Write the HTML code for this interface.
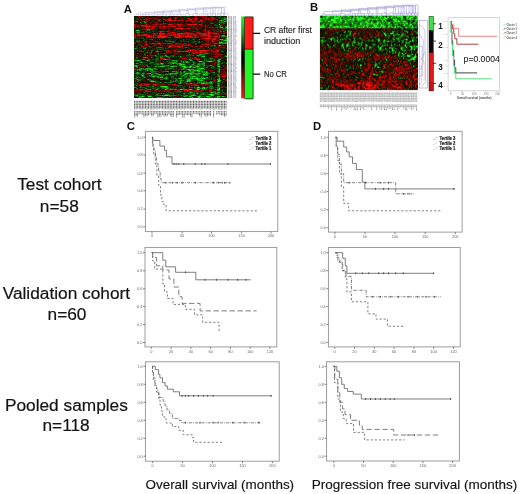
<!DOCTYPE html><html><head><meta charset="utf-8"><style>html,body{margin:0;padding:0;background:#fff}svg{display:block}text{font-family:"Liberation Sans",sans-serif}</style></head><body>
<svg width="520" height="494" viewBox="0 0 520 494" style="opacity:0.999">
<rect width="520" height="494" fill="#fff"/>
<text x="59.4" y="190.1" font-size="17.3" text-anchor="middle" fill="#141414" stroke="#141414" stroke-width="0.2">Test cohort</text>
<text x="59.3" y="211.6" font-size="17.3" text-anchor="middle" fill="#141414" stroke="#141414" stroke-width="0.2">n=58</text>
<text x="66.4" y="298.8" font-size="17.3" text-anchor="middle" fill="#141414" stroke="#141414" stroke-width="0.2">Validation cohort</text>
<text x="67.0" y="319.9" font-size="17.3" text-anchor="middle" fill="#141414" stroke="#141414" stroke-width="0.2">n=60</text>
<text x="66.4" y="410.9" font-size="17.3" text-anchor="middle" fill="#141414" stroke="#141414" stroke-width="0.2">Pooled samples</text>
<text x="66.1" y="431.2" font-size="17.3" text-anchor="middle" fill="#141414" stroke="#141414" stroke-width="0.2">n=118</text>
<text x="123.7" y="13.3" font-size="11.3" font-weight="bold" fill="#111">A</text>
<text x="310.0" y="11.2" font-size="11.3" font-weight="bold" fill="#111">B</text>
<text x="126.8" y="129.5" font-size="11.3" font-weight="bold" fill="#111">C</text>
<text x="313.1" y="129.7" font-size="11.3" font-weight="bold" fill="#111">D</text>
<text x="145.5" y="488.9" font-size="13.45" fill="#141414" stroke="#141414" stroke-width="0.15">Overall survival (months)</text>
<text x="311.8" y="489.0" font-size="13.5" fill="#141414" stroke="#141414" stroke-width="0.15">Progression free survival (months)</text>
<rect x="145.4" y="131.3" width="132.4" height="100.3" fill="#fff" stroke="#929292" stroke-width="0.9"/>
<path d="M145.4 137.2h-2" stroke="#555" stroke-width="0.7"/>
<text x="142.8" y="138.5" font-size="3.9" text-anchor="end" fill="#686868">1.0</text>
<path d="M145.4 154.9h-2" stroke="#555" stroke-width="0.7"/>
<text x="142.8" y="156.2" font-size="3.9" text-anchor="end" fill="#686868">0.8</text>
<path d="M145.4 173.2h-2" stroke="#555" stroke-width="0.7"/>
<text x="142.8" y="174.5" font-size="3.9" text-anchor="end" fill="#686868">0.6</text>
<path d="M145.4 190.8h-2" stroke="#555" stroke-width="0.7"/>
<text x="142.8" y="192.1" font-size="3.9" text-anchor="end" fill="#686868">0.4</text>
<path d="M145.4 209.1h-2" stroke="#555" stroke-width="0.7"/>
<text x="142.8" y="210.4" font-size="3.9" text-anchor="end" fill="#686868">0.2</text>
<path d="M145.4 226.8h-2" stroke="#555" stroke-width="0.7"/>
<text x="142.8" y="228.1" font-size="3.9" text-anchor="end" fill="#686868">0.0</text>
<path d="M152.0 231.6v2" stroke="#555" stroke-width="0.7"/>
<text x="152.0" y="237.4" font-size="3.9" text-anchor="middle" fill="#686868">0</text>
<path d="M182.1 231.6v2" stroke="#555" stroke-width="0.7"/>
<text x="182.1" y="237.4" font-size="3.9" text-anchor="middle" fill="#686868">50</text>
<path d="M211.5 231.6v2" stroke="#555" stroke-width="0.7"/>
<text x="211.5" y="237.4" font-size="3.9" text-anchor="middle" fill="#686868">100</text>
<path d="M241.6 231.6v2" stroke="#555" stroke-width="0.7"/>
<text x="241.6" y="237.4" font-size="3.9" text-anchor="middle" fill="#686868">150</text>
<path d="M271.0 231.6v2" stroke="#555" stroke-width="0.7"/>
<text x="271.0" y="237.4" font-size="3.9" text-anchor="middle" fill="#686868">200</text>
<path d="M249.0 139.6h2l1.2 -2.2h1.6" fill="none" stroke="#999" stroke-width="0.45"/>
<text x="255.6" y="140.0" font-size="4.5" font-weight="bold" textLength="15.8" lengthAdjust="spacingAndGlyphs" fill="#1c1c1c" stroke="#1c1c1c" stroke-width="0.2">Tertile 3</text>
<path d="M249.0 144.7h2l1.2 -2.2h1.6" fill="none" stroke="#999" stroke-width="0.45" stroke-dasharray="1.2 0.6 0.5 0.6"/>
<text x="255.6" y="145.1" font-size="4.5" font-weight="bold" textLength="15.8" lengthAdjust="spacingAndGlyphs" fill="#1c1c1c" stroke="#1c1c1c" stroke-width="0.2">Tertile 2</text>
<path d="M249.0 149.8h2l1.2 -2.2h1.6" fill="none" stroke="#999" stroke-width="0.45" stroke-dasharray="0.9 0.7"/>
<text x="255.6" y="150.2" font-size="4.5" font-weight="bold" textLength="15.8" lengthAdjust="spacingAndGlyphs" fill="#1c1c1c" stroke="#1c1c1c" stroke-width="0.2">Tertile 1</text>
<path d="M152.0 137.2H152.7V140.5H159.9V146.1H164.5V150.3H166.4V156.8H172.0V164.0H271.0" fill="none" stroke="#5e5e5e" stroke-width="0.8"/>
<path d="M173.9 163.1v1.8" stroke="#3a3a3a" stroke-width="0.9"/>
<path d="M176.2 163.1v1.8" stroke="#3a3a3a" stroke-width="0.9"/>
<path d="M178.8 163.1v1.8" stroke="#3a3a3a" stroke-width="0.9"/>
<path d="M183.8 163.1v1.8" stroke="#3a3a3a" stroke-width="0.9"/>
<path d="M195.2 163.1v1.8" stroke="#3a3a3a" stroke-width="0.9"/>
<path d="M201.7 163.1v1.8" stroke="#3a3a3a" stroke-width="0.9"/>
<path d="M205.0 163.1v1.8" stroke="#3a3a3a" stroke-width="0.9"/>
<path d="M227.9 163.1v1.8" stroke="#3a3a3a" stroke-width="0.9"/>
<path d="M270.4 163.1v1.8" stroke="#3a3a3a" stroke-width="0.9"/>
<path d="M152.0 137.2H152.7V144.4H154.0V151.0H155.3V157.5H156.6V164.0H158.6V171.2H160.2V178.8H161.2V182.7H230.5" fill="none" stroke="#5e5e5e" stroke-width="0.8" stroke-dasharray="3 1.2 0.8 1.2"/>
<path d="M165.8 181.8v1.8" stroke="#3a3a3a" stroke-width="0.9"/>
<path d="M172.3 181.8v1.8" stroke="#3a3a3a" stroke-width="0.9"/>
<path d="M177.2 181.8v1.8" stroke="#3a3a3a" stroke-width="0.9"/>
<path d="M182.1 181.8v1.8" stroke="#3a3a3a" stroke-width="0.9"/>
<path d="M195.2 181.8v1.8" stroke="#3a3a3a" stroke-width="0.9"/>
<path d="M213.2 181.8v1.8" stroke="#3a3a3a" stroke-width="0.9"/>
<path d="M218.1 181.8v1.8" stroke="#3a3a3a" stroke-width="0.9"/>
<path d="M222.0 181.8v1.8" stroke="#3a3a3a" stroke-width="0.9"/>
<path d="M224.6 181.8v1.8" stroke="#3a3a3a" stroke-width="0.9"/>
<path d="M229.8 181.8v1.8" stroke="#3a3a3a" stroke-width="0.9"/>
<path d="M152.0 137.2H152.4V146.1H153.7V154.2H155.3V164.0H156.9V175.5H158.6V185.3H160.5V195.1H161.8V201.6H163.8V204.9H166.1V210.8H258.9" fill="none" stroke="#5e5e5e" stroke-width="0.8" stroke-dasharray="2.2 1.9"/>
<rect x="328.5" y="131.3" width="133.6" height="100.8" fill="#fff" stroke="#929292" stroke-width="0.9"/>
<path d="M328.5 137.2h-2" stroke="#555" stroke-width="0.7"/>
<text x="325.9" y="138.5" font-size="3.9" text-anchor="end" fill="#686868">1.0</text>
<path d="M328.5 155.3h-2" stroke="#555" stroke-width="0.7"/>
<text x="325.9" y="156.6" font-size="3.9" text-anchor="end" fill="#686868">0.8</text>
<path d="M328.5 173.4h-2" stroke="#555" stroke-width="0.7"/>
<text x="325.9" y="174.7" font-size="3.9" text-anchor="end" fill="#686868">0.6</text>
<path d="M328.5 191.6h-2" stroke="#555" stroke-width="0.7"/>
<text x="325.9" y="192.9" font-size="3.9" text-anchor="end" fill="#686868">0.4</text>
<path d="M328.5 209.7h-2" stroke="#555" stroke-width="0.7"/>
<text x="325.9" y="211.0" font-size="3.9" text-anchor="end" fill="#686868">0.2</text>
<path d="M328.5 227.8h-2" stroke="#555" stroke-width="0.7"/>
<text x="325.9" y="229.1" font-size="3.9" text-anchor="end" fill="#686868">0.0</text>
<path d="M334.9 232.1v2" stroke="#555" stroke-width="0.7"/>
<text x="334.9" y="237.9" font-size="3.9" text-anchor="middle" fill="#686868">0</text>
<path d="M365.0 232.1v2" stroke="#555" stroke-width="0.7"/>
<text x="365.0" y="237.9" font-size="3.9" text-anchor="middle" fill="#686868">50</text>
<path d="M395.1 232.1v2" stroke="#555" stroke-width="0.7"/>
<text x="395.1" y="237.9" font-size="3.9" text-anchor="middle" fill="#686868">100</text>
<path d="M425.2 232.1v2" stroke="#555" stroke-width="0.7"/>
<text x="425.2" y="237.9" font-size="3.9" text-anchor="middle" fill="#686868">150</text>
<path d="M455.3 232.1v2" stroke="#555" stroke-width="0.7"/>
<text x="455.3" y="237.9" font-size="3.9" text-anchor="middle" fill="#686868">200</text>
<path d="M433.0 139.6h2l1.2 -2.2h1.6" fill="none" stroke="#999" stroke-width="0.45"/>
<text x="439.6" y="140.0" font-size="4.5" font-weight="bold" textLength="15.8" lengthAdjust="spacingAndGlyphs" fill="#1c1c1c" stroke="#1c1c1c" stroke-width="0.2">Tertile 3</text>
<path d="M433.0 144.7h2l1.2 -2.2h1.6" fill="none" stroke="#999" stroke-width="0.45" stroke-dasharray="1.2 0.6 0.5 0.6"/>
<text x="439.6" y="145.1" font-size="4.5" font-weight="bold" textLength="15.8" lengthAdjust="spacingAndGlyphs" fill="#1c1c1c" stroke="#1c1c1c" stroke-width="0.2">Tertile 2</text>
<path d="M433.0 149.8h2l1.2 -2.2h1.6" fill="none" stroke="#999" stroke-width="0.45" stroke-dasharray="0.9 0.7"/>
<text x="439.6" y="150.2" font-size="4.5" font-weight="bold" textLength="15.8" lengthAdjust="spacingAndGlyphs" fill="#1c1c1c" stroke="#1c1c1c" stroke-width="0.2">Tertile 1</text>
<path d="M335.5 137.2H337.1V141.2H343.7V147.0H346.6V151.9H349.2V156.8H352.5V163.4H356.4V169.6H362.3V182.0H364.9V188.9H455.2" fill="none" stroke="#5e5e5e" stroke-width="0.8"/>
<path d="M375.4 188.0v1.8" stroke="#3a3a3a" stroke-width="0.9"/>
<path d="M383.6 188.0v1.8" stroke="#3a3a3a" stroke-width="0.9"/>
<path d="M388.5 188.0v1.8" stroke="#3a3a3a" stroke-width="0.9"/>
<path d="M453.8 188.0v1.8" stroke="#3a3a3a" stroke-width="0.9"/>
<path d="M335.5 137.2H336.2V146.1H337.5V154.2H339.4V164.0H341.4V173.8H343.7V182.7H395.7H395.7V193.8H414.6" fill="none" stroke="#5e5e5e" stroke-width="0.8" stroke-dasharray="3 1.2 0.8 1.2"/>
<path d="M349.2 181.8v1.8" stroke="#3a3a3a" stroke-width="0.9"/>
<path d="M365.6 181.8v1.8" stroke="#3a3a3a" stroke-width="0.9"/>
<path d="M380.3 181.8v1.8" stroke="#3a3a3a" stroke-width="0.9"/>
<path d="M388.5 181.8v1.8" stroke="#3a3a3a" stroke-width="0.9"/>
<path d="M403.2 192.9v1.8" stroke="#3a3a3a" stroke-width="0.9"/>
<path d="M408.1 192.9v1.8" stroke="#3a3a3a" stroke-width="0.9"/>
<path d="M335.5 137.2H336.2V147.7H337.8V160.8H339.4V173.8H341.4V186.9H343.7V196.7H343.7V203.3H348.6V210.8H442.4" fill="none" stroke="#5e5e5e" stroke-width="0.8" stroke-dasharray="2.2 1.9"/>
<rect x="145.0" y="247.4" width="131.8" height="99.5" fill="#fff" stroke="#929292" stroke-width="0.9"/>
<path d="M145.0 252.7h-2" stroke="#555" stroke-width="0.7"/>
<text x="142.4" y="254.0" font-size="3.9" text-anchor="end" fill="#686868">1.0</text>
<path d="M145.0 270.7h-2" stroke="#555" stroke-width="0.7"/>
<text x="142.4" y="272.0" font-size="3.9" text-anchor="end" fill="#686868">0.8</text>
<path d="M145.0 288.7h-2" stroke="#555" stroke-width="0.7"/>
<text x="142.4" y="290.0" font-size="3.9" text-anchor="end" fill="#686868">0.6</text>
<path d="M145.0 306.6h-2" stroke="#555" stroke-width="0.7"/>
<text x="142.4" y="307.9" font-size="3.9" text-anchor="end" fill="#686868">0.4</text>
<path d="M145.0 324.6h-2" stroke="#555" stroke-width="0.7"/>
<text x="142.4" y="325.9" font-size="3.9" text-anchor="end" fill="#686868">0.2</text>
<path d="M145.0 342.6h-2" stroke="#555" stroke-width="0.7"/>
<text x="142.4" y="343.9" font-size="3.9" text-anchor="end" fill="#686868">0.0</text>
<path d="M151.3 346.9v2" stroke="#555" stroke-width="0.7"/>
<text x="151.3" y="352.7" font-size="3.9" text-anchor="middle" fill="#686868">0</text>
<path d="M171.1 346.9v2" stroke="#555" stroke-width="0.7"/>
<text x="171.1" y="352.7" font-size="3.9" text-anchor="middle" fill="#686868">20</text>
<path d="M190.9 346.9v2" stroke="#555" stroke-width="0.7"/>
<text x="190.9" y="352.7" font-size="3.9" text-anchor="middle" fill="#686868">40</text>
<path d="M210.7 346.9v2" stroke="#555" stroke-width="0.7"/>
<text x="210.7" y="352.7" font-size="3.9" text-anchor="middle" fill="#686868">60</text>
<path d="M230.4 346.9v2" stroke="#555" stroke-width="0.7"/>
<text x="230.4" y="352.7" font-size="3.9" text-anchor="middle" fill="#686868">80</text>
<path d="M250.2 346.9v2" stroke="#555" stroke-width="0.7"/>
<text x="250.2" y="352.7" font-size="3.9" text-anchor="middle" fill="#686868">100</text>
<path d="M270.0 346.9v2" stroke="#555" stroke-width="0.7"/>
<text x="270.0" y="352.7" font-size="3.9" text-anchor="middle" fill="#686868">120</text>
<path d="M151.7 252.7H162.8V260.2H165.8V266.8H175.6V272.3H195.8V279.8H250.8" fill="none" stroke="#5e5e5e" stroke-width="0.8"/>
<path d="M185.4 271.4v1.8" stroke="#3a3a3a" stroke-width="0.9"/>
<path d="M205.0 278.9v1.8" stroke="#3a3a3a" stroke-width="0.9"/>
<path d="M216.4 278.9v1.8" stroke="#3a3a3a" stroke-width="0.9"/>
<path d="M227.9 278.9v1.8" stroke="#3a3a3a" stroke-width="0.9"/>
<path d="M237.7 278.9v1.8" stroke="#3a3a3a" stroke-width="0.9"/>
<path d="M245.9 278.9v1.8" stroke="#3a3a3a" stroke-width="0.9"/>
<path d="M151.7 252.7H152.7V257.6H156.6V265.8H162.8V270.0H169.0V278.9H173.9V287.0H178.8V296.8H182.1V303.4H200.1V310.9H256.7" fill="none" stroke="#5e5e5e" stroke-width="0.8" stroke-dasharray="5.5 2.5"/>
<path d="M151.7 252.7H152.7V260.9H154.7V269.1H162.8V283.8H164.5V291.9H167.4V298.5H173.0V304.4H185.4V309.3H194.5V314.8H202.7V322.3H218.1H219.1V332.8" fill="none" stroke="#5e5e5e" stroke-width="0.8" stroke-dasharray="2.2 1.9"/>
<rect x="328.4" y="247.5" width="131.8" height="99.4" fill="#fff" stroke="#929292" stroke-width="0.9"/>
<path d="M328.4 252.7h-2" stroke="#555" stroke-width="0.7"/>
<text x="325.8" y="254.0" font-size="3.9" text-anchor="end" fill="#686868">1.0</text>
<path d="M328.4 270.7h-2" stroke="#555" stroke-width="0.7"/>
<text x="325.8" y="272.0" font-size="3.9" text-anchor="end" fill="#686868">0.8</text>
<path d="M328.4 288.7h-2" stroke="#555" stroke-width="0.7"/>
<text x="325.8" y="290.0" font-size="3.9" text-anchor="end" fill="#686868">0.6</text>
<path d="M328.4 306.6h-2" stroke="#555" stroke-width="0.7"/>
<text x="325.8" y="307.9" font-size="3.9" text-anchor="end" fill="#686868">0.4</text>
<path d="M328.4 324.6h-2" stroke="#555" stroke-width="0.7"/>
<text x="325.8" y="325.9" font-size="3.9" text-anchor="end" fill="#686868">0.2</text>
<path d="M328.4 342.6h-2" stroke="#555" stroke-width="0.7"/>
<text x="325.8" y="343.9" font-size="3.9" text-anchor="end" fill="#686868">0.0</text>
<path d="M334.7 346.9v2" stroke="#555" stroke-width="0.7"/>
<text x="334.7" y="352.7" font-size="3.9" text-anchor="middle" fill="#686868">0</text>
<path d="M354.5 346.9v2" stroke="#555" stroke-width="0.7"/>
<text x="354.5" y="352.7" font-size="3.9" text-anchor="middle" fill="#686868">20</text>
<path d="M374.3 346.9v2" stroke="#555" stroke-width="0.7"/>
<text x="374.3" y="352.7" font-size="3.9" text-anchor="middle" fill="#686868">40</text>
<path d="M394.1 346.9v2" stroke="#555" stroke-width="0.7"/>
<text x="394.1" y="352.7" font-size="3.9" text-anchor="middle" fill="#686868">60</text>
<path d="M413.9 346.9v2" stroke="#555" stroke-width="0.7"/>
<text x="413.9" y="352.7" font-size="3.9" text-anchor="middle" fill="#686868">80</text>
<path d="M433.7 346.9v2" stroke="#555" stroke-width="0.7"/>
<text x="433.7" y="352.7" font-size="3.9" text-anchor="middle" fill="#686868">100</text>
<path d="M453.5 346.9v2" stroke="#555" stroke-width="0.7"/>
<text x="453.5" y="352.7" font-size="3.9" text-anchor="middle" fill="#686868">120</text>
<path d="M335.2 252.7H342.7V258.3H345.3V265.8H346.9V273.3H434.2" fill="none" stroke="#5e5e5e" stroke-width="0.8"/>
<path d="M355.8 272.4v1.8" stroke="#3a3a3a" stroke-width="0.9"/>
<path d="M362.3 272.4v1.8" stroke="#3a3a3a" stroke-width="0.9"/>
<path d="M368.8 272.4v1.8" stroke="#3a3a3a" stroke-width="0.9"/>
<path d="M378.7 272.4v1.8" stroke="#3a3a3a" stroke-width="0.9"/>
<path d="M383.6 272.4v1.8" stroke="#3a3a3a" stroke-width="0.9"/>
<path d="M388.5 272.4v1.8" stroke="#3a3a3a" stroke-width="0.9"/>
<path d="M395.7 272.4v1.8" stroke="#3a3a3a" stroke-width="0.9"/>
<path d="M403.2 272.4v1.8" stroke="#3a3a3a" stroke-width="0.9"/>
<path d="M433.6 272.4v1.8" stroke="#3a3a3a" stroke-width="0.9"/>
<path d="M335.2 252.7H336.8V257.6H339.4V262.5H342.7V270.7H346.0V276.6H351.5V290.3H366.2V296.8H440.8" fill="none" stroke="#5e5e5e" stroke-width="0.8" stroke-dasharray="3 1.2 0.8 1.2"/>
<path d="M372.1 295.9v1.8" stroke="#3a3a3a" stroke-width="0.9"/>
<path d="M380.3 295.9v1.8" stroke="#3a3a3a" stroke-width="0.9"/>
<path d="M390.1 295.9v1.8" stroke="#3a3a3a" stroke-width="0.9"/>
<path d="M398.3 295.9v1.8" stroke="#3a3a3a" stroke-width="0.9"/>
<path d="M408.1 295.9v1.8" stroke="#3a3a3a" stroke-width="0.9"/>
<path d="M417.9 295.9v1.8" stroke="#3a3a3a" stroke-width="0.9"/>
<path d="M426.1 295.9v1.8" stroke="#3a3a3a" stroke-width="0.9"/>
<path d="M434.2 295.9v1.8" stroke="#3a3a3a" stroke-width="0.9"/>
<path d="M335.2 252.7H337.8V260.9H342.0V270.7H345.3V278.9H346.9V291.9H351.5V301.8H367.9V313.8H376.0V319.1H387.5V326.3H404.8" fill="none" stroke="#5e5e5e" stroke-width="0.8" stroke-dasharray="2.2 1.9"/>
<rect x="145.4" y="361.8" width="133.8" height="99.4" fill="#fff" stroke="#929292" stroke-width="0.9"/>
<path d="M145.4 366.3h-2" stroke="#555" stroke-width="0.7"/>
<text x="142.8" y="367.6" font-size="3.9" text-anchor="end" fill="#686868">1.0</text>
<path d="M145.4 384.3h-2" stroke="#555" stroke-width="0.7"/>
<text x="142.8" y="385.6" font-size="3.9" text-anchor="end" fill="#686868">0.8</text>
<path d="M145.4 402.3h-2" stroke="#555" stroke-width="0.7"/>
<text x="142.8" y="403.6" font-size="3.9" text-anchor="end" fill="#686868">0.6</text>
<path d="M145.4 420.3h-2" stroke="#555" stroke-width="0.7"/>
<text x="142.8" y="421.6" font-size="3.9" text-anchor="end" fill="#686868">0.4</text>
<path d="M145.4 438.3h-2" stroke="#555" stroke-width="0.7"/>
<text x="142.8" y="439.6" font-size="3.9" text-anchor="end" fill="#686868">0.2</text>
<path d="M145.4 456.2h-2" stroke="#555" stroke-width="0.7"/>
<text x="142.8" y="457.5" font-size="3.9" text-anchor="end" fill="#686868">0.0</text>
<path d="M152.6 461.2v2" stroke="#555" stroke-width="0.7"/>
<text x="152.6" y="467.0" font-size="3.9" text-anchor="middle" fill="#686868">0</text>
<path d="M182.6 461.2v2" stroke="#555" stroke-width="0.7"/>
<text x="182.6" y="467.0" font-size="3.9" text-anchor="middle" fill="#686868">50</text>
<path d="M212.5 461.2v2" stroke="#555" stroke-width="0.7"/>
<text x="212.5" y="467.0" font-size="3.9" text-anchor="middle" fill="#686868">100</text>
<path d="M242.5 461.2v2" stroke="#555" stroke-width="0.7"/>
<text x="242.5" y="467.0" font-size="3.9" text-anchor="middle" fill="#686868">150</text>
<path d="M272.4 461.2v2" stroke="#555" stroke-width="0.7"/>
<text x="272.4" y="467.0" font-size="3.9" text-anchor="middle" fill="#686868">200</text>
<path d="M152.0 366.3H155.3V369.6H158.6V374.5H159.9V377.8H162.5V382.7H165.1V386.0H167.4V389.2H173.3V391.8H179.5V395.8H272.0" fill="none" stroke="#5e5e5e" stroke-width="0.8"/>
<path d="M182.1 394.9v1.8" stroke="#3a3a3a" stroke-width="0.9"/>
<path d="M185.4 394.9v1.8" stroke="#3a3a3a" stroke-width="0.9"/>
<path d="M188.7 394.9v1.8" stroke="#3a3a3a" stroke-width="0.9"/>
<path d="M193.6 394.9v1.8" stroke="#3a3a3a" stroke-width="0.9"/>
<path d="M198.5 394.9v1.8" stroke="#3a3a3a" stroke-width="0.9"/>
<path d="M203.4 394.9v1.8" stroke="#3a3a3a" stroke-width="0.9"/>
<path d="M207.6 394.9v1.8" stroke="#3a3a3a" stroke-width="0.9"/>
<path d="M213.2 394.9v1.8" stroke="#3a3a3a" stroke-width="0.9"/>
<path d="M271.0 394.9v1.8" stroke="#3a3a3a" stroke-width="0.9"/>
<path d="M152.3 366.4H152.6V372.0H153.5V378.0H155.0V384.0H156.5V389.0H158.0V393.0H159.6V397.5H163.2V401.0H165.0V406.0H167.0V410.0H169.6V413.5H172.4V418.4H178.8V420.5H181.5V422.8H260.0" fill="none" stroke="#5e5e5e" stroke-width="0.8" stroke-dasharray="3 1.2 0.8 1.2"/>
<path d="M185.4 421.7v1.8" stroke="#3a3a3a" stroke-width="0.9"/>
<path d="M200.1 421.7v1.8" stroke="#3a3a3a" stroke-width="0.9"/>
<path d="M213.2 421.7v1.8" stroke="#3a3a3a" stroke-width="0.9"/>
<path d="M218.1 421.7v1.8" stroke="#3a3a3a" stroke-width="0.9"/>
<path d="M232.8 421.7v1.8" stroke="#3a3a3a" stroke-width="0.9"/>
<path d="M244.2 421.7v1.8" stroke="#3a3a3a" stroke-width="0.9"/>
<path d="M258.9 421.7v1.8" stroke="#3a3a3a" stroke-width="0.9"/>
<path d="M152.3 366.4H152.5V374.0H153.3V380.0H154.8V386.0H156.5V392.0H158.5V398.0H160.0V405.0H161.5V411.0H162.6V417.0H166.0V423.0H172.4V426.6H178.8V430.3H183.3V434.8H192.4V437.5H193.6V442.3H223.0" fill="none" stroke="#5e5e5e" stroke-width="0.8" stroke-dasharray="2.2 1.9"/>
<rect x="326.6" y="361.8" width="132.8" height="99.2" fill="#fff" stroke="#929292" stroke-width="0.9"/>
<path d="M326.6 366.3h-2" stroke="#555" stroke-width="0.7"/>
<text x="324.0" y="367.6" font-size="3.9" text-anchor="end" fill="#686868">1.0</text>
<path d="M326.6 384.3h-2" stroke="#555" stroke-width="0.7"/>
<text x="324.0" y="385.6" font-size="3.9" text-anchor="end" fill="#686868">0.8</text>
<path d="M326.6 402.3h-2" stroke="#555" stroke-width="0.7"/>
<text x="324.0" y="403.6" font-size="3.9" text-anchor="end" fill="#686868">0.6</text>
<path d="M326.6 420.3h-2" stroke="#555" stroke-width="0.7"/>
<text x="324.0" y="421.6" font-size="3.9" text-anchor="end" fill="#686868">0.4</text>
<path d="M326.6 438.3h-2" stroke="#555" stroke-width="0.7"/>
<text x="324.0" y="439.6" font-size="3.9" text-anchor="end" fill="#686868">0.2</text>
<path d="M326.6 456.2h-2" stroke="#555" stroke-width="0.7"/>
<text x="324.0" y="457.5" font-size="3.9" text-anchor="end" fill="#686868">0.0</text>
<path d="M333.8 461.0v2" stroke="#555" stroke-width="0.7"/>
<text x="333.8" y="466.8" font-size="3.9" text-anchor="middle" fill="#686868">0</text>
<path d="M363.5 461.0v2" stroke="#555" stroke-width="0.7"/>
<text x="363.5" y="466.8" font-size="3.9" text-anchor="middle" fill="#686868">50</text>
<path d="M393.2 461.0v2" stroke="#555" stroke-width="0.7"/>
<text x="393.2" y="466.8" font-size="3.9" text-anchor="middle" fill="#686868">100</text>
<path d="M422.9 461.0v2" stroke="#555" stroke-width="0.7"/>
<text x="422.9" y="466.8" font-size="3.9" text-anchor="middle" fill="#686868">150</text>
<path d="M452.6 461.0v2" stroke="#555" stroke-width="0.7"/>
<text x="452.6" y="466.8" font-size="3.9" text-anchor="middle" fill="#686868">200</text>
<path d="M333.5 366.3H336.8V371.2H339.4V377.8H341.7V384.3H344.3V388.6H347.6V391.5H353.2V394.1H361.3V399.0H451.2" fill="none" stroke="#5e5e5e" stroke-width="0.8"/>
<path d="M365.6 398.1v1.8" stroke="#3a3a3a" stroke-width="0.9"/>
<path d="M370.5 398.1v1.8" stroke="#3a3a3a" stroke-width="0.9"/>
<path d="M375.4 398.1v1.8" stroke="#3a3a3a" stroke-width="0.9"/>
<path d="M380.3 398.1v1.8" stroke="#3a3a3a" stroke-width="0.9"/>
<path d="M385.2 398.1v1.8" stroke="#3a3a3a" stroke-width="0.9"/>
<path d="M390.1 398.1v1.8" stroke="#3a3a3a" stroke-width="0.9"/>
<path d="M394.3 398.1v1.8" stroke="#3a3a3a" stroke-width="0.9"/>
<path d="M450.6 398.1v1.8" stroke="#3a3a3a" stroke-width="0.9"/>
<path d="M333.5 366.3H334.8V379.4H337.8V392.5H339.8V402.3H342.4V408.8H345.0V414.7H350.5V420.3H359.4V425.2H362.3V429.4H393.7V435.0H439.1" fill="none" stroke="#5e5e5e" stroke-width="0.8" stroke-dasharray="5.5 2.5"/>
<path d="M408.1 434.1v1.8" stroke="#3a3a3a" stroke-width="0.9"/>
<path d="M414.6 434.1v1.8" stroke="#3a3a3a" stroke-width="0.9"/>
<path d="M333.5 366.3H334.5V382.7H337.8V399.0H340.4V412.1H343.3V418.7H346.3V423.6H353.5V432.4H364.6V439.9H404.8" fill="none" stroke="#5e5e5e" stroke-width="0.8" stroke-dasharray="2.2 1.9"/>
<defs><filter id="bl" x="-2%" y="-2%" width="104%" height="104%"><feGaussianBlur stdDeviation="0.5"/></filter><linearGradient id="gA" x1="0" y1="0" x2="0" y2="1"><stop offset="0" stop-color="#2cec2c"/><stop offset="0.2" stop-color="#1e9a1a"/><stop offset="0.46" stop-color="#0a0a05"/><stop offset="0.56" stop-color="#0a0505"/><stop offset="0.8" stop-color="#9a1010"/><stop offset="1" stop-color="#f81818"/></linearGradient><clipPath id="cA"><rect x="134" y="16" width="93" height="82"/></clipPath><clipPath id="cB"><rect x="319.8" y="15.6" width="98.2" height="74.6"/></clipPath></defs>
<g filter="url(#bl)" clip-path="url(#cA)"><rect x="134.0" y="16.0" width="93.0" height="82.0" fill="#140a04"/>
<path d="M134.00 16.50h1.00M154.00 16.50h1.00M175.00 16.50h1.00M192.00 16.50h1.00M209.00 16.50h1.00M215.00 16.50h1.00M145.00 17.50h1.00M164.00 17.50h1.00M187.00 17.50h1.00M191.00 17.50h1.00M193.00 17.50h1.00M206.00 17.50h1.00M209.00 17.50h1.00M139.00 18.50h1.00M142.00 18.50h1.00M144.00 18.50h1.00M157.00 18.50h2.00M160.00 18.50h2.00M172.00 18.50h1.00M200.00 18.50h1.00M217.00 18.50h1.00M134.00 19.50h1.00M141.00 19.50h1.00M151.00 19.50h1.00M186.00 19.50h1.00M199.00 19.50h1.00M135.00 20.50h1.00M143.00 20.50h1.00M149.00 20.50h1.00M154.00 20.50h1.00M156.00 20.50h1.00M139.00 21.50h1.00M142.00 21.50h1.00M145.00 21.50h1.00M153.00 21.50h1.00M156.00 21.50h1.00M167.00 21.50h1.00M169.00 21.50h2.00M173.00 21.50h1.00M186.00 21.50h1.00M206.00 21.50h1.00M164.00 22.50h3.00M168.00 22.50h1.00M176.00 22.50h1.00M190.00 22.50h2.00M200.00 22.50h1.00M135.00 23.50h2.00M139.00 23.50h1.00M149.00 23.50h1.00M172.00 23.50h1.00M179.00 23.50h1.00M185.00 23.50h1.00M188.00 23.50h1.00M191.00 23.50h1.00M199.00 23.50h1.00M208.00 23.50h1.00M150.00 24.50h1.00M166.00 24.50h1.00M213.00 24.50h1.00M162.00 25.50h1.00M165.00 25.50h2.00M171.00 25.50h2.00M181.00 25.50h1.00M203.00 25.50h1.00M140.00 26.50h1.00M157.00 26.50h1.00M185.00 26.50h1.00M187.00 26.50h1.00M195.00 26.50h1.00M197.00 26.50h1.00M199.00 26.50h1.00M215.00 26.50h1.00M224.00 26.50h1.00M154.00 27.50h1.00M169.00 27.50h1.00M182.00 27.50h1.00M201.00 27.50h1.00M206.00 27.50h1.00M137.00 28.50h2.00M158.00 28.50h1.00M203.00 28.50h1.00M207.00 28.50h1.00M209.00 28.50h1.00M134.00 29.50h1.00M137.00 29.50h1.00M153.00 29.50h1.00M161.00 29.50h1.00M180.00 29.50h1.00M191.00 29.50h1.00M208.00 29.50h1.00M210.00 29.50h1.00M158.00 30.50h1.00M164.00 30.50h1.00M179.00 30.50h1.00M187.00 30.50h2.00M212.00 30.50h1.00M142.00 31.50h1.00M181.00 31.50h1.00M187.00 31.50h2.00M200.00 31.50h1.00M210.00 31.50h1.00M152.00 32.50h1.00M194.00 32.50h1.00M202.00 32.50h2.00M222.00 32.50h1.00M148.00 33.50h1.00M197.00 33.50h1.00M219.00 33.50h1.00M226.00 33.50h1.00M221.00 34.50h1.00M224.00 34.50h2.00M215.00 35.50h1.00M139.00 36.50h1.00M144.00 36.50h1.00M173.00 37.50h1.00M203.00 37.50h1.00M209.00 37.50h1.00M220.00 37.50h1.00M224.00 37.50h1.00M154.00 38.50h1.00M174.00 38.50h1.00M182.00 38.50h1.00M187.00 38.50h1.00M198.00 38.50h1.00M224.00 38.50h1.00M140.00 39.50h2.00M162.00 39.50h1.00M166.00 39.50h1.00M178.00 39.50h2.00M185.00 39.50h1.00M190.00 39.50h1.00M196.00 39.50h1.00M202.00 39.50h1.00M204.00 39.50h1.00M142.00 40.50h1.00M147.00 40.50h3.00M176.00 40.50h2.00M187.00 40.50h2.00M196.00 40.50h1.00M200.00 40.50h1.00M220.00 40.50h1.00M153.00 41.50h1.00M160.00 41.50h2.00M176.00 41.50h1.00M178.00 41.50h1.00M190.00 41.50h1.00M192.00 41.50h1.00M134.00 42.50h1.00M136.00 42.50h1.00M148.00 42.50h1.00M154.00 42.50h3.00M169.00 42.50h2.00M176.00 42.50h1.00M204.00 42.50h1.00M217.00 42.50h1.00M137.00 43.50h1.00M140.00 43.50h1.00M173.00 43.50h1.00M187.00 43.50h1.00M200.00 43.50h1.00M204.00 43.50h1.00M136.00 44.50h1.00M168.00 44.50h1.00M184.00 44.50h1.00M192.00 44.50h1.00M194.00 44.50h1.00M197.00 44.50h2.00M218.00 44.50h1.00M226.00 44.50h1.00M135.00 45.50h1.00M137.00 45.50h1.00M151.00 45.50h1.00M180.00 45.50h1.00M217.00 45.50h1.00M156.00 46.50h2.00M161.00 46.50h1.00M163.00 46.50h1.00M187.00 46.50h1.00M189.00 46.50h1.00M135.00 47.50h1.00M147.00 47.50h1.00M153.00 47.50h1.00M172.00 47.50h1.00M174.00 47.50h1.00M190.00 47.50h2.00M193.00 47.50h2.00M197.00 47.50h1.00M202.00 47.50h1.00M210.00 47.50h4.00M138.00 48.50h1.00M141.00 48.50h1.00M147.00 48.50h1.00M151.00 48.50h1.00M186.00 48.50h1.00M191.00 48.50h1.00M193.00 48.50h1.00M212.00 48.50h1.00M134.00 49.50h1.00M136.00 49.50h1.00M145.00 49.50h1.00M149.00 49.50h2.00M157.00 49.50h1.00M164.00 49.50h2.00M169.00 49.50h1.00M172.00 49.50h1.00M195.00 49.50h1.00M138.00 50.50h1.00M142.00 50.50h1.00M159.00 50.50h1.00M182.00 50.50h2.00M220.00 50.50h1.00M226.00 50.50h1.00M144.00 51.50h2.00M148.00 51.50h1.00M153.00 51.50h1.00M162.00 51.50h2.00M192.00 51.50h2.00M209.00 51.50h2.00M135.00 52.50h2.00M152.00 52.50h2.00M158.00 52.50h1.00M161.00 52.50h2.00M165.00 52.50h1.00M183.00 52.50h2.00M219.00 52.50h2.00M225.00 52.50h1.00M141.00 53.50h2.00M154.00 53.50h1.00M171.00 53.50h2.00M181.00 53.50h1.00M183.00 53.50h2.00M187.00 53.50h2.00M210.00 53.50h1.00M213.00 53.50h1.00M215.00 53.50h1.00M220.00 53.50h1.00M222.00 53.50h1.00M140.00 54.50h1.00M142.00 54.50h1.00M146.00 54.50h2.00M153.00 54.50h1.00M167.00 54.50h1.00M169.00 54.50h1.00M171.00 54.50h1.00M182.00 54.50h1.00M192.00 54.50h1.00M210.00 54.50h1.00M138.00 55.50h1.00M140.00 55.50h1.00M143.00 55.50h1.00M168.00 55.50h1.00M181.00 55.50h1.00M185.00 55.50h1.00M194.00 55.50h1.00M206.00 55.50h1.00M208.00 55.50h1.00M211.00 55.50h2.00M205.00 56.50h1.00M140.00 57.50h2.00M148.00 57.50h1.00M154.00 57.50h1.00M172.00 57.50h1.00M175.00 57.50h1.00M197.00 57.50h1.00M207.00 57.50h1.00M220.00 57.50h1.00M226.00 57.50h1.00M139.00 58.50h1.00M150.00 58.50h1.00M159.00 58.50h1.00M173.00 58.50h1.00M177.00 58.50h1.00M205.00 58.50h1.00M171.00 59.50h1.00M177.00 59.50h1.00M181.00 59.50h1.00M216.00 59.50h1.00M224.00 59.50h1.00M144.00 60.50h1.00M153.00 60.50h1.00M163.00 60.50h3.00M188.00 60.50h1.00M193.00 60.50h1.00M224.00 60.50h1.00M144.00 61.50h1.00M149.00 61.50h1.00M162.00 61.50h1.00M179.00 61.50h1.00M190.00 61.50h1.00M194.00 61.50h1.00M216.00 61.50h1.00M167.00 62.50h1.00M177.00 62.50h1.00M180.00 62.50h1.00M140.00 63.50h1.00M185.00 63.50h1.00M209.00 63.50h1.00M216.00 63.50h1.00M135.00 64.50h1.00M143.00 64.50h1.00M148.00 64.50h2.00M167.00 64.50h1.00M223.00 64.50h1.00M158.00 65.50h1.00M171.00 65.50h1.00M186.00 65.50h2.00M202.00 65.50h1.00M216.00 65.50h1.00M194.00 66.50h1.00M221.00 66.50h2.00M144.00 67.50h1.00M153.00 67.50h1.00M156.00 67.50h1.00M158.00 67.50h2.00M161.00 67.50h2.00M164.00 67.50h3.00M170.00 67.50h1.00M177.00 67.50h1.00M210.00 67.50h1.00M157.00 68.50h1.00M178.00 68.50h1.00M191.00 68.50h1.00M220.00 68.50h1.00M223.00 68.50h1.00M158.00 69.50h1.00M212.00 69.50h1.00M225.00 69.50h1.00M156.00 70.50h1.00M172.00 70.50h2.00M183.00 70.50h1.00M203.00 70.50h1.00M207.00 70.50h1.00M220.00 70.50h1.00M137.00 71.50h1.00M140.00 71.50h1.00M169.00 71.50h1.00M182.00 71.50h1.00M208.00 71.50h2.00M211.00 71.50h1.00M216.00 71.50h1.00M222.00 71.50h1.00M149.00 72.50h1.00M157.00 72.50h1.00M166.00 72.50h2.00M170.00 72.50h2.00M196.00 72.50h1.00M159.00 73.50h1.00M167.00 73.50h1.00M179.00 73.50h1.00M214.00 73.50h1.00M221.00 73.50h1.00M178.00 74.50h1.00M210.00 74.50h1.00M136.00 75.50h1.00M140.00 75.50h1.00M144.00 75.50h2.00M148.00 75.50h1.00M157.00 75.50h1.00M170.00 75.50h2.00M211.00 75.50h1.00M214.00 75.50h3.00M224.00 75.50h1.00M140.00 76.50h1.00M145.00 76.50h1.00M164.00 76.50h1.00M174.00 76.50h1.00M177.00 76.50h1.00M207.00 76.50h1.00M141.00 77.50h1.00M151.00 77.50h1.00M168.00 77.50h1.00M183.00 77.50h1.00M200.00 77.50h1.00M217.00 77.50h1.00M138.00 78.50h1.00M148.00 78.50h1.00M215.00 78.50h1.00M145.00 79.50h1.00M151.00 79.50h2.00M159.00 79.50h1.00M169.00 79.50h1.00M205.00 79.50h1.00M146.00 80.50h1.00M160.00 80.50h1.00M162.00 80.50h1.00M204.00 80.50h1.00M210.00 80.50h1.00M221.00 80.50h1.00M142.00 81.50h2.00M148.00 81.50h1.00M159.00 81.50h1.00M162.00 81.50h1.00M164.00 81.50h1.00M166.00 81.50h1.00M207.00 81.50h1.00M143.00 82.50h1.00M145.00 82.50h1.00M147.00 82.50h1.00M149.00 82.50h1.00M174.00 82.50h1.00M195.00 82.50h1.00M221.00 82.50h1.00M224.00 82.50h1.00M226.00 82.50h1.00M154.00 83.50h1.00M169.00 83.50h1.00M176.00 83.50h1.00M225.00 83.50h1.00M198.00 84.50h1.00M209.00 84.50h1.00M168.00 85.50h1.00M189.00 85.50h1.00M213.00 85.50h1.00M135.00 86.50h1.00M138.00 86.50h1.00M145.00 86.50h1.00M155.00 86.50h1.00M157.00 86.50h1.00M171.00 86.50h2.00M186.00 86.50h1.00M195.00 86.50h1.00M204.00 86.50h1.00M215.00 86.50h1.00M137.00 87.50h1.00M177.00 87.50h1.00M185.00 87.50h1.00M187.00 87.50h1.00M143.00 88.50h1.00M179.00 88.50h1.00M185.00 88.50h1.00M224.00 88.50h1.00M135.00 89.50h1.00M221.00 89.50h1.00M223.00 89.50h1.00M173.00 90.50h1.00M204.00 90.50h1.00M225.00 90.50h1.00M137.00 91.50h1.00M156.00 91.50h1.00M169.00 91.50h1.00M205.00 91.50h2.00M221.00 91.50h2.00M142.00 92.50h1.00M162.00 92.50h1.00M174.00 92.50h1.00M179.00 92.50h1.00M208.00 92.50h1.00M224.00 92.50h1.00M141.00 93.50h2.00M150.00 93.50h1.00M166.00 93.50h1.00M178.00 93.50h1.00M181.00 93.50h1.00M213.00 93.50h1.00M149.00 94.50h1.00M154.00 94.50h1.00M160.00 94.50h2.00M163.00 94.50h1.00M171.00 94.50h1.00M175.00 94.50h1.00M181.00 94.50h1.00M141.00 95.50h1.00M146.00 95.50h1.00M152.00 95.50h1.00M154.00 95.50h1.00M202.00 95.50h1.00M209.00 95.50h1.00M225.00 95.50h1.00M161.00 96.50h1.00M168.00 96.50h1.00M180.00 96.50h1.00M182.00 96.50h1.00M136.00 97.50h1.00M147.00 97.50h1.00M164.00 97.50h1.00M169.00 97.50h1.00M172.00 97.50h1.00M178.00 97.50h1.00M189.00 97.50h1.00M223.00 97.50h1.00" stroke="#0e0e04" stroke-width="1.05" fill="none"/>
<path d="M135.00 16.50h1.00M151.00 16.50h3.00M161.00 16.50h2.00M168.00 16.50h2.00M173.00 16.50h1.00M179.00 16.50h1.00M190.00 16.50h1.00M193.00 16.50h1.00M217.00 16.50h1.00M223.00 16.50h1.00M134.00 17.50h2.00M140.00 17.50h1.00M150.00 17.50h2.00M161.00 17.50h1.00M165.00 17.50h1.00M167.00 17.50h2.00M172.00 17.50h1.00M180.00 17.50h1.00M182.00 17.50h1.00M186.00 17.50h1.00M204.00 17.50h1.00M207.00 17.50h1.00M135.00 18.50h1.00M166.00 18.50h1.00M178.00 18.50h3.00M186.00 18.50h1.00M215.00 18.50h2.00M148.00 19.50h1.00M173.00 19.50h1.00M183.00 19.50h1.00M187.00 19.50h1.00M150.00 20.50h2.00M155.00 20.50h1.00M162.00 20.50h1.00M198.00 20.50h1.00M207.00 20.50h1.00M224.00 20.50h1.00M150.00 21.50h1.00M159.00 21.50h1.00M161.00 21.50h2.00M164.00 21.50h1.00M171.00 21.50h1.00M181.00 21.50h1.00M184.00 21.50h1.00M188.00 21.50h1.00M208.00 21.50h1.00M214.00 21.50h3.00M218.00 21.50h1.00M139.00 22.50h1.00M147.00 22.50h1.00M161.00 22.50h3.00M167.00 22.50h1.00M171.00 22.50h1.00M174.00 22.50h1.00M189.00 22.50h1.00M196.00 22.50h1.00M203.00 22.50h1.00M208.00 22.50h2.00M215.00 22.50h2.00M152.00 23.50h3.00M158.00 23.50h1.00M167.00 23.50h1.00M176.00 23.50h1.00M182.00 23.50h1.00M189.00 23.50h2.00M204.00 23.50h4.00M218.00 23.50h2.00M149.00 24.50h1.00M207.00 24.50h1.00M226.00 24.50h1.00M138.00 25.50h1.00M158.00 25.50h1.00M210.00 25.50h1.00M184.00 26.50h1.00M209.00 26.50h1.00M212.00 26.50h1.00M221.00 26.50h1.00M141.00 27.50h1.00M143.00 27.50h1.00M146.00 27.50h1.00M155.00 27.50h2.00M163.00 27.50h1.00M168.00 27.50h1.00M170.00 27.50h1.00M173.00 27.50h1.00M183.00 27.50h2.00M190.00 27.50h1.00M193.00 27.50h1.00M155.00 28.50h2.00M170.00 28.50h2.00M136.00 29.50h1.00M152.00 29.50h1.00M157.00 29.50h1.00M165.00 29.50h3.00M184.00 29.50h1.00M187.00 29.50h2.00M190.00 29.50h1.00M193.00 29.50h1.00M196.00 29.50h1.00M199.00 29.50h1.00M203.00 29.50h1.00M209.00 29.50h1.00M134.00 30.50h1.00M140.00 30.50h1.00M154.00 30.50h1.00M166.00 30.50h1.00M176.00 30.50h1.00M178.00 30.50h1.00M180.00 30.50h1.00M195.00 30.50h1.00M216.00 30.50h1.00M219.00 30.50h1.00M222.00 30.50h1.00M147.00 31.50h1.00M149.00 31.50h1.00M175.00 31.50h1.00M184.00 31.50h1.00M190.00 31.50h1.00M199.00 31.50h1.00M202.00 31.50h1.00M211.00 31.50h1.00M134.00 32.50h1.00M145.00 32.50h2.00M151.00 32.50h1.00M156.00 32.50h2.00M180.00 32.50h1.00M182.00 32.50h2.00M201.00 32.50h1.00M223.00 32.50h1.00M221.00 33.50h1.00M225.00 33.50h1.00M219.00 34.50h1.00M222.00 34.50h1.00M191.00 35.50h1.00M197.00 35.50h2.00M218.00 35.50h1.00M170.00 36.50h3.00M200.00 37.50h1.00M210.00 37.50h1.00M212.00 37.50h1.00M222.00 37.50h1.00M138.00 38.50h1.00M140.00 38.50h1.00M144.00 38.50h2.00M148.00 38.50h1.00M156.00 38.50h1.00M160.00 38.50h1.00M163.00 38.50h2.00M168.00 38.50h2.00M172.00 38.50h2.00M175.00 38.50h1.00M177.00 38.50h1.00M184.00 38.50h1.00M186.00 38.50h1.00M188.00 38.50h1.00M190.00 38.50h1.00M195.00 38.50h2.00M199.00 38.50h1.00M136.00 39.50h1.00M155.00 39.50h3.00M171.00 39.50h1.00M174.00 39.50h1.00M177.00 39.50h1.00M182.00 39.50h1.00M184.00 39.50h1.00M187.00 39.50h1.00M191.00 39.50h1.00M195.00 39.50h1.00M197.00 39.50h1.00M218.00 39.50h1.00M135.00 40.50h1.00M141.00 40.50h1.00M145.00 40.50h1.00M155.00 40.50h2.00M160.00 40.50h5.00M172.00 40.50h1.00M174.00 40.50h1.00M179.00 40.50h1.00M182.00 40.50h1.00M185.00 40.50h1.00M193.00 40.50h1.00M195.00 40.50h1.00M199.00 40.50h1.00M135.00 41.50h1.00M140.00 41.50h1.00M164.00 41.50h1.00M179.00 41.50h1.00M225.00 41.50h1.00M164.00 42.50h3.00M175.00 42.50h1.00M178.00 42.50h2.00M181.00 42.50h1.00M184.00 42.50h4.00M190.00 42.50h1.00M194.00 42.50h1.00M209.00 42.50h1.00M143.00 43.50h1.00M212.00 43.50h1.00M141.00 44.50h3.00M150.00 44.50h1.00M153.00 44.50h1.00M165.00 44.50h1.00M167.00 44.50h1.00M193.00 44.50h1.00M223.00 44.50h1.00M139.00 45.50h1.00M143.00 45.50h1.00M150.00 45.50h1.00M157.00 45.50h1.00M165.00 45.50h1.00M181.00 45.50h1.00M197.00 45.50h2.00M225.00 45.50h1.00M137.00 47.50h1.00M173.00 47.50h1.00M198.00 47.50h1.00M214.00 47.50h1.00M226.00 47.50h1.00M149.00 48.50h1.00M168.00 48.50h1.00M170.00 48.50h2.00M173.00 48.50h1.00M181.00 48.50h1.00M185.00 48.50h1.00M190.00 48.50h1.00M192.00 48.50h1.00M205.00 48.50h2.00M211.00 48.50h1.00M222.00 48.50h1.00M147.00 49.50h1.00M151.00 49.50h1.00M167.00 49.50h1.00M179.00 49.50h2.00M184.00 49.50h2.00M191.00 49.50h1.00M204.00 49.50h1.00M207.00 49.50h1.00M134.00 50.50h3.00M150.00 50.50h1.00M153.00 50.50h2.00M184.00 50.50h1.00M224.00 50.50h1.00M134.00 51.50h1.00M136.00 51.50h1.00M191.00 51.50h1.00M220.00 51.50h1.00M226.00 51.50h1.00M140.00 52.50h1.00M148.00 52.50h1.00M187.00 52.50h1.00M190.00 52.50h1.00M211.00 52.50h1.00M162.00 53.50h1.00M180.00 53.50h1.00M189.00 53.50h1.00M197.00 53.50h2.00M202.00 53.50h1.00M143.00 54.50h1.00M154.00 54.50h1.00M163.00 54.50h1.00M170.00 54.50h1.00M179.00 54.50h1.00M146.00 55.50h1.00M167.00 55.50h1.00M169.00 55.50h1.00M175.00 55.50h2.00M182.00 55.50h1.00M207.00 55.50h1.00M209.00 55.50h1.00M220.00 55.50h1.00M222.00 55.50h3.00M139.00 56.50h1.00M141.00 56.50h1.00M159.00 56.50h1.00M175.00 56.50h1.00M177.00 56.50h1.00M189.00 56.50h1.00M191.00 56.50h3.00M223.00 56.50h1.00M139.00 57.50h1.00M155.00 57.50h1.00M157.00 57.50h1.00M176.00 57.50h1.00M199.00 57.50h1.00M202.00 57.50h1.00M211.00 57.50h1.00M218.00 57.50h2.00M224.00 57.50h1.00M140.00 58.50h1.00M151.00 58.50h2.00M154.00 58.50h1.00M171.00 58.50h1.00M201.00 58.50h1.00M226.00 58.50h1.00M140.00 59.50h1.00M161.00 59.50h1.00M176.00 59.50h1.00M178.00 59.50h1.00M200.00 59.50h1.00M142.00 60.50h2.00M154.00 60.50h1.00M166.00 60.50h1.00M182.00 60.50h1.00M194.00 60.50h1.00M196.00 60.50h1.00M203.00 60.50h1.00M205.00 60.50h1.00M220.00 60.50h1.00M226.00 60.50h1.00M146.00 61.50h1.00M152.00 61.50h2.00M157.00 61.50h1.00M164.00 61.50h1.00M172.00 61.50h1.00M174.00 61.50h1.00M178.00 61.50h1.00M205.00 61.50h1.00M226.00 61.50h1.00M135.00 62.50h2.00M147.00 62.50h1.00M191.00 62.50h2.00M206.00 62.50h1.00M208.00 62.50h1.00M220.00 62.50h1.00M225.00 62.50h1.00M145.00 63.50h1.00M153.00 63.50h2.00M188.00 63.50h2.00M191.00 63.50h1.00M210.00 63.50h1.00M136.00 64.50h1.00M151.00 64.50h1.00M153.00 64.50h1.00M168.00 64.50h1.00M172.00 64.50h2.00M175.00 64.50h1.00M187.00 64.50h1.00M190.00 64.50h1.00M195.00 64.50h1.00M221.00 64.50h1.00M141.00 65.50h1.00M148.00 65.50h1.00M150.00 65.50h1.00M159.00 65.50h1.00M215.00 65.50h1.00M220.00 65.50h1.00M150.00 66.50h1.00M152.00 66.50h1.00M224.00 66.50h1.00M141.00 67.50h2.00M150.00 67.50h1.00M154.00 67.50h1.00M157.00 67.50h1.00M168.00 67.50h1.00M175.00 67.50h1.00M182.00 67.50h1.00M214.00 67.50h2.00M223.00 67.50h1.00M160.00 68.50h2.00M164.00 68.50h2.00M174.00 68.50h1.00M189.00 68.50h1.00M193.00 68.50h1.00M162.00 69.50h1.00M185.00 69.50h1.00M210.00 69.50h1.00M217.00 69.50h1.00M169.00 70.50h1.00M186.00 70.50h2.00M206.00 70.50h1.00M211.00 70.50h1.00M217.00 70.50h1.00M226.00 70.50h1.00M149.00 71.50h1.00M159.00 71.50h2.00M220.00 71.50h1.00M223.00 71.50h1.00M225.00 71.50h2.00M134.00 72.50h1.00M141.00 72.50h1.00M147.00 72.50h2.00M161.00 72.50h1.00M174.00 72.50h1.00M195.00 72.50h1.00M209.00 72.50h2.00M165.00 73.50h1.00M202.00 73.50h1.00M211.00 73.50h1.00M224.00 73.50h1.00M134.00 74.50h2.00M145.00 74.50h1.00M150.00 74.50h1.00M153.00 74.50h1.00M155.00 74.50h1.00M188.00 74.50h1.00M209.00 74.50h1.00M216.00 74.50h1.00M146.00 75.50h1.00M158.00 75.50h1.00M169.00 75.50h1.00M172.00 75.50h1.00M181.00 75.50h1.00M185.00 75.50h1.00M201.00 75.50h1.00M208.00 75.50h1.00M213.00 75.50h1.00M139.00 76.50h1.00M169.00 76.50h1.00M176.00 76.50h1.00M187.00 76.50h1.00M206.00 76.50h1.00M208.00 76.50h1.00M210.00 76.50h1.00M212.00 76.50h1.00M149.00 77.50h2.00M154.00 77.50h2.00M175.00 77.50h1.00M199.00 77.50h1.00M212.00 77.50h2.00M221.00 77.50h1.00M137.00 78.50h1.00M144.00 78.50h1.00M171.00 78.50h2.00M217.00 78.50h1.00M144.00 79.50h1.00M146.00 79.50h1.00M163.00 79.50h1.00M170.00 79.50h1.00M174.00 79.50h1.00M178.00 79.50h1.00M183.00 79.50h1.00M193.00 79.50h1.00M216.00 79.50h1.00M221.00 79.50h1.00M158.00 80.50h2.00M166.00 80.50h1.00M172.00 80.50h1.00M178.00 80.50h1.00M185.00 80.50h1.00M195.00 80.50h1.00M211.00 80.50h1.00M145.00 81.50h2.00M169.00 81.50h1.00M183.00 81.50h2.00M193.00 81.50h1.00M144.00 82.50h1.00M183.00 82.50h1.00M187.00 82.50h1.00M192.00 82.50h1.00M223.00 82.50h1.00M134.00 83.50h2.00M139.00 83.50h1.00M142.00 83.50h1.00M152.00 83.50h1.00M159.00 83.50h1.00M162.00 83.50h1.00M165.00 83.50h1.00M183.00 83.50h1.00M214.00 83.50h1.00M223.00 83.50h2.00M137.00 84.50h1.00M212.00 84.50h1.00M165.00 85.50h1.00M167.00 85.50h1.00M183.00 85.50h1.00M139.00 86.50h1.00M169.00 86.50h2.00M179.00 86.50h1.00M191.00 86.50h1.00M207.00 86.50h1.00M216.00 86.50h2.00M225.00 86.50h1.00M151.00 87.50h1.00M170.00 87.50h3.00M178.00 87.50h1.00M188.00 87.50h1.00M201.00 87.50h1.00M214.00 87.50h1.00M148.00 88.50h2.00M159.00 88.50h1.00M180.00 88.50h1.00M193.00 88.50h1.00M225.00 88.50h1.00M134.00 89.50h1.00M153.00 89.50h1.00M200.00 89.50h1.00M181.00 90.50h1.00M213.00 90.50h1.00M224.00 90.50h1.00M139.00 91.50h1.00M157.00 91.50h1.00M170.00 91.50h1.00M204.00 91.50h1.00M151.00 92.50h1.00M153.00 92.50h1.00M165.00 92.50h1.00M167.00 92.50h1.00M177.00 92.50h1.00M182.00 92.50h1.00M187.00 92.50h1.00M216.00 92.50h1.00M226.00 92.50h1.00M135.00 93.50h2.00M149.00 93.50h1.00M154.00 93.50h1.00M168.00 93.50h1.00M177.00 93.50h1.00M208.00 93.50h1.00M153.00 94.50h1.00M170.00 94.50h1.00M186.00 94.50h1.00M196.00 94.50h1.00M198.00 94.50h1.00M151.00 95.50h1.00M197.00 95.50h1.00M203.00 95.50h1.00M205.00 95.50h1.00M214.00 95.50h1.00M222.00 95.50h1.00M145.00 96.50h2.00M166.00 96.50h1.00M194.00 96.50h2.00M214.00 96.50h1.00M137.00 97.50h1.00M154.00 97.50h1.00M177.00 97.50h1.00M187.00 97.50h2.00M205.00 97.50h1.00M222.00 97.50h1.00" stroke="#0d1c07" stroke-width="1.05" fill="none"/>
<path d="M136.00 16.50h1.00M150.00 16.50h1.00M163.00 16.50h2.00M182.00 16.50h1.00M184.00 16.50h2.00M189.00 16.50h1.00M210.00 16.50h1.00M212.00 16.50h2.00M216.00 16.50h1.00M218.00 16.50h2.00M221.00 16.50h2.00M162.00 17.50h1.00M169.00 17.50h2.00M181.00 17.50h1.00M214.00 17.50h3.00M165.00 18.50h1.00M184.00 18.50h1.00M150.00 19.50h1.00M180.00 19.50h1.00M202.00 19.50h2.00M136.00 20.50h1.00M225.00 20.50h1.00M134.00 21.50h1.00M149.00 21.50h1.00M151.00 21.50h2.00M175.00 21.50h2.00M182.00 21.50h1.00M187.00 21.50h1.00M189.00 21.50h1.00M194.00 21.50h1.00M200.00 21.50h1.00M207.00 21.50h1.00M209.00 21.50h1.00M142.00 22.50h2.00M172.00 22.50h2.00M180.00 22.50h2.00M199.00 22.50h1.00M202.00 22.50h1.00M212.00 22.50h3.00M217.00 22.50h1.00M226.00 22.50h1.00M134.00 23.50h1.00M151.00 23.50h1.00M161.00 23.50h2.00M168.00 23.50h3.00M173.00 23.50h1.00M180.00 23.50h1.00M187.00 23.50h1.00M226.00 23.50h1.00M137.00 24.50h1.00M206.00 24.50h1.00M224.00 24.50h2.00M209.00 25.50h1.00M211.00 25.50h1.00M226.00 25.50h1.00M186.00 26.50h1.00M192.00 26.50h1.00M210.00 26.50h2.00M216.00 26.50h2.00M142.00 27.50h1.00M147.00 27.50h1.00M174.00 27.50h1.00M191.00 27.50h2.00M223.00 27.50h2.00M140.00 28.50h1.00M157.00 28.50h1.00M135.00 29.50h1.00M143.00 29.50h1.00M198.00 29.50h1.00M223.00 29.50h1.00M150.00 30.50h2.00M163.00 30.50h1.00M165.00 30.50h1.00M173.00 30.50h1.00M175.00 30.50h1.00M189.00 30.50h2.00M194.00 30.50h1.00M196.00 30.50h3.00M213.00 30.50h2.00M217.00 30.50h1.00M224.00 30.50h1.00M173.00 31.50h1.00M182.00 31.50h1.00M189.00 31.50h1.00M197.00 31.50h1.00M203.00 31.50h1.00M135.00 32.50h1.00M140.00 32.50h1.00M150.00 32.50h1.00M166.00 32.50h1.00M134.00 33.50h1.00M144.00 33.50h1.00M220.00 33.50h1.00M223.00 34.50h1.00M216.00 35.50h2.00M220.00 35.50h1.00M220.00 36.50h1.00M136.00 37.50h1.00M201.00 37.50h2.00M225.00 37.50h1.00M146.00 38.50h1.00M155.00 38.50h1.00M171.00 38.50h1.00M176.00 38.50h1.00M183.00 38.50h1.00M192.00 38.50h1.00M194.00 38.50h1.00M197.00 38.50h1.00M161.00 39.50h1.00M168.00 39.50h1.00M170.00 39.50h1.00M173.00 39.50h1.00M175.00 39.50h2.00M198.00 39.50h1.00M200.00 39.50h1.00M134.00 40.50h1.00M168.00 40.50h1.00M170.00 40.50h2.00M173.00 40.50h1.00M175.00 40.50h1.00M189.00 40.50h1.00M191.00 40.50h2.00M194.00 40.50h1.00M197.00 40.50h2.00M219.00 40.50h1.00M182.00 41.50h1.00M185.00 41.50h1.00M197.00 41.50h1.00M200.00 41.50h1.00M220.00 41.50h1.00M171.00 42.50h1.00M174.00 42.50h1.00M177.00 42.50h1.00M180.00 42.50h1.00M188.00 42.50h2.00M191.00 42.50h1.00M197.00 42.50h1.00M200.00 42.50h3.00M218.00 42.50h1.00M141.00 43.50h2.00M211.00 43.50h1.00M213.00 43.50h1.00M138.00 44.50h1.00M149.00 44.50h1.00M151.00 44.50h1.00M222.00 44.50h1.00M142.00 45.50h1.00M158.00 45.50h2.00M163.00 45.50h1.00M216.00 45.50h1.00M223.00 45.50h2.00M151.00 46.50h1.00M210.00 46.50h1.00M216.00 46.50h1.00M189.00 47.50h1.00M220.00 47.50h1.00M225.00 47.50h1.00M140.00 48.50h1.00M142.00 48.50h1.00M150.00 48.50h1.00M155.00 48.50h1.00M159.00 48.50h2.00M164.00 48.50h1.00M172.00 48.50h1.00M179.00 48.50h1.00M184.00 48.50h1.00M188.00 48.50h1.00M197.00 48.50h1.00M201.00 48.50h1.00M203.00 48.50h1.00M207.00 48.50h1.00M224.00 48.50h1.00M144.00 49.50h1.00M168.00 49.50h1.00M174.00 49.50h2.00M177.00 49.50h2.00M181.00 49.50h3.00M186.00 49.50h3.00M199.00 49.50h1.00M201.00 49.50h2.00M212.00 49.50h1.00M143.00 50.50h1.00M156.00 50.50h1.00M158.00 50.50h1.00M163.00 50.50h1.00M221.00 50.50h1.00M223.00 50.50h1.00M150.00 51.50h1.00M165.00 51.50h1.00M197.00 51.50h1.00M134.00 52.50h1.00M188.00 52.50h1.00M209.00 52.50h1.00M223.00 52.50h1.00M134.00 53.50h3.00M138.00 53.50h2.00M143.00 53.50h1.00M156.00 53.50h1.00M182.00 53.50h1.00M186.00 53.50h1.00M191.00 53.50h1.00M194.00 53.50h1.00M203.00 53.50h1.00M226.00 53.50h1.00M157.00 54.50h1.00M159.00 54.50h1.00M162.00 54.50h1.00M166.00 54.50h1.00M180.00 54.50h1.00M183.00 54.50h1.00M187.00 54.50h1.00M206.00 54.50h1.00M209.00 54.50h1.00M224.00 54.50h1.00M136.00 55.50h1.00M148.00 55.50h1.00M170.00 55.50h1.00M174.00 55.50h1.00M183.00 55.50h1.00M210.00 55.50h1.00M134.00 56.50h1.00M188.00 56.50h1.00M194.00 56.50h1.00M156.00 57.50h1.00M173.00 57.50h1.00M182.00 57.50h1.00M203.00 57.50h1.00M135.00 58.50h1.00M137.00 58.50h1.00M175.00 58.50h1.00M188.00 58.50h1.00M190.00 58.50h1.00M207.00 58.50h2.00M213.00 58.50h1.00M220.00 58.50h1.00M141.00 59.50h1.00M146.00 59.50h2.00M183.00 59.50h1.00M185.00 59.50h1.00M192.00 59.50h1.00M195.00 59.50h1.00M201.00 59.50h3.00M205.00 59.50h1.00M207.00 59.50h1.00M217.00 59.50h1.00M225.00 59.50h1.00M141.00 60.50h1.00M151.00 60.50h2.00M159.00 60.50h1.00M162.00 60.50h1.00M167.00 60.50h1.00M170.00 60.50h1.00M179.00 60.50h1.00M183.00 60.50h1.00M207.00 60.50h1.00M212.00 60.50h1.00M216.00 60.50h1.00M221.00 60.50h2.00M150.00 61.50h2.00M165.00 61.50h1.00M170.00 61.50h1.00M173.00 61.50h1.00M180.00 61.50h1.00M189.00 61.50h1.00M191.00 61.50h1.00M197.00 61.50h1.00M134.00 62.50h1.00M146.00 62.50h1.00M157.00 62.50h1.00M165.00 62.50h1.00M190.00 62.50h1.00M198.00 62.50h1.00M207.00 62.50h1.00M221.00 62.50h1.00M223.00 62.50h1.00M147.00 63.50h1.00M159.00 63.50h1.00M164.00 63.50h1.00M166.00 63.50h1.00M182.00 63.50h1.00M190.00 63.50h1.00M192.00 63.50h1.00M196.00 63.50h1.00M206.00 63.50h1.00M224.00 63.50h1.00M152.00 64.50h1.00M164.00 64.50h3.00M169.00 64.50h1.00M188.00 64.50h1.00M196.00 64.50h1.00M222.00 64.50h1.00M226.00 64.50h1.00M145.00 65.50h1.00M149.00 65.50h1.00M157.00 65.50h1.00M160.00 65.50h2.00M170.00 65.50h1.00M188.00 65.50h1.00M206.00 65.50h1.00M212.00 65.50h1.00M151.00 66.50h1.00M215.00 66.50h1.00M135.00 67.50h1.00M138.00 67.50h1.00M167.00 67.50h1.00M171.00 67.50h2.00M174.00 67.50h1.00M176.00 67.50h1.00M178.00 67.50h1.00M181.00 67.50h1.00M201.00 67.50h1.00M212.00 67.50h1.00M217.00 67.50h1.00M158.00 68.50h2.00M162.00 68.50h1.00M175.00 68.50h1.00M177.00 68.50h1.00M188.00 68.50h1.00M190.00 68.50h1.00M192.00 68.50h1.00M194.00 68.50h2.00M208.00 68.50h3.00M216.00 68.50h1.00M154.00 69.50h1.00M164.00 69.50h1.00M167.00 69.50h1.00M169.00 69.50h1.00M177.00 69.50h1.00M195.00 69.50h1.00M206.00 69.50h1.00M211.00 69.50h1.00M220.00 69.50h1.00M135.00 70.50h1.00M143.00 70.50h2.00M155.00 70.50h1.00M159.00 70.50h1.00M166.00 70.50h2.00M170.00 70.50h1.00M184.00 70.50h1.00M142.00 71.50h1.00M170.00 71.50h1.00M179.00 71.50h1.00M188.00 71.50h1.00M140.00 72.50h1.00M142.00 72.50h1.00M150.00 72.50h1.00M154.00 72.50h1.00M215.00 72.50h1.00M217.00 72.50h1.00M153.00 73.50h1.00M210.00 73.50h1.00M213.00 73.50h1.00M217.00 73.50h1.00M222.00 73.50h1.00M225.00 73.50h2.00M144.00 74.50h1.00M146.00 74.50h1.00M173.00 74.50h1.00M211.00 74.50h2.00M138.00 75.50h1.00M152.00 75.50h1.00M168.00 75.50h1.00M174.00 75.50h1.00M177.00 75.50h1.00M186.00 75.50h1.00M192.00 75.50h1.00M195.00 75.50h1.00M200.00 75.50h1.00M202.00 75.50h1.00M209.00 75.50h1.00M138.00 76.50h1.00M141.00 76.50h1.00M147.00 76.50h2.00M159.00 76.50h1.00M165.00 76.50h1.00M188.00 76.50h1.00M203.00 76.50h1.00M146.00 77.50h1.00M148.00 77.50h1.00M152.00 77.50h2.00M156.00 77.50h1.00M181.00 77.50h1.00M193.00 77.50h1.00M210.00 77.50h1.00M218.00 77.50h1.00M220.00 77.50h1.00M139.00 78.50h1.00M143.00 78.50h1.00M152.00 78.50h1.00M169.00 78.50h2.00M185.00 78.50h2.00M209.00 78.50h1.00M212.00 78.50h1.00M220.00 78.50h1.00M226.00 78.50h1.00M142.00 79.50h1.00M164.00 79.50h1.00M168.00 79.50h1.00M182.00 79.50h1.00M185.00 79.50h1.00M195.00 79.50h1.00M207.00 79.50h2.00M212.00 79.50h1.00M214.00 79.50h1.00M222.00 79.50h1.00M148.00 80.50h1.00M154.00 80.50h1.00M156.00 80.50h2.00M169.00 80.50h1.00M193.00 80.50h1.00M196.00 80.50h1.00M140.00 81.50h1.00M147.00 81.50h1.00M157.00 81.50h1.00M163.00 81.50h1.00M165.00 81.50h1.00M182.00 81.50h1.00M205.00 81.50h1.00M215.00 81.50h2.00M134.00 82.50h2.00M137.00 82.50h1.00M154.00 82.50h1.00M157.00 82.50h1.00M162.00 82.50h2.00M173.00 82.50h1.00M175.00 82.50h1.00M177.00 82.50h2.00M214.00 82.50h1.00M219.00 82.50h2.00M138.00 83.50h1.00M148.00 83.50h2.00M155.00 83.50h1.00M170.00 83.50h1.00M177.00 83.50h1.00M182.00 83.50h1.00M193.00 83.50h1.00M222.00 83.50h1.00M136.00 84.50h1.00M197.00 84.50h1.00M134.00 85.50h1.00M166.00 85.50h1.00M184.00 85.50h1.00M136.00 86.50h1.00M144.00 86.50h1.00M149.00 86.50h1.00M181.00 86.50h1.00M183.00 86.50h1.00M185.00 86.50h1.00M187.00 86.50h1.00M199.00 86.50h1.00M202.00 86.50h1.00M214.00 86.50h1.00M154.00 87.50h1.00M156.00 87.50h1.00M159.00 87.50h1.00M174.00 87.50h2.00M182.00 87.50h1.00M184.00 87.50h1.00M134.00 88.50h2.00M138.00 88.50h1.00M142.00 88.50h1.00M150.00 88.50h2.00M156.00 88.50h1.00M161.00 88.50h1.00M176.00 88.50h1.00M182.00 88.50h1.00M192.00 88.50h1.00M207.00 88.50h2.00M223.00 88.50h1.00M138.00 89.50h1.00M152.00 89.50h1.00M154.00 89.50h1.00M162.00 89.50h2.00M194.00 89.50h2.00M210.00 89.50h1.00M220.00 90.50h1.00M223.00 90.50h1.00M226.00 90.50h1.00M160.00 91.50h2.00M171.00 91.50h1.00M217.00 91.50h1.00M219.00 91.50h1.00M139.00 92.50h1.00M146.00 92.50h1.00M155.00 92.50h1.00M172.00 92.50h1.00M175.00 92.50h1.00M178.00 92.50h1.00M183.00 92.50h1.00M186.00 92.50h1.00M188.00 92.50h1.00M195.00 92.50h2.00M199.00 92.50h1.00M221.00 92.50h1.00M225.00 92.50h1.00M146.00 93.50h1.00M151.00 93.50h1.00M169.00 93.50h1.00M171.00 93.50h1.00M174.00 93.50h2.00M194.00 93.50h1.00M199.00 93.50h1.00M201.00 93.50h1.00M207.00 93.50h1.00M209.00 93.50h1.00M146.00 94.50h2.00M150.00 94.50h1.00M162.00 94.50h1.00M176.00 94.50h2.00M185.00 94.50h1.00M222.00 94.50h1.00M140.00 95.50h1.00M144.00 95.50h1.00M188.00 95.50h1.00M204.00 95.50h1.00M217.00 95.50h1.00M226.00 95.50h1.00M134.00 96.50h1.00M154.00 96.50h1.00M156.00 96.50h1.00M158.00 96.50h1.00M165.00 96.50h1.00M172.00 96.50h1.00M193.00 96.50h1.00M226.00 96.50h1.00M138.00 97.50h1.00M149.00 97.50h2.00M183.00 97.50h1.00M213.00 97.50h1.00M219.00 97.50h1.00M226.00 97.50h1.00" stroke="#0f2c09" stroke-width="1.05" fill="none"/>
<path d="M137.00 16.50h1.00M155.00 16.50h1.00M172.00 16.50h1.00M174.00 16.50h1.00M214.00 16.50h1.00M224.00 16.50h1.00M149.00 17.50h1.00M160.00 17.50h1.00M166.00 17.50h1.00M171.00 17.50h1.00M173.00 17.50h1.00M178.00 17.50h1.00M183.00 17.50h1.00M194.00 17.50h1.00M198.00 17.50h1.00M203.00 17.50h1.00M208.00 17.50h1.00M141.00 18.50h1.00M159.00 18.50h1.00M167.00 18.50h1.00M173.00 18.50h1.00M185.00 18.50h1.00M199.00 18.50h1.00M201.00 18.50h1.00M139.00 19.50h1.00M154.00 19.50h1.00M172.00 19.50h1.00M178.00 19.50h1.00M198.00 19.50h1.00M204.00 19.50h1.00M219.00 19.50h1.00M163.00 20.50h1.00M197.00 20.50h1.00M206.00 20.50h1.00M214.00 20.50h3.00M138.00 21.50h1.00M166.00 21.50h1.00M174.00 21.50h1.00M177.00 21.50h2.00M180.00 21.50h1.00M204.00 21.50h1.00M210.00 21.50h2.00M136.00 22.50h1.00M151.00 22.50h2.00M158.00 22.50h1.00M169.00 22.50h2.00M178.00 22.50h1.00M182.00 22.50h1.00M184.00 22.50h1.00M137.00 23.50h2.00M159.00 23.50h1.00M183.00 23.50h1.00M192.00 23.50h1.00M204.00 24.50h1.00M211.00 24.50h1.00M217.00 24.50h1.00M157.00 25.50h1.00M163.00 25.50h2.00M170.00 25.50h1.00M176.00 25.50h1.00M193.00 25.50h1.00M197.00 25.50h2.00M223.00 25.50h1.00M203.00 26.50h1.00M213.00 26.50h1.00M144.00 27.50h2.00M158.00 27.50h1.00M167.00 27.50h1.00M176.00 27.50h1.00M186.00 27.50h1.00M189.00 27.50h1.00M199.00 27.50h1.00M203.00 27.50h1.00M136.00 28.50h1.00M139.00 28.50h1.00M145.00 28.50h1.00M149.00 28.50h1.00M202.00 28.50h1.00M215.00 28.50h1.00M141.00 29.50h1.00M158.00 29.50h1.00M168.00 29.50h1.00M171.00 29.50h3.00M183.00 29.50h1.00M185.00 29.50h2.00M194.00 29.50h2.00M200.00 29.50h3.00M207.00 29.50h1.00M159.00 30.50h3.00M167.00 30.50h1.00M171.00 30.50h1.00M177.00 30.50h1.00M183.00 30.50h2.00M191.00 30.50h1.00M193.00 30.50h1.00M199.00 30.50h1.00M148.00 31.50h1.00M170.00 31.50h2.00M174.00 31.50h1.00M176.00 31.50h1.00M180.00 31.50h1.00M201.00 31.50h1.00M204.00 31.50h1.00M212.00 31.50h1.00M225.00 31.50h1.00M165.00 32.50h1.00M167.00 32.50h1.00M147.00 33.50h1.00M166.00 33.50h1.00M151.00 34.50h1.00M158.00 34.50h1.00M184.00 35.50h1.00M190.00 35.50h1.00M199.00 35.50h1.00M140.00 36.50h1.00M169.00 36.50h1.00M137.00 37.50h1.00M172.00 37.50h1.00M187.00 37.50h1.00M204.00 37.50h1.00M141.00 38.50h1.00M150.00 38.50h1.00M167.00 38.50h1.00M189.00 38.50h1.00M191.00 38.50h1.00M219.00 38.50h3.00M134.00 39.50h1.00M139.00 39.50h1.00M142.00 39.50h1.00M160.00 39.50h1.00M172.00 39.50h1.00M181.00 39.50h1.00M157.00 40.50h2.00M178.00 40.50h1.00M201.00 40.50h1.00M203.00 40.50h1.00M209.00 40.50h1.00M134.00 41.50h1.00M152.00 41.50h1.00M159.00 41.50h1.00M201.00 41.50h1.00M203.00 41.50h1.00M142.00 42.50h2.00M152.00 42.50h1.00M163.00 42.50h1.00M167.00 42.50h2.00M196.00 42.50h1.00M207.00 42.50h1.00M144.00 43.50h2.00M162.00 43.50h1.00M189.00 43.50h1.00M193.00 43.50h1.00M203.00 43.50h1.00M152.00 44.50h1.00M155.00 44.50h1.00M163.00 44.50h1.00M166.00 44.50h1.00M169.00 44.50h1.00M199.00 44.50h2.00M209.00 44.50h1.00M224.00 44.50h1.00M149.00 45.50h1.00M194.00 45.50h1.00M207.00 45.50h1.00M138.00 46.50h1.00M147.00 46.50h1.00M158.00 46.50h1.00M184.00 46.50h1.00M186.00 46.50h1.00M188.00 46.50h1.00M226.00 46.50h1.00M148.00 47.50h1.00M152.00 47.50h1.00M192.00 47.50h1.00M199.00 47.50h1.00M203.00 47.50h1.00M209.00 47.50h1.00M148.00 48.50h1.00M169.00 48.50h1.00M183.00 48.50h1.00M187.00 48.50h1.00M202.00 48.50h1.00M208.00 48.50h1.00M142.00 49.50h2.00M196.00 49.50h1.00M200.00 49.50h1.00M206.00 49.50h1.00M223.00 49.50h1.00M146.00 50.50h2.00M160.00 50.50h3.00M180.00 50.50h1.00M138.00 51.50h1.00M146.00 51.50h1.00M149.00 51.50h1.00M198.00 51.50h1.00M224.00 51.50h1.00M137.00 52.50h1.00M139.00 52.50h1.00M159.00 52.50h1.00M171.00 52.50h1.00M180.00 52.50h1.00M224.00 52.50h1.00M147.00 53.50h1.00M168.00 53.50h1.00M173.00 53.50h1.00M190.00 53.50h1.00M223.00 53.50h3.00M149.00 54.50h1.00M155.00 54.50h2.00M161.00 54.50h1.00M164.00 54.50h1.00M177.00 54.50h1.00M184.00 54.50h1.00M223.00 54.50h1.00M141.00 55.50h2.00M177.00 55.50h1.00M213.00 55.50h1.00M215.00 55.50h1.00M221.00 55.50h1.00M154.00 56.50h1.00M185.00 56.50h1.00M196.00 56.50h1.00M209.00 56.50h1.00M222.00 56.50h1.00M134.00 57.50h1.00M138.00 57.50h1.00M149.00 57.50h1.00M165.00 57.50h1.00M174.00 57.50h1.00M183.00 57.50h2.00M198.00 57.50h1.00M200.00 57.50h1.00M206.00 57.50h1.00M216.00 57.50h2.00M134.00 58.50h1.00M138.00 58.50h1.00M142.00 58.50h1.00M174.00 58.50h1.00M187.00 58.50h1.00M202.00 58.50h1.00M217.00 58.50h1.00M136.00 59.50h2.00M139.00 59.50h1.00M159.00 59.50h2.00M175.00 59.50h1.00M182.00 59.50h1.00M184.00 59.50h1.00M211.00 59.50h1.00M222.00 59.50h1.00M187.00 60.50h1.00M200.00 60.50h1.00M202.00 60.50h1.00M225.00 60.50h1.00M134.00 61.50h1.00M136.00 61.50h1.00M145.00 61.50h1.00M159.00 61.50h1.00M161.00 61.50h1.00M222.00 61.50h1.00M162.00 62.50h1.00M197.00 62.50h1.00M148.00 63.50h1.00M187.00 63.50h1.00M207.00 63.50h2.00M139.00 64.50h1.00M206.00 64.50h1.00M208.00 64.50h2.00M216.00 64.50h1.00M220.00 64.50h1.00M225.00 64.50h1.00M152.00 65.50h1.00M185.00 65.50h1.00M138.00 66.50h2.00M146.00 66.50h1.00M205.00 66.50h1.00M134.00 67.50h1.00M145.00 67.50h2.00M203.00 67.50h1.00M208.00 67.50h2.00M216.00 67.50h1.00M134.00 68.50h1.00M138.00 68.50h1.00M180.00 68.50h1.00M205.00 68.50h1.00M207.00 68.50h1.00M221.00 68.50h1.00M159.00 69.50h1.00M163.00 69.50h1.00M170.00 69.50h1.00M209.00 69.50h1.00M213.00 69.50h2.00M226.00 69.50h1.00M157.00 70.50h1.00M174.00 70.50h2.00M213.00 70.50h1.00M225.00 70.50h1.00M138.00 71.50h1.00M141.00 71.50h1.00M212.00 71.50h2.00M215.00 71.50h1.00M145.00 72.50h1.00M164.00 72.50h2.00M162.00 73.50h1.00M164.00 73.50h1.00M212.00 73.50h1.00M220.00 73.50h1.00M177.00 74.50h1.00M164.00 75.50h1.00M167.00 75.50h1.00M180.00 75.50h1.00M210.00 75.50h1.00M134.00 76.50h1.00M168.00 76.50h1.00M179.00 76.50h1.00M205.00 76.50h1.00M213.00 76.50h1.00M174.00 77.50h1.00M177.00 77.50h1.00M225.00 77.50h2.00M147.00 78.50h1.00M149.00 78.50h1.00M151.00 78.50h1.00M154.00 78.50h1.00M161.00 78.50h1.00M221.00 78.50h2.00M225.00 78.50h1.00M179.00 79.50h1.00M194.00 79.50h1.00M204.00 79.50h1.00M142.00 80.50h1.00M163.00 80.50h3.00M167.00 80.50h2.00M212.00 80.50h1.00M224.00 80.50h1.00M136.00 81.50h1.00M141.00 81.50h1.00M167.00 81.50h2.00M194.00 81.50h1.00M208.00 81.50h1.00M148.00 82.50h1.00M150.00 82.50h1.00M153.00 82.50h1.00M188.00 82.50h1.00M225.00 82.50h1.00M161.00 83.50h1.00M164.00 83.50h1.00M172.00 83.50h2.00M215.00 83.50h2.00M221.00 83.50h1.00M226.00 83.50h1.00M165.00 84.50h1.00M178.00 84.50h1.00M181.00 84.50h1.00M185.00 84.50h1.00M199.00 84.50h1.00M213.00 84.50h1.00M220.00 84.50h1.00M224.00 84.50h1.00M150.00 85.50h1.00M160.00 85.50h1.00M169.00 85.50h1.00M185.00 85.50h1.00M202.00 85.50h1.00M220.00 85.50h1.00M223.00 85.50h1.00M225.00 85.50h1.00M134.00 86.50h1.00M174.00 86.50h1.00M176.00 86.50h1.00M188.00 86.50h1.00M205.00 86.50h2.00M226.00 86.50h1.00M138.00 87.50h1.00M146.00 87.50h1.00M179.00 87.50h1.00M139.00 88.50h2.00M160.00 88.50h1.00M174.00 88.50h1.00M178.00 88.50h1.00M191.00 88.50h1.00M214.00 88.50h3.00M221.00 88.50h1.00M226.00 88.50h1.00M201.00 89.50h1.00M208.00 89.50h1.00M224.00 89.50h1.00M171.00 90.50h1.00M214.00 90.50h2.00M140.00 91.50h1.00M155.00 91.50h1.00M184.00 91.50h1.00M207.00 91.50h1.00M141.00 92.50h1.00M148.00 92.50h1.00M157.00 92.50h1.00M161.00 92.50h1.00M164.00 92.50h1.00M212.00 93.50h1.00M174.00 94.50h1.00M182.00 94.50h1.00M187.00 94.50h1.00M224.00 94.50h1.00M153.00 95.50h1.00M207.00 95.50h2.00M220.00 95.50h1.00M223.00 95.50h1.00M159.00 96.50h1.00M134.00 97.50h2.00M144.00 97.50h1.00M155.00 97.50h1.00M184.00 97.50h1.00M186.00 97.50h1.00" stroke="#1b0d04" stroke-width="1.05" fill="none"/>
<path d="M138.00 16.50h1.00M202.00 16.50h1.00M168.00 18.50h1.00M182.00 18.50h1.00M143.00 19.50h1.00M171.00 19.50h1.00M196.00 19.50h1.00M206.00 19.50h1.00M146.00 20.50h1.00M172.00 20.50h2.00M188.00 20.50h1.00M194.00 20.50h1.00M196.00 20.50h1.00M210.00 20.50h1.00M192.00 22.50h1.00M146.00 23.50h1.00M210.00 23.50h1.00M134.00 24.50h1.00M155.00 24.50h1.00M157.00 24.50h1.00M160.00 24.50h2.00M134.00 25.50h1.00M142.00 25.50h1.00M143.00 26.50h1.00M151.00 26.50h1.00M165.00 26.50h1.00M167.00 26.50h3.00M178.00 26.50h1.00M135.00 27.50h1.00M209.00 27.50h1.00M211.00 27.50h1.00M215.00 27.50h1.00M148.00 28.50h1.00M164.00 28.50h1.00M168.00 28.50h1.00M175.00 28.50h2.00M185.00 28.50h1.00M196.00 28.50h1.00M175.00 29.50h1.00M204.00 30.50h1.00M138.00 31.50h1.00M153.00 31.50h1.00M159.00 31.50h1.00M163.00 31.50h1.00M177.00 31.50h1.00M179.00 31.50h1.00M217.00 31.50h2.00M171.00 32.50h1.00M188.00 32.50h1.00M211.00 32.50h2.00M156.00 33.50h1.00M167.00 33.50h2.00M170.00 33.50h1.00M191.00 33.50h2.00M203.00 33.50h1.00M218.00 33.50h1.00M134.00 34.50h1.00M162.00 34.50h1.00M164.00 34.50h1.00M167.00 34.50h2.00M171.00 34.50h1.00M173.00 34.50h1.00M183.00 34.50h1.00M189.00 34.50h1.00M193.00 34.50h1.00M196.00 34.50h1.00M199.00 34.50h3.00M207.00 34.50h1.00M135.00 35.50h1.00M141.00 35.50h1.00M151.00 35.50h1.00M157.00 35.50h1.00M164.00 35.50h1.00M173.00 35.50h1.00M176.00 35.50h1.00M186.00 35.50h1.00M201.00 35.50h1.00M147.00 36.50h1.00M176.00 36.50h1.00M181.00 36.50h2.00M196.00 36.50h2.00M202.00 36.50h1.00M213.00 36.50h1.00M152.00 37.50h1.00M154.00 37.50h2.00M157.00 37.50h1.00M165.00 37.50h1.00M169.00 37.50h1.00M174.00 37.50h1.00M191.00 37.50h1.00M215.00 37.50h1.00M217.00 37.50h1.00M150.00 39.50h1.00M217.00 40.50h1.00M145.00 41.50h2.00M155.00 41.50h1.00M208.00 41.50h1.00M146.00 42.50h1.00M159.00 42.50h1.00M134.00 43.50h1.00M163.00 43.50h1.00M171.00 43.50h1.00M175.00 43.50h1.00M177.00 43.50h2.00M196.00 43.50h1.00M208.00 43.50h1.00M145.00 44.50h1.00M160.00 44.50h1.00M179.00 44.50h1.00M190.00 44.50h1.00M154.00 45.50h1.00M168.00 45.50h1.00M177.00 45.50h1.00M185.00 45.50h1.00M187.00 45.50h1.00M175.00 46.50h1.00M180.00 46.50h1.00M180.00 47.50h1.00M189.00 50.50h1.00M167.00 51.50h1.00M174.00 51.50h1.00M216.00 51.50h1.00M192.00 52.50h1.00M194.00 52.50h1.00M198.00 52.50h1.00M206.00 52.50h1.00M214.00 52.50h1.00M217.00 54.50h2.00M215.00 56.50h1.00M217.00 56.50h1.00M189.00 57.50h1.00M195.00 57.50h2.00M134.00 59.50h1.00M141.00 61.50h1.00M160.00 62.50h1.00M215.00 62.50h1.00M222.00 63.50h1.00M144.00 66.50h1.00M226.00 68.50h1.00M224.00 74.50h2.00M172.00 77.50h1.00M226.00 80.50h1.00M160.00 84.50h1.00M164.00 84.50h1.00M193.00 84.50h1.00M195.00 84.50h1.00M202.00 84.50h1.00M206.00 84.50h1.00M147.00 85.50h2.00M153.00 85.50h2.00M179.00 85.50h1.00M192.00 85.50h1.00M198.00 85.50h1.00M221.00 86.50h1.00M226.00 87.50h1.00M138.00 90.50h1.00M147.00 90.50h1.00M167.00 90.50h1.00M178.00 90.50h2.00M198.00 90.50h1.00M202.00 90.50h1.00M205.00 90.50h1.00M209.00 90.50h1.00M150.00 91.50h1.00M167.00 91.50h1.00M174.00 91.50h1.00M181.00 91.50h2.00M192.00 91.50h1.00M225.00 93.50h1.00M174.00 97.50h2.00" stroke="#a20a07" stroke-width="1.05" fill="none"/>
<path d="M139.00 16.50h1.00M196.00 16.50h1.00M201.00 16.50h1.00M205.00 16.50h1.00M205.00 17.50h1.00M146.00 18.50h1.00M148.00 18.50h1.00M169.00 18.50h1.00M187.00 18.50h1.00M197.00 18.50h1.00M203.00 18.50h2.00M206.00 18.50h1.00M210.00 18.50h1.00M138.00 19.50h1.00M157.00 19.50h1.00M163.00 19.50h1.00M165.00 19.50h1.00M209.00 19.50h1.00M216.00 19.50h2.00M158.00 20.50h1.00M165.00 20.50h3.00M177.00 20.50h1.00M180.00 20.50h2.00M189.00 20.50h1.00M191.00 20.50h1.00M205.00 20.50h1.00M174.00 23.50h1.00M195.00 23.50h1.00M135.00 24.50h1.00M154.00 24.50h1.00M174.00 24.50h1.00M176.00 24.50h2.00M187.00 24.50h1.00M135.00 25.50h1.00M140.00 25.50h1.00M153.00 25.50h1.00M155.00 25.50h1.00M178.00 25.50h1.00M185.00 25.50h1.00M188.00 25.50h1.00M200.00 25.50h2.00M134.00 26.50h1.00M137.00 26.50h1.00M142.00 26.50h1.00M153.00 26.50h1.00M159.00 26.50h1.00M170.00 26.50h1.00M180.00 26.50h1.00M202.00 26.50h1.00M205.00 26.50h2.00M134.00 27.50h1.00M159.00 27.50h1.00M205.00 27.50h1.00M213.00 27.50h1.00M150.00 28.50h1.00M153.00 28.50h1.00M160.00 28.50h1.00M162.00 28.50h2.00M183.00 28.50h1.00M186.00 28.50h2.00M190.00 28.50h1.00M201.00 28.50h1.00M138.00 29.50h1.00M178.00 29.50h1.00M182.00 29.50h1.00M213.00 29.50h1.00M217.00 29.50h1.00M208.00 30.50h2.00M145.00 31.50h1.00M158.00 31.50h1.00M193.00 31.50h1.00M207.00 31.50h1.00M214.00 31.50h1.00M185.00 32.50h1.00M187.00 32.50h1.00M196.00 32.50h1.00M199.00 32.50h1.00M204.00 32.50h1.00M207.00 32.50h1.00M214.00 32.50h1.00M220.00 32.50h1.00M226.00 32.50h1.00M137.00 33.50h1.00M153.00 33.50h1.00M158.00 33.50h1.00M171.00 33.50h2.00M195.00 33.50h1.00M207.00 33.50h1.00M212.00 33.50h1.00M135.00 34.50h1.00M137.00 34.50h1.00M148.00 34.50h1.00M154.00 34.50h2.00M163.00 34.50h1.00M166.00 34.50h1.00M172.00 34.50h1.00M176.00 34.50h1.00M181.00 34.50h1.00M185.00 34.50h1.00M187.00 34.50h1.00M194.00 34.50h2.00M202.00 34.50h1.00M206.00 34.50h1.00M209.00 34.50h1.00M215.00 34.50h3.00M137.00 35.50h1.00M155.00 35.50h1.00M161.00 35.50h1.00M163.00 35.50h1.00M165.00 35.50h1.00M200.00 35.50h1.00M210.00 35.50h1.00M134.00 36.50h1.00M141.00 36.50h1.00M152.00 36.50h2.00M157.00 36.50h1.00M192.00 36.50h1.00M201.00 36.50h1.00M203.00 36.50h1.00M205.00 36.50h1.00M207.00 36.50h1.00M141.00 37.50h1.00M146.00 37.50h2.00M156.00 37.50h1.00M180.00 37.50h2.00M185.00 37.50h2.00M196.00 37.50h1.00M205.00 37.50h1.00M179.00 38.50h1.00M144.00 39.50h1.00M149.00 39.50h1.00M159.00 39.50h1.00M205.00 40.50h1.00M207.00 40.50h2.00M213.00 40.50h1.00M218.00 40.50h1.00M156.00 41.50h2.00M162.00 41.50h1.00M138.00 42.50h1.00M135.00 43.50h1.00M156.00 43.50h1.00M165.00 43.50h1.00M179.00 43.50h1.00M205.00 43.50h1.00M156.00 44.50h1.00M175.00 44.50h1.00M186.00 44.50h1.00M189.00 44.50h1.00M195.00 44.50h1.00M145.00 45.50h1.00M170.00 45.50h1.00M174.00 45.50h1.00M176.00 46.50h1.00M191.00 46.50h1.00M196.00 46.50h1.00M199.00 46.50h1.00M202.00 46.50h1.00M219.00 46.50h1.00M145.00 47.50h1.00M162.00 47.50h1.00M177.00 47.50h1.00M181.00 47.50h1.00M187.00 47.50h1.00M214.00 48.50h1.00M226.00 48.50h1.00M166.00 50.50h1.00M179.00 50.50h1.00M186.00 50.50h2.00M193.00 50.50h2.00M210.00 50.50h3.00M175.00 51.50h1.00M195.00 51.50h1.00M202.00 51.50h1.00M218.00 51.50h1.00M170.00 52.50h1.00M179.00 52.50h1.00M197.00 52.50h1.00M199.00 52.50h1.00M215.00 52.50h1.00M151.00 53.50h1.00M175.00 53.50h1.00M177.00 53.50h1.00M217.00 53.50h1.00M150.00 54.50h1.00M174.00 54.50h1.00M214.00 54.50h1.00M216.00 54.50h1.00M219.00 54.50h1.00M183.00 56.50h1.00M214.00 56.50h1.00M170.00 57.50h1.00M194.00 57.50h1.00M205.00 57.50h1.00M221.00 57.50h2.00M164.00 58.50h1.00M168.00 58.50h1.00M198.00 58.50h1.00M140.00 61.50h1.00M142.00 66.50h1.00M224.00 67.50h1.00M225.00 68.50h1.00M224.00 70.50h1.00M159.00 72.50h1.00M225.00 72.50h1.00M179.00 75.50h1.00M222.00 77.50h1.00M215.00 80.50h1.00M143.00 84.50h1.00M159.00 84.50h1.00M161.00 84.50h1.00M173.00 84.50h1.00M201.00 84.50h1.00M152.00 85.50h1.00M172.00 85.50h1.00M175.00 85.50h1.00M187.00 85.50h1.00M194.00 85.50h1.00M205.00 85.50h1.00M211.00 85.50h1.00M225.00 87.50h1.00M134.00 90.50h2.00M139.00 90.50h2.00M154.00 90.50h1.00M160.00 90.50h1.00M166.00 90.50h1.00M170.00 90.50h1.00M177.00 90.50h1.00M193.00 90.50h1.00M211.00 90.50h1.00M163.00 91.50h1.00M168.00 91.50h1.00M189.00 91.50h2.00M201.00 91.50h1.00M226.00 93.50h1.00M220.00 94.50h1.00M226.00 94.50h1.00M145.00 97.50h1.00M176.00 97.50h1.00" stroke="#8c0a07" stroke-width="1.05" fill="none"/>
<path d="M140.00 16.50h2.00M159.00 16.50h1.00M177.00 16.50h1.00M200.00 16.50h1.00M203.00 16.50h2.00M156.00 17.50h1.00M158.00 17.50h1.00M174.00 17.50h1.00M150.00 18.50h2.00M163.00 18.50h1.00M176.00 18.50h1.00M192.00 18.50h2.00M207.00 18.50h1.00M167.00 19.50h1.00M175.00 19.50h1.00M205.00 19.50h1.00M213.00 19.50h3.00M141.00 20.50h1.00M160.00 20.50h1.00M176.00 20.50h1.00M185.00 20.50h1.00M187.00 20.50h1.00M192.00 20.50h1.00M211.00 20.50h2.00M217.00 20.50h1.00M141.00 21.50h1.00M147.00 21.50h1.00M155.00 22.50h2.00M193.00 22.50h1.00M141.00 23.50h1.00M145.00 23.50h1.00M196.00 23.50h1.00M202.00 23.50h1.00M213.00 23.50h1.00M147.00 24.50h1.00M152.00 24.50h2.00M158.00 24.50h1.00M163.00 24.50h1.00M173.00 24.50h1.00M181.00 24.50h1.00M186.00 24.50h1.00M197.00 24.50h1.00M148.00 25.50h1.00M150.00 25.50h1.00M168.00 25.50h1.00M184.00 25.50h1.00M187.00 25.50h1.00M190.00 25.50h1.00M214.00 25.50h1.00M139.00 26.50h1.00M144.00 26.50h1.00M156.00 26.50h1.00M162.00 26.50h1.00M166.00 26.50h1.00M138.00 27.50h1.00M195.00 27.50h2.00M207.00 27.50h1.00M143.00 28.50h1.00M154.00 28.50h1.00M167.00 28.50h1.00M194.00 28.50h2.00M205.00 28.50h1.00M139.00 29.50h1.00M154.00 29.50h1.00M174.00 29.50h1.00M204.00 29.50h1.00M212.00 29.50h1.00M214.00 29.50h1.00M216.00 29.50h1.00M168.00 30.50h1.00M203.00 30.50h1.00M220.00 30.50h2.00M139.00 31.50h1.00M152.00 31.50h1.00M166.00 31.50h1.00M178.00 31.50h1.00M195.00 31.50h1.00M209.00 31.50h1.00M216.00 31.50h1.00M168.00 32.50h3.00M205.00 32.50h1.00M213.00 32.50h1.00M225.00 32.50h1.00M174.00 33.50h1.00M193.00 33.50h1.00M196.00 33.50h1.00M198.00 33.50h1.00M141.00 34.50h1.00M149.00 34.50h1.00M153.00 34.50h1.00M159.00 34.50h1.00M180.00 34.50h1.00M210.00 34.50h1.00M214.00 34.50h1.00M218.00 34.50h1.00M134.00 35.50h1.00M136.00 35.50h1.00M150.00 35.50h1.00M156.00 35.50h1.00M167.00 35.50h1.00M175.00 35.50h1.00M193.00 35.50h1.00M138.00 36.50h1.00M206.00 36.50h1.00M166.00 37.50h2.00M170.00 37.50h1.00M193.00 37.50h1.00M208.00 37.50h1.00M216.00 37.50h1.00M212.00 38.50h1.00M217.00 38.50h1.00M207.00 39.50h1.00M216.00 39.50h1.00M211.00 40.50h1.00M214.00 40.50h1.00M202.00 41.50h1.00M222.00 41.50h1.00M135.00 42.50h1.00M137.00 42.50h1.00M139.00 42.50h3.00M212.00 42.50h2.00M146.00 43.50h1.00M161.00 43.50h1.00M166.00 43.50h1.00M188.00 43.50h1.00M159.00 44.50h1.00M171.00 44.50h1.00M174.00 44.50h1.00M177.00 44.50h1.00M180.00 44.50h1.00M187.00 44.50h1.00M201.00 44.50h1.00M204.00 44.50h1.00M214.00 44.50h2.00M147.00 45.50h1.00M155.00 45.50h1.00M172.00 45.50h1.00M175.00 45.50h1.00M178.00 45.50h1.00M190.00 45.50h1.00M144.00 46.50h1.00M148.00 46.50h1.00M206.00 46.50h1.00M220.00 46.50h2.00M225.00 46.50h1.00M141.00 47.50h2.00M144.00 47.50h1.00M149.00 47.50h3.00M178.00 47.50h1.00M184.00 47.50h1.00M182.00 48.50h1.00M195.00 48.50h1.00M213.00 48.50h1.00M215.00 48.50h1.00M148.00 49.50h1.00M152.00 49.50h3.00M208.00 49.50h1.00M141.00 50.50h1.00M148.00 50.50h1.00M167.00 50.50h1.00M170.00 50.50h1.00M185.00 50.50h1.00M198.00 50.50h1.00M209.00 50.50h1.00M215.00 50.50h1.00M189.00 51.50h1.00M201.00 51.50h1.00M166.00 52.50h3.00M213.00 52.50h1.00M161.00 53.50h1.00M176.00 53.50h1.00M215.00 54.50h1.00M220.00 54.50h1.00M222.00 54.50h1.00M192.00 57.50h1.00M145.00 58.50h1.00M163.00 58.50h1.00M169.00 58.50h1.00M181.00 58.50h1.00M186.00 58.50h1.00M192.00 58.50h1.00M194.00 58.50h1.00M221.00 58.50h1.00M135.00 59.50h1.00M138.00 61.50h2.00M159.00 62.50h1.00M214.00 62.50h1.00M214.00 63.50h1.00M214.00 64.50h2.00M223.00 65.50h1.00M212.00 70.50h1.00M135.00 71.50h1.00M144.00 71.50h3.00M221.00 71.50h1.00M223.00 72.50h2.00M149.00 74.50h1.00M220.00 74.50h4.00M226.00 74.50h1.00M134.00 75.50h2.00M221.00 76.50h1.00M173.00 77.50h1.00M135.00 80.50h1.00M225.00 80.50h1.00M135.00 81.50h1.00M223.00 81.50h1.00M138.00 84.50h1.00M142.00 84.50h1.00M163.00 84.50h1.00M179.00 84.50h1.00M187.00 84.50h1.00M189.00 84.50h1.00M196.00 84.50h1.00M203.00 84.50h1.00M205.00 84.50h1.00M207.00 84.50h1.00M138.00 85.50h1.00M142.00 85.50h1.00M149.00 85.50h1.00M162.00 85.50h1.00M173.00 85.50h2.00M208.00 85.50h3.00M149.00 87.50h1.00M220.00 87.50h1.00M136.00 90.50h2.00M141.00 90.50h1.00M156.00 90.50h1.00M164.00 90.50h1.00M174.00 90.50h1.00M192.00 90.50h1.00M195.00 90.50h1.00M200.00 90.50h1.00M141.00 91.50h1.00M154.00 91.50h1.00M175.00 91.50h2.00M186.00 91.50h1.00M188.00 91.50h1.00M191.00 91.50h1.00M199.00 91.50h2.00M209.00 91.50h2.00M222.00 93.50h1.00M221.00 94.50h1.00" stroke="#780b06" stroke-width="1.05" fill="none"/>
<path d="M142.00 16.50h1.00M144.00 16.50h1.00M146.00 16.50h1.00M156.00 16.50h1.00M170.00 16.50h1.00M176.00 16.50h1.00M191.00 16.50h1.00M137.00 17.50h1.00M139.00 17.50h1.00M147.00 17.50h1.00M153.00 17.50h1.00M177.00 17.50h1.00M188.00 17.50h1.00M195.00 17.50h1.00M202.00 17.50h1.00M220.00 17.50h1.00M134.00 18.50h1.00M138.00 18.50h1.00M162.00 18.50h1.00M181.00 18.50h1.00M183.00 18.50h1.00M209.00 18.50h1.00M136.00 19.50h1.00M152.00 19.50h2.00M177.00 19.50h1.00M179.00 19.50h1.00M184.00 19.50h2.00M188.00 19.50h1.00M197.00 19.50h1.00M137.00 20.50h3.00M144.00 20.50h1.00M147.00 20.50h1.00M157.00 20.50h1.00M208.00 20.50h1.00M140.00 21.50h1.00M148.00 21.50h1.00M154.00 21.50h1.00M195.00 21.50h2.00M212.00 21.50h1.00M135.00 22.50h1.00M138.00 22.50h1.00M160.00 22.50h1.00M183.00 22.50h1.00M186.00 22.50h2.00M195.00 22.50h1.00M147.00 23.50h1.00M160.00 23.50h1.00M184.00 23.50h1.00M197.00 23.50h1.00M201.00 23.50h1.00M209.00 23.50h1.00M216.00 23.50h1.00M141.00 24.50h2.00M148.00 24.50h1.00M167.00 24.50h1.00M183.00 24.50h3.00M203.00 24.50h1.00M208.00 24.50h1.00M210.00 24.50h1.00M161.00 25.50h1.00M167.00 25.50h1.00M204.00 25.50h1.00M212.00 25.50h1.00M225.00 25.50h1.00M158.00 26.50h1.00M177.00 26.50h1.00M198.00 26.50h1.00M201.00 26.50h1.00M204.00 26.50h1.00M208.00 26.50h1.00M222.00 26.50h1.00M148.00 27.50h1.00M151.00 27.50h2.00M157.00 27.50h1.00M166.00 27.50h1.00M181.00 27.50h1.00M187.00 27.50h1.00M194.00 27.50h1.00M198.00 27.50h1.00M134.00 28.50h2.00M141.00 28.50h1.00M144.00 28.50h1.00M173.00 28.50h1.00M200.00 28.50h1.00M206.00 28.50h1.00M208.00 28.50h1.00M216.00 28.50h1.00M218.00 28.50h2.00M140.00 29.50h1.00M163.00 29.50h1.00M170.00 29.50h1.00M181.00 29.50h1.00M211.00 29.50h1.00M141.00 30.50h1.00M146.00 30.50h1.00M172.00 30.50h1.00M181.00 30.50h1.00M201.00 30.50h1.00M206.00 30.50h1.00M210.00 30.50h1.00M136.00 31.50h1.00M155.00 31.50h1.00M172.00 31.50h1.00M185.00 31.50h2.00M196.00 31.50h1.00M205.00 31.50h1.00M215.00 31.50h1.00M226.00 31.50h1.00M154.00 32.50h2.00M159.00 32.50h1.00M163.00 32.50h1.00M178.00 32.50h1.00M184.00 32.50h1.00M200.00 32.50h1.00M217.00 32.50h1.00M136.00 33.50h1.00M143.00 33.50h1.00M145.00 33.50h1.00M165.00 33.50h1.00M152.00 34.50h1.00M157.00 34.50h1.00M198.00 34.50h1.00M211.00 34.50h1.00M220.00 34.50h1.00M226.00 34.50h1.00M183.00 35.50h1.00M142.00 36.50h1.00M156.00 36.50h1.00M168.00 36.50h1.00M194.00 36.50h1.00M138.00 37.50h1.00M142.00 37.50h1.00M189.00 37.50h1.00M198.00 37.50h2.00M206.00 37.50h1.00M151.00 38.50h1.00M200.00 38.50h1.00M223.00 38.50h1.00M135.00 39.50h1.00M148.00 39.50h1.00M154.00 39.50h1.00M158.00 39.50h1.00M163.00 39.50h1.00M206.00 39.50h1.00M146.00 40.50h1.00M154.00 40.50h1.00M202.00 40.50h1.00M141.00 41.50h1.00M143.00 41.50h1.00M147.00 41.50h1.00M149.00 41.50h1.00M158.00 41.50h1.00M191.00 41.50h1.00M209.00 41.50h2.00M215.00 41.50h2.00M223.00 41.50h1.00M147.00 42.50h1.00M153.00 42.50h1.00M157.00 42.50h1.00M161.00 42.50h1.00M182.00 42.50h1.00M205.00 42.50h1.00M208.00 42.50h1.00M181.00 43.50h1.00M202.00 43.50h1.00M134.00 44.50h1.00M148.00 44.50h1.00M161.00 44.50h1.00M164.00 44.50h1.00M173.00 44.50h1.00M176.00 44.50h1.00M196.00 44.50h1.00M210.00 44.50h1.00M225.00 44.50h1.00M134.00 45.50h1.00M192.00 45.50h1.00M195.00 45.50h2.00M146.00 46.50h1.00M150.00 46.50h1.00M155.00 46.50h1.00M160.00 46.50h1.00M164.00 46.50h1.00M194.00 46.50h1.00M204.00 46.50h1.00M222.00 46.50h2.00M134.00 47.50h1.00M154.00 47.50h1.00M163.00 47.50h1.00M166.00 47.50h1.00M195.00 47.50h1.00M200.00 47.50h1.00M204.00 47.50h1.00M206.00 47.50h1.00M152.00 48.50h3.00M174.00 48.50h3.00M178.00 48.50h1.00M219.00 48.50h1.00M221.00 48.50h1.00M135.00 49.50h1.00M138.00 49.50h1.00M171.00 49.50h1.00M205.00 49.50h1.00M217.00 49.50h1.00M149.00 50.50h1.00M178.00 50.50h1.00M164.00 51.50h1.00M169.00 51.50h1.00M207.00 51.50h2.00M142.00 52.50h1.00M173.00 52.50h1.00M182.00 52.50h1.00M185.00 52.50h2.00M191.00 52.50h1.00M207.00 52.50h1.00M149.00 53.50h1.00M178.00 53.50h1.00M134.00 54.50h1.00M136.00 54.50h1.00M141.00 54.50h1.00M151.00 54.50h1.00M172.00 54.50h1.00M185.00 54.50h1.00M208.00 54.50h1.00M212.00 54.50h2.00M162.00 55.50h1.00M178.00 55.50h1.00M205.00 55.50h1.00M216.00 55.50h1.00M142.00 56.50h1.00M144.00 56.50h1.00M146.00 56.50h1.00M148.00 56.50h1.00M152.00 56.50h2.00M184.00 56.50h1.00M213.00 56.50h1.00M221.00 56.50h1.00M159.00 57.50h1.00M177.00 57.50h3.00M186.00 57.50h2.00M210.00 57.50h1.00M212.00 57.50h1.00M141.00 58.50h1.00M153.00 58.50h1.00M165.00 58.50h1.00M178.00 58.50h1.00M191.00 58.50h1.00M199.00 58.50h1.00M214.00 58.50h2.00M222.00 58.50h1.00M224.00 58.50h1.00M138.00 59.50h1.00M212.00 59.50h1.00M137.00 61.50h1.00M147.00 61.50h2.00M195.00 61.50h1.00M161.00 62.50h1.00M212.00 62.50h1.00M142.00 63.50h1.00M212.00 64.50h2.00M224.00 64.50h1.00M153.00 65.50h1.00M221.00 65.50h1.00M140.00 66.50h1.00M225.00 66.50h1.00M151.00 67.50h1.00M137.00 68.50h1.00M206.00 68.50h1.00M224.00 68.50h1.00M171.00 69.50h1.00M208.00 69.50h1.00M216.00 69.50h1.00M163.00 70.50h2.00M177.00 70.50h1.00M185.00 70.50h1.00M209.00 70.50h1.00M136.00 71.50h1.00M139.00 71.50h1.00M148.00 71.50h1.00M146.00 72.50h1.00M158.00 72.50h1.00M160.00 73.50h1.00M163.00 73.50h1.00M165.00 75.50h1.00M178.00 75.50h1.00M212.00 75.50h1.00M220.00 75.50h1.00M223.00 75.50h1.00M135.00 76.50h1.00M216.00 76.50h1.00M170.00 77.50h1.00M182.00 77.50h1.00M214.00 77.50h1.00M216.00 77.50h1.00M224.00 77.50h1.00M146.00 78.50h1.00M155.00 78.50h1.00M216.00 78.50h1.00M155.00 79.50h1.00M206.00 79.50h1.00M134.00 80.50h1.00M136.00 80.50h1.00M161.00 80.50h1.00M205.00 80.50h1.00M209.00 80.50h1.00M216.00 80.50h1.00M222.00 80.50h2.00M160.00 81.50h2.00M140.00 82.50h1.00M146.00 82.50h1.00M140.00 83.50h1.00M174.00 83.50h2.00M150.00 84.50h1.00M171.00 84.50h1.00M182.00 84.50h3.00M186.00 84.50h1.00M200.00 84.50h1.00M214.00 84.50h2.00M159.00 85.50h1.00M170.00 85.50h1.00M199.00 85.50h1.00M203.00 85.50h2.00M212.00 85.50h1.00M175.00 86.50h1.00M196.00 86.50h1.00M200.00 86.50h2.00M220.00 86.50h1.00M222.00 86.50h1.00M224.00 87.50h1.00M187.00 88.50h1.00M189.00 88.50h2.00M222.00 88.50h1.00M160.00 89.50h1.00M225.00 89.50h1.00M144.00 90.50h1.00M157.00 90.50h2.00M165.00 90.50h1.00M172.00 90.50h1.00M206.00 90.50h2.00M135.00 91.50h1.00M142.00 91.50h1.00M153.00 91.50h1.00M173.00 91.50h1.00M134.00 92.50h3.00M140.00 92.50h1.00M147.00 92.50h1.00M160.00 92.50h1.00M144.00 93.50h1.00M206.00 93.50h1.00M220.00 93.50h1.00M148.00 94.50h1.00M173.00 97.50h1.00M220.00 97.50h1.00" stroke="#3d0c05" stroke-width="1.05" fill="none"/>
<path d="M143.00 16.50h1.00M147.00 16.50h1.00M149.00 16.50h1.00M171.00 16.50h1.00M208.00 16.50h1.00M226.00 16.50h1.00M136.00 17.50h1.00M141.00 17.50h1.00M146.00 17.50h1.00M148.00 17.50h1.00M152.00 17.50h1.00M155.00 17.50h1.00M190.00 17.50h1.00M192.00 17.50h1.00M197.00 17.50h1.00M199.00 17.50h2.00M143.00 18.50h1.00M145.00 18.50h1.00M171.00 18.50h1.00M218.00 18.50h1.00M135.00 19.50h1.00M147.00 19.50h1.00M161.00 19.50h2.00M161.00 20.50h1.00M184.00 20.50h1.00M199.00 20.50h1.00M172.00 21.50h1.00M179.00 21.50h1.00M185.00 21.50h1.00M213.00 21.50h1.00M217.00 21.50h1.00M134.00 22.50h1.00M159.00 22.50h1.00M175.00 22.50h1.00M177.00 22.50h1.00M179.00 22.50h1.00M188.00 22.50h1.00M206.00 22.50h2.00M143.00 23.50h1.00M148.00 23.50h1.00M193.00 23.50h1.00M198.00 23.50h1.00M200.00 23.50h1.00M214.00 23.50h2.00M139.00 24.50h1.00M143.00 24.50h1.00M209.00 24.50h1.00M136.00 25.50h1.00M159.00 25.50h1.00M173.00 25.50h3.00M180.00 25.50h1.00M194.00 25.50h1.00M213.00 25.50h1.00M190.00 26.50h1.00M214.00 26.50h1.00M140.00 27.50h1.00M150.00 27.50h1.00M172.00 27.50h1.00M175.00 27.50h1.00M178.00 27.50h1.00M202.00 27.50h1.00M161.00 28.50h1.00M172.00 28.50h1.00M174.00 28.50h1.00M204.00 28.50h1.00M211.00 28.50h1.00M213.00 28.50h1.00M217.00 28.50h1.00M220.00 28.50h1.00M159.00 29.50h2.00M162.00 29.50h1.00M164.00 29.50h1.00M169.00 29.50h1.00M179.00 29.50h1.00M192.00 29.50h1.00M143.00 30.50h2.00M155.00 30.50h3.00M192.00 30.50h1.00M200.00 30.50h1.00M211.00 30.50h1.00M134.00 31.50h1.00M141.00 31.50h1.00M144.00 31.50h1.00M150.00 31.50h1.00M157.00 31.50h1.00M222.00 31.50h1.00M158.00 32.50h1.00M179.00 32.50h1.00M135.00 33.50h1.00M140.00 33.50h1.00M142.00 33.50h1.00M150.00 34.50h1.00M169.00 34.50h1.00M197.00 34.50h1.00M212.00 34.50h1.00M166.00 35.50h1.00M185.00 35.50h1.00M192.00 35.50h1.00M214.00 35.50h1.00M173.00 36.50h1.00M144.00 37.50h2.00M213.00 37.50h1.00M149.00 38.50h1.00M152.00 38.50h2.00M157.00 38.50h1.00M165.00 38.50h2.00M178.00 38.50h1.00M181.00 38.50h1.00M185.00 38.50h1.00M137.00 39.50h2.00M147.00 39.50h1.00M164.00 39.50h2.00M167.00 39.50h1.00M180.00 39.50h1.00M205.00 39.50h1.00M209.00 39.50h3.00M217.00 39.50h1.00M150.00 40.50h2.00M159.00 40.50h1.00M210.00 40.50h1.00M142.00 41.50h1.00M151.00 41.50h1.00M163.00 41.50h1.00M177.00 41.50h1.00M204.00 41.50h1.00M149.00 42.50h3.00M183.00 42.50h1.00M215.00 42.50h1.00M136.00 43.50h1.00M147.00 43.50h1.00M199.00 43.50h1.00M135.00 44.50h1.00M183.00 44.50h1.00M191.00 44.50h1.00M211.00 44.50h1.00M219.00 44.50h1.00M221.00 44.50h1.00M136.00 45.50h1.00M148.00 45.50h1.00M152.00 45.50h1.00M156.00 45.50h1.00M166.00 45.50h1.00M191.00 45.50h1.00M199.00 45.50h1.00M201.00 45.50h1.00M203.00 45.50h4.00M135.00 46.50h1.00M139.00 46.50h2.00M145.00 46.50h1.00M153.00 46.50h1.00M162.00 46.50h1.00M165.00 46.50h3.00M185.00 46.50h1.00M197.00 46.50h1.00M217.00 46.50h1.00M138.00 47.50h1.00M140.00 47.50h1.00M143.00 47.50h1.00M155.00 47.50h1.00M176.00 47.50h1.00M183.00 47.50h1.00M201.00 47.50h1.00M205.00 47.50h1.00M194.00 48.50h1.00M196.00 48.50h1.00M218.00 48.50h1.00M220.00 48.50h1.00M137.00 49.50h1.00M139.00 49.50h1.00M141.00 49.50h1.00M156.00 49.50h1.00M166.00 49.50h1.00M170.00 49.50h1.00M214.00 49.50h2.00M221.00 49.50h2.00M219.00 50.50h1.00M225.00 50.50h1.00M154.00 51.50h1.00M213.00 51.50h2.00M219.00 51.50h1.00M225.00 51.50h1.00M138.00 52.50h1.00M141.00 52.50h1.00M144.00 52.50h1.00M155.00 52.50h1.00M163.00 52.50h2.00M181.00 52.50h1.00M208.00 52.50h1.00M221.00 52.50h1.00M152.00 53.50h2.00M155.00 53.50h1.00M159.00 53.50h2.00M169.00 53.50h1.00M179.00 53.50h1.00M196.00 53.50h1.00M212.00 53.50h1.00M214.00 53.50h1.00M216.00 53.50h1.00M221.00 53.50h1.00M137.00 54.50h1.00M139.00 54.50h1.00M160.00 54.50h1.00M168.00 54.50h1.00M178.00 54.50h1.00M186.00 54.50h1.00M195.00 54.50h2.00M225.00 54.50h2.00M135.00 55.50h1.00M139.00 55.50h1.00M157.00 55.50h1.00M161.00 55.50h1.00M163.00 55.50h1.00M180.00 55.50h1.00M214.00 55.50h1.00M218.00 55.50h1.00M135.00 56.50h2.00M145.00 56.50h1.00M149.00 56.50h2.00M182.00 56.50h1.00M195.00 56.50h1.00M207.00 56.50h2.00M210.00 56.50h1.00M153.00 57.50h1.00M166.00 57.50h1.00M171.00 57.50h1.00M204.00 57.50h1.00M209.00 57.50h1.00M225.00 57.50h1.00M166.00 58.50h1.00M170.00 58.50h1.00M172.00 58.50h1.00M151.00 59.50h1.00M172.00 59.50h3.00M179.00 59.50h2.00M209.00 59.50h1.00M195.00 60.50h1.00M135.00 61.50h1.00M143.00 61.50h1.00M154.00 61.50h1.00M156.00 61.50h1.00M196.00 61.50h1.00M215.00 61.50h1.00M221.00 61.50h1.00M223.00 61.50h3.00M138.00 62.50h1.00M148.00 62.50h1.00M166.00 62.50h1.00M178.00 62.50h1.00M196.00 62.50h1.00M210.00 62.50h2.00M213.00 62.50h1.00M141.00 63.50h1.00M143.00 63.50h1.00M146.00 63.50h1.00M186.00 63.50h1.00M211.00 63.50h1.00M174.00 64.50h1.00M205.00 64.50h1.00M207.00 64.50h1.00M210.00 64.50h2.00M154.00 65.50h1.00M145.00 66.50h1.00M178.00 66.50h1.00M210.00 66.50h1.00M216.00 66.50h1.00M143.00 67.50h1.00M160.00 67.50h1.00M221.00 67.50h1.00M179.00 68.50h1.00M222.00 68.50h1.00M172.00 69.50h1.00M207.00 69.50h1.00M215.00 69.50h1.00M224.00 69.50h1.00M134.00 70.50h1.00M158.00 70.50h1.00M162.00 70.50h1.00M168.00 70.50h1.00M176.00 70.50h1.00M178.00 70.50h3.00M182.00 70.50h1.00M205.00 70.50h1.00M215.00 70.50h2.00M221.00 70.50h1.00M223.00 70.50h1.00M210.00 71.50h1.00M214.00 71.50h1.00M169.00 72.50h1.00M216.00 72.50h1.00M226.00 72.50h1.00M161.00 73.50h1.00M215.00 73.50h1.00M154.00 74.50h1.00M139.00 75.50h1.00M146.00 76.50h1.00M214.00 76.50h1.00M220.00 76.50h1.00M134.00 77.50h1.00M169.00 77.50h1.00M179.00 77.50h1.00M145.00 78.50h1.00M150.00 78.50h1.00M159.00 78.50h1.00M223.00 78.50h1.00M134.00 79.50h2.00M154.00 79.50h1.00M156.00 79.50h1.00M158.00 79.50h1.00M220.00 79.50h1.00M144.00 80.50h1.00M174.00 80.50h1.00M207.00 80.50h2.00M195.00 81.50h2.00M226.00 81.50h1.00M138.00 82.50h2.00M142.00 82.50h1.00M151.00 82.50h1.00M189.00 82.50h1.00M196.00 82.50h1.00M156.00 83.50h1.00M160.00 83.50h1.00M166.00 83.50h3.00M151.00 84.50h1.00M166.00 84.50h1.00M177.00 84.50h1.00M180.00 84.50h1.00M216.00 84.50h1.00M222.00 84.50h2.00M225.00 84.50h2.00M143.00 85.50h1.00M151.00 85.50h1.00M158.00 85.50h1.00M164.00 85.50h1.00M200.00 85.50h1.00M214.00 85.50h1.00M224.00 85.50h1.00M226.00 85.50h1.00M142.00 86.50h1.00M190.00 86.50h1.00M192.00 86.50h1.00M208.00 86.50h1.00M147.00 87.50h1.00M150.00 87.50h1.00M186.00 87.50h1.00M186.00 88.50h1.00M212.00 89.50h1.00M180.00 90.50h1.00M182.00 90.50h1.00M199.00 90.50h1.00M138.00 91.50h1.00M151.00 91.50h2.00M183.00 91.50h1.00M220.00 91.50h1.00M225.00 91.50h1.00M137.00 92.50h1.00M149.00 92.50h1.00M158.00 92.50h1.00M163.00 92.50h1.00M143.00 93.50h1.00M167.00 93.50h1.00M180.00 93.50h1.00M205.00 93.50h1.00M159.00 94.50h1.00M145.00 95.50h1.00M215.00 95.50h2.00M224.00 95.50h1.00M160.00 96.50h1.00M167.00 96.50h1.00M174.00 96.50h1.00M179.00 96.50h1.00M170.00 97.50h1.00M221.00 97.50h1.00M224.00 97.50h1.00" stroke="#2c0d04" stroke-width="1.05" fill="none"/>
<path d="M145.00 16.50h1.00M148.00 16.50h1.00M157.00 16.50h2.00M194.00 16.50h1.00M197.00 16.50h2.00M225.00 16.50h1.00M138.00 17.50h1.00M154.00 17.50h1.00M157.00 17.50h1.00M159.00 17.50h1.00M176.00 17.50h1.00M184.00 17.50h2.00M201.00 17.50h1.00M221.00 17.50h1.00M223.00 17.50h1.00M164.00 18.50h1.00M191.00 18.50h1.00M198.00 18.50h1.00M211.00 18.50h1.00M142.00 19.50h1.00M155.00 19.50h1.00M166.00 19.50h1.00M211.00 19.50h1.00M218.00 19.50h1.00M220.00 19.50h1.00M222.00 19.50h1.00M142.00 20.50h1.00M164.00 20.50h1.00M193.00 20.50h1.00M203.00 20.50h2.00M213.00 20.50h1.00M160.00 21.50h1.00M168.00 21.50h1.00M137.00 22.50h1.00M148.00 22.50h1.00M153.00 22.50h2.00M204.00 22.50h1.00M140.00 23.50h1.00M142.00 23.50h1.00M175.00 23.50h1.00M194.00 23.50h1.00M203.00 23.50h1.00M217.00 23.50h1.00M136.00 24.50h1.00M138.00 24.50h1.00M144.00 24.50h2.00M151.00 24.50h1.00M175.00 24.50h1.00M205.00 24.50h1.00M212.00 24.50h1.00M139.00 25.50h1.00M147.00 25.50h1.00M152.00 25.50h1.00M177.00 25.50h1.00M186.00 25.50h1.00M189.00 25.50h1.00M192.00 25.50h1.00M196.00 25.50h1.00M206.00 25.50h2.00M224.00 25.50h1.00M136.00 26.50h1.00M161.00 26.50h1.00M176.00 26.50h1.00M183.00 26.50h1.00M188.00 26.50h1.00M196.00 26.50h1.00M223.00 26.50h1.00M137.00 27.50h1.00M139.00 27.50h1.00M161.00 27.50h1.00M164.00 27.50h1.00M177.00 27.50h1.00M180.00 27.50h1.00M185.00 27.50h1.00M188.00 27.50h1.00M197.00 27.50h1.00M200.00 27.50h1.00M204.00 27.50h1.00M214.00 27.50h1.00M159.00 28.50h1.00M165.00 28.50h2.00M169.00 28.50h1.00M191.00 28.50h1.00M197.00 28.50h3.00M210.00 28.50h1.00M214.00 28.50h1.00M155.00 29.50h1.00M215.00 29.50h1.00M226.00 29.50h1.00M142.00 30.50h1.00M169.00 30.50h1.00M182.00 30.50h1.00M186.00 30.50h1.00M202.00 30.50h1.00M140.00 31.50h1.00M151.00 31.50h1.00M154.00 31.50h1.00M156.00 31.50h1.00M165.00 31.50h1.00M169.00 31.50h1.00M191.00 31.50h2.00M161.00 32.50h1.00M164.00 32.50h1.00M175.00 32.50h3.00M189.00 32.50h2.00M192.00 32.50h2.00M195.00 32.50h1.00M215.00 32.50h1.00M219.00 32.50h1.00M149.00 33.50h2.00M152.00 33.50h1.00M176.00 33.50h1.00M211.00 33.50h1.00M136.00 34.50h1.00M140.00 34.50h1.00M156.00 34.50h1.00M213.00 34.50h1.00M152.00 35.50h1.00M211.00 35.50h3.00M136.00 36.50h1.00M199.00 36.50h1.00M212.00 36.50h1.00M139.00 37.50h1.00M143.00 37.50h1.00M150.00 37.50h1.00M184.00 37.50h1.00M197.00 37.50h1.00M218.00 37.50h1.00M158.00 38.50h1.00M180.00 38.50h1.00M201.00 38.50h1.00M203.00 38.50h1.00M216.00 38.50h1.00M145.00 39.50h1.00M153.00 39.50h1.00M152.00 40.50h2.00M186.00 40.50h1.00M204.00 40.50h1.00M148.00 41.50h1.00M154.00 41.50h1.00M206.00 41.50h1.00M211.00 41.50h1.00M217.00 41.50h2.00M224.00 41.50h1.00M144.00 42.50h1.00M162.00 42.50h1.00M195.00 42.50h1.00M210.00 42.50h2.00M214.00 42.50h1.00M216.00 42.50h1.00M138.00 43.50h1.00M148.00 43.50h1.00M150.00 43.50h1.00M172.00 43.50h1.00M190.00 43.50h3.00M197.00 43.50h2.00M201.00 43.50h1.00M144.00 44.50h1.00M147.00 44.50h1.00M158.00 44.50h1.00M178.00 44.50h1.00M185.00 44.50h1.00M212.00 44.50h2.00M216.00 44.50h1.00M220.00 44.50h1.00M138.00 45.50h1.00M144.00 45.50h1.00M153.00 45.50h1.00M182.00 45.50h1.00M193.00 45.50h1.00M202.00 45.50h1.00M208.00 45.50h1.00M134.00 46.50h1.00M159.00 46.50h1.00M173.00 46.50h1.00M190.00 46.50h1.00M203.00 46.50h1.00M218.00 46.50h1.00M167.00 47.50h1.00M171.00 47.50h1.00M175.00 47.50h1.00M182.00 47.50h1.00M188.00 47.50h1.00M196.00 47.50h1.00M217.00 48.50h1.00M225.00 48.50h1.00M146.00 49.50h1.00M155.00 49.50h1.00M209.00 49.50h2.00M216.00 49.50h1.00M224.00 49.50h3.00M140.00 50.50h1.00M171.00 50.50h2.00M181.00 50.50h1.00M214.00 50.50h1.00M170.00 51.50h1.00M190.00 51.50h1.00M206.00 51.50h1.00M143.00 52.50h1.00M154.00 52.50h1.00M156.00 52.50h1.00M160.00 52.50h1.00M177.00 52.50h1.00M203.00 52.50h2.00M212.00 52.50h1.00M145.00 53.50h1.00M167.00 53.50h1.00M174.00 53.50h1.00M219.00 53.50h1.00M135.00 54.50h1.00M138.00 54.50h1.00M152.00 54.50h1.00M173.00 54.50h1.00M175.00 54.50h2.00M160.00 55.50h1.00M219.00 55.50h1.00M138.00 56.50h1.00M143.00 56.50h1.00M147.00 56.50h1.00M151.00 56.50h1.00M190.00 56.50h1.00M211.00 56.50h1.00M218.00 56.50h2.00M167.00 57.50h1.00M193.00 57.50h1.00M208.00 57.50h1.00M213.00 57.50h1.00M223.00 57.50h1.00M144.00 58.50h1.00M147.00 58.50h1.00M149.00 58.50h1.00M180.00 58.50h1.00M193.00 58.50h1.00M200.00 58.50h1.00M223.00 58.50h1.00M208.00 59.50h1.00M223.00 59.50h1.00M201.00 60.50h1.00M142.00 61.50h1.00M155.00 61.50h1.00M158.00 62.50h1.00M179.00 62.50h1.00M144.00 63.50h1.00M212.00 63.50h1.00M215.00 63.50h1.00M223.00 63.50h1.00M137.00 64.50h2.00M213.00 65.50h2.00M222.00 65.50h1.00M224.00 65.50h1.00M141.00 66.50h1.00M143.00 66.50h1.00M179.00 66.50h1.00M209.00 66.50h1.00M220.00 67.50h1.00M225.00 67.50h1.00M181.00 70.50h1.00M214.00 70.50h1.00M222.00 70.50h1.00M143.00 71.50h1.00M147.00 71.50h1.00M160.00 72.50h1.00M222.00 72.50h1.00M148.00 74.50h1.00M166.00 75.50h1.00M175.00 76.50h1.00M226.00 76.50h1.00M195.00 77.50h1.00M223.00 77.50h1.00M156.00 78.50h1.00M224.00 78.50h1.00M141.00 80.50h1.00M145.00 80.50h1.00M206.00 80.50h1.00M141.00 82.50h1.00M190.00 82.50h2.00M141.00 83.50h1.00M158.00 84.50h1.00M167.00 84.50h1.00M190.00 84.50h1.00M192.00 84.50h1.00M208.00 84.50h1.00M221.00 84.50h1.00M144.00 85.50h1.00M161.00 85.50h1.00M182.00 85.50h1.00M201.00 85.50h1.00M207.00 85.50h1.00M216.00 85.50h1.00M221.00 85.50h1.00M156.00 86.50h1.00M148.00 87.50h1.00M141.00 88.50h1.00M188.00 88.50h1.00M142.00 90.50h2.00M148.00 90.50h2.00M152.00 90.50h1.00M161.00 90.50h1.00M169.00 90.50h1.00M176.00 90.50h1.00M183.00 90.50h1.00M194.00 90.50h1.00M208.00 90.50h1.00M212.00 90.50h1.00M216.00 90.50h1.00M136.00 91.50h1.00M162.00 91.50h1.00M166.00 91.50h1.00M197.00 91.50h1.00M203.00 91.50h1.00M208.00 91.50h1.00M138.00 92.50h1.00M159.00 92.50h1.00M145.00 93.50h1.00M179.00 93.50h1.00M221.00 93.50h1.00M223.00 93.50h1.00M175.00 96.50h2.00M178.00 96.50h1.00M171.00 97.50h1.00M185.00 97.50h1.00M225.00 97.50h1.00" stroke="#500c05" stroke-width="1.05" fill="none"/>
<path d="M160.00 16.50h1.00M178.00 16.50h1.00M199.00 16.50h1.00M206.00 16.50h2.00M179.00 17.50h1.00M189.00 17.50h1.00M196.00 17.50h1.00M222.00 17.50h1.00M226.00 17.50h1.00M147.00 18.50h1.00M152.00 18.50h2.00M155.00 18.50h2.00M174.00 18.50h1.00M177.00 18.50h1.00M190.00 18.50h1.00M202.00 18.50h1.00M137.00 19.50h1.00M156.00 19.50h1.00M174.00 19.50h1.00M176.00 19.50h1.00M192.00 19.50h3.00M207.00 19.50h1.00M210.00 19.50h1.00M212.00 19.50h1.00M221.00 19.50h1.00M140.00 20.50h1.00M145.00 20.50h1.00M148.00 20.50h1.00M183.00 20.50h1.00M209.00 20.50h1.00M218.00 20.50h1.00M155.00 21.50h1.00M205.00 21.50h1.00M149.00 22.50h2.00M157.00 22.50h1.00M185.00 22.50h1.00M194.00 22.50h1.00M205.00 22.50h1.00M144.00 23.50h1.00M140.00 24.50h1.00M159.00 24.50h1.00M162.00 24.50h1.00M164.00 24.50h2.00M198.00 24.50h1.00M202.00 24.50h1.00M221.00 24.50h2.00M151.00 25.50h1.00M154.00 25.50h1.00M156.00 25.50h1.00M160.00 25.50h1.00M169.00 25.50h1.00M179.00 25.50h1.00M182.00 25.50h2.00M191.00 25.50h1.00M195.00 25.50h1.00M199.00 25.50h1.00M202.00 25.50h1.00M208.00 25.50h1.00M218.00 25.50h1.00M135.00 26.50h1.00M155.00 26.50h1.00M181.00 26.50h2.00M189.00 26.50h1.00M200.00 26.50h1.00M207.00 26.50h1.00M136.00 27.50h1.00M149.00 27.50h1.00M153.00 27.50h1.00M160.00 27.50h1.00M165.00 27.50h1.00M171.00 27.50h1.00M179.00 27.50h1.00M208.00 27.50h1.00M210.00 27.50h1.00M218.00 27.50h1.00M142.00 28.50h1.00M147.00 28.50h1.00M151.00 28.50h1.00M184.00 28.50h1.00M192.00 28.50h2.00M212.00 28.50h1.00M156.00 29.50h1.00M176.00 29.50h1.00M206.00 29.50h1.00M218.00 29.50h1.00M225.00 29.50h1.00M145.00 30.50h1.00M170.00 30.50h1.00M185.00 30.50h1.00M207.00 30.50h1.00M135.00 31.50h1.00M137.00 31.50h1.00M194.00 31.50h1.00M206.00 31.50h1.00M213.00 31.50h1.00M219.00 31.50h1.00M153.00 32.50h1.00M162.00 32.50h1.00M191.00 32.50h1.00M206.00 32.50h1.00M216.00 32.50h1.00M218.00 32.50h1.00M221.00 32.50h1.00M224.00 32.50h1.00M139.00 33.50h1.00M141.00 33.50h1.00M146.00 33.50h1.00M151.00 33.50h1.00M173.00 33.50h1.00M175.00 33.50h1.00M142.00 34.50h1.00M165.00 34.50h1.00M170.00 34.50h1.00M186.00 34.50h1.00M147.00 35.50h1.00M162.00 35.50h1.00M168.00 35.50h1.00M189.00 35.50h1.00M135.00 36.50h1.00M137.00 36.50h1.00M143.00 36.50h1.00M145.00 36.50h1.00M154.00 36.50h2.00M193.00 36.50h1.00M200.00 36.50h1.00M204.00 36.50h1.00M211.00 36.50h1.00M218.00 36.50h1.00M140.00 37.50h1.00M171.00 37.50h1.00M183.00 37.50h1.00M188.00 37.50h1.00M207.00 37.50h1.00M214.00 37.50h1.00M159.00 38.50h1.00M211.00 38.50h1.00M218.00 38.50h1.00M222.00 38.50h1.00M143.00 39.50h1.00M146.00 39.50h1.00M188.00 39.50h2.00M208.00 39.50h1.00M206.00 40.50h1.00M215.00 40.50h2.00M144.00 41.50h1.00M150.00 41.50h1.00M205.00 41.50h1.00M207.00 41.50h1.00M158.00 42.50h1.00M160.00 42.50h1.00M206.00 42.50h1.00M139.00 43.50h1.00M149.00 43.50h1.00M174.00 43.50h1.00M180.00 43.50h1.00M182.00 43.50h2.00M186.00 43.50h1.00M194.00 43.50h1.00M206.00 43.50h1.00M154.00 44.50h1.00M157.00 44.50h1.00M162.00 44.50h1.00M170.00 44.50h1.00M217.00 44.50h1.00M173.00 45.50h1.00M176.00 45.50h1.00M179.00 45.50h1.00M200.00 45.50h1.00M141.00 46.50h1.00M154.00 46.50h1.00M168.00 46.50h1.00M183.00 46.50h1.00M193.00 46.50h1.00M195.00 46.50h1.00M198.00 46.50h1.00M207.00 46.50h2.00M224.00 46.50h1.00M164.00 47.50h2.00M207.00 47.50h1.00M177.00 48.50h1.00M216.00 48.50h1.00M169.00 50.50h1.00M173.00 50.50h1.00M176.00 50.50h2.00M197.00 50.50h1.00M213.00 50.50h1.00M171.00 51.50h3.00M176.00 51.50h1.00M194.00 51.50h1.00M196.00 51.50h1.00M199.00 51.50h1.00M174.00 52.50h2.00M178.00 52.50h1.00M217.00 52.50h2.00M146.00 53.50h1.00M150.00 53.50h1.00M185.00 53.50h1.00M218.00 53.50h1.00M148.00 54.50h1.00M194.00 54.50h1.00M134.00 55.50h1.00M158.00 55.50h2.00M179.00 55.50h1.00M217.00 55.50h1.00M137.00 56.50h1.00M212.00 56.50h1.00M220.00 56.50h1.00M163.00 57.50h2.00M185.00 57.50h1.00M188.00 57.50h1.00M191.00 57.50h1.00M214.00 57.50h2.00M143.00 58.50h1.00M146.00 58.50h1.00M148.00 58.50h1.00M167.00 58.50h1.00M179.00 58.50h1.00M216.00 58.50h1.00M225.00 58.50h1.00M210.00 59.50h1.00M160.00 61.50h1.00M216.00 62.50h1.00M213.00 63.50h1.00M220.00 63.50h1.00M225.00 65.50h2.00M226.00 66.50h1.00M152.00 67.50h1.00M222.00 67.50h1.00M226.00 67.50h1.00M135.00 68.50h2.00M208.00 70.50h1.00M134.00 71.50h1.00M220.00 72.50h2.00M216.00 73.50h1.00M221.00 75.50h2.00M215.00 76.50h1.00M178.00 77.50h1.00M215.00 77.50h1.00M160.00 78.50h1.00M153.00 79.50h1.00M157.00 79.50h1.00M143.00 80.50h1.00M213.00 80.50h1.00M134.00 81.50h1.00M221.00 81.50h2.00M224.00 81.50h2.00M152.00 82.50h1.00M139.00 84.50h1.00M152.00 84.50h1.00M162.00 84.50h1.00M170.00 84.50h1.00M172.00 84.50h1.00M176.00 84.50h1.00M191.00 84.50h1.00M204.00 84.50h1.00M155.00 85.50h3.00M163.00 85.50h1.00M171.00 85.50h1.00M186.00 85.50h1.00M188.00 85.50h1.00M190.00 85.50h1.00M193.00 85.50h1.00M206.00 85.50h1.00M215.00 85.50h1.00M222.00 85.50h1.00M143.00 86.50h1.00M223.00 87.50h1.00M159.00 89.50h1.00M150.00 90.50h2.00M153.00 90.50h1.00M159.00 90.50h1.00M162.00 90.50h2.00M175.00 90.50h1.00M190.00 90.50h1.00M203.00 90.50h1.00M134.00 91.50h1.00M143.00 91.50h2.00M165.00 91.50h1.00M172.00 91.50h1.00M185.00 91.50h1.00M193.00 91.50h1.00M198.00 91.50h1.00M202.00 91.50h1.00M211.00 91.50h3.00M223.00 91.50h2.00M177.00 96.50h1.00M146.00 97.50h1.00" stroke="#640b06" stroke-width="1.05" fill="none"/>
<path d="M165.00 16.50h2.00M181.00 16.50h1.00M183.00 16.50h1.00M211.00 16.50h1.00M143.00 17.50h1.00M163.00 17.50h1.00M210.00 17.50h1.00M217.00 17.50h3.00M220.00 18.50h1.00M149.00 19.50h1.00M182.00 19.50h1.00M200.00 19.50h2.00M152.00 20.50h2.00M223.00 20.50h1.00M157.00 21.50h1.00M165.00 21.50h1.00M183.00 21.50h1.00M190.00 21.50h1.00M197.00 21.50h1.00M203.00 21.50h1.00M197.00 22.50h1.00M210.00 22.50h2.00M218.00 22.50h1.00M225.00 22.50h1.00M150.00 23.50h1.00M155.00 23.50h1.00M166.00 23.50h1.00M171.00 23.50h1.00M177.00 23.50h2.00M181.00 23.50h1.00M186.00 23.50h1.00M222.00 23.50h1.00M214.00 24.50h1.00M216.00 24.50h1.00M218.00 24.50h1.00M223.00 24.50h1.00M219.00 25.50h1.00M191.00 26.50h1.00M194.00 26.50h1.00M218.00 26.50h1.00M162.00 27.50h1.00M221.00 28.50h1.00M144.00 29.50h2.00M189.00 29.50h1.00M219.00 29.50h1.00M221.00 29.50h2.00M224.00 29.50h1.00M135.00 30.50h1.00M152.00 30.50h2.00M162.00 30.50h1.00M174.00 30.50h1.00M215.00 30.50h1.00M218.00 30.50h1.00M183.00 31.50h1.00M198.00 31.50h1.00M141.00 32.50h1.00M144.00 32.50h1.00M148.00 32.50h1.00M181.00 32.50h1.00M222.00 33.50h1.00M225.00 35.50h1.00M211.00 37.50h1.00M226.00 37.50h1.00M134.00 38.50h4.00M162.00 38.50h1.00M170.00 38.50h1.00M193.00 38.50h1.00M169.00 39.50h1.00M201.00 39.50h1.00M203.00 39.50h1.00M136.00 40.50h1.00M138.00 40.50h1.00M140.00 40.50h1.00M144.00 40.50h1.00M167.00 40.50h1.00M169.00 40.50h1.00M180.00 40.50h2.00M184.00 40.50h1.00M190.00 40.50h1.00M165.00 41.50h1.00M175.00 41.50h1.00M180.00 41.50h1.00M183.00 41.50h2.00M186.00 41.50h1.00M189.00 41.50h1.00M196.00 41.50h1.00M198.00 41.50h1.00M226.00 41.50h1.00M203.00 42.50h1.00M209.00 43.50h1.00M137.00 44.50h1.00M160.00 45.50h3.00M164.00 45.50h1.00M222.00 45.50h1.00M226.00 45.50h1.00M137.00 46.50h1.00M209.00 46.50h1.00M211.00 46.50h1.00M213.00 46.50h1.00M215.00 46.50h1.00M136.00 47.50h1.00M139.00 47.50h1.00M215.00 47.50h3.00M219.00 47.50h1.00M221.00 47.50h1.00M146.00 48.50h1.00M156.00 48.50h1.00M158.00 48.50h1.00M161.00 48.50h3.00M166.00 48.50h2.00M180.00 48.50h1.00M189.00 48.50h1.00M198.00 48.50h1.00M200.00 48.50h1.00M204.00 48.50h1.00M209.00 48.50h1.00M140.00 49.50h1.00M158.00 49.50h1.00M173.00 49.50h1.00M176.00 49.50h1.00M189.00 49.50h1.00M198.00 49.50h1.00M211.00 49.50h1.00M213.00 49.50h1.00M218.00 49.50h1.00M139.00 50.50h1.00M145.00 50.50h1.00M155.00 50.50h1.00M135.00 51.50h1.00M137.00 51.50h1.00M142.00 51.50h1.00M152.00 51.50h1.00M155.00 51.50h1.00M159.00 51.50h3.00M223.00 51.50h1.00M145.00 52.50h1.00M150.00 52.50h1.00M157.00 52.50h1.00M172.00 52.50h1.00M176.00 52.50h1.00M210.00 52.50h1.00M222.00 52.50h1.00M140.00 53.50h1.00M148.00 53.50h1.00M163.00 53.50h1.00M165.00 53.50h1.00M195.00 53.50h1.00M199.00 53.50h1.00M201.00 53.50h1.00M165.00 54.50h1.00M190.00 54.50h2.00M193.00 54.50h1.00M205.00 54.50h1.00M207.00 54.50h1.00M149.00 55.50h2.00M152.00 55.50h1.00M184.00 55.50h1.00M191.00 55.50h1.00M195.00 55.50h1.00M202.00 55.50h1.00M163.00 56.50h1.00M169.00 56.50h1.00M171.00 56.50h1.00M174.00 56.50h1.00M179.00 56.50h1.00M186.00 56.50h1.00M197.00 56.50h4.00M206.00 56.50h1.00M224.00 56.50h1.00M135.00 57.50h1.00M150.00 57.50h1.00M155.00 58.50h1.00M176.00 58.50h1.00M189.00 58.50h1.00M203.00 58.50h1.00M206.00 58.50h1.00M218.00 58.50h1.00M145.00 59.50h1.00M150.00 59.50h1.00M153.00 59.50h1.00M155.00 59.50h1.00M158.00 59.50h1.00M162.00 59.50h1.00M186.00 59.50h1.00M193.00 59.50h1.00M196.00 59.50h1.00M215.00 59.50h1.00M221.00 59.50h1.00M160.00 60.50h2.00M168.00 60.50h2.00M186.00 60.50h1.00M189.00 60.50h1.00M199.00 60.50h1.00M209.00 60.50h1.00M213.00 60.50h1.00M215.00 60.50h1.00M223.00 60.50h1.00M158.00 61.50h1.00M163.00 61.50h1.00M166.00 61.50h1.00M168.00 61.50h2.00M214.00 61.50h1.00M217.00 61.50h1.00M144.00 62.50h1.00M154.00 62.50h1.00M163.00 62.50h2.00M195.00 62.50h1.00M200.00 62.50h3.00M209.00 62.50h1.00M224.00 62.50h1.00M134.00 63.50h1.00M139.00 63.50h1.00M149.00 63.50h1.00M152.00 63.50h1.00M165.00 63.50h1.00M205.00 63.50h1.00M225.00 63.50h1.00M134.00 64.50h1.00M141.00 64.50h2.00M144.00 64.50h2.00M150.00 64.50h1.00M194.00 64.50h1.00M140.00 65.50h1.00M144.00 65.50h1.00M155.00 65.50h2.00M165.00 65.50h1.00M172.00 65.50h1.00M176.00 65.50h2.00M189.00 65.50h1.00M200.00 65.50h2.00M208.00 65.50h1.00M149.00 66.50h1.00M153.00 66.50h1.00M193.00 66.50h1.00M200.00 66.50h1.00M206.00 66.50h1.00M208.00 66.50h1.00M211.00 66.50h1.00M214.00 66.50h1.00M220.00 66.50h1.00M140.00 67.50h1.00M163.00 67.50h1.00M169.00 67.50h1.00M179.00 67.50h1.00M205.00 67.50h1.00M218.00 67.50h1.00M144.00 68.50h1.00M152.00 68.50h1.00M163.00 68.50h1.00M166.00 68.50h1.00M176.00 68.50h1.00M186.00 68.50h2.00M196.00 68.50h1.00M211.00 68.50h3.00M215.00 68.50h1.00M142.00 69.50h1.00M160.00 69.50h1.00M175.00 69.50h1.00M179.00 69.50h1.00M202.00 69.50h1.00M222.00 69.50h1.00M136.00 70.50h1.00M142.00 70.50h1.00M160.00 70.50h2.00M165.00 70.50h1.00M171.00 70.50h1.00M191.00 70.50h1.00M158.00 71.50h1.00M161.00 71.50h1.00M171.00 71.50h1.00M181.00 71.50h1.00M187.00 71.50h1.00M189.00 71.50h1.00M195.00 71.50h2.00M224.00 71.50h1.00M135.00 72.50h1.00M144.00 72.50h1.00M156.00 72.50h1.00M162.00 72.50h2.00M168.00 72.50h1.00M172.00 72.50h2.00M141.00 73.50h1.00M145.00 73.50h1.00M151.00 73.50h2.00M183.00 73.50h1.00M203.00 73.50h1.00M223.00 73.50h1.00M147.00 74.50h1.00M156.00 74.50h1.00M182.00 74.50h1.00M200.00 74.50h2.00M208.00 74.50h1.00M215.00 74.50h1.00M219.00 74.50h1.00M153.00 75.50h1.00M175.00 75.50h1.00M187.00 75.50h1.00M196.00 75.50h2.00M137.00 76.50h1.00M149.00 76.50h2.00M160.00 76.50h1.00M163.00 76.50h1.00M170.00 76.50h1.00M198.00 76.50h1.00M204.00 76.50h1.00M209.00 76.50h1.00M211.00 76.50h1.00M135.00 77.50h1.00M142.00 77.50h1.00M147.00 77.50h1.00M163.00 77.50h1.00M167.00 77.50h1.00M176.00 77.50h1.00M180.00 77.50h1.00M187.00 77.50h1.00M141.00 78.50h1.00M157.00 78.50h1.00M183.00 78.50h1.00M210.00 78.50h2.00M213.00 78.50h2.00M141.00 79.50h1.00M143.00 79.50h1.00M165.00 79.50h1.00M167.00 79.50h1.00M171.00 79.50h3.00M175.00 79.50h1.00M177.00 79.50h1.00M180.00 79.50h1.00M184.00 79.50h1.00M191.00 79.50h1.00M202.00 79.50h1.00M210.00 79.50h1.00M215.00 79.50h1.00M226.00 79.50h1.00M137.00 80.50h1.00M147.00 80.50h1.00M153.00 80.50h1.00M155.00 80.50h1.00M173.00 80.50h1.00M194.00 80.50h1.00M139.00 81.50h1.00M144.00 81.50h1.00M149.00 81.50h1.00M158.00 81.50h1.00M192.00 81.50h1.00M198.00 81.50h1.00M200.00 81.50h3.00M209.00 81.50h1.00M213.00 81.50h2.00M220.00 81.50h1.00M136.00 82.50h1.00M176.00 82.50h1.00M185.00 82.50h2.00M194.00 82.50h1.00M213.00 82.50h1.00M216.00 82.50h1.00M136.00 83.50h1.00M145.00 83.50h2.00M151.00 83.50h1.00M171.00 83.50h1.00M188.00 83.50h1.00M213.00 83.50h1.00M220.00 83.50h1.00M135.00 85.50h1.00M141.00 86.50h1.00M154.00 86.50h1.00M159.00 86.50h1.00M173.00 86.50h1.00M177.00 86.50h1.00M180.00 86.50h1.00M182.00 86.50h1.00M197.00 86.50h1.00M213.00 86.50h1.00M223.00 86.50h1.00M139.00 87.50h1.00M145.00 87.50h1.00M152.00 87.50h1.00M158.00 87.50h1.00M160.00 87.50h1.00M169.00 87.50h1.00M173.00 87.50h1.00M181.00 87.50h1.00M193.00 87.50h1.00M200.00 87.50h1.00M210.00 87.50h1.00M212.00 87.50h1.00M216.00 87.50h1.00M144.00 88.50h1.00M155.00 88.50h1.00M164.00 88.50h1.00M169.00 88.50h1.00M172.00 88.50h2.00M175.00 88.50h1.00M177.00 88.50h1.00M181.00 88.50h1.00M194.00 88.50h1.00M220.00 88.50h1.00M137.00 89.50h1.00M145.00 89.50h1.00M158.00 89.50h1.00M161.00 89.50h1.00M168.00 89.50h1.00M177.00 89.50h2.00M205.00 89.50h1.00M213.00 89.50h1.00M220.00 89.50h1.00M226.00 89.50h1.00M226.00 91.50h1.00M143.00 92.50h1.00M145.00 92.50h1.00M150.00 92.50h1.00M156.00 92.50h1.00M166.00 92.50h1.00M173.00 92.50h1.00M181.00 92.50h1.00M185.00 92.50h1.00M200.00 92.50h1.00M204.00 92.50h1.00M220.00 92.50h1.00M134.00 93.50h1.00M137.00 93.50h1.00M152.00 93.50h2.00M155.00 93.50h2.00M162.00 93.50h1.00M164.00 93.50h2.00M176.00 93.50h1.00M182.00 93.50h1.00M191.00 93.50h1.00M136.00 94.50h1.00M138.00 94.50h1.00M144.00 94.50h1.00M152.00 94.50h1.00M155.00 94.50h1.00M164.00 94.50h1.00M169.00 94.50h1.00M179.00 94.50h2.00M188.00 94.50h1.00M199.00 94.50h1.00M205.00 94.50h1.00M223.00 94.50h1.00M139.00 95.50h1.00M178.00 95.50h2.00M201.00 95.50h1.00M218.00 95.50h2.00M221.00 95.50h1.00M135.00 96.50h1.00M138.00 96.50h1.00M153.00 96.50h1.00M155.00 96.50h1.00M157.00 96.50h1.00M162.00 96.50h1.00M181.00 96.50h1.00M187.00 96.50h1.00M192.00 96.50h1.00M196.00 96.50h1.00M201.00 96.50h1.00M212.00 96.50h1.00M225.00 96.50h1.00M148.00 97.50h1.00M151.00 97.50h1.00M165.00 97.50h2.00M179.00 97.50h1.00M194.00 97.50h1.00M196.00 97.50h1.00M203.00 97.50h1.00M214.00 97.50h1.00M216.00 97.50h1.00" stroke="#103d0b" stroke-width="1.05" fill="none"/>
<path d="M167.00 16.50h1.00M180.00 16.50h1.00M186.00 16.50h1.00M144.00 17.50h1.00M212.00 17.50h2.00M136.00 18.50h2.00M140.00 18.50h1.00M222.00 18.50h1.00M140.00 19.50h1.00M181.00 19.50h1.00M134.00 20.50h1.00M219.00 20.50h1.00M191.00 21.50h1.00M202.00 21.50h1.00M221.00 21.50h1.00M141.00 22.50h1.00M198.00 22.50h1.00M220.00 22.50h1.00M222.00 22.50h1.00M224.00 22.50h1.00M156.00 23.50h2.00M164.00 23.50h1.00M220.00 23.50h2.00M224.00 23.50h2.00M215.00 24.50h1.00M220.00 24.50h1.00M222.00 25.50h1.00M219.00 27.50h1.00M222.00 28.50h1.00M142.00 29.50h1.00M150.00 29.50h2.00M197.00 29.50h1.00M220.00 29.50h1.00M147.00 30.50h2.00M223.00 30.50h1.00M143.00 31.50h1.00M143.00 32.50h1.00M147.00 32.50h1.00M149.00 32.50h1.00M226.00 35.50h1.00M221.00 37.50h1.00M142.00 38.50h1.00M161.00 38.50h1.00M183.00 39.50h1.00M186.00 39.50h1.00M192.00 39.50h2.00M223.00 39.50h1.00M137.00 40.50h1.00M139.00 40.50h1.00M166.00 40.50h1.00M221.00 40.50h1.00M139.00 41.50h1.00M167.00 41.50h1.00M174.00 41.50h1.00M181.00 41.50h1.00M187.00 41.50h2.00M193.00 41.50h1.00M172.00 42.50h1.00M192.00 42.50h2.00M210.00 43.50h1.00M217.00 43.50h1.00M140.00 44.50h1.00M140.00 45.50h2.00M209.00 45.50h2.00M212.00 45.50h1.00M221.00 45.50h1.00M152.00 46.50h1.00M212.00 46.50h1.00M218.00 47.50h1.00M222.00 47.50h3.00M137.00 48.50h1.00M139.00 48.50h1.00M157.00 48.50h1.00M165.00 48.50h1.00M210.00 48.50h1.00M223.00 48.50h1.00M159.00 49.50h1.00M161.00 49.50h3.00M190.00 49.50h1.00M192.00 49.50h1.00M194.00 49.50h1.00M203.00 49.50h1.00M219.00 49.50h2.00M144.00 50.50h1.00M164.00 50.50h1.00M139.00 51.50h1.00M141.00 51.50h1.00M147.00 51.50h1.00M211.00 51.50h1.00M146.00 52.50h1.00M226.00 52.50h1.00M144.00 53.50h1.00M157.00 53.50h1.00M170.00 53.50h1.00M192.00 53.50h1.00M200.00 53.50h1.00M208.00 53.50h2.00M211.00 53.50h1.00M181.00 54.50h1.00M188.00 54.50h1.00M197.00 54.50h2.00M211.00 54.50h1.00M137.00 55.50h1.00M144.00 55.50h2.00M151.00 55.50h1.00M153.00 55.50h2.00M164.00 55.50h1.00M171.00 55.50h2.00M187.00 55.50h1.00M189.00 55.50h2.00M196.00 55.50h1.00M201.00 55.50h1.00M203.00 55.50h2.00M140.00 56.50h1.00M155.00 56.50h1.00M157.00 56.50h2.00M161.00 56.50h1.00M164.00 56.50h2.00M176.00 56.50h1.00M178.00 56.50h1.00M187.00 56.50h1.00M142.00 57.50h1.00M152.00 57.50h1.00M181.00 57.50h1.00M136.00 58.50h1.00M219.00 58.50h1.00M149.00 59.50h1.00M152.00 59.50h1.00M154.00 59.50h1.00M157.00 59.50h1.00M168.00 59.50h1.00M170.00 59.50h1.00M188.00 59.50h1.00M194.00 59.50h1.00M145.00 60.50h1.00M150.00 60.50h1.00M155.00 60.50h1.00M158.00 60.50h1.00M178.00 60.50h1.00M184.00 60.50h2.00M192.00 60.50h1.00M197.00 60.50h1.00M208.00 60.50h1.00M214.00 60.50h1.00M175.00 61.50h1.00M177.00 61.50h1.00M184.00 61.50h1.00M206.00 61.50h1.00M213.00 61.50h1.00M220.00 61.50h1.00M137.00 62.50h1.00M139.00 62.50h1.00M143.00 62.50h1.00M145.00 62.50h1.00M149.00 62.50h1.00M155.00 62.50h2.00M168.00 62.50h1.00M184.00 62.50h1.00M199.00 62.50h1.00M205.00 62.50h1.00M217.00 62.50h1.00M135.00 63.50h1.00M151.00 63.50h1.00M155.00 63.50h1.00M158.00 63.50h1.00M167.00 63.50h1.00M169.00 63.50h1.00M195.00 63.50h1.00M197.00 63.50h1.00M200.00 63.50h1.00M147.00 64.50h1.00M155.00 64.50h1.00M159.00 64.50h2.00M163.00 64.50h1.00M170.00 64.50h1.00M176.00 64.50h2.00M185.00 64.50h2.00M201.00 64.50h1.00M142.00 65.50h2.00M151.00 65.50h1.00M174.00 65.50h2.00M182.00 65.50h1.00M207.00 65.50h1.00M154.00 66.50h1.00M157.00 66.50h1.00M166.00 66.50h1.00M177.00 66.50h1.00M199.00 66.50h1.00M204.00 66.50h1.00M207.00 66.50h1.00M139.00 67.50h1.00M147.00 67.50h2.00M196.00 67.50h1.00M200.00 67.50h1.00M202.00 67.50h1.00M204.00 67.50h1.00M151.00 68.50h1.00M167.00 68.50h1.00M173.00 68.50h1.00M181.00 68.50h1.00M204.00 68.50h1.00M214.00 68.50h1.00M161.00 69.50h1.00M168.00 69.50h1.00M176.00 69.50h1.00M223.00 69.50h1.00M138.00 70.50h1.00M141.00 70.50h1.00M153.00 70.50h1.00M192.00 70.50h1.00M204.00 70.50h1.00M156.00 71.50h1.00M162.00 71.50h1.00M177.00 71.50h2.00M205.00 71.50h1.00M139.00 72.50h1.00M155.00 72.50h1.00M175.00 72.50h1.00M178.00 72.50h2.00M182.00 72.50h1.00M185.00 72.50h1.00M187.00 72.50h1.00M194.00 72.50h1.00M200.00 72.50h2.00M208.00 72.50h1.00M211.00 72.50h1.00M134.00 73.50h1.00M140.00 73.50h1.00M146.00 73.50h1.00M182.00 73.50h1.00M184.00 73.50h1.00M218.00 73.50h1.00M138.00 74.50h1.00M140.00 74.50h1.00M162.00 74.50h1.00M164.00 74.50h1.00M179.00 74.50h1.00M189.00 74.50h1.00M193.00 74.50h2.00M213.00 74.50h1.00M137.00 75.50h1.00M147.00 75.50h1.00M159.00 75.50h2.00M162.00 75.50h1.00M190.00 75.50h1.00M193.00 75.50h2.00M199.00 75.50h1.00M225.00 75.50h1.00M161.00 76.50h1.00M167.00 76.50h1.00M178.00 76.50h1.00M183.00 76.50h1.00M200.00 76.50h1.00M202.00 76.50h1.00M217.00 76.50h1.00M140.00 77.50h1.00M143.00 77.50h1.00M145.00 77.50h1.00M157.00 77.50h1.00M164.00 77.50h1.00M188.00 77.50h2.00M194.00 77.50h1.00M198.00 77.50h1.00M204.00 77.50h1.00M208.00 77.50h2.00M211.00 77.50h1.00M140.00 78.50h1.00M142.00 78.50h1.00M158.00 78.50h1.00M162.00 78.50h1.00M168.00 78.50h1.00M174.00 78.50h1.00M187.00 78.50h1.00M208.00 78.50h1.00M140.00 79.50h1.00M192.00 79.50h1.00M209.00 79.50h1.00M213.00 79.50h1.00M224.00 79.50h2.00M149.00 80.50h1.00M184.00 80.50h1.00M191.00 80.50h2.00M138.00 81.50h1.00M156.00 81.50h1.00M171.00 81.50h1.00M177.00 81.50h1.00M191.00 81.50h1.00M159.00 82.50h1.00M164.00 82.50h1.00M179.00 82.50h1.00M184.00 82.50h1.00M193.00 82.50h1.00M215.00 82.50h1.00M222.00 82.50h1.00M143.00 83.50h1.00M147.00 83.50h1.00M150.00 83.50h1.00M157.00 83.50h2.00M184.00 83.50h2.00M187.00 83.50h1.00M192.00 83.50h1.00M194.00 83.50h3.00M198.00 83.50h3.00M211.00 84.50h1.00M219.00 84.50h1.00M137.00 86.50h1.00M147.00 86.50h1.00M150.00 86.50h2.00M158.00 86.50h1.00M168.00 86.50h1.00M193.00 86.50h2.00M203.00 86.50h1.00M224.00 86.50h1.00M142.00 87.50h3.00M153.00 87.50h1.00M155.00 87.50h1.00M157.00 87.50h1.00M180.00 87.50h1.00M192.00 87.50h1.00M195.00 87.50h1.00M205.00 87.50h1.00M208.00 87.50h1.00M215.00 87.50h1.00M136.00 88.50h1.00M145.00 88.50h1.00M147.00 88.50h1.00M152.00 88.50h1.00M154.00 88.50h1.00M163.00 88.50h1.00M165.00 88.50h1.00M171.00 88.50h1.00M184.00 88.50h1.00M195.00 88.50h1.00M209.00 88.50h1.00M213.00 88.50h1.00M136.00 89.50h1.00M139.00 89.50h1.00M143.00 89.50h1.00M146.00 89.50h1.00M151.00 89.50h1.00M155.00 89.50h1.00M193.00 89.50h1.00M206.00 89.50h2.00M209.00 89.50h1.00M214.00 89.50h1.00M222.00 89.50h1.00M221.00 90.50h1.00M158.00 91.50h1.00M152.00 92.50h1.00M168.00 92.50h2.00M171.00 92.50h1.00M176.00 92.50h1.00M184.00 92.50h1.00M192.00 92.50h2.00M198.00 92.50h1.00M201.00 92.50h3.00M205.00 92.50h1.00M209.00 92.50h1.00M222.00 92.50h1.00M138.00 93.50h3.00M148.00 93.50h1.00M157.00 93.50h1.00M159.00 93.50h2.00M170.00 93.50h1.00M185.00 93.50h1.00M187.00 93.50h1.00M189.00 93.50h1.00M195.00 93.50h1.00M210.00 93.50h2.00M135.00 94.50h1.00M137.00 94.50h1.00M143.00 94.50h1.00M145.00 94.50h1.00M151.00 94.50h1.00M158.00 94.50h1.00M172.00 94.50h2.00M183.00 94.50h1.00M189.00 94.50h1.00M192.00 94.50h1.00M197.00 94.50h1.00M206.00 94.50h1.00M216.00 94.50h1.00M219.00 94.50h1.00M142.00 95.50h2.00M176.00 95.50h2.00M180.00 95.50h1.00M182.00 95.50h3.00M196.00 95.50h1.00M206.00 95.50h1.00M136.00 96.50h1.00M147.00 96.50h1.00M152.00 96.50h1.00M173.00 96.50h1.00M202.00 96.50h1.00M205.00 96.50h1.00M213.00 96.50h1.00M216.00 96.50h1.00M142.00 97.50h2.00M153.00 97.50h1.00M156.00 97.50h1.00M163.00 97.50h1.00M168.00 97.50h1.00M180.00 97.50h3.00M193.00 97.50h1.00M195.00 97.50h1.00M201.00 97.50h2.00M207.00 97.50h1.00M212.00 97.50h1.00" stroke="#124f0d" stroke-width="1.05" fill="none"/>
<path d="M187.00 16.50h2.00M220.00 16.50h1.00M211.00 17.50h1.00M219.00 18.50h1.00M221.00 18.50h1.00M226.00 20.50h1.00M135.00 21.50h1.00M143.00 21.50h1.00M158.00 21.50h1.00M163.00 21.50h1.00M193.00 21.50h1.00M198.00 21.50h1.00M201.00 21.50h1.00M220.00 21.50h1.00M222.00 21.50h1.00M146.00 22.50h1.00M201.00 22.50h1.00M165.00 23.50h1.00M223.00 23.50h1.00M137.00 25.50h1.00M221.00 25.50h1.00M193.00 26.50h1.00M224.00 28.50h1.00M226.00 28.50h1.00M224.00 31.50h1.00M136.00 32.50h1.00M142.00 32.50h1.00M223.00 33.50h1.00M221.00 35.50h1.00M135.00 37.50h1.00M219.00 37.50h1.00M223.00 37.50h1.00M139.00 38.50h1.00M143.00 38.50h1.00M147.00 38.50h1.00M194.00 39.50h1.00M224.00 39.50h2.00M143.00 40.50h1.00M165.00 40.50h1.00M183.00 40.50h1.00M222.00 40.50h1.00M138.00 41.50h1.00M166.00 41.50h1.00M168.00 41.50h1.00M171.00 41.50h2.00M195.00 41.50h1.00M221.00 41.50h1.00M198.00 42.50h2.00M224.00 42.50h1.00M218.00 43.50h1.00M139.00 44.50h1.00M211.00 45.50h1.00M213.00 45.50h1.00M215.00 45.50h1.00M218.00 45.50h1.00M136.00 46.50h1.00M214.00 46.50h1.00M199.00 48.50h1.00M160.00 49.50h1.00M193.00 49.50h1.00M197.00 49.50h1.00M222.00 50.50h1.00M140.00 51.50h1.00M143.00 51.50h1.00M151.00 51.50h1.00M212.00 51.50h1.00M222.00 51.50h1.00M149.00 52.50h1.00M137.00 53.50h1.00M158.00 53.50h1.00M166.00 53.50h1.00M205.00 53.50h1.00M144.00 54.50h2.00M158.00 54.50h1.00M156.00 55.50h1.00M173.00 55.50h1.00M186.00 55.50h1.00M188.00 55.50h1.00M193.00 55.50h1.00M225.00 55.50h2.00M170.00 56.50h1.00M181.00 56.50h1.00M201.00 56.50h1.00M158.00 57.50h1.00M180.00 57.50h1.00M157.00 58.50h2.00M204.00 58.50h1.00M156.00 59.50h1.00M167.00 59.50h1.00M187.00 59.50h1.00M204.00 59.50h1.00M213.00 59.50h1.00M226.00 59.50h1.00M157.00 60.50h1.00M171.00 60.50h1.00M180.00 60.50h1.00M198.00 60.50h1.00M210.00 60.50h2.00M171.00 61.50h1.00M182.00 61.50h1.00M193.00 61.50h1.00M198.00 61.50h1.00M204.00 61.50h1.00M153.00 62.50h1.00M170.00 62.50h1.00M181.00 62.50h2.00M185.00 62.50h1.00M204.00 62.50h1.00M222.00 62.50h1.00M226.00 62.50h1.00M138.00 63.50h1.00M150.00 63.50h1.00M156.00 63.50h1.00M168.00 63.50h1.00M184.00 63.50h1.00M194.00 63.50h1.00M201.00 63.50h1.00M219.00 63.50h1.00M146.00 64.50h1.00M154.00 64.50h1.00M171.00 64.50h1.00M178.00 64.50h1.00M189.00 64.50h1.00M191.00 64.50h1.00M138.00 65.50h1.00M146.00 65.50h2.00M169.00 65.50h1.00M178.00 65.50h1.00M193.00 65.50h1.00M195.00 65.50h2.00M198.00 65.50h1.00M205.00 65.50h1.00M209.00 65.50h1.00M217.00 65.50h2.00M134.00 66.50h1.00M148.00 66.50h1.00M168.00 66.50h2.00M180.00 66.50h1.00M188.00 66.50h1.00M192.00 66.50h1.00M201.00 66.50h2.00M223.00 66.50h1.00M136.00 67.50h1.00M149.00 67.50h1.00M155.00 67.50h1.00M173.00 67.50h1.00M180.00 67.50h1.00M197.00 67.50h1.00M139.00 68.50h1.00M145.00 68.50h1.00M156.00 68.50h1.00M172.00 68.50h1.00M182.00 68.50h1.00M217.00 68.50h2.00M136.00 69.50h1.00M153.00 69.50h1.00M155.00 69.50h1.00M157.00 69.50h1.00M174.00 69.50h1.00M178.00 69.50h1.00M180.00 69.50h1.00M194.00 69.50h1.00M196.00 69.50h2.00M199.00 69.50h2.00M203.00 69.50h1.00M205.00 69.50h1.00M221.00 69.50h1.00M145.00 70.50h2.00M148.00 70.50h2.00M154.00 70.50h1.00M154.00 71.50h1.00M157.00 71.50h1.00M164.00 71.50h2.00M186.00 71.50h1.00M200.00 71.50h1.00M217.00 71.50h1.00M143.00 72.50h1.00M186.00 72.50h1.00M189.00 72.50h1.00M197.00 72.50h1.00M199.00 72.50h1.00M212.00 72.50h1.00M218.00 72.50h1.00M135.00 73.50h1.00M158.00 73.50h1.00M166.00 73.50h1.00M168.00 73.50h2.00M178.00 73.50h1.00M201.00 73.50h1.00M219.00 73.50h1.00M136.00 74.50h2.00M139.00 74.50h1.00M141.00 74.50h1.00M161.00 74.50h1.00M163.00 74.50h1.00M168.00 74.50h1.00M172.00 74.50h1.00M175.00 74.50h2.00M183.00 74.50h1.00M199.00 74.50h1.00M214.00 74.50h1.00M217.00 74.50h2.00M156.00 75.50h1.00M173.00 75.50h1.00M188.00 75.50h1.00M204.00 75.50h1.00M219.00 75.50h1.00M226.00 75.50h1.00M136.00 76.50h1.00M172.00 76.50h1.00M180.00 76.50h1.00M182.00 76.50h1.00M189.00 76.50h1.00M138.00 77.50h1.00M184.00 77.50h2.00M196.00 77.50h1.00M135.00 78.50h2.00M153.00 78.50h1.00M163.00 78.50h1.00M173.00 78.50h1.00M176.00 78.50h2.00M182.00 78.50h1.00M184.00 78.50h1.00M139.00 79.50h1.00M149.00 79.50h1.00M166.00 79.50h1.00M181.00 79.50h1.00M186.00 79.50h1.00M200.00 79.50h1.00M211.00 79.50h1.00M140.00 80.50h1.00M170.00 80.50h2.00M179.00 80.50h1.00M186.00 80.50h1.00M217.00 80.50h1.00M137.00 81.50h1.00M176.00 81.50h1.00M178.00 81.50h2.00M181.00 81.50h1.00M197.00 81.50h1.00M203.00 81.50h1.00M206.00 81.50h1.00M155.00 82.50h2.00M158.00 82.50h1.00M161.00 82.50h1.00M168.00 82.50h1.00M171.00 82.50h2.00M182.00 82.50h1.00M205.00 82.50h1.00M212.00 82.50h1.00M217.00 82.50h1.00M144.00 83.50h1.00M153.00 83.50h1.00M163.00 83.50h1.00M197.00 83.50h1.00M217.00 83.50h1.00M134.00 84.50h2.00M137.00 85.50h1.00M140.00 86.50h1.00M146.00 86.50h1.00M148.00 86.50h1.00M178.00 86.50h1.00M184.00 86.50h1.00M198.00 86.50h1.00M209.00 86.50h1.00M219.00 86.50h1.00M136.00 87.50h1.00M141.00 87.50h1.00M161.00 87.50h2.00M168.00 87.50h1.00M176.00 87.50h1.00M183.00 87.50h1.00M191.00 87.50h1.00M196.00 87.50h1.00M213.00 87.50h1.00M157.00 88.50h1.00M170.00 88.50h1.00M183.00 88.50h1.00M196.00 88.50h1.00M217.00 88.50h1.00M142.00 89.50h1.00M144.00 89.50h1.00M147.00 89.50h1.00M167.00 89.50h1.00M169.00 89.50h1.00M179.00 89.50h1.00M188.00 89.50h1.00M192.00 89.50h1.00M196.00 89.50h1.00M202.00 89.50h1.00M204.00 89.50h1.00M211.00 89.50h1.00M216.00 89.50h1.00M222.00 90.50h1.00M159.00 91.50h1.00M144.00 92.50h1.00M154.00 92.50h1.00M170.00 92.50h1.00M206.00 92.50h1.00M215.00 92.50h1.00M223.00 92.50h1.00M147.00 93.50h1.00M158.00 93.50h1.00M172.00 93.50h1.00M186.00 93.50h1.00M193.00 93.50h1.00M198.00 93.50h1.00M200.00 93.50h1.00M202.00 93.50h1.00M204.00 93.50h1.00M214.00 93.50h1.00M219.00 93.50h1.00M139.00 94.50h3.00M165.00 94.50h1.00M178.00 94.50h1.00M184.00 94.50h1.00M190.00 94.50h2.00M195.00 94.50h1.00M200.00 94.50h1.00M207.00 94.50h1.00M214.00 94.50h1.00M138.00 95.50h1.00M148.00 95.50h2.00M155.00 95.50h2.00M158.00 95.50h1.00M189.00 95.50h2.00M198.00 95.50h2.00M163.00 96.50h2.00M171.00 96.50h1.00M204.00 96.50h1.00M211.00 96.50h1.00M215.00 96.50h1.00M221.00 96.50h1.00M162.00 97.50h1.00M197.00 97.50h1.00M204.00 97.50h1.00M206.00 97.50h1.00M208.00 97.50h2.00M211.00 97.50h1.00M215.00 97.50h1.00M218.00 97.50h1.00" stroke="#146110" stroke-width="1.05" fill="none"/>
<path d="M195.00 16.50h1.00M149.00 18.50h1.00M154.00 18.50h1.00M170.00 18.50h1.00M189.00 18.50h1.00M194.00 18.50h1.00M205.00 18.50h1.00M214.00 18.50h1.00M144.00 19.50h3.00M158.00 19.50h1.00M168.00 19.50h1.00M189.00 19.50h1.00M195.00 19.50h1.00M208.00 19.50h1.00M178.00 20.50h1.00M182.00 20.50h1.00M186.00 20.50h1.00M146.00 21.50h1.00M168.00 24.50h1.00M172.00 24.50h1.00M182.00 24.50h1.00M200.00 24.50h2.00M149.00 25.50h1.00M217.00 25.50h1.00M138.00 26.50h1.00M141.00 26.50h1.00M150.00 26.50h1.00M160.00 26.50h1.00M171.00 26.50h1.00M173.00 26.50h1.00M175.00 26.50h1.00M212.00 27.50h1.00M216.00 27.50h1.00M146.00 28.50h1.00M189.00 28.50h1.00M177.00 29.50h1.00M164.00 31.50h1.00M168.00 31.50h1.00M186.00 32.50h1.00M209.00 32.50h2.00M138.00 33.50h1.00M157.00 33.50h1.00M186.00 33.50h1.00M194.00 33.50h1.00M202.00 33.50h1.00M206.00 33.50h1.00M213.00 33.50h1.00M143.00 34.50h2.00M147.00 34.50h1.00M184.00 34.50h1.00M190.00 34.50h1.00M192.00 34.50h1.00M140.00 35.50h1.00M154.00 35.50h1.00M177.00 35.50h1.00M181.00 35.50h2.00M196.00 35.50h1.00M203.00 35.50h1.00M209.00 35.50h1.00M146.00 36.50h1.00M174.00 36.50h1.00M177.00 36.50h1.00M184.00 36.50h1.00M195.00 36.50h1.00M198.00 36.50h1.00M217.00 36.50h1.00M148.00 37.50h2.00M168.00 37.50h1.00M194.00 37.50h1.00M202.00 38.50h1.00M213.00 38.50h1.00M152.00 39.50h1.00M214.00 41.50h1.00M151.00 43.50h1.00M155.00 43.50h1.00M160.00 43.50h1.00M164.00 43.50h1.00M184.00 43.50h2.00M207.00 43.50h1.00M172.00 44.50h1.00M181.00 44.50h1.00M188.00 44.50h1.00M202.00 44.50h2.00M207.00 44.50h1.00M167.00 45.50h1.00M171.00 45.50h1.00M183.00 45.50h1.00M186.00 45.50h1.00M142.00 46.50h2.00M172.00 46.50h1.00M174.00 46.50h1.00M192.00 46.50h1.00M146.00 47.50h1.00M156.00 47.50h1.00M168.00 50.50h1.00M174.00 50.50h1.00M199.00 50.50h1.00M168.00 51.50h1.00M203.00 51.50h1.00M205.00 51.50h1.00M169.00 52.50h1.00M193.00 52.50h1.00M216.00 52.50h1.00M162.00 57.50h1.00M169.00 57.50h1.00M190.00 57.50h1.00M162.00 58.50h1.00M183.00 58.50h1.00M195.00 58.50h1.00M197.00 58.50h1.00M171.00 77.50h1.00M214.00 80.50h1.00M140.00 84.50h1.00M144.00 84.50h1.00M168.00 84.50h2.00M188.00 84.50h1.00M139.00 85.50h1.00M145.00 85.50h2.00M180.00 85.50h2.00M191.00 85.50h1.00M221.00 87.50h2.00M155.00 90.50h1.00M191.00 90.50h1.00M201.00 90.50h1.00M145.00 91.50h1.00M147.00 91.50h1.00M164.00 91.50h1.00M177.00 91.50h2.00M187.00 91.50h1.00M214.00 91.50h1.00M216.00 91.50h1.00M224.00 93.50h1.00M225.00 94.50h1.00" stroke="#b70908" stroke-width="1.05" fill="none"/>
<path d="M142.00 17.50h1.00M223.00 18.50h2.00M226.00 19.50h1.00M137.00 21.50h1.00M192.00 21.50h1.00M199.00 21.50h1.00M144.00 22.50h1.00M223.00 22.50h1.00M163.00 23.50h1.00M220.00 25.50h1.00M219.00 26.50h1.00M225.00 26.50h2.00M225.00 27.50h1.00M223.00 28.50h1.00M146.00 29.50h1.00M225.00 30.50h2.00M138.00 32.50h1.00M224.00 33.50h1.00M219.00 35.50h1.00M222.00 36.50h1.00M226.00 36.50h1.00M134.00 37.50h1.00M136.00 41.50h1.00M169.00 41.50h2.00M173.00 41.50h1.00M194.00 41.50h1.00M199.00 41.50h1.00M173.00 42.50h1.00M223.00 42.50h1.00M214.00 43.50h1.00M216.00 43.50h1.00M223.00 43.50h1.00M136.00 48.50h1.00M143.00 48.50h1.00M145.00 48.50h1.00M137.00 50.50h1.00M151.00 50.50h2.00M157.00 50.50h1.00M165.00 50.50h1.00M158.00 51.50h1.00M221.00 51.50h1.00M147.00 52.50h1.00M151.00 52.50h1.00M164.00 53.50h1.00M206.00 53.50h1.00M199.00 54.50h1.00M203.00 54.50h2.00M192.00 55.50h1.00M200.00 55.50h1.00M156.00 56.50h1.00M168.00 56.50h1.00M173.00 56.50h1.00M137.00 57.50h1.00M146.00 57.50h1.00M201.00 57.50h1.00M156.00 58.50h1.00M209.00 58.50h1.00M212.00 58.50h1.00M148.00 59.50h1.00M169.00 59.50h1.00M191.00 59.50h1.00M198.00 59.50h1.00M206.00 59.50h1.00M214.00 59.50h1.00M140.00 60.50h1.00M146.00 60.50h1.00M149.00 60.50h1.00M156.00 60.50h1.00M177.00 60.50h1.00M181.00 60.50h1.00M167.00 61.50h1.00M185.00 61.50h1.00M188.00 61.50h1.00M192.00 61.50h1.00M203.00 61.50h1.00M150.00 62.50h3.00M169.00 62.50h1.00M171.00 62.50h1.00M189.00 62.50h1.00M203.00 62.50h1.00M157.00 63.50h1.00M163.00 63.50h1.00M170.00 63.50h2.00M175.00 63.50h1.00M177.00 63.50h1.00M183.00 63.50h1.00M193.00 63.50h1.00M199.00 63.50h1.00M217.00 63.50h2.00M226.00 63.50h1.00M140.00 64.50h1.00M156.00 64.50h2.00M204.00 64.50h1.00M137.00 65.50h1.00M139.00 65.50h1.00M162.00 65.50h3.00M166.00 65.50h1.00M181.00 65.50h1.00M191.00 65.50h1.00M203.00 65.50h1.00M219.00 65.50h1.00M155.00 66.50h1.00M159.00 66.50h1.00M167.00 66.50h1.00M174.00 66.50h1.00M187.00 66.50h1.00M195.00 66.50h1.00M212.00 66.50h1.00M187.00 67.50h1.00M191.00 67.50h2.00M198.00 67.50h2.00M207.00 67.50h1.00M211.00 67.50h1.00M213.00 67.50h1.00M219.00 67.50h1.00M143.00 68.50h1.00M153.00 68.50h1.00M169.00 68.50h1.00M185.00 68.50h1.00M135.00 69.50h1.00M137.00 69.50h2.00M146.00 69.50h1.00M148.00 69.50h2.00M156.00 69.50h1.00M166.00 69.50h1.00M173.00 69.50h1.00M181.00 69.50h1.00M184.00 69.50h1.00M198.00 69.50h1.00M201.00 69.50h1.00M218.00 69.50h1.00M151.00 70.50h1.00M188.00 70.50h1.00M201.00 70.50h2.00M218.00 70.50h1.00M150.00 71.50h4.00M155.00 71.50h1.00M175.00 71.50h1.00M183.00 71.50h1.00M194.00 71.50h1.00M203.00 71.50h1.00M207.00 71.50h1.00M136.00 72.50h1.00M152.00 72.50h2.00M180.00 72.50h1.00M188.00 72.50h1.00M198.00 72.50h1.00M205.00 72.50h1.00M219.00 72.50h1.00M139.00 73.50h1.00M144.00 73.50h1.00M147.00 73.50h1.00M154.00 73.50h1.00M177.00 73.50h1.00M180.00 73.50h2.00M204.00 73.50h1.00M208.00 73.50h2.00M142.00 74.50h2.00M157.00 74.50h1.00M166.00 74.50h1.00M174.00 74.50h1.00M181.00 74.50h1.00M195.00 74.50h1.00M202.00 74.50h1.00M149.00 75.50h2.00M154.00 75.50h1.00M161.00 75.50h1.00M163.00 75.50h1.00M176.00 75.50h1.00M191.00 75.50h1.00M217.00 75.50h1.00M144.00 76.50h1.00M166.00 76.50h1.00M171.00 76.50h1.00M173.00 76.50h1.00M184.00 76.50h1.00M165.00 77.50h1.00M186.00 77.50h1.00M191.00 77.50h1.00M202.00 77.50h1.00M205.00 77.50h2.00M134.00 78.50h1.00M178.00 78.50h1.00M188.00 78.50h2.00M205.00 78.50h1.00M207.00 78.50h1.00M218.00 78.50h1.00M136.00 79.50h1.00M150.00 79.50h1.00M160.00 79.50h1.00M162.00 79.50h1.00M190.00 79.50h1.00M201.00 79.50h1.00M203.00 79.50h1.00M139.00 80.50h1.00M152.00 80.50h1.00M175.00 80.50h3.00M182.00 80.50h1.00M203.00 80.50h1.00M170.00 81.50h1.00M172.00 81.50h4.00M185.00 81.50h1.00M199.00 81.50h1.00M212.00 81.50h1.00M166.00 82.50h2.00M169.00 82.50h1.00M197.00 82.50h2.00M200.00 82.50h1.00M202.00 82.50h2.00M208.00 82.50h1.00M137.00 83.50h1.00M181.00 83.50h1.00M189.00 83.50h1.00M208.00 83.50h1.00M212.00 83.50h1.00M210.00 84.50h1.00M217.00 84.50h2.00M217.00 85.50h1.00M152.00 86.50h1.00M189.00 87.50h2.00M194.00 87.50h1.00M206.00 87.50h1.00M209.00 87.50h1.00M218.00 87.50h2.00M153.00 88.50h1.00M198.00 88.50h3.00M205.00 88.50h2.00M210.00 88.50h1.00M212.00 88.50h1.00M141.00 89.50h1.00M149.00 89.50h1.00M164.00 89.50h1.00M172.00 89.50h2.00M176.00 89.50h1.00M186.00 89.50h1.00M218.00 91.50h1.00M180.00 92.50h1.00M194.00 92.50h1.00M197.00 92.50h1.00M207.00 92.50h1.00M210.00 92.50h1.00M214.00 92.50h1.00M217.00 92.50h1.00M173.00 93.50h1.00M183.00 93.50h1.00M188.00 93.50h1.00M192.00 93.50h1.00M218.00 93.50h1.00M134.00 94.50h1.00M142.00 94.50h1.00M204.00 94.50h1.00M215.00 94.50h1.00M134.00 95.50h2.00M147.00 95.50h1.00M150.00 95.50h1.00M159.00 95.50h1.00M161.00 95.50h1.00M170.00 95.50h3.00M200.00 95.50h1.00M210.00 95.50h1.00M137.00 96.50h1.00M144.00 96.50h1.00M169.00 96.50h2.00M183.00 96.50h1.00M186.00 96.50h1.00M188.00 96.50h1.00M191.00 96.50h1.00M203.00 96.50h1.00M220.00 96.50h1.00M152.00 97.50h1.00M161.00 97.50h1.00M190.00 97.50h1.00M210.00 97.50h1.00" stroke="#167412" stroke-width="1.05" fill="none"/>
<path d="M175.00 17.50h1.00M224.00 17.50h2.00M188.00 18.50h1.00M208.00 18.50h1.00M160.00 19.50h1.00M164.00 19.50h1.00M191.00 19.50h1.00M168.00 20.50h1.00M179.00 20.50h1.00M211.00 23.50h1.00M146.00 24.50h1.00M156.00 24.50h1.00M188.00 24.50h1.00M192.00 24.50h1.00M196.00 24.50h1.00M141.00 25.50h1.00M144.00 25.50h2.00M205.00 25.50h1.00M215.00 25.50h2.00M148.00 26.50h2.00M152.00 26.50h1.00M172.00 26.50h1.00M179.00 26.50h1.00M205.00 29.50h1.00M205.00 30.50h1.00M146.00 31.50h1.00M161.00 31.50h1.00M160.00 32.50h1.00M173.00 32.50h1.00M197.00 32.50h2.00M155.00 33.50h1.00M169.00 33.50h1.00M183.00 33.50h1.00M187.00 33.50h1.00M190.00 33.50h1.00M204.00 33.50h1.00M210.00 33.50h1.00M161.00 34.50h1.00M178.00 34.50h1.00M182.00 34.50h1.00M188.00 34.50h1.00M139.00 35.50h1.00M142.00 35.50h1.00M146.00 35.50h1.00M148.00 35.50h1.00M170.00 35.50h1.00M172.00 35.50h1.00M178.00 35.50h1.00M202.00 35.50h1.00M206.00 35.50h2.00M151.00 36.50h1.00M158.00 36.50h1.00M166.00 36.50h2.00M175.00 36.50h1.00M183.00 36.50h1.00M210.00 36.50h1.00M151.00 37.50h1.00M182.00 37.50h1.00M195.00 37.50h1.00M204.00 38.50h1.00M210.00 38.50h1.00M214.00 38.50h2.00M151.00 39.50h1.00M212.00 39.50h1.00M212.00 40.50h1.00M213.00 41.50h1.00M145.00 42.50h1.00M169.00 45.50h1.00M189.00 45.50h1.00M149.00 46.50h1.00M181.00 46.50h2.00M157.00 47.50h1.00M168.00 47.50h1.00M170.00 47.50h1.00M185.00 47.50h1.00M196.00 50.50h1.00M206.00 50.50h1.00M208.00 50.50h1.00M177.00 51.50h1.00M181.00 51.50h1.00M200.00 51.50h1.00M204.00 51.50h1.00M215.00 51.50h1.00M217.00 51.50h1.00M195.00 52.50h1.00M202.00 52.50h1.00M205.00 52.50h1.00M221.00 54.50h1.00M216.00 56.50h1.00M161.00 58.50h1.00M182.00 58.50h1.00M184.00 58.50h2.00M221.00 63.50h1.00M210.00 70.50h1.00M225.00 76.50h1.00M146.00 84.50h2.00M149.00 84.50h1.00M156.00 84.50h2.00M176.00 85.50h3.00M145.00 90.50h2.00M189.00 90.50h1.00M197.00 90.50h1.00M194.00 91.50h3.00" stroke="#cd0908" stroke-width="1.05" fill="none"/>
<path d="M175.00 18.50h1.00M196.00 18.50h1.00M212.00 18.50h2.00M190.00 19.50h1.00M159.00 20.50h1.00M174.00 20.50h1.00M190.00 20.50h1.00M195.00 20.50h1.00M202.00 20.50h1.00M212.00 23.50h1.00M179.00 24.50h1.00M199.00 24.50h1.00M146.00 25.50h1.00M145.00 26.50h1.00M154.00 26.50h1.00M174.00 26.50h1.00M217.00 27.50h1.00M178.00 28.50h1.00M162.00 31.50h1.00M167.00 31.50h1.00M208.00 31.50h1.00M221.00 31.50h1.00M154.00 33.50h1.00M177.00 33.50h2.00M184.00 33.50h2.00M199.00 33.50h1.00M205.00 33.50h1.00M217.00 33.50h1.00M138.00 34.50h2.00M160.00 34.50h1.00M175.00 34.50h1.00M177.00 34.50h1.00M191.00 34.50h1.00M204.00 34.50h1.00M208.00 34.50h1.00M138.00 35.50h1.00M145.00 35.50h1.00M149.00 35.50h1.00M153.00 35.50h1.00M171.00 35.50h1.00M187.00 35.50h2.00M204.00 35.50h2.00M178.00 36.50h1.00M180.00 36.50h1.00M214.00 36.50h1.00M175.00 37.50h2.00M190.00 37.50h1.00M192.00 37.50h1.00M215.00 39.50h1.00M152.00 43.50h1.00M167.00 43.50h1.00M195.00 43.50h1.00M182.00 44.50h1.00M206.00 44.50h1.00M208.00 44.50h1.00M146.00 45.50h1.00M188.00 45.50h1.00M205.00 46.50h1.00M158.00 47.50h1.00M179.00 47.50h1.00M175.00 50.50h1.00M192.00 50.50h1.00M216.00 50.50h1.00M218.00 50.50h1.00M166.00 51.50h1.00M184.00 51.50h1.00M186.00 51.50h1.00M160.00 57.50h1.00M222.00 76.50h1.00M148.00 84.50h1.00M153.00 84.50h2.00M175.00 84.50h1.00M194.00 84.50h1.00M140.00 85.50h1.00M197.00 85.50h1.00M168.00 90.50h1.00M185.00 90.50h4.00M196.00 90.50h1.00M146.00 91.50h1.00M149.00 91.50h1.00M180.00 91.50h1.00" stroke="#e30809" stroke-width="1.05" fill="none"/>
<path d="M195.00 18.50h1.00M159.00 19.50h1.00M169.00 19.50h2.00M169.00 20.50h3.00M175.00 20.50h1.00M200.00 20.50h2.00M169.00 24.50h3.00M178.00 24.50h1.00M180.00 24.50h1.00M189.00 24.50h3.00M193.00 24.50h3.00M143.00 25.50h1.00M146.00 26.50h2.00M163.00 26.50h2.00M152.00 28.50h1.00M177.00 28.50h1.00M179.00 28.50h4.00M188.00 28.50h1.00M160.00 31.50h1.00M220.00 31.50h1.00M172.00 32.50h1.00M174.00 32.50h1.00M208.00 32.50h1.00M159.00 33.50h6.00M179.00 33.50h4.00M188.00 33.50h2.00M200.00 33.50h2.00M208.00 33.50h2.00M214.00 33.50h3.00M145.00 34.50h2.00M174.00 34.50h1.00M179.00 34.50h1.00M203.00 34.50h1.00M205.00 34.50h1.00M143.00 35.50h2.00M158.00 35.50h3.00M169.00 35.50h1.00M174.00 35.50h1.00M179.00 35.50h2.00M194.00 35.50h2.00M208.00 35.50h1.00M148.00 36.50h3.00M159.00 36.50h7.00M179.00 36.50h1.00M185.00 36.50h7.00M208.00 36.50h2.00M215.00 36.50h2.00M153.00 37.50h1.00M158.00 37.50h7.00M177.00 37.50h3.00M205.00 38.50h5.00M213.00 39.50h2.00M212.00 41.50h1.00M153.00 43.50h2.00M157.00 43.50h3.00M168.00 43.50h3.00M176.00 43.50h1.00M146.00 44.50h1.00M205.00 44.50h1.00M184.00 45.50h1.00M169.00 46.50h3.00M177.00 46.50h3.00M200.00 46.50h2.00M159.00 47.50h3.00M169.00 47.50h1.00M186.00 47.50h1.00M208.00 47.50h1.00M188.00 50.50h1.00M190.00 50.50h2.00M195.00 50.50h1.00M200.00 50.50h6.00M207.00 50.50h1.00M217.00 50.50h1.00M178.00 51.50h3.00M182.00 51.50h2.00M185.00 51.50h1.00M187.00 51.50h2.00M196.00 52.50h1.00M200.00 52.50h2.00M161.00 57.50h1.00M168.00 57.50h1.00M160.00 58.50h1.00M196.00 58.50h1.00M223.00 76.50h2.00M141.00 84.50h1.00M145.00 84.50h1.00M155.00 84.50h1.00M174.00 84.50h1.00M141.00 85.50h1.00M195.00 85.50h2.00M184.00 90.50h1.00M210.00 90.50h1.00M148.00 91.50h1.00M179.00 91.50h1.00M215.00 91.50h1.00" stroke="#fa080a" stroke-width="1.05" fill="none"/>
<path d="M225.00 18.50h2.00M223.00 19.50h1.00M136.00 21.50h1.00M219.00 21.50h1.00M219.00 22.50h1.00M221.00 22.50h1.00M225.00 28.50h1.00M149.00 29.50h1.00M149.00 30.50h1.00M223.00 31.50h1.00M139.00 32.50h1.00M219.00 36.50h1.00M221.00 36.50h1.00M225.00 36.50h1.00M199.00 39.50h1.00M226.00 39.50h1.00M219.00 41.50h1.00M226.00 42.50h1.00M215.00 43.50h1.00M221.00 43.50h2.00M214.00 45.50h1.00M220.00 45.50h1.00M134.00 48.50h1.00M156.00 51.50h1.00M189.00 52.50h1.00M193.00 53.50h1.00M189.00 54.50h1.00M202.00 54.50h1.00M147.00 55.50h1.00M197.00 55.50h1.00M199.00 55.50h1.00M160.00 56.50h1.00M162.00 56.50h1.00M172.00 56.50h1.00M225.00 56.50h1.00M136.00 57.50h1.00M143.00 57.50h2.00M147.00 57.50h1.00M151.00 57.50h1.00M142.00 59.50h2.00M163.00 59.50h1.00M197.00 59.50h1.00M199.00 59.50h1.00M218.00 59.50h1.00M134.00 60.50h2.00M148.00 60.50h1.00M174.00 60.50h2.00M191.00 60.50h1.00M204.00 60.50h1.00M206.00 60.50h1.00M181.00 61.50h1.00M212.00 61.50h1.00M142.00 62.50h1.00M176.00 62.50h1.00M188.00 62.50h1.00M194.00 62.50h1.00M219.00 62.50h1.00M181.00 63.50h1.00M198.00 63.50h1.00M202.00 63.50h1.00M158.00 64.50h1.00M161.00 64.50h2.00M192.00 64.50h1.00M197.00 64.50h1.00M200.00 64.50h1.00M202.00 64.50h1.00M167.00 65.50h1.00M173.00 65.50h1.00M179.00 65.50h1.00M183.00 65.50h2.00M190.00 65.50h1.00M192.00 65.50h1.00M194.00 65.50h1.00M197.00 65.50h1.00M137.00 66.50h1.00M147.00 66.50h1.00M165.00 66.50h1.00M170.00 66.50h1.00M181.00 66.50h1.00M186.00 66.50h1.00M203.00 66.50h1.00M213.00 66.50h1.00M137.00 67.50h1.00M183.00 67.50h1.00M206.00 67.50h1.00M140.00 68.50h1.00M142.00 68.50h1.00M155.00 68.50h1.00M168.00 68.50h1.00M170.00 68.50h1.00M184.00 68.50h1.00M219.00 68.50h1.00M141.00 69.50h1.00M143.00 69.50h2.00M165.00 69.50h1.00M183.00 69.50h1.00M204.00 69.50h1.00M137.00 70.50h1.00M150.00 70.50h1.00M193.00 70.50h1.00M163.00 71.50h1.00M168.00 71.50h1.00M172.00 71.50h1.00M180.00 71.50h1.00M185.00 71.50h1.00M190.00 71.50h2.00M197.00 71.50h1.00M201.00 71.50h1.00M204.00 71.50h1.00M138.00 72.50h1.00M151.00 72.50h1.00M176.00 72.50h1.00M181.00 72.50h1.00M183.00 72.50h1.00M190.00 72.50h2.00M203.00 72.50h1.00M136.00 73.50h1.00M138.00 73.50h1.00M143.00 73.50h1.00M157.00 73.50h1.00M185.00 73.50h1.00M197.00 73.50h1.00M169.00 74.50h1.00M171.00 74.50h1.00M180.00 74.50h1.00M187.00 74.50h1.00M192.00 74.50h1.00M141.00 75.50h1.00M151.00 75.50h1.00M155.00 75.50h1.00M182.00 75.50h1.00M184.00 75.50h1.00M189.00 75.50h1.00M203.00 75.50h1.00M206.00 75.50h1.00M218.00 75.50h1.00M142.00 76.50h1.00M151.00 76.50h1.00M156.00 76.50h1.00M181.00 76.50h1.00M186.00 76.50h1.00M190.00 76.50h2.00M197.00 76.50h1.00M199.00 76.50h1.00M201.00 76.50h1.00M136.00 77.50h1.00M139.00 77.50h1.00M158.00 77.50h1.00M197.00 77.50h1.00M203.00 77.50h1.00M164.00 78.50h1.00M167.00 78.50h1.00M193.00 78.50h1.00M199.00 78.50h1.00M201.00 78.50h1.00M206.00 78.50h1.00M138.00 79.50h1.00M147.00 79.50h1.00M161.00 79.50h1.00M176.00 79.50h1.00M196.00 79.50h1.00M223.00 79.50h1.00M138.00 80.50h1.00M150.00 80.50h2.00M180.00 80.50h1.00M197.00 80.50h1.00M150.00 81.50h1.00M186.00 81.50h1.00M190.00 81.50h1.00M204.00 81.50h1.00M210.00 81.50h2.00M217.00 81.50h1.00M170.00 82.50h1.00M181.00 82.50h1.00M201.00 82.50h1.00M204.00 82.50h1.00M207.00 82.50h1.00M209.00 82.50h1.00M218.00 82.50h1.00M178.00 83.50h1.00M180.00 83.50h1.00M190.00 83.50h1.00M209.00 83.50h1.00M218.00 83.50h1.00M136.00 85.50h1.00M153.00 86.50h1.00M189.00 86.50h1.00M212.00 86.50h1.00M135.00 87.50h1.00M164.00 87.50h1.00M167.00 87.50h1.00M202.00 87.50h1.00M211.00 87.50h1.00M137.00 88.50h1.00M146.00 88.50h1.00M158.00 88.50h1.00M162.00 88.50h1.00M168.00 88.50h1.00M201.00 88.50h1.00M140.00 89.50h1.00M148.00 89.50h1.00M174.00 89.50h1.00M184.00 89.50h2.00M187.00 89.50h1.00M203.00 89.50h1.00M215.00 89.50h1.00M217.00 90.50h1.00M219.00 90.50h1.00M189.00 92.50h1.00M161.00 93.50h1.00M163.00 93.50h1.00M184.00 93.50h1.00M196.00 93.50h1.00M203.00 93.50h1.00M156.00 94.50h1.00M166.00 94.50h1.00M168.00 94.50h1.00M194.00 94.50h1.00M202.00 94.50h2.00M208.00 94.50h1.00M218.00 94.50h1.00M157.00 95.50h1.00M160.00 95.50h1.00M173.00 95.50h3.00M181.00 95.50h1.00M195.00 95.50h1.00M140.00 96.50h1.00M210.00 96.50h1.00M224.00 96.50h1.00M141.00 97.50h1.00M157.00 97.50h1.00M159.00 97.50h1.00M167.00 97.50h1.00M191.00 97.50h1.00M200.00 97.50h1.00" stroke="#188815" stroke-width="1.05" fill="none"/>
<path d="M224.00 19.50h1.00M144.00 21.50h1.00M225.00 21.50h1.00M145.00 22.50h1.00M137.00 32.50h1.00M223.00 35.50h1.00M226.00 38.50h1.00M221.00 39.50h1.00M219.00 42.50h1.00M222.00 42.50h1.00M219.00 43.50h1.00M225.00 43.50h2.00M155.00 55.50h1.00M166.00 56.50h2.00M180.00 56.50h1.00M145.00 57.50h1.00M164.00 59.50h1.00M189.00 59.50h1.00M219.00 59.50h2.00M136.00 60.50h1.00M138.00 60.50h1.00M172.00 60.50h1.00M217.00 60.50h3.00M187.00 61.50h1.00M173.00 62.50h2.00M183.00 62.50h1.00M186.00 62.50h1.00M193.00 62.50h1.00M218.00 62.50h1.00M136.00 63.50h1.00M162.00 63.50h1.00M172.00 63.50h1.00M179.00 63.50h1.00M203.00 63.50h2.00M184.00 64.50h1.00M134.00 65.50h1.00M136.00 65.50h1.00M168.00 65.50h1.00M156.00 66.50h1.00M186.00 67.50h1.00M193.00 67.50h1.00M141.00 68.50h1.00M147.00 68.50h1.00M150.00 68.50h1.00M154.00 68.50h1.00M183.00 68.50h1.00M197.00 68.50h1.00M134.00 69.50h1.00M139.00 69.50h1.00M145.00 69.50h1.00M147.00 69.50h1.00M152.00 69.50h1.00M186.00 69.50h1.00M190.00 69.50h1.00M152.00 70.50h1.00M219.00 70.50h1.00M173.00 71.50h2.00M176.00 71.50h1.00M198.00 71.50h2.00M202.00 71.50h1.00M206.00 71.50h1.00M192.00 72.50h1.00M207.00 72.50h1.00M148.00 73.50h2.00M172.00 73.50h4.00M194.00 73.50h1.00M198.00 73.50h1.00M151.00 74.50h1.00M158.00 74.50h1.00M160.00 74.50h1.00M165.00 74.50h1.00M167.00 74.50h1.00M184.00 74.50h1.00M186.00 74.50h1.00M196.00 74.50h2.00M183.00 75.50h1.00M157.00 76.50h2.00M192.00 76.50h1.00M195.00 76.50h1.00M137.00 77.50h1.00M162.00 77.50h1.00M166.00 77.50h1.00M190.00 77.50h1.00M192.00 77.50h1.00M207.00 77.50h1.00M181.00 78.50h1.00M190.00 78.50h2.00M200.00 78.50h1.00M137.00 79.50h1.00M198.00 79.50h2.00M217.00 79.50h2.00M202.00 80.50h1.00M154.00 81.50h1.00M186.00 83.50h1.00M191.00 83.50h1.00M204.00 83.50h1.00M219.00 85.50h1.00M160.00 86.50h1.00M211.00 86.50h1.00M134.00 87.50h1.00M166.00 88.50h2.00M197.00 88.50h1.00M211.00 88.50h1.00M150.00 89.50h1.00M170.00 89.50h1.00M175.00 89.50h1.00M189.00 89.50h1.00M217.00 89.50h1.00M213.00 92.50h1.00M219.00 92.50h1.00M197.00 93.50h1.00M217.00 93.50h1.00M193.00 94.50h1.00M213.00 94.50h1.00M136.00 95.50h2.00M162.00 95.50h1.00M206.00 96.50h1.00M209.00 96.50h1.00M192.00 97.50h1.00M198.00 97.50h1.00" stroke="#1db01a" stroke-width="1.05" fill="none"/>
<path d="M225.00 19.50h1.00M222.00 27.50h1.00M226.00 27.50h1.00M220.00 42.50h2.00M202.00 56.50h1.00M137.00 60.50h1.00M173.00 60.50h1.00M141.00 62.50h1.00M173.00 63.50h1.00M180.00 63.50h1.00M161.00 66.50h2.00M198.00 66.50h1.00M193.00 69.50h1.00M190.00 70.50h1.00M194.00 70.50h2.00M150.00 73.50h1.00M170.00 73.50h1.00M190.00 73.50h1.00M152.00 74.50h1.00M185.00 74.50h1.00M142.00 75.50h1.00M193.00 76.50h1.00M166.00 78.50h1.00M179.00 78.50h1.00M192.00 78.50h1.00M195.00 78.50h1.00M202.00 78.50h2.00M197.00 79.50h1.00M219.00 79.50h1.00M188.00 80.50h2.00M201.00 80.50h1.00M189.00 81.50h1.00M202.00 83.50h1.00M161.00 86.50h1.00M165.00 87.50h1.00M197.00 87.50h1.00M203.00 87.50h2.00M165.00 89.50h1.00M190.00 89.50h1.00M190.00 92.50h1.00M212.00 92.50h1.00M212.00 94.50h1.00M192.00 95.50h1.00M194.00 95.50h1.00M212.00 95.50h1.00M198.00 96.50h2.00M223.00 96.50h1.00M217.00 97.50h1.00" stroke="#21da1f" stroke-width="1.05" fill="none"/>
<path d="M220.00 20.50h1.00M222.00 20.50h1.00M223.00 21.50h1.00M226.00 21.50h1.00M140.00 22.50h1.00M220.00 26.50h1.00M148.00 29.50h1.00M139.00 30.50h1.00M224.00 35.50h1.00M223.00 36.50h2.00M225.00 38.50h1.00M219.00 39.50h1.00M223.00 40.50h1.00M137.00 41.50h1.00M225.00 42.50h1.00M220.00 43.50h1.00M224.00 43.50h1.00M135.00 48.50h1.00M144.00 48.50h1.00M204.00 53.50h1.00M207.00 53.50h1.00M200.00 54.50h2.00M165.00 55.50h2.00M198.00 55.50h1.00M210.00 58.50h2.00M144.00 59.50h1.00M166.00 59.50h1.00M190.00 59.50h1.00M176.00 60.50h1.00M176.00 61.50h1.00M183.00 61.50h1.00M186.00 61.50h1.00M202.00 61.50h1.00M207.00 61.50h1.00M140.00 62.50h1.00M172.00 62.50h1.00M175.00 62.50h1.00M187.00 62.50h1.00M137.00 63.50h1.00M160.00 63.50h1.00M174.00 63.50h1.00M176.00 63.50h1.00M178.00 63.50h1.00M179.00 64.50h1.00M198.00 64.50h2.00M203.00 64.50h1.00M217.00 64.50h1.00M219.00 64.50h1.00M135.00 65.50h1.00M199.00 65.50h1.00M210.00 65.50h2.00M135.00 66.50h1.00M158.00 66.50h1.00M164.00 66.50h1.00M175.00 66.50h2.00M189.00 66.50h1.00M217.00 66.50h1.00M188.00 67.50h1.00M195.00 67.50h1.00M146.00 68.50h1.00M148.00 68.50h2.00M171.00 68.50h1.00M198.00 68.50h1.00M140.00 69.50h1.00M182.00 69.50h1.00M187.00 69.50h1.00M191.00 69.50h1.00M139.00 70.50h2.00M200.00 70.50h1.00M166.00 71.50h2.00M192.00 71.50h2.00M218.00 71.50h2.00M177.00 72.50h1.00M184.00 72.50h1.00M193.00 72.50h1.00M202.00 72.50h1.00M204.00 72.50h1.00M213.00 72.50h2.00M142.00 73.50h1.00M155.00 73.50h2.00M188.00 73.50h1.00M192.00 73.50h2.00M195.00 73.50h2.00M200.00 73.50h1.00M205.00 73.50h3.00M170.00 74.50h1.00M190.00 74.50h1.00M198.00 74.50h1.00M205.00 74.50h1.00M207.00 74.50h1.00M143.00 75.50h1.00M198.00 75.50h1.00M205.00 75.50h1.00M207.00 75.50h1.00M143.00 76.50h1.00M155.00 76.50h1.00M162.00 76.50h1.00M185.00 76.50h1.00M196.00 76.50h1.00M218.00 76.50h1.00M144.00 77.50h1.00M159.00 77.50h1.00M201.00 77.50h1.00M219.00 77.50h1.00M165.00 78.50h1.00M175.00 78.50h1.00M148.00 79.50h1.00M187.00 79.50h1.00M183.00 80.50h1.00M190.00 80.50h1.00M198.00 80.50h2.00M155.00 81.50h1.00M180.00 81.50h1.00M188.00 81.50h1.00M160.00 82.50h1.00M165.00 82.50h1.00M199.00 82.50h1.00M206.00 82.50h1.00M179.00 83.50h1.00M205.00 83.50h3.00M210.00 83.50h2.00M219.00 83.50h1.00M167.00 86.50h1.00M210.00 86.50h1.00M218.00 86.50h1.00M140.00 87.50h1.00M163.00 87.50h1.00M207.00 87.50h1.00M217.00 87.50h1.00M203.00 88.50h1.00M218.00 88.50h1.00M157.00 89.50h1.00M166.00 89.50h1.00M171.00 89.50h1.00M183.00 89.50h1.00M199.00 89.50h1.00M218.00 90.50h1.00M191.00 92.50h1.00M190.00 93.50h1.00M216.00 93.50h1.00M157.00 94.50h1.00M167.00 94.50h1.00M201.00 94.50h1.00M217.00 94.50h1.00M163.00 95.50h1.00M168.00 95.50h2.00M185.00 95.50h3.00M213.00 95.50h1.00M139.00 96.50h1.00M141.00 96.50h1.00M151.00 96.50h1.00M185.00 96.50h1.00M189.00 96.50h1.00M197.00 96.50h1.00M200.00 96.50h1.00M140.00 97.50h1.00M160.00 97.50h1.00" stroke="#1b9c17" stroke-width="1.05" fill="none"/>
<path d="M221.00 20.50h1.00M219.00 24.50h1.00M221.00 27.50h1.00M137.00 30.50h1.00M222.00 39.50h1.00M225.00 40.50h2.00M219.00 45.50h1.00M203.00 56.50h1.00M226.00 56.50h1.00M147.00 60.50h1.00M200.00 61.50h2.00M209.00 61.50h3.00M218.00 61.50h1.00M161.00 63.50h1.00M181.00 64.50h1.00M136.00 66.50h1.00M172.00 66.50h2.00M183.00 66.50h2.00M190.00 66.50h1.00M197.00 66.50h1.00M218.00 66.50h2.00M184.00 67.50h2.00M189.00 67.50h1.00M194.00 67.50h1.00M201.00 68.50h3.00M188.00 69.50h2.00M197.00 70.50h2.00M187.00 73.50h1.00M203.00 74.50h2.00M153.00 76.50h1.00M194.00 76.50h1.00M160.00 77.50h2.00M180.00 78.50h1.00M196.00 78.50h2.00M204.00 78.50h1.00M218.00 80.50h2.00M151.00 81.50h3.00M187.00 81.50h1.00M218.00 81.50h2.00M180.00 82.50h1.00M203.00 83.50h1.00M162.00 86.50h5.00M198.00 87.50h2.00M204.00 88.50h1.00M219.00 88.50h1.00M180.00 89.50h2.00M197.00 89.50h2.00M218.00 89.50h2.00M211.00 92.50h1.00M210.00 94.50h2.00M165.00 95.50h3.00M193.00 95.50h1.00M211.00 95.50h1.00M142.00 96.50h1.00M148.00 96.50h3.00M190.00 96.50h1.00M207.00 96.50h2.00M218.00 96.50h1.00M199.00 97.50h1.00" stroke="#24f022" stroke-width="1.05" fill="none"/>
<path d="M224.00 21.50h1.00M220.00 27.50h1.00M147.00 29.50h1.00M136.00 30.50h1.00M138.00 30.50h1.00M222.00 35.50h1.00M220.00 39.50h1.00M224.00 40.50h1.00M157.00 51.50h1.00M204.00 56.50h1.00M165.00 59.50h1.00M139.00 60.50h1.00M190.00 60.50h1.00M199.00 61.50h1.00M208.00 61.50h1.00M219.00 61.50h1.00M180.00 64.50h1.00M182.00 64.50h2.00M193.00 64.50h1.00M218.00 64.50h1.00M180.00 65.50h1.00M204.00 65.50h1.00M160.00 66.50h1.00M163.00 66.50h1.00M171.00 66.50h1.00M182.00 66.50h1.00M185.00 66.50h1.00M191.00 66.50h1.00M196.00 66.50h1.00M190.00 67.50h1.00M199.00 68.50h2.00M150.00 69.50h2.00M192.00 69.50h1.00M219.00 69.50h1.00M147.00 70.50h1.00M189.00 70.50h1.00M196.00 70.50h1.00M199.00 70.50h1.00M184.00 71.50h1.00M137.00 72.50h1.00M206.00 72.50h1.00M137.00 73.50h1.00M171.00 73.50h1.00M176.00 73.50h1.00M186.00 73.50h1.00M189.00 73.50h1.00M191.00 73.50h1.00M199.00 73.50h1.00M159.00 74.50h1.00M191.00 74.50h1.00M206.00 74.50h1.00M152.00 76.50h1.00M154.00 76.50h1.00M219.00 76.50h1.00M194.00 78.50h1.00M198.00 78.50h1.00M219.00 78.50h1.00M188.00 79.50h2.00M181.00 80.50h1.00M187.00 80.50h1.00M200.00 80.50h1.00M220.00 80.50h1.00M210.00 82.50h2.00M201.00 83.50h1.00M218.00 85.50h1.00M166.00 87.50h1.00M202.00 88.50h1.00M156.00 89.50h1.00M182.00 89.50h1.00M191.00 89.50h1.00M218.00 92.50h1.00M215.00 93.50h1.00M209.00 94.50h1.00M164.00 95.50h1.00M191.00 95.50h1.00M143.00 96.50h1.00M184.00 96.50h1.00M217.00 96.50h1.00M219.00 96.50h1.00M222.00 96.50h1.00M139.00 97.50h1.00M158.00 97.50h1.00" stroke="#1fc51c" stroke-width="1.05" fill="none"/></g>
<g filter="url(#bl)" clip-path="url(#cB)"><rect x="319.8" y="15.6" width="98.2" height="74.6" fill="#140a04"/>
<path d="M319.80 16.10h1.00M336.83 16.10h1.00M345.85 16.10h1.00M361.89 16.10h1.00M363.89 16.10h2.00M371.91 16.10h1.00M376.92 16.10h1.00M381.93 16.10h1.00M383.93 16.10h1.00M386.94 16.10h2.00M404.97 16.10h1.00M408.98 16.10h1.00M329.82 17.09h1.00M331.82 17.09h1.00M355.87 17.09h1.00M358.88 17.09h1.00M371.91 17.09h1.00M376.92 17.09h1.00M393.95 17.09h1.00M330.82 18.09h1.00M338.84 18.09h1.00M342.85 18.09h1.00M347.86 18.09h1.00M364.89 18.09h2.00M375.91 18.09h1.00M393.95 18.09h2.00M396.96 18.09h1.00M399.96 18.09h1.00M416.00 18.09h1.00M327.82 19.08h1.00M329.82 19.08h1.00M341.84 19.08h1.00M345.85 19.08h1.00M347.86 19.08h1.00M353.87 19.08h1.00M364.89 19.08h1.00M391.95 19.08h1.00M414.99 19.08h1.00M322.81 20.08h1.00M337.84 20.08h1.00M364.89 20.08h1.00M374.91 20.08h1.00M377.92 20.08h1.00M385.93 20.08h1.00M396.96 20.08h1.00M407.98 20.08h2.00M413.99 20.08h1.00M326.81 21.07h1.00M335.83 21.07h3.01M345.85 21.07h1.00M351.87 21.07h1.00M356.88 21.07h1.00M359.88 21.07h2.00M368.90 21.07h1.00M370.90 21.07h2.00M391.95 21.07h1.00M405.98 21.07h1.00M416.00 21.07h2.00M331.82 22.07h1.00M341.84 22.07h1.00M349.86 22.07h1.00M358.88 22.07h2.00M367.90 22.07h1.00M375.91 22.07h1.00M380.92 22.07h1.00M384.93 22.07h1.00M413.99 22.07h1.00M416.00 22.07h1.00M322.81 23.06h1.00M326.81 23.06h1.00M347.86 23.06h2.00M352.87 23.06h1.00M356.88 23.06h1.00M363.89 23.06h1.00M369.90 23.06h1.00M378.92 23.06h1.00M396.96 23.06h1.00M399.96 23.06h1.00M328.82 24.05h1.00M334.83 24.05h1.00M339.84 24.05h1.00M344.85 24.05h2.00M355.87 24.05h2.00M362.89 24.05h1.00M386.94 24.05h1.00M389.94 24.05h1.00M396.96 24.05h1.00M407.98 24.05h1.00M319.80 25.05h1.00M335.83 25.05h1.00M338.84 25.05h1.00M341.84 25.05h2.00M362.89 25.05h1.00M371.91 25.05h1.00M379.92 25.05h1.00M386.94 25.05h1.00M393.95 25.05h1.00M406.98 25.05h1.00M328.82 26.04h1.00M350.86 26.04h1.00M352.87 26.04h1.00M361.89 26.04h1.00M372.91 26.04h1.00M396.96 26.04h1.00M398.96 26.04h1.00M324.81 27.04h1.00M338.84 27.04h1.00M349.86 27.04h1.00M351.87 27.04h1.00M367.90 27.04h1.00M384.93 27.04h1.00M396.96 27.04h1.00M406.98 27.04h2.00M326.81 28.03h1.00M360.88 28.03h1.00M365.89 28.03h1.00M411.99 29.03h1.00M392.95 31.02h1.00M403.97 31.02h1.00M375.91 32.01h1.00M391.95 32.01h1.00M394.95 32.01h1.00M417.00 32.01h1.00M368.90 33.01h1.00M382.93 33.01h1.00M406.98 33.01h1.00M385.93 34.00h1.00M417.00 34.00h1.00M388.94 35.99h1.00M393.95 35.99h1.00M354.87 36.99h1.00M387.94 36.99h1.00M406.98 36.99h1.00M392.95 37.98h1.00M397.96 37.98h2.00M417.00 37.98h1.00M328.82 38.97h1.00M342.85 38.97h1.00M395.96 38.97h1.00M320.80 39.97h1.00M335.83 39.97h1.00M349.86 39.97h1.00M370.90 39.97h1.00M384.93 39.97h1.00M392.95 39.97h1.00M404.97 39.97h1.00M414.99 39.97h1.00M364.89 40.96h1.00M366.90 40.96h1.00M369.90 40.96h1.00M385.93 40.96h1.00M390.94 40.96h1.00M408.98 40.96h1.00M333.83 41.96h1.00M352.87 41.96h1.00M354.87 41.96h1.00M409.98 41.96h1.00M348.86 42.95h1.00M357.88 42.95h2.00M379.92 42.95h2.00M382.93 42.95h1.00M404.97 42.95h1.00M347.86 43.95h1.00M351.87 43.95h1.00M371.91 43.95h1.00M374.91 43.95h1.00M326.81 44.94h1.00M347.86 44.94h1.00M360.88 44.94h1.00M373.91 44.94h1.00M377.92 44.94h1.00M398.96 44.94h1.00M359.88 45.94h1.00M366.90 45.94h1.00M377.92 45.94h1.00M405.98 45.94h1.00M368.90 46.93h1.00M370.90 46.93h1.00M377.92 46.93h1.00M414.99 46.93h1.00M354.87 47.93h1.00M358.88 47.93h1.00M361.89 47.93h1.00M364.89 47.93h1.00M377.92 47.93h2.00M384.93 47.93h1.00M343.85 48.92h1.00M362.89 48.92h1.00M378.92 48.92h1.00M378.92 49.92h1.00M400.97 49.92h1.00M359.88 50.91h1.00M372.91 50.91h1.00M351.87 51.91h1.00M391.95 52.90h1.00M405.98 52.90h1.00M411.99 53.89h1.00M402.97 54.89h1.00M409.98 54.89h1.00M403.97 56.88h1.00M402.97 58.87h1.00M409.98 58.87h1.00M320.80 59.86h2.00M341.84 59.86h1.00M347.86 59.86h1.00M357.88 59.86h1.00M406.98 59.86h1.00M374.91 63.84h1.00M326.81 64.84h1.00M326.81 65.83h1.00M345.85 65.83h1.00M373.91 65.83h1.00M319.80 66.83h1.00M374.91 66.83h1.00M345.85 69.81h1.00M374.91 74.78h2.00M375.91 75.78h1.00M356.88 77.77h1.00M360.88 78.76h1.00M397.96 78.76h1.00M400.97 78.76h1.00M403.97 78.76h1.00M340.84 80.75h1.00M320.80 88.71h1.00M326.81 88.71h1.00M331.82 89.70h1.00" stroke="#1db01a" stroke-width="1.04" fill="none"/>
<path d="M320.80 16.10h1.00M344.85 16.10h1.00M358.88 16.10h1.00M393.95 16.10h1.00M332.83 17.09h1.00M344.85 17.09h1.00M382.93 17.09h1.00M340.84 18.09h1.00M350.86 18.09h1.00M367.90 18.09h1.00M377.92 18.09h1.00M389.94 18.09h1.00M395.96 18.09h1.00M397.96 18.09h2.00M328.82 19.08h1.00M365.89 19.08h1.00M321.80 20.08h1.00M323.81 20.08h1.00M370.90 20.08h1.00M398.96 20.08h1.00M405.98 20.08h1.00M412.99 20.08h1.00M323.81 21.07h1.00M343.85 21.07h1.00M350.86 21.07h1.00M354.87 21.07h1.00M362.89 21.07h1.00M383.93 21.07h1.00M390.94 21.07h1.00M324.81 22.07h1.00M326.81 22.07h1.00M347.86 22.07h1.00M354.87 22.07h3.01M369.90 22.07h1.00M383.93 22.07h1.00M386.94 22.07h1.00M400.97 22.07h1.00M406.98 22.07h1.00M417.00 22.07h1.00M325.81 23.06h1.00M329.82 23.06h1.00M341.84 23.06h2.00M354.87 23.06h2.00M380.92 23.06h1.00M397.96 23.06h1.00M349.86 24.05h1.00M354.87 24.05h1.00M378.92 24.05h1.00M383.93 24.05h1.00M398.96 24.05h1.00M401.97 24.05h1.00M412.99 24.05h1.00M323.81 25.05h1.00M340.84 25.05h1.00M352.87 25.05h1.00M361.89 25.05h1.00M385.93 25.05h1.00M411.99 25.05h1.00M369.90 26.04h1.00M378.92 26.04h1.00M391.95 26.04h1.00M393.95 26.04h1.00M399.96 26.04h1.00M406.98 26.04h1.00M417.00 26.04h1.00M327.82 27.04h1.00M365.89 27.04h1.00M392.95 27.04h1.00M324.81 28.03h1.00M330.82 28.03h1.00M356.88 28.03h1.00M388.94 28.03h1.00M399.96 28.03h1.00M413.99 28.03h1.00M401.97 30.02h1.00M411.99 30.02h2.00M417.00 30.02h1.00M356.88 31.02h1.00M389.94 31.02h1.00M336.83 32.01h2.00M333.83 33.01h1.00M343.85 33.01h1.00M357.88 33.01h1.00M384.93 33.01h1.00M402.97 33.01h1.00M416.00 33.01h1.00M348.86 34.00h1.00M357.88 34.00h1.00M392.95 34.00h1.00M403.97 34.00h1.00M385.93 35.00h1.00M400.97 35.00h1.00M343.85 35.99h1.00M380.92 35.99h1.00M387.94 35.99h1.00M402.97 35.99h1.00M322.81 36.99h1.00M335.83 36.99h1.00M388.94 36.99h1.00M398.96 36.99h2.00M403.97 36.99h1.00M412.99 36.99h1.00M321.80 37.98h1.00M343.85 37.98h1.00M354.87 37.98h1.00M358.88 37.98h1.00M369.90 37.98h1.00M374.91 37.98h1.00M387.94 37.98h1.00M410.99 37.98h2.00M337.84 38.97h1.00M348.86 38.97h1.00M356.88 38.97h1.00M358.88 38.97h1.00M403.97 38.97h1.00M411.99 38.97h1.00M339.84 39.97h2.00M360.88 39.97h1.00M367.90 39.97h1.00M372.91 39.97h1.00M382.93 39.97h1.00M335.83 40.96h1.00M367.90 40.96h1.00M370.90 40.96h3.01M388.94 40.96h1.00M393.95 40.96h1.00M400.97 40.96h1.00M410.99 40.96h1.00M416.00 40.96h1.00M322.81 41.96h1.00M351.87 41.96h1.00M386.94 41.96h1.00M390.94 41.96h1.00M406.98 41.96h1.00M320.80 42.95h1.00M342.85 42.95h1.00M361.89 42.95h1.00M400.97 42.95h1.00M407.98 42.95h2.00M364.89 43.95h1.00M389.94 43.95h1.00M398.96 43.95h1.00M404.97 43.95h2.00M333.83 44.94h1.00M340.84 44.94h1.00M348.86 44.94h1.00M361.89 44.94h1.00M374.91 44.94h1.00M394.95 44.94h1.00M333.83 45.94h1.00M340.84 45.94h1.00M386.94 45.94h1.00M340.84 46.93h1.00M372.91 46.93h1.00M406.98 46.93h1.00M324.81 47.93h1.00M328.82 47.93h1.00M343.85 47.93h1.00M362.89 47.93h1.00M402.97 47.93h1.00M405.98 47.93h1.00M414.99 47.93h1.00M373.91 48.92h1.00M383.93 48.92h1.00M388.94 48.92h1.00M364.89 49.92h1.00M395.96 49.92h1.00M407.98 49.92h1.00M412.99 49.92h1.00M362.89 50.91h1.00M367.90 50.91h1.00M371.91 50.91h1.00M394.95 50.91h1.00M410.99 50.91h1.00M389.94 51.91h1.00M391.95 51.91h1.00M366.90 52.90h1.00M373.91 52.90h1.00M392.95 52.90h1.00M413.99 52.90h1.00M416.00 52.90h1.00M352.87 53.89h1.00M384.93 53.89h1.00M398.96 53.89h1.00M414.99 53.89h1.00M403.97 54.89h1.00M369.90 55.88h1.00M400.97 55.88h1.00M409.98 55.88h1.00M400.97 56.88h1.00M354.87 58.87h1.00M359.88 58.87h1.00M399.96 58.87h1.00M417.00 58.87h1.00M348.86 59.86h1.00M352.87 59.86h1.00M354.87 59.86h1.00M386.94 59.86h1.00M331.82 60.86h1.00M385.93 60.86h1.00M413.99 61.85h1.00M378.92 62.85h1.00M363.89 63.84h1.00M398.96 63.84h1.00M356.88 64.84h1.00M325.81 65.83h1.00M412.99 65.83h1.00M345.85 66.83h1.00M379.92 67.82h1.00M383.93 67.82h1.00M361.89 70.80h1.00M336.83 71.80h1.00M360.88 71.80h1.00M392.95 71.80h1.00M333.83 72.79h1.00M382.93 72.79h1.00M330.82 73.79h1.00M355.87 73.79h1.00M326.81 74.78h1.00M330.82 74.78h1.00M342.85 74.78h1.00M376.92 75.78h1.00M405.98 75.78h1.00M345.85 76.77h1.00M399.96 77.77h1.00M322.81 78.76h1.00M361.89 78.76h1.00M401.97 78.76h1.00M350.86 79.76h1.00M414.99 81.75h1.00M353.87 82.74h1.00M333.83 83.73h1.00M378.92 85.72h1.00M321.80 86.72h1.00M321.80 87.71h1.00M327.82 87.71h1.00M321.80 88.71h1.00M324.81 89.70h1.00M378.92 89.70h1.00" stroke="#188815" stroke-width="1.04" fill="none"/>
<path d="M321.80 16.10h1.00M350.86 16.10h1.00M355.87 16.10h1.00M359.88 16.10h1.00M370.90 16.10h1.00M389.94 16.10h1.00M392.95 16.10h1.00M410.99 16.10h1.00M414.99 16.10h1.00M322.81 17.09h1.00M324.81 17.09h1.00M343.85 17.09h1.00M345.85 17.09h1.00M350.86 17.09h1.00M362.89 17.09h1.00M364.89 17.09h1.00M367.90 17.09h3.01M388.94 17.09h1.00M392.95 17.09h1.00M395.96 17.09h1.00M332.83 18.09h1.00M344.85 18.09h3.01M348.86 18.09h1.00M371.91 18.09h1.00M378.92 18.09h1.00M381.93 18.09h1.00M392.95 18.09h1.00M344.85 19.08h1.00M346.86 19.08h1.00M366.90 19.08h1.00M381.93 19.08h1.00M386.94 19.08h2.00M390.94 19.08h1.00M396.96 19.08h2.00M412.99 19.08h2.00M326.81 20.08h2.00M342.85 20.08h1.00M355.87 20.08h1.00M362.89 20.08h1.00M365.89 20.08h1.00M369.90 20.08h1.00M379.92 20.08h1.00M406.98 20.08h1.00M322.81 21.07h1.00M341.84 21.07h1.00M348.86 21.07h2.00M361.89 21.07h1.00M377.92 21.07h2.00M380.92 21.07h1.00M385.93 21.07h1.00M409.98 21.07h1.00M323.81 22.07h1.00M360.88 22.07h1.00M368.90 22.07h1.00M385.93 22.07h1.00M409.98 22.07h1.00M319.80 23.06h1.00M357.88 23.06h1.00M381.93 23.06h1.00M384.93 23.06h1.00M395.96 23.06h1.00M400.97 23.06h1.00M409.98 23.06h1.00M414.99 23.06h1.00M321.80 24.05h1.00M323.81 24.05h1.00M327.82 24.05h1.00M337.84 24.05h1.00M347.86 24.05h2.00M350.86 24.05h1.00M365.89 24.05h1.00M385.93 24.05h1.00M390.94 24.05h1.00M408.98 24.05h1.00M411.99 24.05h1.00M414.99 24.05h1.00M339.84 25.05h1.00M344.85 25.05h1.00M351.87 25.05h1.00M356.88 25.05h1.00M364.89 25.05h1.00M377.92 25.05h1.00M384.93 25.05h1.00M388.94 25.05h1.00M404.97 25.05h2.00M417.00 25.05h1.00M334.83 26.04h1.00M338.84 26.04h1.00M341.84 26.04h1.00M359.88 26.04h1.00M377.92 26.04h1.00M404.97 26.04h1.00M326.81 27.04h1.00M341.84 27.04h1.00M350.86 27.04h1.00M352.87 27.04h1.00M364.89 27.04h1.00M368.90 27.04h1.00M378.92 27.04h1.00M386.94 27.04h1.00M410.99 27.04h1.00M413.99 27.04h1.00M343.85 28.03h1.00M347.86 28.03h1.00M350.86 28.03h1.00M381.93 28.03h1.00M390.94 28.03h1.00M401.97 29.03h1.00M397.96 30.02h1.00M350.86 31.02h1.00M376.92 31.02h1.00M388.94 31.02h1.00M347.86 32.01h1.00M350.86 32.01h1.00M399.96 32.01h1.00M416.00 32.01h1.00M325.81 33.01h1.00M335.83 33.01h1.00M358.88 33.01h1.00M386.94 34.00h1.00M388.94 35.00h1.00M394.95 35.00h1.00M339.84 35.99h1.00M406.98 35.99h1.00M374.91 36.99h1.00M331.82 37.98h1.00M378.92 37.98h1.00M416.00 37.98h1.00M332.83 38.97h2.00M339.84 38.97h1.00M341.84 38.97h1.00M343.85 38.97h1.00M360.88 38.97h1.00M391.95 38.97h1.00M393.95 38.97h1.00M398.96 38.97h1.00M329.82 39.97h1.00M348.86 39.97h1.00M353.87 39.97h2.00M393.95 39.97h1.00M397.96 39.97h1.00M400.97 39.97h1.00M319.80 40.96h1.00M324.81 40.96h1.00M330.82 40.96h1.00M334.83 40.96h1.00M365.89 40.96h1.00M368.90 40.96h1.00M384.93 40.96h1.00M401.97 40.96h1.00M336.83 41.96h1.00M339.84 41.96h1.00M357.88 41.96h1.00M360.88 41.96h1.00M374.91 41.96h1.00M377.92 41.96h1.00M382.93 41.96h1.00M392.95 41.96h1.00M398.96 41.96h1.00M401.97 41.96h1.00M407.98 41.96h1.00M352.87 42.95h1.00M360.88 42.95h1.00M401.97 42.95h1.00M334.83 43.95h1.00M390.94 43.95h1.00M408.98 43.95h1.00M332.83 44.94h1.00M352.87 44.94h1.00M383.93 44.94h1.00M351.87 45.94h1.00M360.88 45.94h1.00M380.92 45.94h1.00M398.96 45.94h1.00M408.98 45.94h1.00M412.99 45.94h1.00M414.99 45.94h1.00M341.84 46.93h1.00M354.87 46.93h1.00M378.92 46.93h1.00M392.95 46.93h1.00M399.96 46.93h2.00M413.99 46.93h1.00M357.88 47.93h1.00M365.89 47.93h1.00M324.81 48.92h1.00M342.85 48.92h1.00M369.90 48.92h1.00M409.98 48.92h1.00M417.00 48.92h1.00M346.86 49.92h1.00M380.92 49.92h1.00M403.97 49.92h1.00M343.85 50.91h2.00M360.88 50.91h1.00M378.92 50.91h1.00M386.94 50.91h1.00M388.94 50.91h1.00M401.97 50.91h2.00M417.00 50.91h1.00M347.86 51.91h1.00M410.99 51.91h1.00M385.93 52.90h1.00M394.95 52.90h1.00M397.96 52.90h1.00M404.97 52.90h1.00M417.00 52.90h1.00M342.85 53.89h1.00M366.90 53.89h1.00M392.95 53.89h1.00M400.97 53.89h1.00M402.97 53.89h1.00M404.97 53.89h1.00M398.96 54.89h1.00M408.98 54.89h1.00M401.97 55.88h1.00M413.99 55.88h1.00M406.98 56.88h1.00M409.98 56.88h1.00M412.99 56.88h1.00M341.84 58.87h1.00M358.88 58.87h1.00M362.89 58.87h1.00M364.89 58.87h1.00M342.85 59.86h1.00M353.87 59.86h1.00M405.98 59.86h1.00M321.80 61.85h1.00M379.92 61.85h1.00M397.96 61.85h1.00M374.91 62.85h1.00M378.92 63.84h1.00M325.81 64.84h1.00M401.97 65.83h1.00M373.91 66.83h1.00M349.86 67.82h1.00M352.87 67.82h1.00M384.93 67.82h1.00M352.87 68.81h1.00M359.88 68.81h1.00M346.86 69.81h1.00M360.88 70.80h1.00M380.92 70.80h2.00M382.93 71.80h1.00M324.81 72.79h1.00M392.95 72.79h1.00M342.85 73.79h1.00M377.92 74.78h1.00M326.81 75.78h1.00M323.81 77.77h1.00M399.96 78.76h1.00M326.81 79.76h1.00M364.89 81.75h1.00M325.81 88.71h1.00M379.92 88.71h1.00" stroke="#1b9c17" stroke-width="1.04" fill="none"/>
<path d="M322.81 16.10h2.00M326.81 16.10h5.01M333.83 16.10h2.00M337.84 16.10h2.00M340.84 16.10h3.01M347.86 16.10h3.01M352.87 16.10h2.00M356.88 16.10h1.00M362.89 16.10h1.00M365.89 16.10h2.00M373.91 16.10h2.00M377.92 16.10h4.01M391.95 16.10h1.00M395.96 16.10h7.01M406.98 16.10h2.00M412.99 16.10h2.00M417.00 16.10h1.00M325.81 17.09h4.01M333.83 17.09h8.02M347.86 17.09h1.00M353.87 17.09h1.00M356.88 17.09h2.00M359.88 17.09h3.01M365.89 17.09h2.00M372.91 17.09h3.01M377.92 17.09h1.00M379.92 17.09h2.00M383.93 17.09h2.00M386.94 17.09h2.00M390.94 17.09h2.00M396.96 17.09h6.01M406.98 17.09h2.00M409.98 17.09h4.01M417.00 17.09h1.00M319.80 18.09h2.00M322.81 18.09h2.00M325.81 18.09h3.01M333.83 18.09h5.01M339.84 18.09h1.00M352.87 18.09h12.02M368.90 18.09h1.00M379.92 18.09h1.00M383.93 18.09h5.01M390.94 18.09h1.00M400.97 18.09h2.00M405.98 18.09h2.00M408.98 18.09h4.01M417.00 18.09h1.00M319.80 19.08h2.00M322.81 19.08h2.00M325.81 19.08h2.00M330.82 19.08h11.02M343.85 19.08h1.00M348.86 19.08h2.00M351.87 19.08h2.00M356.88 19.08h8.02M367.90 19.08h2.00M370.90 19.08h2.00M373.91 19.08h4.01M379.92 19.08h1.00M382.93 19.08h4.01M392.95 19.08h4.01M400.97 19.08h2.00M406.98 19.08h4.01M416.00 19.08h2.00M319.80 20.08h1.00M324.81 20.08h1.00M330.82 20.08h5.01M339.84 20.08h3.01M344.85 20.08h1.00M346.86 20.08h4.01M351.87 20.08h3.01M356.88 20.08h5.01M366.90 20.08h3.01M371.91 20.08h3.01M375.91 20.08h2.00M381.93 20.08h3.01M392.95 20.08h4.01M397.96 20.08h1.00M400.97 20.08h1.00M409.98 20.08h1.00M414.99 20.08h3.01M319.80 21.07h3.01M324.81 21.07h2.00M327.82 21.07h8.02M339.84 21.07h2.00M344.85 21.07h1.00M347.86 21.07h1.00M352.87 21.07h1.00M357.88 21.07h1.00M365.89 21.07h1.00M367.90 21.07h1.00M381.93 21.07h1.00M393.95 21.07h3.01M397.96 21.07h3.01M402.97 21.07h2.00M319.80 22.07h2.00M327.82 22.07h2.00M332.83 22.07h4.01M338.84 22.07h3.01M344.85 22.07h2.00M350.86 22.07h2.00M362.89 22.07h1.00M364.89 22.07h3.01M370.90 22.07h2.00M376.92 22.07h3.01M381.93 22.07h2.00M387.94 22.07h3.01M392.95 22.07h1.00M394.95 22.07h5.01M401.97 22.07h3.01M414.99 22.07h1.00M332.83 23.06h6.01M343.85 23.06h4.01M351.87 23.06h1.00M359.88 23.06h3.01M364.89 23.06h4.01M370.90 23.06h2.00M374.91 23.06h1.00M376.92 23.06h2.00M387.94 23.06h2.00M405.98 23.06h2.00M412.99 23.06h1.00M417.00 23.06h1.00M322.81 24.05h1.00M326.81 24.05h1.00M329.82 24.05h2.00M351.87 24.05h2.00M359.88 24.05h2.00M366.90 24.05h8.02M376.92 24.05h2.00M380.92 24.05h1.00M387.94 24.05h2.00M393.95 24.05h1.00M403.97 24.05h1.00M405.98 24.05h2.00M409.98 24.05h2.00M321.80 25.05h2.00M325.81 25.05h1.00M329.82 25.05h2.00M354.87 25.05h1.00M359.88 25.05h2.00M363.89 25.05h1.00M365.89 25.05h2.00M372.91 25.05h5.01M380.92 25.05h3.01M389.94 25.05h2.00M395.96 25.05h2.00M402.97 25.05h2.00M409.98 25.05h2.00M319.80 26.04h6.01M329.82 26.04h4.01M335.83 26.04h3.01M339.84 26.04h2.00M342.85 26.04h6.01M354.87 26.04h2.00M362.89 26.04h2.00M365.89 26.04h2.00M373.91 26.04h3.01M380.92 26.04h5.01M387.94 26.04h2.00M394.95 26.04h1.00M397.96 26.04h1.00M403.97 26.04h1.00M408.98 26.04h2.00M411.99 26.04h1.00M319.80 27.04h5.01M328.82 27.04h1.00M332.83 27.04h6.01M339.84 27.04h2.00M343.85 27.04h6.01M354.87 27.04h2.00M358.88 27.04h1.00M360.88 27.04h3.01M366.90 27.04h1.00M371.91 27.04h6.01M379.92 27.04h2.00M382.93 27.04h2.00M387.94 27.04h2.00M393.95 27.04h2.00M397.96 27.04h1.00M405.98 27.04h1.00M411.99 27.04h1.00M414.99 27.04h1.00M319.80 28.03h5.01M328.82 28.03h1.00M331.82 28.03h1.00M333.83 28.03h2.00M336.83 28.03h2.00M339.84 28.03h4.01M345.85 28.03h1.00M348.86 28.03h2.00M351.87 28.03h4.01M358.88 28.03h1.00M362.89 28.03h2.00M366.90 28.03h1.00M368.90 28.03h5.01M374.91 28.03h3.01M378.92 28.03h2.00M382.93 28.03h2.00M385.93 28.03h2.00M392.95 28.03h4.01M400.97 28.03h2.00M405.98 28.03h1.00M409.98 28.03h4.01M343.85 32.01h2.00M349.86 32.01h1.00M405.98 32.01h2.00M414.99 32.01h1.00M349.86 33.01h1.00M383.93 33.01h1.00M389.94 33.01h3.01M417.00 33.01h1.00M383.93 34.00h2.00M390.94 34.00h2.00M401.97 34.00h1.00M411.99 34.00h1.00M339.84 35.00h1.00M384.93 35.00h1.00M392.95 35.00h1.00M396.96 35.00h2.00M346.86 35.99h1.00M384.93 35.99h1.00M400.97 35.99h1.00M405.98 35.99h1.00M417.00 36.99h1.00M330.82 37.98h1.00M353.87 37.98h1.00M359.88 37.98h1.00M396.96 37.98h1.00M329.82 38.97h3.01M344.85 38.97h1.00M377.92 38.97h1.00M392.95 38.97h1.00M397.96 38.97h1.00M405.98 38.97h2.00M321.80 39.97h1.00M330.82 39.97h1.00M341.84 39.97h1.00M377.92 39.97h2.00M383.93 39.97h1.00M405.98 39.97h1.00M411.99 39.97h1.00M320.80 40.96h2.00M323.81 40.96h1.00M333.83 40.96h1.00M336.83 40.96h1.00M352.87 40.96h1.00M377.92 40.96h2.00M383.93 40.96h1.00M387.94 40.96h1.00M398.96 40.96h1.00M411.99 40.96h1.00M337.84 41.96h2.00M356.88 41.96h1.00M361.89 41.96h1.00M387.94 41.96h1.00M405.98 41.96h1.00M347.86 42.95h1.00M354.87 42.95h1.00M383.93 42.95h1.00M405.98 42.95h1.00M326.81 43.95h1.00M341.84 43.95h1.00M346.86 43.95h1.00M357.88 43.95h4.01M372.91 43.95h1.00M327.82 44.94h1.00M341.84 44.94h1.00M346.86 44.94h1.00M351.87 44.94h1.00M364.89 44.94h3.01M384.93 44.94h2.00M393.95 44.94h1.00M404.97 44.94h1.00M327.82 45.94h1.00M332.83 45.94h1.00M341.84 45.94h2.00M346.86 45.94h3.01M365.89 45.94h1.00M381.93 45.94h2.00M404.97 45.94h1.00M409.98 45.94h2.00M413.99 45.94h1.00M416.00 45.94h2.00M342.85 46.93h1.00M369.90 46.93h1.00M379.92 46.93h2.00M405.98 46.93h1.00M409.98 46.93h2.00M416.00 46.93h2.00M342.85 47.93h1.00M368.90 47.93h2.00M379.92 47.93h1.00M388.94 47.93h4.01M400.97 47.93h2.00M410.99 47.93h1.00M361.89 48.92h1.00M364.89 48.92h1.00M379.92 48.92h2.00M385.93 48.92h1.00M391.95 48.92h1.00M400.97 48.92h1.00M410.99 48.92h1.00M413.99 48.92h1.00M379.92 49.92h1.00M391.95 49.92h2.00M401.97 49.92h1.00M404.97 49.92h1.00M409.98 49.92h1.00M413.99 49.92h1.00M391.95 50.91h2.00M403.97 50.91h1.00M388.94 51.91h1.00M394.95 51.91h1.00M398.96 51.91h1.00M417.00 51.91h1.00M401.97 52.90h1.00M401.97 53.89h1.00M406.98 54.89h2.00M410.99 54.89h1.00M406.98 55.88h3.01M414.99 55.88h1.00M407.98 56.88h2.00M413.99 56.88h3.01M411.99 57.87h4.01M385.93 58.87h1.00M410.99 58.87h4.01M358.88 59.86h1.00M408.98 59.86h3.01M412.99 59.86h2.00M375.91 63.84h1.00M359.88 64.84h2.00M374.91 64.84h2.00M359.88 65.83h2.00M374.91 65.83h1.00M377.92 66.83h1.00M383.93 66.83h1.00M377.92 67.82h1.00M381.93 71.80h1.00M373.91 73.79h1.00M372.91 74.78h2.00M319.80 77.77h4.01M320.80 87.71h1.00" stroke="#24f022" stroke-width="1.04" fill="none"/>
<path d="M324.81 16.10h2.00M335.83 16.10h1.00M346.86 16.10h1.00M357.88 16.10h1.00M360.88 16.10h1.00M367.90 16.10h1.00M372.91 16.10h1.00M390.94 16.10h1.00M405.98 16.10h1.00M416.00 16.10h1.00M323.81 17.09h1.00M346.86 17.09h1.00M354.87 17.09h1.00M408.98 17.09h1.00M413.99 17.09h1.00M416.00 17.09h1.00M324.81 18.09h1.00M328.82 18.09h1.00M331.82 18.09h1.00M351.87 18.09h1.00M369.90 18.09h1.00M373.91 18.09h1.00M380.92 18.09h1.00M382.93 18.09h1.00M412.99 18.09h1.00M321.80 19.08h1.00M369.90 19.08h1.00M405.98 19.08h1.00M411.99 19.08h1.00M329.82 20.08h1.00M335.83 20.08h1.00M338.84 20.08h1.00M354.87 20.08h1.00M402.97 20.08h2.00M411.99 20.08h1.00M346.86 21.07h1.00M382.93 21.07h1.00M400.97 21.07h2.00M404.97 21.07h1.00M329.82 22.07h2.00M336.83 22.07h2.00M357.88 22.07h1.00M363.89 22.07h1.00M379.92 22.07h1.00M399.96 22.07h1.00M404.97 22.07h1.00M324.81 23.06h1.00M327.82 23.06h1.00M339.84 23.06h2.00M350.86 23.06h1.00M362.89 23.06h1.00M373.91 23.06h1.00M382.93 23.06h2.00M385.93 23.06h1.00M389.94 23.06h1.00M392.95 23.06h2.00M398.96 23.06h1.00M401.97 23.06h1.00M403.97 23.06h2.00M325.81 24.05h1.00M338.84 24.05h1.00M342.85 24.05h1.00M346.86 24.05h1.00M353.87 24.05h1.00M361.89 24.05h1.00M363.89 24.05h1.00M374.91 24.05h1.00M381.93 24.05h2.00M400.97 24.05h1.00M413.99 24.05h1.00M417.00 24.05h1.00M320.80 25.05h1.00M328.82 25.05h1.00M347.86 25.05h1.00M353.87 25.05h1.00M357.88 25.05h1.00M368.90 25.05h3.01M325.81 26.04h1.00M333.83 26.04h1.00M348.86 26.04h1.00M353.87 26.04h1.00M357.88 26.04h2.00M360.88 26.04h1.00M389.94 26.04h2.00M402.97 26.04h1.00M407.98 26.04h1.00M410.99 26.04h1.00M331.82 27.04h1.00M353.87 27.04h1.00M359.88 27.04h1.00M369.90 27.04h1.00M390.94 27.04h2.00M412.99 27.04h1.00M329.82 28.03h1.00M344.85 28.03h1.00M346.86 28.03h1.00M361.89 28.03h1.00M391.95 28.03h1.00M408.98 28.03h1.00M416.00 28.03h1.00M344.85 31.02h1.00M347.86 31.02h2.00M391.95 31.02h1.00M404.97 31.02h1.00M413.99 31.02h1.00M392.95 32.01h1.00M395.96 32.01h1.00M336.83 33.01h1.00M392.95 33.01h1.00M389.94 34.00h1.00M396.96 34.00h1.00M410.99 34.00h1.00M346.86 35.00h1.00M383.93 35.00h1.00M398.96 35.00h1.00M401.97 35.00h1.00M401.97 35.99h1.00M346.86 36.99h1.00M370.90 36.99h2.00M416.00 36.99h1.00M336.83 37.98h1.00M395.96 37.98h1.00M399.96 37.98h1.00M412.99 37.98h1.00M345.85 38.97h1.00M359.88 38.97h1.00M376.92 38.97h1.00M378.92 38.97h1.00M331.82 39.97h1.00M371.91 39.97h1.00M412.99 39.97h1.00M382.93 40.96h1.00M386.94 40.96h1.00M397.96 40.96h1.00M409.98 40.96h1.00M321.80 41.96h1.00M383.93 41.96h1.00M412.99 41.96h1.00M321.80 42.95h1.00M351.87 42.95h1.00M342.85 43.95h1.00M373.91 43.95h1.00M378.92 43.95h1.00M342.85 44.94h1.00M345.85 44.94h1.00M381.93 44.94h1.00M390.94 44.94h1.00M413.99 44.94h1.00M345.85 45.94h1.00M383.93 45.94h1.00M390.94 45.94h1.00M403.97 45.94h1.00M365.89 46.93h1.00M389.94 46.93h1.00M401.97 46.93h1.00M412.99 46.93h1.00M370.90 47.93h1.00M411.99 47.93h1.00M413.99 47.93h1.00M417.00 47.93h1.00M390.94 48.92h1.00M395.96 48.92h1.00M401.97 48.92h1.00M343.85 49.92h1.00M382.93 49.92h1.00M347.86 50.91h1.00M404.97 50.91h1.00M398.96 52.90h1.00M338.84 53.89h1.00M397.96 53.89h1.00M369.90 54.89h1.00M397.96 54.89h1.00M411.99 54.89h1.00M402.97 57.87h1.00M361.89 58.87h1.00M359.88 59.86h1.00M321.80 60.86h1.00M352.87 60.86h1.00M357.88 60.86h1.00M374.91 61.85h1.00M384.93 62.85h1.00M409.98 63.84h1.00M376.92 66.83h1.00M382.93 66.83h1.00M412.99 66.83h1.00M331.82 67.82h1.00M376.92 67.82h1.00M346.86 70.80h1.00M380.92 71.80h1.00M325.81 89.70h1.00" stroke="#1fc51c" stroke-width="1.04" fill="none"/>
<path d="M331.82 16.10h2.00M339.84 16.10h1.00M343.85 16.10h1.00M375.91 16.10h1.00M394.95 16.10h1.00M409.98 16.10h1.00M411.99 16.10h1.00M330.82 17.09h1.00M341.84 17.09h2.00M348.86 17.09h2.00M352.87 17.09h1.00M378.92 17.09h1.00M381.93 17.09h1.00M389.94 17.09h1.00M394.95 17.09h1.00M405.98 17.09h1.00M321.80 18.09h1.00M343.85 18.09h1.00M349.86 18.09h1.00M370.90 18.09h1.00M374.91 18.09h1.00M376.92 18.09h1.00M391.95 18.09h1.00M407.98 18.09h1.00M324.81 19.08h1.00M342.85 19.08h1.00M350.86 19.08h1.00M355.87 19.08h1.00M372.91 19.08h1.00M377.92 19.08h2.00M380.92 19.08h1.00M410.99 19.08h1.00M320.80 20.08h1.00M325.81 20.08h1.00M336.83 20.08h1.00M343.85 20.08h1.00M345.85 20.08h1.00M350.86 20.08h1.00M361.89 20.08h1.00M380.92 20.08h1.00M384.93 20.08h1.00M401.97 20.08h1.00M410.99 20.08h1.00M338.84 21.07h1.00M353.87 21.07h1.00M358.88 21.07h1.00M364.89 21.07h1.00M366.90 21.07h1.00M376.92 21.07h1.00M384.93 21.07h1.00M392.95 21.07h1.00M396.96 21.07h1.00M414.99 21.07h1.00M321.80 22.07h1.00M346.86 22.07h1.00M352.87 22.07h1.00M361.89 22.07h1.00M393.95 22.07h1.00M405.98 22.07h1.00M323.81 23.06h1.00M330.82 23.06h2.00M338.84 23.06h1.00M368.90 23.06h1.00M372.91 23.06h1.00M375.91 23.06h1.00M379.92 23.06h1.00M386.94 23.06h1.00M402.97 23.06h1.00M413.99 23.06h1.00M331.82 24.05h1.00M335.83 24.05h1.00M343.85 24.05h1.00M375.91 24.05h1.00M379.92 24.05h1.00M394.95 24.05h2.00M399.96 24.05h1.00M402.97 24.05h1.00M404.97 24.05h1.00M326.81 25.05h1.00M331.82 25.05h1.00M355.87 25.05h1.00M358.88 25.05h1.00M367.90 25.05h1.00M383.93 25.05h1.00M387.94 25.05h1.00M394.95 25.05h1.00M408.98 25.05h1.00M351.87 26.04h1.00M364.89 26.04h1.00M367.90 26.04h1.00M376.92 26.04h1.00M379.92 26.04h1.00M329.82 27.04h1.00M342.85 27.04h1.00M357.88 27.04h1.00M363.89 27.04h1.00M370.90 27.04h1.00M377.92 27.04h1.00M381.93 27.04h1.00M389.94 27.04h1.00M398.96 27.04h3.01M404.97 27.04h1.00M408.98 27.04h1.00M416.00 27.04h1.00M327.82 28.03h1.00M332.83 28.03h1.00M335.83 28.03h1.00M338.84 28.03h1.00M357.88 28.03h1.00M359.88 28.03h1.00M367.90 28.03h1.00M373.91 28.03h1.00M377.92 28.03h1.00M384.93 28.03h1.00M387.94 28.03h1.00M396.96 28.03h1.00M404.97 28.03h1.00M406.98 28.03h1.00M414.99 28.03h1.00M381.93 31.02h1.00M405.98 31.02h1.00M348.86 32.01h1.00M324.81 33.01h1.00M349.86 34.00h1.00M397.96 34.00h1.00M402.97 34.00h1.00M348.86 35.00h2.00M393.95 35.00h1.00M345.85 35.99h1.00M385.93 35.99h1.00M392.95 35.99h1.00M332.83 36.99h1.00M336.83 36.99h1.00M345.85 36.99h1.00M400.97 36.99h1.00M407.98 36.99h1.00M322.81 37.98h2.00M333.83 37.98h1.00M413.99 37.98h1.00M353.87 38.97h1.00M396.96 38.97h1.00M404.97 38.97h1.00M336.83 39.97h1.00M406.98 39.97h1.00M322.81 40.96h1.00M353.87 40.96h1.00M389.94 40.96h1.00M412.99 40.96h1.00M353.87 41.96h1.00M408.98 41.96h1.00M353.87 42.95h1.00M393.95 43.95h1.00M321.80 44.94h1.00M357.88 44.94h1.00M386.94 44.94h1.00M352.87 45.94h1.00M329.82 46.93h1.00M345.85 46.93h2.00M404.97 46.93h1.00M411.99 46.93h1.00M380.92 47.93h1.00M348.86 48.92h2.00M384.93 48.92h1.00M411.99 48.92h1.00M410.99 49.92h1.00M414.99 54.89h1.00M397.96 55.88h1.00M385.93 59.86h1.00M411.99 59.86h1.00M397.96 60.86h1.00M407.98 60.86h2.00M332.83 64.84h1.00M359.88 66.83h1.00M378.92 67.82h1.00M381.93 72.79h1.00M372.91 73.79h1.00M376.92 74.78h1.00M355.87 77.77h1.00M327.82 86.72h1.00" stroke="#21da1f" stroke-width="1.04" fill="none"/>
<path d="M351.87 16.10h1.00M368.90 16.10h1.00M385.93 16.10h1.00M389.94 20.08h1.00M388.94 21.07h1.00M408.98 21.07h1.00M411.99 21.07h1.00M408.98 22.07h1.00M349.86 25.05h1.00M398.96 25.05h1.00M327.82 26.04h1.00M349.86 26.04h1.00M403.97 28.03h1.00M352.87 29.03h1.00M402.97 29.03h1.00M407.98 29.03h2.00M320.80 30.02h1.00M400.97 30.02h1.00M405.98 30.02h1.00" stroke="#0f2c09" stroke-width="1.04" fill="none"/>
<path d="M354.87 16.10h1.00M388.94 16.10h1.00M403.97 16.10h1.00M370.90 17.09h1.00M375.91 17.09h1.00M414.99 17.09h1.00M372.91 18.09h1.00M388.94 18.09h1.00M413.99 18.09h1.00M354.87 19.08h1.00M399.96 19.08h1.00M328.82 20.08h1.00M378.92 20.08h1.00M391.95 20.08h1.00M399.96 20.08h1.00M404.97 20.08h1.00M355.87 21.07h1.00M363.89 21.07h1.00M322.81 22.07h1.00M325.81 22.07h1.00M343.85 22.07h1.00M348.86 22.07h1.00M390.94 22.07h2.00M410.99 22.07h1.00M321.80 23.06h1.00M328.82 23.06h1.00M394.95 23.06h1.00M408.98 23.06h1.00M411.99 23.06h1.00M416.00 23.06h1.00M332.83 24.05h1.00M340.84 24.05h2.00M392.95 24.05h1.00M336.83 25.05h2.00M343.85 25.05h1.00M345.85 25.05h2.00M391.95 25.05h1.00M397.96 25.05h1.00M399.96 25.05h1.00M401.97 25.05h1.00M407.98 25.05h1.00M416.00 25.05h1.00M368.90 26.04h1.00M371.91 26.04h1.00M386.94 26.04h1.00M405.98 26.04h1.00M416.00 26.04h1.00M330.82 27.04h1.00M356.88 27.04h1.00M401.97 27.04h1.00M409.98 27.04h1.00M325.81 28.03h1.00M355.87 28.03h1.00M364.89 28.03h1.00M380.92 28.03h1.00M389.94 28.03h1.00M407.98 28.03h1.00M400.97 29.03h1.00M410.99 29.03h1.00M412.99 29.03h1.00M396.96 31.02h1.00M406.98 31.02h1.00M360.88 32.01h1.00M387.94 32.01h1.00M407.98 32.01h1.00M344.85 33.01h1.00M401.97 33.01h1.00M324.81 34.00h1.00M326.81 34.00h1.00M358.88 34.00h1.00M368.90 34.00h1.00M382.93 34.00h1.00M394.95 34.00h2.00M400.97 34.00h1.00M340.84 35.00h1.00M343.85 35.00h1.00M347.86 35.00h1.00M350.86 35.00h1.00M380.92 35.00h1.00M395.96 35.00h1.00M399.96 35.00h1.00M402.97 35.00h1.00M409.98 35.00h3.01M403.97 35.99h1.00M321.80 36.99h1.00M340.84 36.99h1.00M373.91 36.99h1.00M375.91 36.99h1.00M384.93 36.99h1.00M392.95 36.99h2.00M410.99 36.99h1.00M319.80 37.98h1.00M327.82 37.98h2.00M332.83 37.98h1.00M352.87 37.98h1.00M407.98 37.98h1.00M321.80 38.97h1.00M357.88 38.97h1.00M375.91 38.97h1.00M383.93 38.97h1.00M387.94 38.97h1.00M334.83 39.97h1.00M361.89 39.97h1.00M379.92 39.97h1.00M401.97 39.97h2.00M413.99 39.97h1.00M325.81 40.96h1.00M337.84 40.96h1.00M361.89 40.96h1.00M373.91 40.96h1.00M399.96 40.96h1.00M402.97 40.96h1.00M320.80 41.96h1.00M371.91 41.96h1.00M381.93 41.96h1.00M391.95 41.96h1.00M402.97 41.96h1.00M341.84 42.95h1.00M406.98 42.95h1.00M416.00 42.95h1.00M321.80 43.95h1.00M327.82 43.95h1.00M343.85 43.95h1.00M345.85 43.95h1.00M352.87 43.95h1.00M365.89 43.95h1.00M379.92 43.95h1.00M320.80 44.94h1.00M334.83 44.94h1.00M356.88 44.94h1.00M372.91 44.94h1.00M382.93 44.94h1.00M396.96 44.94h1.00M403.97 44.94h1.00M412.99 44.94h1.00M329.82 45.94h1.00M358.88 45.94h1.00M369.90 45.94h1.00M372.91 45.94h2.00M376.92 45.94h1.00M396.96 45.94h1.00M330.82 46.93h1.00M335.83 46.93h1.00M359.88 46.93h1.00M371.91 46.93h1.00M376.92 46.93h1.00M381.93 46.93h1.00M391.95 46.93h1.00M329.82 47.93h1.00M348.86 47.93h1.00M355.87 47.93h1.00M394.95 47.93h1.00M399.96 47.93h1.00M319.80 48.92h2.00M347.86 48.92h1.00M365.89 48.92h1.00M368.90 48.92h1.00M382.93 48.92h1.00M394.95 48.92h1.00M399.96 48.92h1.00M402.97 48.92h1.00M344.85 49.92h1.00M372.91 49.92h1.00M385.93 49.92h2.00M408.98 49.92h1.00M370.90 50.91h1.00M341.84 51.91h1.00M346.86 51.91h1.00M385.93 51.91h1.00M395.96 51.91h1.00M399.96 51.91h1.00M390.94 52.90h1.00M385.93 53.89h1.00M382.93 54.89h2.00M401.97 54.89h1.00M321.80 55.88h1.00M367.90 55.88h1.00M396.96 55.88h1.00M398.96 55.88h1.00M402.97 55.88h2.00M405.98 55.88h1.00M367.90 56.88h1.00M397.96 56.88h1.00M411.99 56.88h1.00M361.89 57.87h2.00M364.89 57.87h1.00M405.98 57.87h1.00M410.99 57.87h1.00M321.80 58.87h1.00M346.86 58.87h1.00M331.82 59.86h1.00M346.86 59.86h1.00M384.93 59.86h1.00M407.98 59.86h1.00M379.92 60.86h1.00M386.94 60.86h1.00M413.99 60.86h1.00M372.91 61.85h1.00M364.89 63.84h1.00M373.91 64.84h1.00M394.95 64.84h1.00M375.91 65.83h1.00M387.94 65.83h1.00M413.99 65.83h1.00M387.94 66.83h1.00M413.99 66.83h1.00M324.81 67.82h1.00M359.88 67.82h1.00M324.81 68.81h1.00M355.87 68.81h1.00M324.81 69.81h1.00M378.92 69.81h1.00M336.83 70.80h1.00M361.89 71.80h1.00M321.80 73.79h1.00M379.92 73.79h1.00M329.82 74.78h1.00M332.83 74.78h1.00M379.92 74.78h1.00M354.87 75.78h1.00M357.88 75.78h1.00M319.80 76.77h1.00M349.86 76.77h1.00M354.87 76.77h1.00M394.95 78.76h1.00M393.95 79.76h1.00M326.81 80.75h1.00M337.84 81.75h1.00M351.87 81.75h1.00M373.91 82.74h1.00M412.99 82.74h1.00M322.81 84.73h1.00M332.83 84.73h1.00M332.83 85.72h1.00M319.80 87.71h1.00M337.84 87.71h1.00M334.83 88.71h1.00M330.82 89.70h1.00" stroke="#167412" stroke-width="1.04" fill="none"/>
<path d="M369.90 16.10h1.00M384.93 16.10h1.00M321.80 17.09h1.00M363.89 17.09h1.00M402.97 17.09h1.00M329.82 18.09h1.00M366.90 18.09h1.00M403.97 18.09h1.00M414.99 18.09h1.00M402.97 19.08h1.00M342.85 21.07h1.00M387.94 21.07h1.00M406.98 21.07h1.00M413.99 21.07h1.00M353.87 22.07h1.00M412.99 22.07h1.00M353.87 23.06h1.00M407.98 23.06h1.00M357.88 24.05h1.00M364.89 24.05h1.00M384.93 24.05h1.00M334.83 25.05h1.00M412.99 25.05h1.00M385.93 26.04h1.00M395.96 26.04h1.00M395.96 27.04h1.00M403.97 27.04h1.00M417.00 27.04h1.00M397.96 28.03h1.00M319.80 29.03h1.00M319.80 30.02h1.00M396.96 30.02h1.00M398.96 30.02h1.00M402.97 30.02h2.00M410.99 30.02h1.00M324.81 31.02h1.00M339.84 31.02h1.00M341.84 31.02h1.00M343.85 31.02h1.00M349.86 31.02h1.00M385.93 31.02h1.00M390.94 31.02h1.00M324.81 32.01h1.00M339.84 32.01h1.00M346.86 32.01h1.00M361.89 32.01h1.00M382.93 32.01h2.00M396.96 32.01h1.00M404.97 32.01h1.00M326.81 33.01h1.00M348.86 33.01h1.00M319.80 34.00h1.00M331.82 34.00h1.00M333.83 34.00h1.00M346.86 34.00h2.00M369.90 34.00h1.00M387.94 34.00h1.00M404.97 34.00h1.00M412.99 34.00h1.00M320.80 35.00h1.00M324.81 35.00h2.00M338.84 35.00h1.00M389.94 35.00h1.00M403.97 35.00h2.00M344.85 35.99h1.00M373.91 35.99h1.00M404.97 35.99h1.00M355.87 36.99h1.00M362.89 36.99h1.00M385.93 36.99h1.00M395.96 36.99h2.00M401.97 36.99h1.00M413.99 36.99h1.00M320.80 37.98h1.00M329.82 37.98h1.00M337.84 37.98h1.00M340.84 37.98h1.00M344.85 37.98h1.00M348.86 37.98h1.00M375.91 37.98h1.00M393.95 37.98h1.00M414.99 37.98h1.00M334.83 38.97h1.00M338.84 38.97h1.00M340.84 38.97h1.00M347.86 38.97h1.00M350.86 38.97h1.00M368.90 38.97h1.00M371.91 38.97h2.00M380.92 38.97h1.00M402.97 38.97h1.00M413.99 38.97h1.00M333.83 39.97h1.00M337.84 39.97h1.00M344.85 39.97h1.00M376.92 39.97h1.00M386.94 39.97h1.00M398.96 39.97h1.00M409.98 39.97h2.00M326.81 40.96h1.00M340.84 40.96h1.00M363.89 40.96h1.00M374.91 40.96h1.00M324.81 41.96h1.00M326.81 41.96h1.00M330.82 41.96h1.00M367.90 41.96h1.00M376.92 41.96h1.00M384.93 41.96h1.00M397.96 41.96h1.00M411.99 41.96h1.00M334.83 42.95h1.00M336.83 42.95h1.00M338.84 42.95h1.00M343.85 42.95h1.00M346.86 42.95h1.00M368.90 42.95h1.00M339.84 43.95h1.00M350.86 43.95h1.00M355.87 43.95h1.00M380.92 43.95h1.00M383.93 43.95h2.00M386.94 43.95h1.00M400.97 43.95h1.00M406.98 43.95h1.00M417.00 43.95h1.00M350.86 44.94h1.00M405.98 44.94h1.00M328.82 45.94h1.00M334.83 45.94h1.00M370.90 45.94h1.00M374.91 45.94h1.00M391.95 45.94h1.00M401.97 45.94h1.00M406.98 45.94h1.00M323.81 46.93h1.00M333.83 46.93h1.00M348.86 46.93h1.00M352.87 46.93h1.00M355.87 46.93h2.00M358.88 46.93h1.00M323.81 47.93h1.00M327.82 47.93h1.00M339.84 47.93h1.00M347.86 47.93h1.00M392.95 47.93h2.00M396.96 47.93h1.00M416.00 47.93h1.00M340.84 48.92h1.00M386.94 48.92h1.00M392.95 48.92h1.00M404.97 48.92h1.00M357.88 49.92h1.00M361.89 49.92h1.00M377.92 49.92h1.00M393.95 49.92h1.00M406.98 49.92h1.00M414.99 49.92h1.00M346.86 50.91h1.00M383.93 50.91h1.00M397.96 50.91h1.00M400.97 50.91h1.00M407.98 50.91h1.00M331.82 51.91h1.00M362.89 51.91h1.00M376.92 51.91h1.00M380.92 51.91h1.00M386.94 51.91h1.00M336.83 52.90h1.00M393.95 52.90h1.00M395.96 52.90h1.00M337.84 53.89h1.00M343.85 53.89h1.00M369.90 53.89h1.00M377.92 53.89h2.00M382.93 53.89h2.00M386.94 53.89h1.00M394.95 53.89h1.00M416.00 53.89h1.00M370.90 54.89h1.00M392.95 55.88h1.00M410.99 55.88h1.00M326.81 56.88h1.00M402.97 56.88h1.00M404.97 56.88h1.00M410.99 56.88h1.00M325.81 57.87h1.00M403.97 57.87h1.00M320.80 58.87h1.00M342.85 58.87h2.00M353.87 58.87h1.00M363.89 58.87h1.00M401.97 58.87h1.00M356.88 59.86h1.00M360.88 59.86h1.00M389.94 59.86h1.00M394.95 59.86h1.00M398.96 59.86h1.00M322.81 60.86h1.00M342.85 60.86h1.00M356.88 60.86h1.00M396.96 60.86h1.00M412.99 60.86h1.00M338.84 61.85h1.00M370.90 61.85h1.00M373.91 61.85h1.00M380.92 61.85h1.00M383.93 61.85h1.00M409.98 61.85h1.00M412.99 61.85h1.00M354.87 62.85h2.00M362.89 62.85h1.00M409.98 62.85h1.00M332.83 63.84h1.00M356.88 63.84h1.00M399.96 63.84h1.00M408.98 63.84h1.00M354.87 64.84h1.00M363.89 64.84h1.00M378.92 64.84h1.00M395.96 64.84h1.00M401.97 64.84h1.00M344.85 65.83h1.00M341.84 66.83h1.00M375.91 66.83h1.00M319.80 67.82h1.00M328.82 67.82h1.00M348.86 67.82h1.00M362.89 67.82h1.00M331.82 68.81h1.00M345.85 68.81h1.00M347.86 68.81h2.00M356.88 68.81h1.00M379.92 69.81h1.00M391.95 69.81h1.00M391.95 70.80h1.00M365.89 72.79h1.00M408.98 73.79h1.00M339.84 75.78h1.00M404.97 75.78h1.00M416.00 75.78h1.00M344.85 76.77h1.00M355.87 76.77h1.00M342.85 77.77h3.01M351.87 77.77h1.00M357.88 77.77h1.00M376.92 77.77h1.00M397.96 77.77h2.00M356.88 78.76h1.00M376.92 78.76h1.00M398.96 78.76h1.00M411.99 80.75h1.00M329.82 81.75h1.00M378.92 81.75h1.00M329.82 82.74h1.00M324.81 83.73h1.00M373.91 83.73h1.00M379.92 83.73h1.00M327.82 85.72h2.00M379.92 85.72h1.00M328.82 86.72h2.00M378.92 86.72h1.00M410.99 86.72h1.00M384.93 87.71h2.00M410.99 87.71h1.00M375.91 88.71h1.00M378.92 88.71h1.00M407.98 89.70h1.00" stroke="#124f0d" stroke-width="1.04" fill="none"/>
<path d="M382.93 16.10h1.00M402.97 16.10h1.00M319.80 17.09h1.00M385.93 17.09h1.00M403.97 17.09h2.00M402.97 18.09h1.00M388.94 19.08h2.00M398.96 19.08h1.00M403.97 19.08h2.00M363.89 20.08h1.00M386.94 20.08h1.00M375.91 21.07h1.00M379.92 21.07h1.00M386.94 21.07h1.00M389.94 21.07h1.00M410.99 21.07h1.00M342.85 22.07h1.00M374.91 22.07h1.00M320.80 23.06h1.00M349.86 23.06h1.00M358.88 23.06h1.00M410.99 23.06h1.00M319.80 24.05h1.00M336.83 24.05h1.00M358.88 24.05h1.00M391.95 24.05h1.00M397.96 24.05h1.00M416.00 24.05h1.00M324.81 25.05h1.00M348.86 25.05h1.00M350.86 25.05h1.00M378.92 25.05h1.00M400.97 25.05h1.00M413.99 25.05h2.00M356.88 26.04h1.00M370.90 26.04h1.00M412.99 26.04h1.00M414.99 26.04h1.00M325.81 27.04h1.00M417.00 28.03h1.00M395.96 29.03h1.00M406.98 29.03h1.00M409.98 29.03h1.00M340.84 31.02h1.00M393.95 31.02h1.00M414.99 31.02h1.00M417.00 31.02h1.00M342.85 32.01h1.00M345.85 32.01h1.00M359.88 32.01h1.00M393.95 32.01h1.00M403.97 32.01h1.00M413.99 32.01h1.00M323.81 33.01h1.00M332.83 33.01h1.00M369.90 33.01h1.00M381.93 33.01h1.00M386.94 33.01h1.00M396.96 33.01h1.00M400.97 33.01h1.00M336.83 34.00h1.00M340.84 34.00h1.00M393.95 34.00h1.00M398.96 34.00h1.00M416.00 34.00h1.00M345.85 35.00h1.00M379.92 35.00h1.00M387.94 35.00h1.00M342.85 35.99h1.00M349.86 35.99h1.00M398.96 35.99h2.00M319.80 36.99h2.00M331.82 36.99h1.00M349.86 36.99h1.00M353.87 36.99h1.00M359.88 36.99h1.00M334.83 37.98h1.00M345.85 37.98h1.00M370.90 37.98h1.00M377.92 37.98h1.00M391.95 37.98h1.00M327.82 38.97h1.00M336.83 38.97h1.00M349.86 38.97h1.00M352.87 38.97h1.00M361.89 38.97h1.00M367.90 38.97h1.00M374.91 38.97h1.00M379.92 38.97h1.00M386.94 38.97h1.00M399.96 38.97h1.00M322.81 39.97h1.00M324.81 39.97h2.00M332.83 39.97h1.00M342.85 39.97h1.00M368.90 39.97h1.00M394.95 39.97h1.00M396.96 39.97h1.00M403.97 39.97h1.00M416.00 39.97h1.00M339.84 40.96h1.00M391.95 40.96h2.00M405.98 40.96h1.00M323.81 41.96h1.00M334.83 41.96h1.00M340.84 41.96h1.00M362.89 41.96h1.00M364.89 41.96h1.00M372.91 41.96h1.00M378.92 41.96h1.00M385.93 41.96h1.00M388.94 41.96h1.00M319.80 42.95h1.00M322.81 42.95h1.00M337.84 42.95h1.00M359.88 42.95h1.00M390.94 42.95h1.00M395.96 42.95h1.00M335.83 43.95h1.00M344.85 43.95h1.00M361.89 43.95h1.00M407.98 43.95h1.00M416.00 43.95h1.00M330.82 44.94h1.00M339.84 44.94h1.00M367.90 44.94h1.00M371.91 44.94h1.00M391.95 44.94h1.00M395.96 44.94h1.00M397.96 44.94h1.00M407.98 44.94h2.00M417.00 44.94h1.00M349.86 45.94h1.00M364.89 45.94h1.00M368.90 45.94h1.00M385.93 45.94h1.00M399.96 45.94h1.00M402.97 45.94h1.00M411.99 45.94h1.00M324.81 46.93h1.00M327.82 46.93h2.00M334.83 46.93h1.00M353.87 46.93h1.00M361.89 46.93h1.00M364.89 46.93h1.00M388.94 46.93h1.00M390.94 46.93h1.00M393.95 46.93h1.00M402.97 46.93h1.00M408.98 46.93h1.00M340.84 47.93h2.00M356.88 47.93h1.00M404.97 47.93h1.00M409.98 47.93h1.00M412.99 47.93h1.00M357.88 48.92h1.00M363.89 48.92h1.00M377.92 48.92h1.00M396.96 48.92h1.00M403.97 48.92h1.00M406.98 48.92h1.00M412.99 48.92h1.00M414.99 48.92h1.00M347.86 49.92h1.00M381.93 49.92h1.00M390.94 49.92h1.00M402.97 49.92h1.00M417.00 49.92h1.00M358.88 50.91h1.00M361.89 50.91h1.00M377.92 50.91h1.00M380.92 50.91h2.00M385.93 50.91h1.00M389.94 50.91h1.00M393.95 50.91h1.00M372.91 51.91h2.00M381.93 51.91h1.00M392.95 51.91h2.00M397.96 51.91h1.00M351.87 52.90h1.00M388.94 52.90h1.00M399.96 52.90h2.00M402.97 52.90h1.00M410.99 52.90h1.00M412.99 52.90h1.00M391.95 53.89h1.00M403.97 53.89h1.00M405.98 53.89h1.00M410.99 53.89h1.00M343.85 54.89h1.00M378.92 54.89h1.00M386.94 54.89h1.00M399.96 55.88h1.00M416.00 55.88h1.00M398.96 56.88h1.00M401.97 56.88h1.00M324.81 57.87h1.00M326.81 57.87h1.00M344.85 58.87h1.00M365.89 58.87h1.00M398.96 58.87h1.00M414.99 58.87h1.00M361.89 59.86h1.00M358.88 60.86h1.00M361.89 60.86h1.00M364.89 60.86h1.00M380.92 60.86h1.00M409.98 60.86h1.00M414.99 60.86h1.00M339.84 61.85h1.00M353.87 61.85h1.00M361.89 61.85h1.00M371.91 61.85h1.00M384.93 61.85h1.00M408.98 61.85h1.00M363.89 62.85h1.00M371.91 62.85h1.00M377.92 62.85h1.00M381.93 62.85h1.00M329.82 63.84h1.00M377.92 63.84h1.00M364.89 64.84h1.00M398.96 64.84h1.00M409.98 64.84h1.00M332.83 65.83h1.00M346.86 65.83h1.00M354.87 65.83h1.00M358.88 65.83h1.00M376.92 65.83h1.00M348.86 66.83h2.00M355.87 67.82h1.00M373.91 67.82h2.00M323.81 68.81h1.00M349.86 68.81h1.00M319.80 69.81h1.00M347.86 69.81h1.00M387.94 69.81h1.00M389.94 70.80h1.00M337.84 71.80h1.00M380.92 72.79h1.00M325.81 73.79h1.00M343.85 73.79h1.00M367.90 73.79h1.00M331.82 74.78h1.00M374.91 75.78h1.00M320.80 76.77h1.00M324.81 77.77h1.00M348.86 77.77h1.00M393.95 78.76h1.00M339.84 80.75h1.00M350.86 80.75h1.00M363.89 81.75h1.00M319.80 82.74h3.01M352.87 82.74h1.00M379.92 84.73h1.00M322.81 85.72h1.00M412.99 85.72h1.00M336.83 87.71h1.00M319.80 88.71h1.00M327.82 88.71h1.00M384.93 88.71h1.00M407.98 88.71h1.00M326.81 89.70h1.00M334.83 89.70h2.00M410.99 89.70h1.00" stroke="#146110" stroke-width="1.04" fill="none"/>
<path d="M320.80 17.09h1.00M351.87 17.09h1.00M341.84 18.09h1.00M390.94 20.08h1.00M369.90 21.07h1.00M372.91 21.07h2.00M372.91 22.07h2.00M411.99 22.07h1.00M391.95 23.06h1.00M320.80 24.05h1.00M324.81 24.05h1.00M333.83 24.05h1.00M327.82 25.05h1.00M332.83 25.05h1.00M392.95 25.05h1.00M326.81 26.04h1.00M413.99 26.04h1.00M385.93 27.04h1.00M402.97 27.04h1.00M398.96 28.03h1.00M402.97 28.03h1.00M349.86 29.03h1.00M405.98 29.03h1.00M417.00 29.03h1.00M404.97 30.02h1.00M351.87 31.02h1.00M362.89 31.02h1.00M375.91 31.02h1.00M378.92 31.02h1.00M380.92 31.02h1.00M387.94 31.02h1.00M363.89 32.01h1.00M376.92 32.01h1.00M381.93 32.01h1.00M384.93 32.01h1.00M388.94 32.01h1.00M402.97 32.01h1.00M334.83 33.01h1.00M337.84 33.01h1.00M395.96 33.01h1.00M399.96 33.01h1.00M320.80 34.00h1.00M332.83 34.00h1.00M343.85 34.00h1.00M356.88 34.00h1.00M380.92 34.00h1.00M342.85 35.00h1.00M325.81 35.99h1.00M341.84 35.99h1.00M348.86 35.99h1.00M413.99 35.99h1.00M323.81 36.99h1.00M339.84 36.99h1.00M350.86 36.99h1.00M383.93 36.99h1.00M405.98 36.99h1.00M324.81 37.98h1.00M335.83 37.98h1.00M347.86 37.98h1.00M373.91 37.98h1.00M381.93 37.98h1.00M408.98 37.98h1.00M322.81 38.97h1.00M412.99 38.97h1.00M345.85 39.97h1.00M375.91 39.97h1.00M338.84 40.96h1.00M354.87 40.96h1.00M396.96 40.96h1.00M414.99 40.96h1.00M327.82 41.96h1.00M348.86 41.96h1.00M404.97 41.96h1.00M335.83 42.95h1.00M381.93 42.95h1.00M386.94 42.95h1.00M412.99 42.95h1.00M414.99 42.95h1.00M325.81 43.95h1.00M356.88 43.95h1.00M385.93 43.95h1.00M355.87 44.94h1.00M392.95 44.94h1.00M335.83 45.94h1.00M393.95 45.94h1.00M339.84 46.93h1.00M360.88 46.93h1.00M398.96 46.93h1.00M373.91 47.93h1.00M406.98 47.93h1.00M360.88 48.92h1.00M372.91 48.92h1.00M393.95 48.92h1.00M342.85 49.92h1.00M345.85 49.92h1.00M363.89 49.92h1.00M388.94 49.92h1.00M411.99 49.92h1.00M356.88 50.91h1.00M369.90 50.91h1.00M379.92 50.91h1.00M382.93 50.91h1.00M395.96 50.91h1.00M330.82 51.91h1.00M344.85 51.91h1.00M403.97 51.91h1.00M416.00 51.91h1.00M347.86 52.90h1.00M378.92 52.90h1.00M389.94 52.90h1.00M403.97 52.90h1.00M413.99 54.89h1.00M328.82 55.88h1.00M366.90 55.88h1.00M368.90 55.88h1.00M404.97 55.88h1.00M327.82 56.88h1.00M399.96 56.88h1.00M417.00 57.87h1.00M384.93 58.87h1.00M393.95 58.87h1.00M405.98 58.87h1.00M376.92 60.86h1.00M337.84 61.85h1.00M412.99 62.85h1.00M345.85 63.84h1.00M370.90 63.84h1.00M381.93 63.84h1.00M333.83 64.84h1.00M345.85 64.84h1.00M410.99 64.84h1.00M347.86 65.83h1.00M417.00 65.83h1.00M338.84 66.83h1.00M346.86 66.83h1.00M355.87 66.83h1.00M362.89 66.83h1.00M411.99 66.83h1.00M332.83 67.82h1.00M353.87 67.82h1.00M340.84 68.81h1.00M344.85 68.81h1.00M376.92 68.81h2.00M369.90 69.81h1.00M390.94 69.81h1.00M407.98 69.81h1.00M382.93 70.80h1.00M406.98 70.80h1.00M376.92 71.80h1.00M391.95 71.80h1.00M348.86 72.79h1.00M364.89 72.79h1.00M322.81 73.79h1.00M355.87 74.78h1.00M378.92 74.78h1.00M330.82 75.78h1.00M351.87 75.78h1.00M343.85 76.77h1.00M399.96 76.77h1.00M416.00 76.77h1.00M337.84 77.77h1.00M321.80 78.76h1.00M352.87 78.76h1.00M404.97 78.76h1.00M327.82 80.75h1.00M329.82 80.75h1.00M364.89 80.75h1.00M371.91 80.75h1.00M330.82 81.75h1.00M379.92 82.74h1.00M327.82 84.73h1.00M326.81 87.71h1.00M351.87 88.71h1.00M362.89 89.70h1.00" stroke="#103d0b" stroke-width="1.04" fill="none"/>
<path d="M404.97 18.09h1.00M407.98 22.07h1.00M390.94 23.06h1.00M320.80 29.03h1.00M396.96 29.03h1.00M324.81 30.02h1.00M379.92 30.02h1.00M391.95 30.02h1.00M406.98 30.02h1.00M409.98 30.02h1.00M413.99 30.02h1.00M319.80 31.02h1.00M371.91 31.02h1.00M384.93 31.02h1.00M394.95 31.02h2.00M397.96 31.02h2.00M402.97 31.02h1.00M412.99 31.02h1.00M416.00 31.02h1.00M319.80 32.01h1.00M330.82 32.01h1.00M340.84 32.01h2.00M351.87 32.01h1.00M362.89 32.01h1.00M368.90 32.01h2.00M371.91 32.01h1.00M389.94 32.01h1.00M398.96 32.01h1.00M321.80 33.01h1.00M342.85 33.01h1.00M351.87 33.01h1.00M359.88 33.01h2.00M380.92 33.01h1.00M385.93 33.01h1.00M387.94 33.01h2.00M403.97 33.01h1.00M407.98 33.01h1.00M321.80 34.00h1.00M323.81 34.00h1.00M325.81 34.00h1.00M327.82 34.00h1.00M334.83 34.00h2.00M344.85 34.00h1.00M379.92 34.00h1.00M388.94 34.00h1.00M409.98 34.00h1.00M319.80 35.00h1.00M326.81 35.00h1.00M344.85 35.00h1.00M361.89 35.00h1.00M386.94 35.00h1.00M391.95 35.00h1.00M405.98 35.00h1.00M408.98 35.00h1.00M413.99 35.00h2.00M417.00 35.00h1.00M332.83 35.99h1.00M335.83 35.99h1.00M338.84 35.99h1.00M347.86 35.99h1.00M350.86 35.99h1.00M354.87 35.99h2.00M367.90 35.99h1.00M371.91 35.99h1.00M379.92 35.99h1.00M386.94 35.99h1.00M389.94 35.99h1.00M396.96 35.99h2.00M409.98 35.99h1.00M414.99 35.99h1.00M333.83 36.99h1.00M337.84 36.99h1.00M341.84 36.99h1.00M343.85 36.99h1.00M348.86 36.99h1.00M358.88 36.99h1.00M363.89 36.99h1.00M366.90 36.99h4.01M372.91 36.99h1.00M376.92 36.99h1.00M386.94 36.99h1.00M391.95 36.99h1.00M397.96 36.99h1.00M402.97 36.99h1.00M404.97 36.99h1.00M408.98 36.99h1.00M411.99 36.99h1.00M339.84 37.98h1.00M342.85 37.98h1.00M350.86 37.98h2.00M356.88 37.98h2.00M362.89 37.98h1.00M376.92 37.98h1.00M380.92 37.98h1.00M383.93 37.98h1.00M386.94 37.98h1.00M394.95 37.98h1.00M403.97 37.98h1.00M406.98 37.98h1.00M324.81 38.97h3.01M354.87 38.97h1.00M370.90 38.97h1.00M373.91 38.97h1.00M384.93 38.97h1.00M394.95 38.97h1.00M414.99 38.97h1.00M319.80 39.97h1.00M323.81 39.97h1.00M350.86 39.97h1.00M352.87 39.97h1.00M359.88 39.97h1.00M366.90 39.97h1.00M373.91 39.97h1.00M385.93 39.97h1.00M388.94 39.97h2.00M391.95 39.97h1.00M395.96 39.97h1.00M399.96 39.97h1.00M331.82 40.96h2.00M348.86 40.96h1.00M360.88 40.96h1.00M362.89 40.96h1.00M376.92 40.96h1.00M381.93 40.96h1.00M394.95 40.96h1.00M403.97 40.96h2.00M406.98 40.96h2.00M413.99 40.96h1.00M325.81 41.96h1.00M331.82 41.96h1.00M341.84 41.96h1.00M343.85 41.96h1.00M355.87 41.96h1.00M365.89 41.96h1.00M368.90 41.96h2.00M373.91 41.96h1.00M380.92 41.96h1.00M389.94 41.96h1.00M396.96 41.96h1.00M400.97 41.96h1.00M323.81 42.95h1.00M331.82 42.95h1.00M350.86 42.95h1.00M355.87 42.95h2.00M364.89 42.95h1.00M367.90 42.95h1.00M371.91 42.95h1.00M378.92 42.95h1.00M391.95 42.95h2.00M396.96 42.95h1.00M402.97 42.95h2.00M409.98 42.95h1.00M411.99 42.95h1.00M413.99 42.95h1.00M320.80 43.95h1.00M323.81 43.95h2.00M340.84 43.95h1.00M354.87 43.95h1.00M363.89 43.95h1.00M366.90 43.95h3.01M375.91 43.95h1.00M381.93 43.95h1.00M388.94 43.95h1.00M394.95 43.95h4.01M401.97 43.95h1.00M409.98 43.95h1.00M412.99 43.95h1.00M324.81 44.94h1.00M328.82 44.94h2.00M331.82 44.94h1.00M335.83 44.94h1.00M358.88 44.94h1.00M370.90 44.94h1.00M378.92 44.94h1.00M380.92 44.94h1.00M401.97 44.94h1.00M406.98 44.94h1.00M416.00 44.94h1.00M326.81 45.94h1.00M330.82 45.94h1.00M343.85 45.94h1.00M355.87 45.94h1.00M357.88 45.94h1.00M361.89 45.94h1.00M371.91 45.94h1.00M392.95 45.94h1.00M394.95 45.94h2.00M397.96 45.94h1.00M407.98 45.94h1.00M332.83 46.93h1.00M337.84 46.93h2.00M343.85 46.93h1.00M347.86 46.93h1.00M351.87 46.93h1.00M373.91 46.93h1.00M396.96 46.93h1.00M403.97 46.93h1.00M407.98 46.93h1.00M333.83 47.93h1.00M349.86 47.93h1.00M351.87 47.93h1.00M363.89 47.93h1.00M367.90 47.93h1.00M376.92 47.93h1.00M385.93 47.93h1.00M387.94 47.93h1.00M395.96 47.93h1.00M403.97 47.93h1.00M321.80 48.92h1.00M327.82 48.92h1.00M331.82 48.92h1.00M341.84 48.92h1.00M350.86 48.92h1.00M358.88 48.92h1.00M374.91 48.92h3.01M381.93 48.92h1.00M387.94 48.92h1.00M389.94 48.92h1.00M405.98 48.92h1.00M408.98 48.92h1.00M324.81 49.92h1.00M327.82 49.92h1.00M341.84 49.92h1.00M350.86 49.92h1.00M360.88 49.92h1.00M362.89 49.92h1.00M368.90 49.92h1.00M371.91 49.92h1.00M375.91 49.92h2.00M383.93 49.92h1.00M394.95 49.92h1.00M397.96 49.92h1.00M405.98 49.92h1.00M341.84 50.91h1.00M353.87 50.91h1.00M365.89 50.91h2.00M368.90 50.91h1.00M375.91 50.91h2.00M384.93 50.91h1.00M387.94 50.91h1.00M398.96 50.91h1.00M409.98 50.91h1.00M411.99 50.91h3.01M321.80 51.91h1.00M361.89 51.91h1.00M365.89 51.91h2.00M375.91 51.91h1.00M377.92 51.91h1.00M382.93 51.91h1.00M387.94 51.91h1.00M390.94 51.91h1.00M409.98 51.91h1.00M331.82 52.90h1.00M341.84 52.90h1.00M346.86 52.90h1.00M372.91 52.90h1.00M375.91 52.90h3.01M379.92 52.90h1.00M381.93 52.90h1.00M396.96 52.90h1.00M409.98 52.90h1.00M411.99 52.90h1.00M414.99 52.90h1.00M329.82 53.89h1.00M351.87 53.89h1.00M373.91 53.89h1.00M393.95 53.89h1.00M395.96 53.89h1.00M399.96 53.89h1.00M406.98 53.89h1.00M412.99 53.89h1.00M321.80 54.89h1.00M337.84 54.89h2.00M342.85 54.89h1.00M366.90 54.89h1.00M377.92 54.89h1.00M384.93 54.89h2.00M390.94 54.89h1.00M399.96 54.89h2.00M404.97 54.89h2.00M322.81 55.88h1.00M327.82 55.88h1.00M340.84 55.88h1.00M383.93 55.88h1.00M395.96 55.88h1.00M417.00 55.88h1.00M324.81 56.88h2.00M333.83 56.88h1.00M366.90 56.88h1.00M368.90 56.88h1.00M371.91 56.88h1.00M375.91 56.88h1.00M392.95 56.88h1.00M405.98 56.88h1.00M417.00 56.88h1.00M336.83 57.87h2.00M401.97 57.87h1.00M340.84 58.87h1.00M347.86 58.87h1.00M372.91 58.87h1.00M403.97 58.87h1.00M406.98 58.87h1.00M319.80 59.86h1.00M322.81 59.86h1.00M343.85 59.86h2.00M351.87 59.86h1.00M372.91 59.86h1.00M380.92 59.86h1.00M388.94 59.86h1.00M397.96 59.86h1.00M414.99 59.86h1.00M320.80 60.86h1.00M332.83 60.86h1.00M351.87 60.86h1.00M353.87 60.86h3.01M365.89 60.86h1.00M374.91 60.86h2.00M383.93 60.86h1.00M398.96 60.86h1.00M406.98 60.86h1.00M320.80 61.85h1.00M322.81 61.85h1.00M332.83 61.85h2.00M352.87 61.85h1.00M354.87 61.85h2.00M357.88 61.85h2.00M364.89 61.85h1.00M369.90 61.85h1.00M375.91 61.85h1.00M378.92 61.85h1.00M382.93 61.85h1.00M407.98 61.85h1.00M410.99 61.85h1.00M414.99 61.85h1.00M327.82 62.85h1.00M329.82 62.85h1.00M333.83 62.85h1.00M336.83 62.85h1.00M338.84 62.85h2.00M361.89 62.85h1.00M366.90 62.85h1.00M370.90 62.85h1.00M372.91 62.85h1.00M375.91 62.85h1.00M379.92 62.85h2.00M383.93 62.85h1.00M391.95 62.85h1.00M394.95 62.85h1.00M408.98 62.85h1.00M416.00 62.85h1.00M326.81 63.84h1.00M346.86 63.84h1.00M348.86 63.84h2.00M355.87 63.84h1.00M357.88 63.84h1.00M361.89 63.84h1.00M382.93 63.84h3.01M387.94 63.84h1.00M391.95 63.84h1.00M397.96 63.84h1.00M411.99 63.84h2.00M416.00 63.84h1.00M321.80 64.84h1.00M346.86 64.84h3.01M350.86 64.84h2.00M355.87 64.84h1.00M411.99 64.84h2.00M363.89 65.83h1.00M371.91 65.83h1.00M386.94 65.83h1.00M394.95 65.83h1.00M411.99 65.83h1.00M320.80 66.83h1.00M330.82 66.83h2.00M344.85 66.83h1.00M354.87 66.83h1.00M358.88 66.83h1.00M381.93 66.83h1.00M386.94 66.83h1.00M388.94 66.83h1.00M393.95 66.83h1.00M405.98 66.83h1.00M414.99 66.83h2.00M327.82 67.82h1.00M330.82 67.82h1.00M337.84 67.82h1.00M354.87 67.82h1.00M365.89 67.82h1.00M375.91 67.82h1.00M381.93 67.82h2.00M332.83 68.81h1.00M346.86 68.81h1.00M351.87 68.81h1.00M358.88 68.81h1.00M369.90 68.81h1.00M378.92 68.81h1.00M384.93 68.81h1.00M390.94 68.81h1.00M323.81 69.81h1.00M348.86 69.81h2.00M352.87 69.81h1.00M362.89 69.81h1.00M406.98 69.81h1.00M412.99 69.81h2.00M319.80 70.80h1.00M331.82 70.80h1.00M335.83 70.80h1.00M337.84 70.80h1.00M345.85 70.80h1.00M354.87 70.80h1.00M356.88 70.80h2.00M362.89 70.80h1.00M368.90 70.80h1.00M383.93 70.80h1.00M388.94 70.80h1.00M390.94 70.80h1.00M407.98 70.80h1.00M332.83 71.80h1.00M335.83 71.80h1.00M348.86 71.80h1.00M357.88 71.80h1.00M365.89 71.80h1.00M389.94 71.80h1.00M323.81 72.79h1.00M325.81 72.79h1.00M334.83 72.79h1.00M345.85 72.79h1.00M355.87 72.79h1.00M363.89 72.79h1.00M324.81 73.79h1.00M329.82 73.79h1.00M331.82 73.79h1.00M341.84 73.79h1.00M374.91 73.79h1.00M378.92 73.79h1.00M402.97 73.79h1.00M321.80 74.78h3.01M325.81 74.78h1.00M327.82 74.78h2.00M341.84 74.78h1.00M343.85 74.78h1.00M352.87 74.78h1.00M354.87 74.78h1.00M366.90 74.78h1.00M399.96 74.78h1.00M411.99 74.78h1.00M325.81 75.78h1.00M352.87 75.78h1.00M356.88 75.78h1.00M377.92 75.78h1.00M321.80 76.77h1.00M325.81 76.77h1.00M339.84 76.77h2.00M342.85 76.77h1.00M348.86 76.77h1.00M350.86 76.77h1.00M352.87 76.77h1.00M357.88 76.77h1.00M364.89 76.77h1.00M386.94 76.77h1.00M325.81 77.77h1.00M338.84 77.77h4.01M345.85 77.77h1.00M347.86 77.77h1.00M352.87 77.77h1.00M354.87 77.77h1.00M364.89 77.77h1.00M338.84 78.76h1.00M351.87 78.76h1.00M355.87 78.76h1.00M357.88 78.76h1.00M364.89 78.76h1.00M402.97 78.76h1.00M394.95 79.76h1.00M410.99 79.76h1.00M322.81 80.75h1.00M330.82 80.75h1.00M337.84 80.75h2.00M351.87 80.75h1.00M357.88 80.75h2.00M363.89 80.75h1.00M372.91 80.75h1.00M406.98 80.75h1.00M410.99 80.75h1.00M319.80 81.75h1.00M328.82 81.75h1.00M338.84 81.75h2.00M350.86 81.75h1.00M354.87 81.75h1.00M357.88 81.75h1.00M324.81 82.74h1.00M354.87 82.74h1.00M391.95 82.74h1.00M407.98 82.74h1.00M353.87 83.73h2.00M372.91 83.73h1.00M402.97 83.73h1.00M411.99 83.73h2.00M323.81 84.73h1.00M328.82 84.73h1.00M333.83 84.73h1.00M378.92 84.73h1.00M403.97 84.73h1.00M333.83 85.72h1.00M386.94 85.72h1.00M407.98 85.72h1.00M326.81 86.72h1.00M330.82 86.72h1.00M335.83 86.72h1.00M337.84 86.72h1.00M359.88 86.72h1.00M412.99 86.72h1.00M335.83 87.71h1.00M409.98 87.71h1.00M322.81 88.71h1.00M324.81 88.71h1.00M330.82 88.71h1.00M335.83 88.71h1.00M337.84 88.71h2.00M392.95 88.71h1.00M410.99 88.71h1.00M323.81 89.70h1.00M341.84 89.70h2.00M375.91 89.70h1.00M379.92 89.70h1.00" stroke="#0d1c07" stroke-width="1.04" fill="none"/>
<path d="M387.94 20.08h2.00M407.98 21.07h1.00M400.97 26.04h2.00M348.86 29.03h1.00M379.92 29.03h1.00M385.93 29.03h1.00M397.96 29.03h2.00M403.97 29.03h1.00M416.00 29.03h1.00M321.80 30.02h1.00M347.86 30.02h1.00M378.92 30.02h1.00M380.92 30.02h2.00M399.96 30.02h1.00M320.80 31.02h2.00M327.82 31.02h1.00M337.84 31.02h1.00M345.85 31.02h1.00M359.88 31.02h1.00M361.89 31.02h1.00M363.89 31.02h1.00M365.89 31.02h1.00M377.92 31.02h1.00M399.96 31.02h1.00M409.98 31.02h1.00M322.81 32.01h2.00M333.83 32.01h1.00M335.83 32.01h1.00M338.84 32.01h1.00M356.88 32.01h1.00M374.91 32.01h1.00M386.94 32.01h1.00M390.94 32.01h1.00M408.98 32.01h1.00M327.82 33.01h1.00M330.82 33.01h2.00M339.84 33.01h3.01M345.85 33.01h2.00M350.86 33.01h1.00M356.88 33.01h1.00M367.90 33.01h1.00M370.90 33.01h1.00M373.91 33.01h1.00M375.91 33.01h1.00M379.92 33.01h1.00M398.96 33.01h1.00M409.98 33.01h1.00M414.99 33.01h1.00M339.84 34.00h1.00M341.84 34.00h1.00M350.86 34.00h1.00M364.89 34.00h2.00M372.91 34.00h2.00M375.91 34.00h1.00M381.93 34.00h1.00M414.99 34.00h1.00M321.80 35.00h1.00M334.83 35.00h2.00M341.84 35.00h1.00M354.87 35.00h1.00M358.88 35.00h2.00M373.91 35.00h1.00M382.93 35.00h1.00M412.99 35.00h1.00M416.00 35.00h1.00M320.80 35.99h2.00M326.81 35.99h1.00M336.83 35.99h1.00M340.84 35.99h1.00M383.93 35.99h1.00M391.95 35.99h1.00M408.98 35.99h1.00M410.99 35.99h1.00M416.00 35.99h2.00M324.81 36.99h1.00M338.84 36.99h1.00M342.85 36.99h1.00M344.85 36.99h1.00M347.86 36.99h1.00M356.88 36.99h1.00M360.88 36.99h2.00M365.89 36.99h1.00M377.92 36.99h1.00M380.92 36.99h1.00M390.94 36.99h1.00M394.95 36.99h1.00M409.98 36.99h1.00M414.99 36.99h1.00M346.86 37.98h1.00M349.86 37.98h1.00M355.87 37.98h1.00M360.88 37.98h1.00M368.90 37.98h1.00M371.91 37.98h2.00M379.92 37.98h1.00M382.93 37.98h1.00M384.93 37.98h1.00M390.94 37.98h1.00M400.97 37.98h1.00M404.97 37.98h1.00M323.81 38.97h1.00M335.83 38.97h1.00M346.86 38.97h1.00M351.87 38.97h1.00M355.87 38.97h1.00M381.93 38.97h2.00M388.94 38.97h1.00M390.94 38.97h1.00M400.97 38.97h1.00M407.98 38.97h1.00M409.98 38.97h2.00M417.00 38.97h1.00M326.81 39.97h1.00M328.82 39.97h1.00M338.84 39.97h1.00M346.86 39.97h2.00M351.87 39.97h1.00M355.87 39.97h1.00M358.88 39.97h1.00M369.90 39.97h1.00M374.91 39.97h1.00M381.93 39.97h1.00M387.94 39.97h1.00M408.98 39.97h1.00M417.00 39.97h1.00M329.82 40.96h1.00M341.84 40.96h1.00M343.85 40.96h1.00M351.87 40.96h1.00M355.87 40.96h2.00M359.88 40.96h1.00M319.80 41.96h1.00M329.82 41.96h1.00M332.83 41.96h1.00M335.83 41.96h1.00M342.85 41.96h1.00M347.86 41.96h1.00M358.88 41.96h2.00M363.89 41.96h1.00M366.90 41.96h1.00M370.90 41.96h1.00M375.91 41.96h1.00M379.92 41.96h1.00M393.95 41.96h1.00M395.96 41.96h1.00M399.96 41.96h1.00M403.97 41.96h1.00M410.99 41.96h1.00M417.00 41.96h1.00M326.81 42.95h2.00M332.83 42.95h1.00M365.89 42.95h2.00M369.90 42.95h1.00M372.91 42.95h5.01M384.93 42.95h1.00M387.94 42.95h1.00M389.94 42.95h1.00M393.95 42.95h1.00M399.96 42.95h1.00M410.99 42.95h1.00M417.00 42.95h1.00M331.82 43.95h1.00M338.84 43.95h1.00M348.86 43.95h1.00M353.87 43.95h1.00M362.89 43.95h1.00M369.90 43.95h2.00M377.92 43.95h1.00M382.93 43.95h1.00M391.95 43.95h2.00M399.96 43.95h1.00M410.99 43.95h2.00M413.99 43.95h1.00M319.80 44.94h1.00M325.81 44.94h1.00M343.85 44.94h1.00M362.89 44.94h2.00M368.90 44.94h2.00M376.92 44.94h1.00M387.94 44.94h1.00M399.96 44.94h1.00M409.98 44.94h2.00M319.80 45.94h1.00M321.80 45.94h1.00M324.81 45.94h1.00M336.83 45.94h2.00M339.84 45.94h1.00M350.86 45.94h1.00M356.88 45.94h1.00M362.89 45.94h1.00M367.90 45.94h1.00M375.91 45.94h1.00M378.92 45.94h2.00M384.93 45.94h1.00M322.81 46.93h1.00M326.81 46.93h1.00M336.83 46.93h1.00M349.86 46.93h1.00M357.88 46.93h1.00M362.89 46.93h1.00M366.90 46.93h1.00M375.91 46.93h1.00M382.93 46.93h1.00M387.94 46.93h1.00M321.80 47.93h2.00M325.81 47.93h2.00M330.82 47.93h1.00M338.84 47.93h1.00M352.87 47.93h1.00M366.90 47.93h1.00M381.93 47.93h1.00M383.93 47.93h1.00M397.96 47.93h1.00M325.81 48.92h1.00M328.82 48.92h1.00M339.84 48.92h1.00M351.87 48.92h1.00M356.88 48.92h1.00M370.90 48.92h1.00M397.96 48.92h1.00M407.98 48.92h1.00M416.00 48.92h1.00M319.80 49.92h1.00M325.81 49.92h1.00M331.82 49.92h1.00M334.83 49.92h3.01M340.84 49.92h1.00M356.88 49.92h1.00M358.88 49.92h2.00M369.90 49.92h2.00M384.93 49.92h1.00M387.94 49.92h1.00M389.94 49.92h1.00M396.96 49.92h1.00M398.96 49.92h1.00M326.81 50.91h1.00M333.83 50.91h4.01M345.85 50.91h1.00M357.88 50.91h1.00M363.89 50.91h2.00M390.94 50.91h1.00M416.00 50.91h1.00M320.80 51.91h1.00M345.85 51.91h1.00M359.88 51.91h2.00M367.90 51.91h1.00M374.91 51.91h1.00M378.92 51.91h2.00M383.93 51.91h2.00M402.97 51.91h1.00M404.97 51.91h1.00M411.99 51.91h1.00M413.99 51.91h1.00M319.80 52.90h1.00M322.81 52.90h1.00M335.83 52.90h1.00M338.84 52.90h1.00M352.87 52.90h1.00M374.91 52.90h1.00M380.92 52.90h1.00M382.93 52.90h1.00M384.93 52.90h1.00M406.98 52.90h1.00M327.82 53.89h2.00M360.88 53.89h1.00M363.89 53.89h1.00M372.91 53.89h1.00M379.92 53.89h1.00M390.94 53.89h1.00M396.96 53.89h1.00M407.98 53.89h1.00M409.98 53.89h1.00M413.99 53.89h1.00M328.82 54.89h1.00M372.91 54.89h1.00M392.95 54.89h1.00M412.99 54.89h1.00M330.82 55.88h1.00M337.84 55.88h1.00M342.85 55.88h1.00M354.87 55.88h1.00M370.90 55.88h1.00M382.93 55.88h1.00M386.94 55.88h1.00M391.95 55.88h1.00M411.99 55.88h1.00M336.83 56.88h2.00M364.89 56.88h1.00M389.94 56.88h1.00M323.81 57.87h1.00M327.82 57.87h2.00M338.84 57.87h2.00M343.85 57.87h1.00M363.89 57.87h1.00M365.89 57.87h1.00M371.91 57.87h1.00M375.91 57.87h2.00M399.96 57.87h1.00M404.97 57.87h1.00M406.98 57.87h1.00M409.98 57.87h1.00M326.81 58.87h1.00M328.82 58.87h1.00M339.84 58.87h1.00M345.85 58.87h1.00M348.86 58.87h1.00M352.87 58.87h1.00M360.88 58.87h1.00M386.94 58.87h1.00M388.94 58.87h1.00M392.95 58.87h1.00M394.95 58.87h1.00M397.96 58.87h1.00M408.98 58.87h1.00M332.83 59.86h1.00M364.89 59.86h1.00M383.93 59.86h1.00M390.94 59.86h1.00M393.95 59.86h1.00M401.97 59.86h2.00M404.97 59.86h1.00M416.00 59.86h2.00M325.81 60.86h1.00M330.82 60.86h1.00M337.84 60.86h1.00M339.84 60.86h1.00M341.84 60.86h1.00M343.85 60.86h1.00M348.86 60.86h2.00M372.91 60.86h1.00M377.92 60.86h1.00M382.93 60.86h1.00M401.97 60.86h1.00M405.98 60.86h1.00M410.99 60.86h1.00M416.00 60.86h1.00M319.80 61.85h1.00M336.83 61.85h1.00M342.85 61.85h1.00M349.86 61.85h1.00M356.88 61.85h1.00M362.89 61.85h1.00M365.89 61.85h1.00M376.92 61.85h2.00M381.93 61.85h1.00M385.93 61.85h1.00M389.94 61.85h1.00M391.95 61.85h1.00M398.96 61.85h1.00M401.97 61.85h1.00M411.99 61.85h1.00M319.80 62.85h1.00M332.83 62.85h1.00M337.84 62.85h1.00M345.85 62.85h2.00M353.87 62.85h1.00M356.88 62.85h1.00M358.88 62.85h1.00M364.89 62.85h1.00M388.94 62.85h1.00M327.82 63.84h1.00M333.83 63.84h1.00M335.83 63.84h1.00M338.84 63.84h1.00M342.85 63.84h1.00M350.86 63.84h2.00M354.87 63.84h1.00M360.88 63.84h1.00M362.89 63.84h1.00M369.90 63.84h1.00M372.91 63.84h2.00M385.93 63.84h2.00M394.95 63.84h2.00M406.98 63.84h1.00M410.99 63.84h1.00M417.00 63.84h1.00M324.81 64.84h1.00M327.82 64.84h1.00M344.85 64.84h1.00M357.88 64.84h2.00M376.92 64.84h1.00M379.92 64.84h1.00M381.93 64.84h1.00M386.94 64.84h1.00M408.98 64.84h1.00M413.99 64.84h1.00M417.00 64.84h1.00M333.83 65.83h1.00M350.86 65.83h1.00M353.87 65.83h1.00M362.89 65.83h1.00M364.89 65.83h2.00M372.91 65.83h1.00M377.92 65.83h1.00M388.94 65.83h1.00M400.97 65.83h1.00M408.98 65.83h1.00M416.00 65.83h1.00M332.83 66.83h1.00M342.85 66.83h1.00M347.86 66.83h1.00M353.87 66.83h1.00M360.88 66.83h1.00M370.90 66.83h1.00M372.91 66.83h1.00M378.92 66.83h3.01M384.93 66.83h1.00M389.94 66.83h1.00M394.95 66.83h1.00M397.96 66.83h1.00M408.98 66.83h1.00M417.00 66.83h1.00M320.80 67.82h1.00M323.81 67.82h1.00M325.81 67.82h1.00M341.84 67.82h1.00M345.85 67.82h1.00M351.87 67.82h1.00M356.88 67.82h1.00M380.92 67.82h1.00M403.97 67.82h1.00M325.81 68.81h1.00M328.82 68.81h1.00M334.83 68.81h2.00M337.84 68.81h1.00M341.84 68.81h1.00M354.87 68.81h1.00M370.90 68.81h1.00M391.95 68.81h1.00M412.99 68.81h2.00M325.81 69.81h1.00M332.83 69.81h1.00M334.83 69.81h2.00M342.85 69.81h1.00M344.85 69.81h1.00M358.88 69.81h2.00M363.89 69.81h1.00M377.92 69.81h1.00M380.92 69.81h1.00M384.93 69.81h1.00M388.94 69.81h1.00M392.95 69.81h1.00M408.98 69.81h1.00M411.99 69.81h1.00M332.83 70.80h1.00M338.84 70.80h1.00M347.86 70.80h1.00M351.87 70.80h1.00M355.87 70.80h1.00M376.92 70.80h1.00M384.93 70.80h1.00M392.95 70.80h1.00M405.98 70.80h1.00M319.80 71.80h1.00M324.81 71.80h1.00M327.82 71.80h2.00M331.82 71.80h1.00M333.83 71.80h2.00M338.84 71.80h1.00M345.85 71.80h2.00M354.87 71.80h3.01M366.90 71.80h1.00M368.90 71.80h1.00M396.96 71.80h1.00M322.81 72.79h1.00M332.83 72.79h1.00M344.85 72.79h1.00M349.86 72.79h1.00M360.88 72.79h1.00M393.95 72.79h1.00M409.98 72.79h2.00M323.81 73.79h1.00M326.81 73.79h1.00M332.83 73.79h1.00M340.84 73.79h1.00M345.85 73.79h1.00M356.88 73.79h1.00M359.88 73.79h1.00M365.89 73.79h1.00M368.90 73.79h1.00M377.92 73.79h1.00M383.93 73.79h1.00M385.93 73.79h1.00M409.98 73.79h1.00M335.83 74.78h1.00M339.84 74.78h2.00M353.87 74.78h1.00M356.88 74.78h2.00M359.88 74.78h1.00M365.89 74.78h1.00M367.90 74.78h1.00M389.94 74.78h2.00M402.97 74.78h1.00M405.98 74.78h1.00M414.99 74.78h2.00M327.82 75.78h1.00M336.83 75.78h1.00M340.84 75.78h1.00M349.86 75.78h2.00M353.87 75.78h1.00M355.87 75.78h1.00M367.90 75.78h1.00M380.92 75.78h1.00M391.95 75.78h1.00M401.97 75.78h1.00M411.99 75.78h1.00M417.00 75.78h1.00M322.81 76.77h1.00M324.81 76.77h1.00M333.83 76.77h1.00M346.86 76.77h1.00M351.87 76.77h1.00M356.88 76.77h1.00M373.91 76.77h1.00M375.91 76.77h2.00M387.94 76.77h1.00M404.97 76.77h1.00M414.99 76.77h1.00M417.00 76.77h1.00M328.82 77.77h1.00M330.82 77.77h2.00M346.86 77.77h1.00M353.87 77.77h1.00M361.89 77.77h2.00M373.91 77.77h1.00M375.91 77.77h1.00M386.94 77.77h1.00M394.95 77.77h1.00M400.97 77.77h1.00M403.97 77.77h1.00M414.99 77.77h2.00M319.80 78.76h2.00M326.81 78.76h1.00M350.86 78.76h1.00M353.87 78.76h1.00M363.89 78.76h1.00M375.91 78.76h1.00M381.93 78.76h1.00M396.96 78.76h1.00M322.81 79.76h2.00M325.81 79.76h1.00M333.83 79.76h1.00M340.84 79.76h2.00M346.86 79.76h1.00M349.86 79.76h1.00M360.88 79.76h1.00M392.95 79.76h1.00M399.96 79.76h1.00M401.97 79.76h1.00M403.97 79.76h1.00M406.98 79.76h1.00M411.99 79.76h1.00M323.81 80.75h1.00M334.83 80.75h1.00M341.84 80.75h1.00M414.99 80.75h1.00M327.82 81.75h1.00M336.83 81.75h1.00M355.87 81.75h2.00M358.88 81.75h1.00M403.97 81.75h1.00M416.00 81.75h1.00M322.81 82.74h1.00M328.82 82.74h1.00M333.83 82.74h1.00M351.87 82.74h1.00M355.87 82.74h1.00M360.88 82.74h1.00M374.91 82.74h1.00M378.92 82.74h1.00M385.93 82.74h1.00M390.94 82.74h1.00M411.99 82.74h1.00M321.80 83.73h1.00M323.81 83.73h1.00M329.82 83.73h1.00M344.85 83.73h1.00M347.86 83.73h1.00M374.91 83.73h1.00M378.92 83.73h1.00M384.93 83.73h2.00M390.94 83.73h1.00M403.97 83.73h1.00M326.81 84.73h1.00M331.82 84.73h1.00M356.88 84.73h1.00M372.91 84.73h1.00M321.80 85.72h1.00M325.81 85.72h2.00M356.88 85.72h1.00M403.97 85.72h2.00M406.98 85.72h1.00M322.81 86.72h1.00M324.81 86.72h1.00M334.83 86.72h1.00M336.83 86.72h1.00M355.87 86.72h1.00M360.88 86.72h1.00M385.93 86.72h1.00M404.97 86.72h1.00M406.98 86.72h1.00M411.99 86.72h1.00M334.83 87.71h1.00M338.84 87.71h2.00M359.88 87.71h2.00M375.91 87.71h1.00M379.92 87.71h1.00M388.94 87.71h1.00M406.98 87.71h1.00M323.81 88.71h1.00M331.82 88.71h1.00M339.84 88.71h1.00M385.93 88.71h1.00M409.98 88.71h1.00M322.81 89.70h1.00M327.82 89.70h1.00M338.84 89.70h1.00M363.89 89.70h1.00M374.91 89.70h1.00" stroke="#0e0e04" stroke-width="1.04" fill="none"/>
<path d="M374.91 21.07h1.00M333.83 25.05h1.00M392.95 26.04h1.00M322.81 29.03h1.00M327.82 29.03h1.00M345.85 29.03h2.00M353.87 29.03h1.00M378.92 29.03h1.00M391.95 29.03h1.00M399.96 29.03h1.00M404.97 29.03h1.00M413.99 29.03h2.00M327.82 30.02h1.00M339.84 30.02h1.00M344.85 30.02h1.00M348.86 30.02h1.00M376.92 30.02h2.00M385.93 30.02h1.00M388.94 30.02h3.01M395.96 30.02h1.00M408.98 30.02h1.00M336.83 31.02h1.00M342.85 31.02h1.00M346.86 31.02h1.00M353.87 31.02h1.00M355.87 31.02h1.00M357.88 31.02h1.00M364.89 31.02h1.00M368.90 31.02h1.00M370.90 31.02h1.00M373.91 31.02h2.00M379.92 31.02h1.00M382.93 31.02h1.00M407.98 31.02h1.00M410.99 31.02h1.00M320.80 32.01h2.00M325.81 32.01h1.00M328.82 32.01h2.00M358.88 32.01h1.00M370.90 32.01h1.00M409.98 32.01h1.00M319.80 33.01h1.00M322.81 33.01h1.00M328.82 33.01h1.00M338.84 33.01h1.00M347.86 33.01h1.00M352.87 33.01h1.00M361.89 33.01h1.00M364.89 33.01h3.01M393.95 33.01h2.00M397.96 33.01h1.00M405.98 33.01h1.00M410.99 33.01h3.01M322.81 34.00h1.00M342.85 34.00h1.00M345.85 34.00h1.00M359.88 34.00h1.00M361.89 34.00h1.00M366.90 34.00h2.00M370.90 34.00h1.00M399.96 34.00h1.00M407.98 34.00h1.00M323.81 35.00h1.00M333.83 35.00h1.00M337.84 35.00h1.00M355.87 35.00h1.00M362.89 35.00h1.00M367.90 35.00h1.00M372.91 35.00h1.00M406.98 35.00h1.00M319.80 35.99h1.00M322.81 35.99h1.00M324.81 35.99h1.00M329.82 35.99h1.00M360.88 35.99h2.00M366.90 35.99h1.00M368.90 35.99h1.00M372.91 35.99h1.00M407.98 35.99h1.00M327.82 36.99h4.01M334.83 36.99h1.00M357.88 36.99h1.00M364.89 36.99h1.00M378.92 36.99h2.00M389.94 36.99h1.00M341.84 37.98h1.00M361.89 37.98h1.00M388.94 37.98h1.00M405.98 37.98h1.00M401.97 38.97h1.00M408.98 38.97h1.00M343.85 39.97h1.00M356.88 39.97h2.00M364.89 39.97h2.00M380.92 39.97h1.00M407.98 39.97h1.00M327.82 40.96h1.00M349.86 40.96h1.00M379.92 40.96h1.00M417.00 40.96h1.00M328.82 41.96h1.00M413.99 41.96h1.00M416.00 41.96h1.00M333.83 42.95h1.00M339.84 42.95h2.00M362.89 42.95h2.00M377.92 42.95h1.00M385.93 42.95h1.00M388.94 42.95h1.00M394.95 42.95h1.00M397.96 42.95h2.00M319.80 43.95h1.00M322.81 43.95h1.00M328.82 43.95h3.01M336.83 43.95h2.00M349.86 43.95h1.00M387.94 43.95h1.00M403.97 43.95h1.00M338.84 44.94h1.00M344.85 44.94h1.00M349.86 44.94h1.00M359.88 44.94h1.00M389.94 44.94h1.00M320.80 45.94h1.00M331.82 45.94h1.00M353.87 45.94h1.00M389.94 45.94h1.00M400.97 45.94h1.00M344.85 46.93h1.00M367.90 46.93h1.00M374.91 46.93h1.00M383.93 46.93h4.01M397.96 46.93h1.00M319.80 47.93h2.00M335.83 47.93h1.00M344.85 47.93h1.00M346.86 47.93h1.00M353.87 47.93h1.00M359.88 47.93h1.00M371.91 47.93h2.00M374.91 47.93h1.00M398.96 47.93h1.00M407.98 47.93h1.00M326.81 48.92h1.00M332.83 48.92h3.01M336.83 48.92h1.00M344.85 48.92h1.00M346.86 48.92h1.00M355.87 48.92h1.00M398.96 48.92h1.00M320.80 49.92h1.00M333.83 49.92h1.00M348.86 49.92h2.00M330.82 50.91h1.00M340.84 50.91h1.00M342.85 50.91h1.00M373.91 50.91h1.00M399.96 50.91h1.00M408.98 50.91h1.00M414.99 50.91h1.00M332.83 51.91h1.00M335.83 51.91h2.00M340.84 51.91h1.00M343.85 51.91h1.00M352.87 51.91h1.00M354.87 51.91h1.00M371.91 51.91h1.00M396.96 51.91h1.00M401.97 51.91h1.00M407.98 51.91h2.00M326.81 52.90h1.00M330.82 52.90h1.00M342.85 52.90h2.00M386.94 52.90h1.00M326.81 53.89h1.00M330.82 53.89h1.00M336.83 53.89h1.00M341.84 53.89h1.00M350.86 53.89h1.00M370.90 53.89h1.00M381.93 53.89h1.00M387.94 53.89h3.01M327.82 54.89h1.00M330.82 54.89h2.00M344.85 54.89h2.00M348.86 54.89h2.00M363.89 54.89h1.00M373.91 54.89h1.00M379.92 54.89h1.00M389.94 54.89h1.00M391.95 54.89h1.00M393.95 54.89h1.00M416.00 54.89h1.00M326.81 55.88h1.00M331.82 55.88h1.00M341.84 55.88h1.00M343.85 55.88h1.00M371.91 55.88h1.00M374.91 55.88h1.00M390.94 55.88h1.00M412.99 55.88h1.00M328.82 56.88h1.00M332.83 56.88h1.00M365.89 56.88h1.00M369.90 56.88h2.00M376.92 56.88h1.00M380.92 56.88h1.00M386.94 56.88h1.00M396.96 56.88h1.00M321.80 57.87h1.00M335.83 57.87h1.00M340.84 57.87h1.00M358.88 57.87h2.00M367.90 57.87h1.00M378.92 57.87h1.00M385.93 57.87h1.00M407.98 57.87h2.00M416.00 57.87h1.00M319.80 58.87h1.00M322.81 58.87h1.00M329.82 58.87h1.00M331.82 58.87h1.00M371.91 58.87h1.00M400.97 58.87h1.00M330.82 59.86h1.00M345.85 59.86h1.00M355.87 59.86h1.00M362.89 59.86h2.00M371.91 59.86h1.00M379.92 59.86h1.00M324.81 60.86h1.00M338.84 60.86h1.00M344.85 60.86h1.00M359.88 60.86h2.00M362.89 60.86h1.00M369.90 60.86h1.00M371.91 60.86h1.00M373.91 60.86h1.00M378.92 60.86h1.00M391.95 60.86h1.00M394.95 60.86h1.00M402.97 60.86h1.00M411.99 60.86h1.00M324.81 61.85h1.00M327.82 61.85h1.00M330.82 61.85h1.00M344.85 61.85h1.00M363.89 61.85h1.00M366.90 61.85h1.00M386.94 61.85h1.00M396.96 61.85h1.00M416.00 61.85h1.00M320.80 62.85h2.00M326.81 62.85h1.00M349.86 62.85h3.01M357.88 62.85h1.00M359.88 62.85h1.00M365.89 62.85h1.00M369.90 62.85h1.00M373.91 62.85h1.00M382.93 62.85h1.00M387.94 62.85h1.00M392.95 62.85h1.00M397.96 62.85h1.00M400.97 62.85h1.00M413.99 62.85h1.00M324.81 63.84h1.00M328.82 63.84h1.00M330.82 63.84h1.00M339.84 63.84h1.00M344.85 63.84h1.00M358.88 63.84h2.00M371.91 63.84h1.00M376.92 63.84h1.00M402.97 63.84h1.00M414.99 63.84h1.00M329.82 64.84h1.00M349.86 64.84h1.00M353.87 64.84h1.00M361.89 64.84h1.00M377.92 64.84h1.00M387.94 64.84h1.00M399.96 64.84h1.00M402.97 64.84h1.00M327.82 65.83h1.00M337.84 65.83h2.00M340.84 65.83h1.00M355.87 65.83h1.00M361.89 65.83h1.00M370.90 65.83h1.00M380.92 65.83h1.00M395.96 65.83h1.00M402.97 65.83h1.00M324.81 66.83h2.00M327.82 66.83h1.00M333.83 66.83h1.00M340.84 66.83h1.00M343.85 66.83h1.00M396.96 66.83h1.00M404.97 66.83h1.00M329.82 67.82h1.00M336.83 67.82h1.00M338.84 67.82h1.00M344.85 67.82h1.00M358.88 67.82h1.00M366.90 67.82h1.00M385.93 67.82h1.00M389.94 67.82h1.00M404.97 67.82h1.00M414.99 67.82h1.00M319.80 68.81h1.00M330.82 68.81h1.00M353.87 68.81h1.00M362.89 68.81h1.00M400.97 68.81h1.00M331.82 69.81h1.00M355.87 69.81h2.00M368.90 69.81h1.00M372.91 69.81h2.00M376.92 69.81h1.00M381.93 69.81h1.00M389.94 69.81h1.00M320.80 70.80h1.00M342.85 70.80h1.00M348.86 70.80h3.01M352.87 70.80h2.00M359.88 70.80h1.00M367.90 70.80h1.00M372.91 70.80h2.00M375.91 70.80h1.00M377.92 70.80h3.01M385.93 70.80h3.01M416.00 70.80h1.00M320.80 71.80h2.00M339.84 71.80h1.00M347.86 71.80h1.00M359.88 71.80h1.00M362.89 71.80h1.00M367.90 71.80h1.00M373.91 71.80h1.00M377.92 71.80h1.00M386.94 71.80h1.00M414.99 71.80h1.00M417.00 71.80h1.00M340.84 72.79h2.00M354.87 72.79h1.00M368.90 72.79h1.00M373.91 72.79h1.00M383.93 72.79h1.00M386.94 72.79h1.00M396.96 72.79h1.00M407.98 72.79h1.00M412.99 72.79h1.00M333.83 73.79h1.00M344.85 73.79h1.00M352.87 73.79h1.00M354.87 73.79h1.00M366.90 73.79h1.00M371.91 73.79h1.00M376.92 73.79h1.00M380.92 73.79h1.00M382.93 73.79h1.00M386.94 73.79h1.00M396.96 73.79h1.00M407.98 73.79h1.00M411.99 73.79h1.00M336.83 74.78h1.00M351.87 74.78h1.00M358.88 74.78h1.00M360.88 74.78h1.00M380.92 74.78h1.00M386.94 74.78h1.00M404.97 74.78h1.00M408.98 74.78h1.00M323.81 75.78h1.00M329.82 75.78h1.00M332.83 75.78h1.00M345.85 75.78h1.00M348.86 75.78h1.00M372.91 75.78h2.00M387.94 75.78h1.00M390.94 75.78h1.00M399.96 75.78h1.00M406.98 75.78h1.00M414.99 75.78h1.00M326.81 76.77h1.00M330.82 76.77h1.00M334.83 76.77h1.00M336.83 76.77h1.00M347.86 76.77h1.00M353.87 76.77h1.00M358.88 76.77h1.00M362.89 76.77h1.00M367.90 76.77h1.00M371.91 76.77h2.00M374.91 76.77h1.00M394.95 76.77h1.00M398.96 76.77h1.00M405.98 76.77h1.00M350.86 77.77h1.00M358.88 77.77h1.00M363.89 77.77h1.00M365.89 77.77h1.00M374.91 77.77h1.00M404.97 77.77h1.00M409.98 77.77h1.00M323.81 78.76h1.00M325.81 78.76h1.00M337.84 78.76h1.00M346.86 78.76h2.00M359.88 78.76h1.00M362.89 78.76h1.00M370.90 78.76h1.00M374.91 78.76h1.00M385.93 78.76h2.00M406.98 78.76h1.00M321.80 79.76h1.00M345.85 79.76h1.00M347.86 79.76h1.00M352.87 79.76h1.00M357.88 79.76h2.00M365.89 79.76h1.00M370.90 79.76h1.00M376.92 79.76h1.00M381.93 79.76h1.00M385.93 79.76h1.00M390.94 79.76h1.00M396.96 79.76h3.01M402.97 79.76h1.00M404.97 79.76h1.00M328.82 80.75h1.00M333.83 80.75h1.00M343.85 80.75h1.00M356.88 80.75h1.00M393.95 80.75h1.00M403.97 80.75h1.00M416.00 80.75h1.00M348.86 81.75h1.00M352.87 81.75h2.00M371.91 81.75h3.01M379.92 81.75h1.00M396.96 81.75h1.00M404.97 81.75h1.00M407.98 81.75h1.00M411.99 81.75h2.00M330.82 82.74h1.00M341.84 82.74h1.00M347.86 82.74h1.00M350.86 82.74h1.00M372.91 82.74h1.00M380.92 82.74h1.00M392.95 82.74h1.00M401.97 82.74h1.00M322.81 83.73h1.00M327.82 83.73h1.00M330.82 83.73h1.00M332.83 83.73h1.00M341.84 83.73h1.00M391.95 83.73h3.01M406.98 83.73h2.00M413.99 83.73h1.00M344.85 84.73h1.00M357.88 84.73h1.00M398.96 84.73h1.00M402.97 84.73h1.00M412.99 84.73h1.00M331.82 85.72h1.00M334.83 85.72h1.00M355.87 85.72h1.00M359.88 85.72h1.00M382.93 85.72h1.00M385.93 85.72h1.00M396.96 85.72h2.00M405.98 85.72h1.00M413.99 85.72h1.00M417.00 85.72h1.00M320.80 86.72h1.00M325.81 86.72h1.00M338.84 86.72h1.00M342.85 86.72h1.00M349.86 86.72h1.00M365.89 86.72h1.00M379.92 86.72h1.00M386.94 86.72h1.00M403.97 86.72h1.00M405.98 86.72h1.00M413.99 86.72h1.00M328.82 87.71h3.01M340.84 87.71h2.00M351.87 87.71h1.00M378.92 87.71h1.00M405.98 87.71h1.00M407.98 87.71h1.00M411.99 87.71h1.00M417.00 87.71h1.00M328.82 88.71h1.00M342.85 88.71h1.00M359.88 88.71h1.00M362.89 88.71h1.00M380.92 88.71h1.00M383.93 88.71h1.00M411.99 88.71h2.00M414.99 88.71h1.00M328.82 89.70h1.00M332.83 89.70h1.00M339.84 89.70h1.00M377.92 89.70h1.00M380.92 89.70h1.00M398.96 89.70h1.00M411.99 89.70h1.00" stroke="#1b0d04" stroke-width="1.04" fill="none"/>
<path d="M412.99 21.07h1.00M321.80 29.03h1.00M323.81 29.03h1.00M336.83 29.03h1.00M357.88 29.03h1.00M366.90 29.03h1.00M375.91 29.03h2.00M394.95 29.03h1.00M326.81 30.02h1.00M332.83 30.02h1.00M345.85 30.02h1.00M352.87 30.02h2.00M357.88 30.02h1.00M365.89 30.02h1.00M367.90 30.02h1.00M373.91 30.02h1.00M407.98 30.02h1.00M412.99 35.99h1.00M351.87 36.99h1.00M394.95 46.93h1.00M323.81 50.91h1.00M325.81 50.91h1.00M396.96 50.91h1.00M408.98 53.89h1.00M372.91 55.88h1.00M382.93 56.88h1.00M389.94 58.87h1.00M399.96 59.86h1.00M342.85 62.85h1.00M401.97 62.85h1.00M397.96 64.84h1.00M386.94 69.81h1.00M340.84 71.80h1.00M330.82 72.79h1.00M410.99 78.76h1.00M417.00 86.72h1.00M323.81 87.71h1.00" stroke="#2c0d04" stroke-width="1.04" fill="none"/>
<path d="M324.81 29.03h1.00M326.81 29.03h1.00M328.82 29.03h1.00M332.83 29.03h1.00M338.84 29.03h1.00M340.84 29.03h1.00M343.85 29.03h2.00M359.88 29.03h1.00M363.89 29.03h1.00M370.90 29.03h1.00M393.95 29.03h1.00M325.81 30.02h1.00M328.82 30.02h1.00M331.82 30.02h1.00M333.83 30.02h1.00M338.84 30.02h1.00M343.85 30.02h1.00M346.86 30.02h1.00M358.88 30.02h1.00M360.88 30.02h1.00M374.91 30.02h2.00M382.93 30.02h1.00M414.99 30.02h1.00M332.83 31.02h1.00M334.83 31.02h1.00M354.87 31.02h1.00M363.89 33.01h1.00M374.91 33.01h1.00M413.99 33.01h1.00M360.88 34.00h1.00M362.89 34.00h2.00M322.81 35.00h1.00M368.90 35.00h1.00M353.87 35.99h1.00M365.89 35.99h1.00M326.81 36.99h1.00M362.89 38.97h1.00M366.90 38.97h1.00M362.89 39.97h2.00M344.85 41.96h1.00M346.86 41.96h1.00M414.99 41.96h1.00M328.82 42.95h2.00M370.90 42.95h1.00M379.92 44.94h1.00M322.81 45.94h2.00M363.89 45.94h1.00M363.89 46.93h1.00M382.93 47.93h1.00M323.81 49.92h1.00M328.82 49.92h1.00M338.84 49.92h1.00M353.87 49.92h1.00M373.91 49.92h1.00M327.82 50.91h1.00M337.84 50.91h1.00M322.81 51.91h1.00M334.83 51.91h1.00M342.85 51.91h1.00M329.82 52.90h1.00M334.83 52.90h1.00M354.87 52.90h1.00M367.90 52.90h1.00M407.98 52.90h1.00M322.81 53.89h2.00M333.83 53.89h1.00M376.92 53.89h1.00M354.87 54.89h1.00M374.91 54.89h1.00M380.92 54.89h2.00M394.95 54.89h1.00M417.00 54.89h1.00M320.80 55.88h1.00M324.81 55.88h1.00M339.84 55.88h1.00M344.85 55.88h1.00M363.89 55.88h1.00M375.91 55.88h1.00M393.95 55.88h1.00M331.82 56.88h1.00M354.87 56.88h1.00M361.89 56.88h2.00M372.91 56.88h1.00M341.84 57.87h1.00M346.86 57.87h2.00M351.87 57.87h1.00M373.91 57.87h1.00M377.92 57.87h1.00M379.92 57.87h1.00M386.94 57.87h1.00M397.96 57.87h1.00M330.82 58.87h1.00M336.83 58.87h1.00M368.90 58.87h3.01M378.92 58.87h1.00M380.92 58.87h1.00M387.94 58.87h1.00M407.98 58.87h1.00M333.83 59.86h1.00M349.86 59.86h1.00M369.90 59.86h1.00M373.91 59.86h1.00M377.92 59.86h1.00M392.95 59.86h1.00M395.96 59.86h1.00M400.97 59.86h1.00M333.83 60.86h1.00M336.83 60.86h1.00M366.90 60.86h1.00M390.94 60.86h1.00M395.96 60.86h1.00M400.97 60.86h1.00M325.81 61.85h2.00M329.82 61.85h1.00M340.84 61.85h1.00M360.88 61.85h1.00M367.90 61.85h2.00M400.97 61.85h1.00M335.83 62.85h1.00M367.90 62.85h1.00M390.94 62.85h1.00M405.98 62.85h1.00M336.83 63.84h1.00M352.87 63.84h1.00M366.90 63.84h1.00M379.92 63.84h1.00M393.95 63.84h1.00M320.80 64.84h1.00M328.82 64.84h1.00M331.82 64.84h1.00M362.89 64.84h1.00M385.93 64.84h1.00M403.97 64.84h1.00M414.99 64.84h1.00M324.81 65.83h1.00M328.82 65.83h1.00M342.85 65.83h1.00M382.93 65.83h1.00M385.93 65.83h1.00M390.94 65.83h1.00M407.98 65.83h1.00M409.98 65.83h1.00M414.99 65.83h1.00M321.80 66.83h2.00M329.82 66.83h1.00M339.84 66.83h1.00M352.87 66.83h1.00M356.88 66.83h1.00M366.90 66.83h1.00M368.90 66.83h1.00M385.93 66.83h1.00M391.95 66.83h1.00M402.97 66.83h1.00M409.98 66.83h1.00M340.84 67.82h1.00M347.86 67.82h1.00M360.88 67.82h1.00M397.96 67.82h1.00M322.81 68.81h1.00M336.83 68.81h1.00M342.85 68.81h1.00M381.93 68.81h1.00M399.96 68.81h1.00M403.97 68.81h1.00M409.98 68.81h1.00M350.86 69.81h1.00M354.87 69.81h1.00M374.91 69.81h1.00M385.93 69.81h1.00M410.99 69.81h1.00M417.00 69.81h1.00M328.82 70.80h1.00M333.83 70.80h1.00M343.85 70.80h1.00M414.99 70.80h1.00M417.00 70.80h1.00M329.82 71.80h1.00M344.85 71.80h1.00M349.86 71.80h1.00M351.87 71.80h1.00M363.89 71.80h1.00M383.93 71.80h1.00M388.94 71.80h1.00M393.95 71.80h1.00M399.96 71.80h2.00M403.97 71.80h1.00M413.99 71.80h1.00M326.81 72.79h1.00M359.88 72.79h1.00M361.89 72.79h1.00M374.91 72.79h1.00M376.92 72.79h2.00M387.94 72.79h1.00M395.96 72.79h1.00M320.80 73.79h1.00M327.82 73.79h2.00M339.84 73.79h1.00M347.86 73.79h1.00M353.87 73.79h1.00M393.95 73.79h1.00M333.83 74.78h1.00M345.85 74.78h1.00M348.86 74.78h1.00M364.89 74.78h1.00M368.90 74.78h1.00M371.91 74.78h1.00M381.93 74.78h1.00M383.93 74.78h2.00M396.96 74.78h1.00M322.81 75.78h1.00M346.86 75.78h1.00M363.89 75.78h1.00M366.90 75.78h1.00M371.91 75.78h1.00M383.93 75.78h1.00M389.94 75.78h1.00M392.95 75.78h1.00M402.97 75.78h1.00M407.98 75.78h1.00M327.82 76.77h1.00M361.89 76.77h1.00M377.92 76.77h1.00M407.98 76.77h1.00M396.96 77.77h1.00M413.99 77.77h1.00M324.81 78.76h1.00M335.83 78.76h2.00M348.86 78.76h2.00M354.87 78.76h1.00M365.89 78.76h1.00M380.92 78.76h1.00M392.95 78.76h1.00M405.98 78.76h1.00M407.98 78.76h1.00M324.81 79.76h1.00M329.82 79.76h1.00M339.84 79.76h1.00M348.86 79.76h1.00M363.89 79.76h1.00M395.96 79.76h1.00M336.83 80.75h1.00M378.92 80.75h1.00M401.97 80.75h1.00M326.81 81.75h1.00M334.83 81.75h1.00M340.84 81.75h2.00M344.85 81.75h1.00M347.86 81.75h1.00M349.86 81.75h1.00M370.90 81.75h1.00M374.91 81.75h1.00M380.92 81.75h1.00M402.97 81.75h1.00M327.82 82.74h1.00M342.85 82.74h1.00M345.85 82.74h2.00M395.96 82.74h1.00M397.96 82.74h1.00M404.97 82.74h1.00M406.98 82.74h1.00M408.98 82.74h1.00M414.99 82.74h1.00M326.81 83.73h1.00M334.83 83.73h1.00M338.84 83.73h2.00M345.85 83.73h2.00M375.91 83.73h1.00M398.96 83.73h2.00M408.98 83.73h3.01M319.80 84.73h1.00M324.81 84.73h1.00M329.82 84.73h1.00M355.87 84.73h1.00M364.89 84.73h1.00M382.93 84.73h3.01M407.98 84.73h2.00M329.82 85.72h1.00M387.94 85.72h1.00M395.96 85.72h1.00M401.97 85.72h1.00M400.97 86.72h1.00M407.98 86.72h1.00M325.81 87.71h1.00M355.87 87.71h2.00M371.91 87.71h1.00M374.91 87.71h1.00M383.93 87.71h1.00M387.94 87.71h1.00M391.95 87.71h1.00M401.97 87.71h1.00M403.97 87.71h1.00M416.00 87.71h1.00M336.83 88.71h1.00M352.87 88.71h1.00M374.91 88.71h1.00M405.98 88.71h1.00M356.88 89.70h1.00M399.96 89.70h1.00M416.00 89.70h1.00" stroke="#640b06" stroke-width="1.04" fill="none"/>
<path d="M325.81 29.03h1.00M388.94 29.03h1.00M334.83 30.02h1.00M386.94 30.02h1.00M326.81 32.01h1.00M355.87 33.01h1.00M355.87 34.00h1.00M353.87 35.00h1.00M370.90 35.00h1.00M375.91 35.00h1.00M364.89 35.99h1.00M376.92 35.99h1.00M365.89 37.98h1.00M328.82 40.96h1.00M349.86 41.96h1.00M388.94 45.94h1.00M329.82 48.92h1.00M338.84 48.92h1.00M321.80 49.92h2.00M366.90 49.92h1.00M374.91 49.92h1.00M332.83 50.91h1.00M329.82 51.91h1.00M337.84 51.91h2.00M357.88 51.91h1.00M333.83 52.90h1.00M345.85 52.90h1.00M348.86 52.90h1.00M350.86 52.90h1.00M370.90 52.90h1.00M324.81 53.89h1.00M355.87 53.89h1.00M357.88 53.89h1.00M367.90 53.89h2.00M374.91 53.89h1.00M319.80 54.89h1.00M333.83 54.89h1.00M360.88 54.89h1.00M357.88 55.88h1.00M378.92 55.88h1.00M384.93 55.88h1.00M387.94 55.88h2.00M339.84 56.88h1.00M349.86 56.88h1.00M356.88 56.88h1.00M358.88 56.88h1.00M377.92 56.88h1.00M393.95 56.88h1.00M331.82 57.87h2.00M356.88 57.87h1.00M391.95 57.87h1.00M395.96 57.87h1.00M337.84 58.87h2.00M356.88 58.87h1.00M375.91 58.87h1.00M383.93 58.87h1.00M323.81 59.86h1.00M339.84 59.86h1.00M366.90 59.86h2.00M403.97 60.86h1.00M351.87 61.85h1.00M392.95 61.85h1.00M404.97 61.85h1.00M343.85 62.85h1.00M368.90 62.85h1.00M386.94 62.85h1.00M399.96 62.85h1.00M367.90 63.84h1.00M319.80 64.84h1.00M334.83 64.84h1.00M340.84 64.84h1.00M369.90 64.84h1.00M382.93 64.84h1.00M384.93 64.84h1.00M392.95 64.84h1.00M407.98 64.84h1.00M319.80 65.83h2.00M367.90 65.83h1.00M384.93 65.83h1.00M403.97 65.83h1.00M334.83 66.83h2.00M395.96 66.83h1.00M410.99 66.83h1.00M321.80 67.82h2.00M371.91 67.82h1.00M394.95 67.82h1.00M396.96 67.82h1.00M402.97 67.82h1.00M406.98 67.82h1.00M410.99 67.82h1.00M417.00 67.82h1.00M327.82 68.81h1.00M338.84 68.81h1.00M361.89 68.81h1.00M364.89 68.81h2.00M371.91 68.81h2.00M383.93 68.81h1.00M388.94 68.81h1.00M392.95 68.81h1.00M398.96 68.81h1.00M401.97 68.81h1.00M404.97 68.81h1.00M417.00 68.81h1.00M329.82 69.81h1.00M341.84 69.81h1.00M397.96 69.81h1.00M403.97 69.81h1.00M323.81 70.80h1.00M325.81 70.80h1.00M366.90 70.80h1.00M393.95 70.80h1.00M395.96 70.80h1.00M397.96 70.80h4.01M410.99 70.80h1.00M412.99 70.80h1.00M325.81 71.80h1.00M342.85 71.80h2.00M350.86 71.80h1.00M385.93 71.80h1.00M397.96 71.80h1.00M405.98 71.80h2.00M408.98 71.80h1.00M351.87 72.79h2.00M369.90 72.79h2.00M378.92 72.79h1.00M402.97 72.79h1.00M416.00 72.79h1.00M351.87 73.79h1.00M358.88 73.79h1.00M363.89 73.79h1.00M389.94 73.79h2.00M395.96 73.79h1.00M397.96 73.79h1.00M414.99 73.79h1.00M337.84 74.78h1.00M369.90 74.78h1.00M388.94 74.78h1.00M392.95 74.78h1.00M394.95 74.78h1.00M397.96 74.78h2.00M334.83 75.78h1.00M347.86 75.78h1.00M332.83 76.77h1.00M360.88 76.77h1.00M392.95 76.77h2.00M401.97 76.77h1.00M381.93 77.77h2.00M384.93 77.77h1.00M412.99 77.77h1.00M327.82 78.76h1.00M366.90 78.76h1.00M379.92 78.76h1.00M387.94 78.76h1.00M374.91 79.76h1.00M407.98 79.76h1.00M409.98 79.76h1.00M335.83 80.75h1.00M344.85 80.75h1.00M346.86 80.75h1.00M349.86 80.75h1.00M361.89 80.75h2.00M365.89 80.75h2.00M376.92 80.75h2.00M400.97 80.75h1.00M413.99 80.75h1.00M417.00 80.75h1.00M331.82 81.75h1.00M333.83 81.75h1.00M359.88 81.75h1.00M361.89 81.75h1.00M365.89 81.75h1.00M367.90 81.75h1.00M377.92 81.75h1.00M391.95 81.75h1.00M332.83 82.74h1.00M363.89 82.74h1.00M382.93 82.74h1.00M387.94 82.74h1.00M393.95 82.74h2.00M331.82 83.73h1.00M351.87 83.73h1.00M380.92 83.73h1.00M320.80 84.73h1.00M330.82 84.73h1.00M334.83 84.73h1.00M358.88 84.73h1.00M389.94 84.73h1.00M394.95 84.73h1.00M400.97 84.73h1.00M405.98 84.73h1.00M409.98 84.73h1.00M414.99 84.73h1.00M323.81 85.72h2.00M349.86 85.72h1.00M358.88 85.72h1.00M364.89 85.72h1.00M371.91 85.72h1.00M380.92 85.72h1.00M394.95 85.72h1.00M350.86 86.72h1.00M383.93 86.72h1.00M396.96 86.72h2.00M416.00 86.72h1.00M343.85 87.71h1.00M346.86 87.71h1.00M369.90 87.71h1.00M381.93 87.71h2.00M386.94 87.71h1.00M389.94 87.71h1.00M333.83 88.71h1.00M346.86 88.71h1.00M399.96 88.71h1.00M343.85 89.70h1.00M345.85 89.70h1.00M348.86 89.70h1.00M389.94 89.70h1.00M392.95 89.70h1.00M402.97 89.70h1.00M404.97 89.70h1.00M412.99 89.70h1.00" stroke="#a20a07" stroke-width="1.04" fill="none"/>
<path d="M329.82 29.03h1.00M342.85 30.02h1.00M353.87 33.01h2.00M352.87 34.00h3.01M352.87 35.00h1.00M377.92 35.00h1.00M352.87 35.99h1.00M353.87 48.92h1.00M329.82 49.92h1.00M349.86 50.91h1.00M328.82 51.91h1.00M349.86 51.91h1.00M324.81 52.90h1.00M349.86 52.90h1.00M346.86 53.89h1.00M356.88 54.89h1.00M375.91 54.89h2.00M349.86 55.88h1.00M356.88 55.88h1.00M376.92 55.88h2.00M384.93 56.88h1.00M330.82 57.87h1.00M324.81 59.86h1.00M335.83 61.85h1.00M389.94 63.84h1.00M383.93 64.84h1.00M389.94 64.84h2.00M405.98 64.84h1.00M334.83 65.83h2.00M392.95 65.83h1.00M395.96 67.82h1.00M398.96 67.82h1.00M382.93 68.81h1.00M405.98 68.81h1.00M408.98 68.81h1.00M365.89 69.81h1.00M340.84 70.80h1.00M378.92 71.80h1.00M390.94 72.79h1.00M394.95 72.79h1.00M335.83 73.79h2.00M361.89 73.79h2.00M369.90 73.79h1.00M394.95 73.79h1.00M400.97 73.79h1.00M361.89 74.78h2.00M393.95 74.78h1.00M337.84 75.78h1.00M369.90 75.78h1.00M385.93 75.78h1.00M412.99 75.78h2.00M368.90 76.77h2.00M379.92 76.77h1.00M381.93 76.77h1.00M388.94 76.77h1.00M412.99 76.77h1.00M379.92 77.77h1.00M392.95 77.77h1.00M372.91 78.76h1.00M388.94 78.76h2.00M416.00 78.76h2.00M331.82 79.76h1.00M354.87 79.76h1.00M373.91 79.76h1.00M408.98 79.76h1.00M414.99 79.76h1.00M331.82 80.75h2.00M374.91 80.75h1.00M379.92 80.75h1.00M382.93 80.75h1.00M332.83 81.75h1.00M346.86 81.75h1.00M389.94 81.75h1.00M393.95 81.75h2.00M405.98 81.75h1.00M331.82 82.74h1.00M357.88 82.74h3.01M362.89 82.74h1.00M366.90 82.74h6.01M376.92 82.74h2.00M383.93 82.74h1.00M388.94 82.74h1.00M405.98 82.74h1.00M335.83 83.73h1.00M356.88 83.73h4.01M362.89 83.73h2.00M365.89 83.73h4.01M381.93 83.73h1.00M405.98 83.73h1.00M417.00 83.73h1.00M335.83 84.73h1.00M337.84 84.73h2.00M340.84 84.73h4.01M350.86 84.73h4.01M362.89 84.73h1.00M365.89 84.73h6.01M374.91 84.73h1.00M380.92 84.73h2.00M395.96 84.73h2.00M417.00 84.73h1.00M339.84 85.72h5.01M345.85 85.72h4.01M350.86 85.72h2.00M361.89 85.72h1.00M365.89 85.72h6.01M373.91 85.72h3.01M392.95 85.72h1.00M331.82 86.72h1.00M340.84 86.72h1.00M344.85 86.72h3.01M357.88 86.72h2.00M363.89 86.72h1.00M367.90 86.72h2.00M372.91 86.72h2.00M392.95 86.72h3.01M398.96 86.72h1.00M331.82 87.71h2.00M347.86 87.71h1.00M353.87 87.71h2.00M357.88 87.71h1.00M363.89 87.71h2.00M367.90 87.71h1.00M373.91 87.71h1.00M376.92 87.71h2.00M396.96 87.71h4.01M347.86 88.71h2.00M354.87 88.71h1.00M364.89 88.71h4.01M369.90 88.71h2.00M372.91 88.71h2.00M386.94 88.71h1.00M347.86 89.70h1.00M350.86 89.70h1.00M353.87 89.70h2.00M358.88 89.70h1.00M365.89 89.70h1.00M367.90 89.70h1.00M370.90 89.70h1.00M372.91 89.70h1.00M386.94 89.70h2.00M393.95 89.70h1.00M417.00 89.70h1.00" stroke="#fa080a" stroke-width="1.04" fill="none"/>
<path d="M330.82 29.03h1.00M355.87 29.03h1.00M329.82 30.02h1.00M341.84 30.02h1.00M400.97 31.02h1.00M411.99 32.01h1.00M376.92 35.00h1.00M378.92 35.99h1.00M402.97 43.95h1.00M358.88 52.90h1.00M364.89 52.90h1.00M335.83 54.89h1.00M361.89 55.88h1.00M346.86 56.88h1.00M385.93 56.88h1.00M324.81 58.87h1.00M350.86 58.87h1.00M335.83 59.86h1.00M338.84 59.86h1.00M350.86 59.86h1.00M335.83 60.86h1.00M334.83 61.85h1.00M403.97 62.85h1.00M340.84 63.84h1.00M368.90 64.84h1.00M404.97 64.84h1.00M352.87 65.83h1.00M368.90 65.83h1.00M391.95 65.83h1.00M404.97 65.83h2.00M339.84 67.82h1.00M321.80 68.81h1.00M326.81 68.81h1.00M407.98 68.81h1.00M416.00 68.81h1.00M326.81 69.81h1.00M366.90 69.81h1.00M394.95 69.81h1.00M344.85 70.80h1.00M365.89 70.80h1.00M413.99 70.80h1.00M379.92 71.80h1.00M399.96 72.79h2.00M391.95 73.79h1.00M398.96 73.79h1.00M416.00 73.79h1.00M319.80 74.78h1.00M320.80 75.78h1.00M338.84 75.78h1.00M368.90 75.78h1.00M378.92 76.77h1.00M384.93 76.77h2.00M378.92 77.77h1.00M368.90 78.76h1.00M414.99 78.76h1.00M320.80 79.76h1.00M355.87 79.76h1.00M389.94 79.76h1.00M360.88 80.75h1.00M368.90 80.75h2.00M395.96 80.75h1.00M408.98 80.75h1.00M362.89 81.75h1.00M382.93 81.75h2.00M390.94 81.75h1.00M392.95 81.75h1.00M339.84 82.74h2.00M337.84 83.73h1.00M364.89 83.73h1.00M339.84 84.73h1.00M361.89 84.73h1.00M377.92 84.73h1.00M344.85 85.72h1.00M391.95 85.72h1.00M393.95 85.72h1.00M414.99 85.72h1.00M343.85 86.72h1.00M347.86 86.72h1.00M351.87 86.72h1.00M362.89 86.72h1.00M369.90 86.72h2.00M374.91 86.72h1.00M376.92 86.72h1.00M408.98 86.72h1.00M348.86 87.71h1.00M368.90 87.71h1.00M395.96 87.71h1.00M343.85 88.71h1.00M368.90 88.71h1.00M377.92 88.71h1.00M387.94 88.71h1.00M390.94 88.71h1.00M396.96 88.71h1.00M344.85 89.70h1.00M349.86 89.70h1.00M364.89 89.70h1.00M371.91 89.70h1.00M388.94 89.70h1.00M390.94 89.70h1.00M394.95 89.70h1.00M400.97 89.70h1.00M403.97 89.70h1.00" stroke="#e30809" stroke-width="1.04" fill="none"/>
<path d="M331.82 29.03h1.00M333.83 29.03h1.00M335.83 29.03h1.00M381.93 29.03h1.00M383.93 29.03h1.00M337.84 30.02h1.00M362.89 30.02h1.00M368.90 30.02h1.00M331.82 31.02h1.00M358.88 31.02h1.00M367.90 31.02h1.00M401.97 31.02h1.00M354.87 32.01h1.00M366.90 32.01h2.00M372.91 32.01h2.00M379.92 32.01h1.00M401.97 32.01h1.00M412.99 32.01h1.00M371.91 33.01h1.00M374.91 34.00h1.00M376.92 34.00h1.00M378.92 34.00h1.00M405.98 34.00h1.00M332.83 35.00h1.00M371.91 35.00h1.00M378.92 35.00h1.00M359.88 35.99h1.00M382.93 35.99h1.00M364.89 37.98h1.00M367.90 37.98h1.00M385.93 37.98h1.00M401.97 37.98h1.00M385.93 38.97h1.00M357.88 40.96h1.00M345.85 41.96h1.00M336.83 44.94h1.00M353.87 44.94h1.00M337.84 47.93h1.00M345.85 47.93h1.00M322.81 48.92h1.00M354.87 48.92h1.00M366.90 48.92h1.00M354.87 49.92h1.00M321.80 50.91h2.00M331.82 50.91h1.00M338.84 50.91h2.00M348.86 50.91h1.00M374.91 50.91h1.00M405.98 50.91h1.00M324.81 51.91h2.00M333.83 51.91h1.00M339.84 51.91h1.00M364.89 51.91h1.00M370.90 51.91h1.00M405.98 51.91h2.00M332.83 52.90h1.00M355.87 52.90h1.00M361.89 52.90h1.00M371.91 52.90h1.00M320.80 53.89h1.00M362.89 53.89h1.00M320.80 54.89h1.00M332.83 54.89h1.00M339.84 54.89h2.00M350.86 54.89h1.00M359.88 54.89h1.00M362.89 54.89h1.00M364.89 54.89h1.00M387.94 54.89h2.00M395.96 54.89h1.00M335.83 55.88h1.00M351.87 55.88h1.00M355.87 55.88h1.00M373.91 55.88h1.00M334.83 56.88h1.00M338.84 56.88h1.00M343.85 56.88h1.00M348.86 56.88h1.00M352.87 56.88h1.00M378.92 56.88h2.00M320.80 57.87h1.00M334.83 57.87h1.00M345.85 57.87h1.00M369.90 57.87h1.00M394.95 57.87h1.00M396.96 57.87h1.00M332.83 58.87h1.00M334.83 58.87h1.00M349.86 58.87h1.00M373.91 58.87h1.00M376.92 58.87h1.00M396.96 58.87h1.00M404.97 58.87h1.00M416.00 58.87h1.00M368.90 59.86h1.00M370.90 59.86h1.00M382.93 59.86h1.00M328.82 60.86h1.00M368.90 60.86h1.00M323.81 61.85h1.00M328.82 61.85h1.00M346.86 61.85h1.00M394.95 61.85h1.00M402.97 61.85h1.00M322.81 62.85h1.00M341.84 62.85h1.00M376.92 62.85h1.00M395.96 62.85h1.00M417.00 62.85h1.00M331.82 63.84h1.00M341.84 63.84h1.00M347.86 63.84h1.00M365.89 63.84h1.00M368.90 63.84h1.00M404.97 63.84h1.00M352.87 64.84h1.00M371.91 64.84h2.00M391.95 64.84h1.00M396.96 64.84h1.00M321.80 65.83h1.00M323.81 65.83h1.00M329.82 65.83h1.00M336.83 65.83h1.00M339.84 65.83h1.00M343.85 65.83h1.00M399.96 65.83h1.00M350.86 66.83h1.00M364.89 66.83h1.00M334.83 67.82h1.00M369.90 67.82h1.00M386.94 67.82h2.00M390.94 67.82h1.00M405.98 67.82h1.00M411.99 67.82h1.00M363.89 68.81h1.00M389.94 68.81h1.00M410.99 68.81h2.00M414.99 68.81h1.00M328.82 69.81h1.00M330.82 69.81h1.00M333.83 69.81h1.00M336.83 69.81h2.00M393.95 69.81h1.00M399.96 69.81h1.00M405.98 69.81h1.00M324.81 70.80h1.00M327.82 70.80h1.00M363.89 70.80h1.00M374.91 70.80h1.00M402.97 70.80h1.00M409.98 70.80h1.00M322.81 71.80h2.00M353.87 71.80h1.00M370.90 71.80h1.00M372.91 71.80h1.00M375.91 71.80h1.00M398.96 71.80h1.00M404.97 71.80h1.00M410.99 71.80h1.00M320.80 72.79h1.00M327.82 72.79h3.01M346.86 72.79h1.00M350.86 72.79h1.00M362.89 72.79h1.00M391.95 72.79h1.00M397.96 72.79h1.00M414.99 72.79h1.00M417.00 72.79h1.00M338.84 73.79h1.00M357.88 73.79h1.00M381.93 73.79h1.00M387.94 73.79h1.00M401.97 73.79h1.00M403.97 73.79h1.00M406.98 73.79h1.00M320.80 74.78h1.00M349.86 74.78h1.00M387.94 74.78h1.00M319.80 75.78h1.00M341.84 75.78h1.00M364.89 75.78h1.00M370.90 75.78h1.00M381.93 75.78h2.00M394.95 75.78h1.00M337.84 76.77h1.00M390.94 76.77h1.00M396.96 76.77h2.00M326.81 77.77h1.00M329.82 77.77h1.00M332.83 77.77h2.00M335.83 77.77h1.00M366.90 77.77h2.00M389.94 77.77h1.00M395.96 77.77h1.00M402.97 77.77h1.00M411.99 77.77h1.00M328.82 78.76h2.00M333.83 78.76h1.00M339.84 78.76h1.00M383.93 78.76h2.00M390.94 78.76h1.00M395.96 78.76h1.00M411.99 78.76h1.00M342.85 79.76h2.00M378.92 79.76h1.00M384.93 79.76h1.00M386.94 79.76h1.00M342.85 80.75h1.00M352.87 80.75h1.00M370.90 80.75h1.00M381.93 80.75h1.00M392.95 80.75h1.00M398.96 80.75h1.00M404.97 80.75h1.00M412.99 80.75h1.00M342.85 81.75h1.00M375.91 81.75h1.00M381.93 81.75h1.00M400.97 81.75h1.00M337.84 82.74h1.00M349.86 82.74h1.00M361.89 82.74h1.00M381.93 82.74h1.00M398.96 82.74h1.00M348.86 83.73h2.00M369.90 83.73h1.00M383.93 83.73h1.00M386.94 83.73h1.00M389.94 83.73h1.00M397.96 83.73h1.00M349.86 84.73h1.00M354.87 84.73h1.00M385.93 84.73h1.00M387.94 84.73h1.00M390.94 84.73h1.00M330.82 85.72h1.00M353.87 85.72h1.00M357.88 85.72h1.00M363.89 85.72h1.00M381.93 85.72h1.00M390.94 85.72h1.00M400.97 85.72h1.00M402.97 85.72h1.00M411.99 85.72h1.00M319.80 86.72h1.00M341.84 86.72h1.00M352.87 86.72h2.00M364.89 86.72h1.00M381.93 86.72h2.00M389.94 86.72h1.00M402.97 86.72h1.00M344.85 87.71h1.00M350.86 87.71h1.00M352.87 87.71h1.00M392.95 87.71h1.00M408.98 87.71h1.00M340.84 88.71h1.00M345.85 88.71h1.00M350.86 88.71h1.00M356.88 88.71h1.00M389.94 88.71h1.00M391.95 88.71h1.00M319.80 89.70h1.00M321.80 89.70h1.00M373.91 89.70h1.00M384.93 89.70h1.00M391.95 89.70h1.00M396.96 89.70h1.00M409.98 89.70h1.00M414.99 89.70h1.00" stroke="#780b06" stroke-width="1.04" fill="none"/>
<path d="M334.83 29.03h1.00M341.84 29.03h1.00M330.82 30.02h1.00M335.83 30.02h1.00M355.87 30.02h1.00M369.90 30.02h1.00M383.93 30.02h1.00M410.99 32.01h1.00M377.92 33.01h1.00M329.82 34.00h1.00M377.92 34.00h1.00M363.89 35.99h1.00M369.90 35.99h1.00M375.91 35.99h1.00M377.92 35.99h1.00M328.82 50.91h1.00M325.81 52.90h1.00M345.85 53.89h1.00M354.87 53.89h1.00M358.88 53.89h1.00M375.91 53.89h1.00M357.88 54.89h1.00M361.89 54.89h1.00M350.86 55.88h1.00M344.85 56.88h1.00M357.88 56.88h1.00M359.88 56.88h1.00M373.91 56.88h1.00M387.94 56.88h2.00M394.95 56.88h1.00M353.87 57.87h1.00M383.93 57.87h2.00M387.94 57.87h1.00M382.93 58.87h1.00M325.81 59.86h1.00M375.91 59.86h1.00M395.96 61.85h1.00M399.96 61.85h1.00M403.97 61.85h1.00M323.81 62.85h1.00M325.81 62.85h1.00M390.94 63.84h1.00M367.90 64.84h1.00M406.98 64.84h1.00M357.88 65.83h1.00M357.88 66.83h1.00M367.90 67.82h2.00M399.96 67.82h1.00M395.96 68.81h2.00M402.97 68.81h1.00M321.80 69.81h1.00M340.84 69.81h1.00M395.96 69.81h1.00M401.97 69.81h1.00M341.84 70.80h1.00M364.89 70.80h1.00M326.81 71.80h1.00M402.97 71.80h1.00M353.87 72.79h1.00M358.88 72.79h1.00M375.91 72.79h1.00M406.98 72.79h1.00M319.80 73.79h1.00M370.90 73.79h1.00M417.00 73.79h1.00M334.83 74.78h1.00M346.86 74.78h1.00M395.96 74.78h1.00M413.99 74.78h1.00M395.96 75.78h1.00M398.96 75.78h1.00M403.97 75.78h1.00M338.84 76.77h1.00M380.92 76.77h1.00M389.94 76.77h1.00M406.98 76.77h1.00M413.99 76.77h1.00M368.90 77.77h1.00M383.93 77.77h1.00M393.95 77.77h1.00M406.98 77.77h1.00M367.90 78.76h1.00M371.91 78.76h1.00M373.91 78.76h1.00M328.82 79.76h1.00M336.83 79.76h1.00M372.91 79.76h1.00M416.00 79.76h1.00M320.80 80.75h1.00M359.88 80.75h1.00M373.91 80.75h1.00M345.85 81.75h1.00M366.90 81.75h1.00M368.90 81.75h1.00M388.94 81.75h1.00M417.00 81.75h1.00M356.88 82.74h1.00M365.89 82.74h1.00M410.99 82.74h1.00M336.83 83.73h1.00M342.85 83.73h1.00M361.89 83.73h1.00M370.90 83.73h1.00M377.92 83.73h1.00M396.96 83.73h1.00M416.00 83.73h1.00M336.83 84.73h1.00M346.86 84.73h1.00M332.83 86.72h1.00M339.84 86.72h1.00M348.86 86.72h1.00M399.96 86.72h1.00M333.83 87.71h1.00M349.86 87.71h1.00M358.88 87.71h1.00M362.89 87.71h1.00M366.90 87.71h1.00M370.90 87.71h1.00M372.91 87.71h1.00M344.85 88.71h1.00M349.86 88.71h1.00M357.88 88.71h1.00M371.91 88.71h1.00M397.96 88.71h1.00M400.97 88.71h1.00M346.86 89.70h1.00M355.87 89.70h1.00M357.88 89.70h1.00M366.90 89.70h1.00M368.90 89.70h1.00M381.93 89.70h2.00" stroke="#cd0908" stroke-width="1.04" fill="none"/>
<path d="M337.84 29.03h1.00M350.86 29.03h2.00M362.89 29.03h1.00M367.90 29.03h1.00M371.91 29.03h2.00M374.91 29.03h1.00M384.93 29.03h1.00M386.94 29.03h1.00M392.95 29.03h1.00M322.81 30.02h2.00M340.84 30.02h1.00M349.86 30.02h3.01M356.88 30.02h1.00M366.90 30.02h1.00M371.91 30.02h2.00M384.93 30.02h1.00M416.00 30.02h1.00M322.81 31.02h2.00M328.82 31.02h3.01M338.84 31.02h1.00M352.87 31.02h1.00M360.88 31.02h1.00M366.90 31.02h1.00M369.90 31.02h1.00M386.94 31.02h1.00M411.99 31.02h1.00M332.83 32.01h1.00M334.83 32.01h1.00M352.87 32.01h1.00M355.87 32.01h1.00M357.88 32.01h1.00M385.93 32.01h1.00M400.97 32.01h1.00M320.80 33.01h1.00M329.82 33.01h1.00M372.91 33.01h1.00M376.92 33.01h1.00M404.97 33.01h1.00M408.98 33.01h1.00M328.82 34.00h1.00M337.84 34.00h1.00M406.98 34.00h1.00M408.98 34.00h1.00M413.99 34.00h1.00M327.82 35.00h2.00M331.82 35.00h1.00M336.83 35.00h1.00M356.88 35.00h1.00M360.88 35.00h1.00M363.89 35.00h2.00M328.82 35.99h1.00M331.82 35.99h1.00M333.83 35.99h2.00M337.84 35.99h1.00M358.88 35.99h1.00M374.91 35.99h1.00M390.94 35.99h1.00M395.96 35.99h1.00M325.81 36.99h1.00M352.87 36.99h1.00M382.93 36.99h1.00M325.81 37.98h2.00M338.84 37.98h1.00M409.98 37.98h1.00M320.80 38.97h1.00M369.90 38.97h1.00M389.94 38.97h1.00M416.00 38.97h1.00M327.82 39.97h1.00M375.91 40.96h1.00M395.96 40.96h1.00M324.81 42.95h1.00M330.82 42.95h1.00M344.85 42.95h1.00M349.86 42.95h1.00M332.83 43.95h2.00M354.87 44.94h1.00M375.91 44.94h1.00M400.97 44.94h1.00M354.87 45.94h1.00M319.80 46.93h1.00M395.96 46.93h1.00M334.83 47.93h1.00M350.86 47.93h1.00M360.88 47.93h1.00M386.94 47.93h1.00M323.81 48.92h1.00M352.87 48.92h1.00M367.90 48.92h1.00M326.81 49.92h1.00M355.87 49.92h1.00M365.89 49.92h1.00M416.00 49.92h1.00M350.86 50.91h2.00M406.98 50.91h1.00M326.81 51.91h1.00M348.86 51.91h1.00M353.87 51.91h1.00M355.87 51.91h2.00M368.90 51.91h1.00M400.97 51.91h1.00M412.99 51.91h1.00M414.99 51.91h1.00M321.80 52.90h1.00M337.84 52.90h1.00M339.84 52.90h1.00M357.88 52.90h1.00M360.88 52.90h1.00M365.89 52.90h1.00M368.90 52.90h1.00M408.98 52.90h1.00M319.80 53.89h1.00M331.82 53.89h1.00M349.86 53.89h1.00M365.89 53.89h1.00M322.81 54.89h1.00M324.81 54.89h1.00M329.82 54.89h1.00M352.87 54.89h2.00M367.90 54.89h2.00M396.96 54.89h1.00M325.81 55.88h1.00M332.83 55.88h2.00M336.83 55.88h1.00M358.88 55.88h1.00M364.89 55.88h1.00M380.92 55.88h1.00M319.80 56.88h1.00M321.80 56.88h1.00M330.82 56.88h1.00M340.84 56.88h1.00M342.85 56.88h1.00M351.87 56.88h1.00M374.91 56.88h1.00M390.94 56.88h2.00M395.96 56.88h1.00M344.85 57.87h1.00M349.86 57.87h1.00M354.87 57.87h1.00M357.88 57.87h1.00M366.90 57.87h1.00M368.90 57.87h1.00M372.91 57.87h1.00M374.91 57.87h1.00M380.92 57.87h2.00M392.95 57.87h2.00M398.96 57.87h1.00M400.97 57.87h1.00M327.82 58.87h1.00M351.87 58.87h1.00M355.87 58.87h1.00M357.88 58.87h1.00M391.95 58.87h1.00M326.81 59.86h1.00M329.82 59.86h1.00M340.84 59.86h1.00M365.89 59.86h1.00M381.93 59.86h1.00M391.95 59.86h1.00M326.81 60.86h2.00M384.93 60.86h1.00M388.94 60.86h1.00M404.97 60.86h1.00M417.00 60.86h1.00M331.82 61.85h1.00M348.86 61.85h1.00M350.86 61.85h1.00M330.82 62.85h1.00M348.86 62.85h1.00M352.87 62.85h1.00M360.88 62.85h1.00M407.98 62.85h1.00M410.99 62.85h1.00M414.99 62.85h1.00M325.81 63.84h1.00M334.83 63.84h1.00M392.95 63.84h1.00M396.96 63.84h1.00M400.97 63.84h1.00M403.97 63.84h1.00M407.98 63.84h1.00M336.83 64.84h3.01M342.85 64.84h1.00M380.92 64.84h1.00M400.97 64.84h1.00M331.82 65.83h1.00M341.84 65.83h1.00M348.86 65.83h2.00M381.93 65.83h1.00M397.96 65.83h2.00M326.81 66.83h1.00M337.84 66.83h1.00M361.89 66.83h1.00M363.89 66.83h1.00M369.90 66.83h1.00M371.91 66.83h1.00M390.94 66.83h1.00M406.98 66.83h1.00M326.81 67.82h1.00M335.83 67.82h1.00M346.86 67.82h1.00M361.89 67.82h1.00M363.89 67.82h2.00M412.99 67.82h1.00M339.84 68.81h1.00M350.86 68.81h1.00M373.91 68.81h1.00M375.91 68.81h1.00M379.92 68.81h2.00M320.80 69.81h1.00M322.81 69.81h1.00M339.84 69.81h1.00M357.88 69.81h1.00M360.88 69.81h2.00M375.91 69.81h1.00M383.93 69.81h1.00M409.98 69.81h1.00M339.84 70.80h1.00M369.90 70.80h1.00M408.98 70.80h1.00M330.82 71.80h1.00M341.84 71.80h1.00M395.96 71.80h1.00M411.99 71.80h1.00M416.00 71.80h1.00M319.80 72.79h1.00M321.80 72.79h1.00M331.82 72.79h1.00M337.84 72.79h1.00M347.86 72.79h1.00M356.88 72.79h1.00M366.90 72.79h2.00M372.91 72.79h1.00M408.98 72.79h1.00M411.99 72.79h1.00M349.86 73.79h1.00M364.89 73.79h1.00M375.91 73.79h1.00M384.93 73.79h1.00M392.95 73.79h1.00M324.81 74.78h1.00M385.93 74.78h1.00M391.95 74.78h1.00M401.97 74.78h1.00M333.83 75.78h1.00M344.85 75.78h1.00M358.88 75.78h1.00M360.88 75.78h3.01M386.94 75.78h1.00M400.97 75.78h1.00M408.98 75.78h3.01M365.89 76.77h1.00M336.83 77.77h1.00M349.86 77.77h1.00M359.88 77.77h2.00M370.90 77.77h1.00M385.93 77.77h1.00M387.94 77.77h1.00M408.98 77.77h1.00M410.99 77.77h1.00M330.82 78.76h2.00M382.93 78.76h1.00M409.98 78.76h1.00M334.83 79.76h1.00M338.84 79.76h1.00M359.88 79.76h1.00M366.90 79.76h2.00M371.91 79.76h1.00M375.91 79.76h1.00M382.93 79.76h2.00M412.99 79.76h1.00M324.81 80.75h2.00M353.87 80.75h1.00M367.90 80.75h1.00M375.91 80.75h1.00M396.96 80.75h1.00M322.81 81.75h1.00M324.81 81.75h1.00M360.88 81.75h1.00M397.96 81.75h1.00M413.99 81.75h1.00M323.81 82.74h1.00M338.84 82.74h1.00M399.96 82.74h1.00M403.97 82.74h1.00M319.80 83.73h1.00M328.82 83.73h1.00M352.87 83.73h1.00M401.97 83.73h1.00M414.99 83.73h1.00M321.80 84.73h1.00M325.81 84.73h1.00M363.89 84.73h1.00M393.95 84.73h1.00M397.96 84.73h1.00M413.99 84.73h1.00M389.94 85.72h1.00M416.00 85.72h1.00M323.81 86.72h1.00M333.83 86.72h1.00M377.92 86.72h1.00M322.81 87.71h1.00M404.97 87.71h1.00M412.99 87.71h2.00M341.84 88.71h1.00M404.97 88.71h1.00M408.98 88.71h1.00M413.99 88.71h1.00M351.87 89.70h1.00" stroke="#3d0c05" stroke-width="1.04" fill="none"/>
<path d="M339.84 29.03h1.00M347.86 29.03h1.00M358.88 29.03h1.00M365.89 29.03h1.00M368.90 29.03h2.00M373.91 29.03h1.00M377.92 29.03h1.00M382.93 29.03h1.00M390.94 29.03h1.00M359.88 30.02h1.00M361.89 30.02h1.00M364.89 30.02h1.00M392.95 30.02h1.00M325.81 31.02h1.00M333.83 31.02h1.00M372.91 31.02h1.00M408.98 31.02h1.00M327.82 32.01h1.00M331.82 32.01h1.00M353.87 32.01h1.00M364.89 32.01h1.00M378.92 32.01h1.00M380.92 32.01h1.00M397.96 32.01h1.00M338.84 34.00h1.00M351.87 34.00h1.00M351.87 35.00h1.00M357.88 35.00h1.00M366.90 35.00h1.00M381.93 35.00h1.00M327.82 35.99h1.00M330.82 35.99h1.00M370.90 35.99h1.00M394.95 35.99h1.00M411.99 35.99h1.00M381.93 36.99h1.00M363.89 37.98h1.00M389.94 37.98h1.00M402.97 37.98h1.00M319.80 38.97h1.00M364.89 38.97h2.00M390.94 39.97h1.00M342.85 40.96h1.00M344.85 40.96h1.00M346.86 40.96h2.00M358.88 40.96h1.00M350.86 41.96h1.00M394.95 41.96h1.00M325.81 42.95h1.00M345.85 42.95h1.00M376.92 43.95h1.00M414.99 43.95h1.00M337.84 44.94h1.00M388.94 44.94h1.00M402.97 44.94h1.00M411.99 44.94h1.00M325.81 45.94h1.00M338.84 45.94h1.00M344.85 45.94h1.00M387.94 45.94h1.00M320.80 46.93h2.00M325.81 46.93h1.00M331.82 46.93h1.00M331.82 47.93h2.00M336.83 47.93h1.00M375.91 47.93h1.00M408.98 47.93h1.00M330.82 48.92h1.00M335.83 48.92h1.00M345.85 48.92h1.00M359.88 48.92h1.00M371.91 48.92h1.00M330.82 49.92h1.00M337.84 49.92h1.00M339.84 49.92h1.00M351.87 49.92h1.00M367.90 49.92h1.00M399.96 49.92h1.00M319.80 50.91h2.00M324.81 50.91h1.00M354.87 50.91h2.00M319.80 51.91h1.00M363.89 51.91h1.00M320.80 52.90h1.00M327.82 52.90h1.00M344.85 52.90h1.00M362.89 52.90h2.00M383.93 52.90h1.00M387.94 52.90h1.00M332.83 53.89h1.00M334.83 53.89h2.00M339.84 53.89h1.00M353.87 53.89h1.00M380.92 53.89h1.00M417.00 53.89h1.00M323.81 54.89h1.00M325.81 54.89h1.00M371.91 54.89h1.00M329.82 55.88h1.00M345.85 55.88h1.00M353.87 55.88h1.00M359.88 55.88h1.00M365.89 55.88h1.00M379.92 55.88h1.00M385.93 55.88h1.00M389.94 55.88h1.00M320.80 56.88h1.00M322.81 56.88h2.00M335.83 56.88h1.00M341.84 56.88h1.00M363.89 56.88h1.00M381.93 56.88h1.00M383.93 56.88h1.00M322.81 57.87h1.00M342.85 57.87h1.00M348.86 57.87h1.00M350.86 57.87h1.00M355.87 57.87h1.00M360.88 57.87h1.00M370.90 57.87h1.00M382.93 57.87h1.00M389.94 57.87h1.00M366.90 58.87h1.00M379.92 58.87h1.00M390.94 58.87h1.00M395.96 58.87h1.00M327.82 59.86h1.00M334.83 59.86h1.00M387.94 59.86h1.00M403.97 59.86h1.00M319.80 60.86h1.00M323.81 60.86h1.00M329.82 60.86h1.00M340.84 60.86h1.00M345.85 60.86h1.00M347.86 60.86h1.00M350.86 60.86h1.00M363.89 60.86h1.00M367.90 60.86h1.00M370.90 60.86h1.00M381.93 60.86h1.00M387.94 60.86h1.00M389.94 60.86h1.00M393.95 60.86h1.00M341.84 61.85h1.00M343.85 61.85h1.00M345.85 61.85h1.00M347.86 61.85h1.00M388.94 61.85h1.00M390.94 61.85h1.00M417.00 61.85h1.00M328.82 62.85h1.00M344.85 62.85h1.00M347.86 62.85h1.00M385.93 62.85h1.00M389.94 62.85h1.00M393.95 62.85h1.00M398.96 62.85h1.00M406.98 62.85h1.00M411.99 62.85h1.00M319.80 63.84h3.01M323.81 63.84h1.00M337.84 63.84h1.00M343.85 63.84h1.00M353.87 63.84h1.00M380.92 63.84h1.00M388.94 63.84h1.00M401.97 63.84h1.00M405.98 63.84h1.00M413.99 63.84h1.00M322.81 64.84h2.00M335.83 64.84h1.00M341.84 64.84h1.00M343.85 64.84h1.00M365.89 64.84h2.00M370.90 64.84h1.00M393.95 64.84h1.00M416.00 64.84h1.00M322.81 65.83h1.00M366.90 65.83h1.00M379.92 65.83h1.00M389.94 65.83h1.00M393.95 65.83h1.00M396.96 65.83h1.00M323.81 66.83h1.00M328.82 66.83h1.00M365.89 66.83h1.00M392.95 66.83h1.00M403.97 66.83h1.00M407.98 66.83h1.00M342.85 67.82h2.00M350.86 67.82h1.00M370.90 67.82h1.00M388.94 67.82h1.00M391.95 67.82h3.01M400.97 67.82h1.00M409.98 67.82h1.00M413.99 67.82h1.00M416.00 67.82h1.00M329.82 68.81h1.00M357.88 68.81h1.00M374.91 68.81h1.00M385.93 68.81h1.00M387.94 68.81h1.00M351.87 69.81h1.00M353.87 69.81h1.00M370.90 69.81h1.00M382.93 69.81h1.00M334.83 70.80h1.00M358.88 70.80h1.00M396.96 70.80h1.00M401.97 70.80h1.00M404.97 70.80h1.00M411.99 70.80h1.00M358.88 71.80h1.00M364.89 71.80h1.00M369.90 71.80h1.00M390.94 71.80h1.00M412.99 71.80h1.00M338.84 72.79h2.00M342.85 72.79h1.00M379.92 72.79h1.00M388.94 72.79h1.00M403.97 72.79h1.00M413.99 72.79h1.00M348.86 73.79h1.00M360.88 73.79h1.00M405.98 73.79h1.00M410.99 73.79h1.00M412.99 73.79h1.00M344.85 74.78h1.00M382.93 74.78h1.00M400.97 74.78h1.00M406.98 74.78h1.00M409.98 74.78h2.00M417.00 74.78h1.00M324.81 75.78h1.00M331.82 75.78h1.00M335.83 75.78h1.00M342.85 75.78h2.00M359.88 75.78h1.00M379.92 75.78h1.00M396.96 75.78h1.00M323.81 76.77h1.00M331.82 76.77h1.00M341.84 76.77h1.00M363.89 76.77h1.00M366.90 76.77h1.00M370.90 76.77h1.00M391.95 76.77h1.00M395.96 76.77h1.00M408.98 76.77h1.00M327.82 77.77h1.00M334.83 77.77h1.00M371.91 77.77h2.00M377.92 77.77h1.00M407.98 77.77h1.00M332.83 78.76h1.00M340.84 78.76h2.00M343.85 78.76h3.01M358.88 78.76h1.00M377.92 78.76h1.00M391.95 78.76h1.00M351.87 79.76h1.00M353.87 79.76h1.00M356.88 79.76h1.00M361.89 79.76h1.00M364.89 79.76h1.00M377.92 79.76h1.00M380.92 79.76h1.00M391.95 79.76h1.00M400.97 79.76h1.00M405.98 79.76h1.00M321.80 80.75h1.00M347.86 80.75h1.00M384.93 80.75h2.00M388.94 80.75h1.00M397.96 80.75h1.00M402.97 80.75h1.00M407.98 80.75h1.00M320.80 81.75h1.00M323.81 81.75h1.00M385.93 81.75h2.00M398.96 81.75h2.00M401.97 81.75h1.00M408.98 81.75h1.00M325.81 82.74h1.00M334.83 82.74h1.00M344.85 82.74h1.00M348.86 82.74h1.00M364.89 82.74h1.00M386.94 82.74h1.00M396.96 82.74h1.00M400.97 82.74h1.00M402.97 82.74h1.00M413.99 82.74h1.00M320.80 83.73h1.00M325.81 83.73h1.00M355.87 83.73h1.00M360.88 83.73h1.00M382.93 83.73h1.00M387.94 83.73h1.00M394.95 83.73h1.00M360.88 84.73h1.00M388.94 84.73h1.00M404.97 84.73h1.00M335.83 85.72h1.00M360.88 85.72h1.00M383.93 85.72h1.00M388.94 85.72h1.00M398.96 85.72h1.00M410.99 85.72h1.00M354.87 86.72h1.00M380.92 86.72h1.00M390.94 86.72h1.00M401.97 86.72h1.00M409.98 86.72h1.00M324.81 87.71h1.00M342.85 87.71h1.00M380.92 87.71h1.00M402.97 87.71h1.00M329.82 88.71h1.00M360.88 88.71h1.00M376.92 88.71h1.00M382.93 88.71h1.00M388.94 88.71h1.00M393.95 88.71h3.01M401.97 88.71h2.00M406.98 88.71h1.00M416.00 88.71h1.00M329.82 89.70h1.00M340.84 89.70h1.00M359.88 89.70h2.00M376.92 89.70h1.00M385.93 89.70h1.00M395.96 89.70h1.00M408.98 89.70h1.00" stroke="#500c05" stroke-width="1.04" fill="none"/>
<path d="M342.85 29.03h1.00M354.87 29.03h1.00M356.88 29.03h1.00M360.88 29.03h2.00M380.92 29.03h1.00M387.94 29.03h1.00M389.94 29.03h1.00M336.83 30.02h1.00M354.87 30.02h1.00M363.89 30.02h1.00M370.90 30.02h1.00M387.94 30.02h1.00M393.95 30.02h2.00M326.81 31.02h1.00M383.93 31.02h1.00M377.92 32.01h1.00M330.82 34.00h1.00M371.91 34.00h1.00M329.82 35.00h1.00M365.89 35.00h1.00M369.90 35.00h1.00M374.91 35.00h1.00M390.94 35.00h1.00M407.98 35.00h1.00M323.81 35.99h1.00M351.87 35.99h1.00M356.88 35.99h2.00M362.89 35.99h1.00M381.93 35.99h1.00M345.85 40.96h1.00M350.86 40.96h1.00M322.81 44.94h1.00M414.99 44.94h1.00M350.86 46.93h1.00M337.84 48.92h1.00M332.83 49.92h1.00M352.87 49.92h1.00M327.82 51.91h1.00M350.86 51.91h1.00M358.88 51.91h1.00M369.90 51.91h1.00M328.82 52.90h1.00M340.84 52.90h1.00M353.87 52.90h1.00M369.90 52.90h1.00M321.80 53.89h1.00M325.81 53.89h1.00M348.86 53.89h1.00M359.88 53.89h1.00M361.89 53.89h1.00M371.91 53.89h1.00M326.81 54.89h1.00M351.87 54.89h1.00M358.88 54.89h1.00M365.89 54.89h1.00M319.80 55.88h1.00M323.81 55.88h1.00M334.83 55.88h1.00M338.84 55.88h1.00M347.86 55.88h2.00M362.89 55.88h1.00M381.93 55.88h1.00M394.95 55.88h1.00M329.82 56.88h1.00M347.86 56.88h1.00M350.86 56.88h1.00M353.87 56.88h1.00M355.87 56.88h1.00M388.94 57.87h1.00M323.81 58.87h1.00M325.81 58.87h1.00M377.92 58.87h1.00M381.93 58.87h1.00M328.82 59.86h1.00M336.83 59.86h1.00M376.92 59.86h1.00M378.92 59.86h1.00M334.83 60.86h1.00M346.86 60.86h1.00M392.95 60.86h1.00M399.96 60.86h1.00M359.88 61.85h1.00M387.94 61.85h1.00M405.98 61.85h2.00M334.83 62.85h1.00M404.97 62.85h1.00M322.81 63.84h1.00M330.82 64.84h1.00M339.84 64.84h1.00M388.94 64.84h1.00M330.82 65.83h1.00M351.87 65.83h1.00M356.88 65.83h1.00M378.92 65.83h1.00M383.93 65.83h1.00M410.99 65.83h1.00M336.83 66.83h1.00M400.97 66.83h2.00M333.83 67.82h1.00M357.88 67.82h1.00M372.91 67.82h1.00M320.80 68.81h1.00M333.83 68.81h1.00M360.88 68.81h1.00M366.90 68.81h1.00M368.90 68.81h1.00M386.94 68.81h1.00M397.96 68.81h1.00M406.98 68.81h1.00M338.84 69.81h1.00M343.85 69.81h1.00M364.89 69.81h1.00M367.90 69.81h1.00M402.97 69.81h1.00M404.97 69.81h1.00M414.99 69.81h1.00M321.80 70.80h2.00M330.82 70.80h1.00M371.91 70.80h1.00M371.91 71.80h1.00M374.91 71.80h1.00M387.94 71.80h1.00M394.95 71.80h1.00M401.97 71.80h1.00M407.98 71.80h1.00M409.98 71.80h1.00M336.83 72.79h1.00M343.85 72.79h1.00M357.88 72.79h1.00M371.91 72.79h1.00M385.93 72.79h1.00M389.94 72.79h1.00M404.97 72.79h1.00M334.83 73.79h1.00M337.84 73.79h1.00M346.86 73.79h1.00M350.86 73.79h1.00M388.94 73.79h1.00M399.96 73.79h1.00M338.84 74.78h1.00M350.86 74.78h1.00M363.89 74.78h1.00M370.90 74.78h1.00M403.97 74.78h1.00M407.98 74.78h1.00M412.99 74.78h1.00M328.82 75.78h1.00M365.89 75.78h1.00M378.92 75.78h1.00M384.93 75.78h1.00M397.96 75.78h1.00M328.82 76.77h2.00M359.88 76.77h1.00M382.93 76.77h2.00M400.97 76.77h1.00M402.97 76.77h1.00M409.98 76.77h3.01M388.94 77.77h1.00M390.94 77.77h2.00M401.97 77.77h1.00M334.83 78.76h1.00M342.85 78.76h1.00M369.90 78.76h1.00M412.99 78.76h1.00M327.82 79.76h1.00M330.82 79.76h1.00M332.83 79.76h1.00M335.83 79.76h1.00M362.89 79.76h1.00M369.90 79.76h1.00M387.94 79.76h1.00M319.80 80.75h1.00M345.85 80.75h1.00M348.86 80.75h1.00M354.87 80.75h1.00M386.94 80.75h2.00M389.94 80.75h2.00M394.95 80.75h1.00M399.96 80.75h1.00M405.98 80.75h1.00M409.98 80.75h1.00M321.80 81.75h1.00M325.81 81.75h1.00M335.83 81.75h1.00M343.85 81.75h1.00M369.90 81.75h1.00M376.92 81.75h1.00M384.93 81.75h1.00M406.98 81.75h1.00M409.98 81.75h1.00M326.81 82.74h1.00M336.83 82.74h1.00M343.85 82.74h1.00M384.93 82.74h1.00M409.98 82.74h1.00M416.00 82.74h2.00M340.84 83.73h1.00M350.86 83.73h1.00M400.97 83.73h1.00M404.97 83.73h1.00M345.85 84.73h1.00M376.92 84.73h1.00M401.97 84.73h1.00M416.00 84.73h1.00M319.80 85.72h1.00M336.83 85.72h1.00M354.87 85.72h1.00M372.91 85.72h1.00M384.93 85.72h1.00M399.96 85.72h1.00M356.88 86.72h1.00M366.90 86.72h1.00M375.91 86.72h1.00M384.93 86.72h1.00M387.94 86.72h2.00M391.95 86.72h1.00M345.85 87.71h1.00M361.89 87.71h1.00M365.89 87.71h1.00M390.94 87.71h1.00M394.95 87.71h1.00M414.99 87.71h1.00M332.83 88.71h1.00M361.89 88.71h1.00M381.93 88.71h1.00M398.96 88.71h1.00M403.97 88.71h1.00M333.83 89.70h1.00M336.83 89.70h2.00M352.87 89.70h1.00M361.89 89.70h1.00M405.98 89.70h2.00M413.99 89.70h1.00" stroke="#8c0a07" stroke-width="1.04" fill="none"/>
<path d="M364.89 29.03h1.00M335.83 31.02h1.00M365.89 32.01h1.00M362.89 33.01h1.00M378.92 33.01h1.00M330.82 35.00h1.00M366.90 37.98h1.00M363.89 38.97h1.00M380.92 40.96h1.00M323.81 44.94h1.00M329.82 50.91h1.00M352.87 50.91h1.00M323.81 51.91h1.00M323.81 52.90h1.00M356.88 52.90h1.00M359.88 52.90h1.00M340.84 53.89h1.00M344.85 53.89h1.00M347.86 53.89h1.00M356.88 53.89h1.00M364.89 53.89h1.00M334.83 54.89h1.00M336.83 54.89h1.00M341.84 54.89h1.00M346.86 54.89h2.00M355.87 54.89h1.00M346.86 55.88h1.00M352.87 55.88h1.00M360.88 55.88h1.00M345.85 56.88h1.00M360.88 56.88h1.00M319.80 57.87h1.00M329.82 57.87h1.00M333.83 57.87h1.00M352.87 57.87h1.00M390.94 57.87h1.00M333.83 58.87h1.00M335.83 58.87h1.00M367.90 58.87h1.00M374.91 58.87h1.00M337.84 59.86h1.00M374.91 59.86h1.00M396.96 59.86h1.00M393.95 61.85h1.00M324.81 62.85h1.00M331.82 62.85h1.00M340.84 62.85h1.00M396.96 62.85h1.00M402.97 62.85h1.00M369.90 65.83h1.00M406.98 65.83h1.00M351.87 66.83h1.00M367.90 66.83h1.00M398.96 66.83h2.00M401.97 67.82h1.00M407.98 67.82h2.00M343.85 68.81h1.00M367.90 68.81h1.00M393.95 68.81h2.00M327.82 69.81h1.00M371.91 69.81h1.00M396.96 69.81h1.00M398.96 69.81h1.00M400.97 69.81h1.00M416.00 69.81h1.00M326.81 70.80h1.00M329.82 70.80h1.00M370.90 70.80h1.00M394.95 70.80h1.00M403.97 70.80h1.00M352.87 71.80h1.00M384.93 71.80h1.00M335.83 72.79h1.00M384.93 72.79h1.00M398.96 72.79h1.00M401.97 72.79h1.00M405.98 72.79h1.00M404.97 73.79h1.00M413.99 73.79h1.00M347.86 74.78h1.00M321.80 75.78h1.00M388.94 75.78h1.00M393.95 75.78h1.00M335.83 76.77h1.00M403.97 76.77h1.00M369.90 77.77h1.00M380.92 77.77h1.00M405.98 77.77h1.00M417.00 77.77h1.00M378.92 78.76h1.00M408.98 78.76h1.00M413.99 78.76h1.00M319.80 79.76h1.00M337.84 79.76h1.00M344.85 79.76h1.00M368.90 79.76h1.00M379.92 79.76h1.00M388.94 79.76h1.00M413.99 79.76h1.00M417.00 79.76h1.00M355.87 80.75h1.00M380.92 80.75h1.00M383.93 80.75h1.00M391.95 80.75h1.00M387.94 81.75h1.00M395.96 81.75h1.00M410.99 81.75h1.00M335.83 82.74h1.00M375.91 82.74h1.00M389.94 82.74h1.00M343.85 83.73h1.00M371.91 83.73h1.00M376.92 83.73h1.00M388.94 83.73h1.00M395.96 83.73h1.00M347.86 84.73h2.00M359.88 84.73h1.00M371.91 84.73h1.00M373.91 84.73h1.00M375.91 84.73h1.00M386.94 84.73h1.00M391.95 84.73h2.00M399.96 84.73h1.00M406.98 84.73h1.00M410.99 84.73h2.00M320.80 85.72h1.00M337.84 85.72h2.00M352.87 85.72h1.00M362.89 85.72h1.00M376.92 85.72h2.00M408.98 85.72h2.00M361.89 86.72h1.00M371.91 86.72h1.00M395.96 86.72h1.00M414.99 86.72h1.00M393.95 87.71h1.00M400.97 87.71h1.00M353.87 88.71h1.00M355.87 88.71h1.00M358.88 88.71h1.00M363.89 88.71h1.00M417.00 88.71h1.00M320.80 89.70h1.00M369.90 89.70h1.00M383.93 89.70h1.00M397.96 89.70h1.00M401.97 89.70h1.00" stroke="#b70908" stroke-width="1.04" fill="none"/></g>
<path d="M136.0 15.8V14.4h3.0V15.8M140.5 15.8V14.2h2.0V15.8M143.0 15.8V14.1h2.0V15.8M145.5 15.8V14.5h3.0V15.8M149.0 15.8V14.3h4.0V15.8M154.5 15.8V14.7h3.0V15.8M158.0 15.8V14.4h4.0V15.8M163.0 15.8V13.9h3.0V15.8M166.5 15.8V14.0h3.0V15.8M170.5 15.8V14.3h3.0V15.8M174.0 15.8V13.7h3.0V15.8M177.5 15.8V14.1h3.0V15.8M181.0 15.8V14.1h3.0V15.8M185.5 15.8V13.4h3.0V15.8M189.5 15.8V14.1h3.0V15.8M193.5 15.8V13.3h3.0V15.8M197.5 15.8V13.7h2.0V15.8M201.0 15.8V13.4h2.0V15.8M204.5 15.8V13.8h3.0V15.8M208.5 15.8V13.4h3.0V15.8M212.5 15.8V13.4h3.0V15.8M217.0 15.8V13.6h3.0V15.8M220.5 15.8V12.9h3.0V15.8M224.0 15.8V13.3h4.0V15.8M138.0 14.3V13.0H164.2V13.8M146.2 14.3V12.3H172.4V13.8M154.4 14.3V11.6H180.6V13.8M162.6 14.3V10.8H188.8V13.8M170.8 14.3V10.1H197.0V13.8M179.0 14.3V9.4H205.2V13.8M187.1 14.3V8.7H213.4V13.8M195.3 14.3V8.0H221.5V13.8M203.5 14.3V7.6H224.0V13.8M207.0 15.8V9.4M210.5 15.8V7.9M213.0 15.8V8.6M215.5 15.8V7.6M218.0 15.8V8.6M221.5 15.8V7.5M224.5 15.8V8.0M211.0 7.2H226.5" fill="none" stroke="#a3a3da" stroke-width="0.5" opacity="0.8"/>
<path d="M322.0 15.4V14.1h4.0V15.4M327.0 15.4V14.4h3.0V15.4M331.5 15.4V14.2h2.0V15.4M334.5 15.4V14.1h2.0V15.4M338.0 15.4V13.8h2.0V15.4M340.5 15.4V13.5h4.0V15.4M345.5 15.4V14.1h3.0V15.4M349.0 15.4V14.1h2.0V15.4M352.5 15.4V13.5h2.0V15.4M355.5 15.4V13.3h2.0V15.4M358.0 15.4V13.5h3.0V15.4M362.0 15.4V13.4h2.0V15.4M364.5 15.4V13.7h4.0V15.4M369.0 15.4V13.3h3.0V15.4M372.5 15.4V13.8h4.0V15.4M377.5 15.4V13.6h4.0V15.4M382.0 15.4V13.1h4.0V15.4M386.5 15.4V13.5h2.0V15.4M390.0 15.4V12.8h3.0V15.4M393.5 15.4V13.5h3.0V15.4M397.0 15.4V13.0h3.0V15.4M400.5 15.4V12.9h2.0V15.4M404.0 15.4V13.0h3.0V15.4M408.0 15.4V12.8h3.0V15.4M411.5 15.4V13.1h3.0V15.4M416.0 15.4V13.1h2.0V15.4M324.0 13.9V11.5H351.9V13.4M332.7 13.9V10.7H360.6V13.4M341.4 13.9V9.9H369.3V13.4M350.1 13.9V9.2H378.0V13.4M358.9 13.9V8.4H386.7V13.4M367.6 13.9V7.6H395.5V13.4M376.3 13.9V6.9H404.2V13.4M385.0 13.9V6.1H412.9V13.4M393.7 13.9V5.7H415.5V13.4M398.5 15.4V7.2M401.0 15.4V7.1M403.0 15.4V6.0M406.5 15.4V6.9M409.0 15.4V5.5M411.0 15.4V6.2M413.0 15.4V6.3M415.0 15.4V6.1M418.0 15.4V5.2M402.5 5.2H418.0" fill="none" stroke="#8e8ed2" stroke-width="0.55" opacity="0.9"/>
<rect x="419.2" y="20.7" width="8.4" height="67.3" fill="none" stroke="#9292d4" stroke-width="0.55"/>
<path d="M419.2 24L425 30V52L421 60M419.2 34l4 6v22l-3 8M419.2 46h3V76h-3M425.5 52v30l-4 5" fill="none" stroke="#8686d0" stroke-width="0.5" opacity="0.9"/>
<path d="M419.2 56l5 6v18M419.2 66h2.5v18h-2.5" fill="none" stroke="#d48a8a" stroke-width="0.45" opacity="0.8"/>
<path d="M134.60 100.8V109.4M136.15 100.8V109.3M137.70 100.8V109.0M139.25 100.8V109.2M140.80 100.8V109.3M142.35 100.8V109.4M143.90 100.8V109.1M145.45 100.8V109.0M147.00 100.8V109.5M148.55 100.8V109.1M150.10 100.8V109.5M151.65 100.8V109.4M153.20 100.8V109.4M154.75 100.8V109.2M156.30 100.8V109.2M157.85 100.8V109.0M159.40 100.8V109.0M160.95 100.8V108.9M162.50 100.8V109.2M164.05 100.8V109.3M165.60 100.8V109.3M167.15 100.8V109.2M168.70 100.8V109.3M170.25 100.8V109.4M171.80 100.8V109.5M173.35 100.8V109.1M174.90 100.8V109.3M176.45 100.8V109.4M178.00 100.8V109.3M179.55 100.8V109.0M181.10 100.8V109.4M182.65 100.8V109.0M184.20 100.8V109.5M185.75 100.8V108.9M187.30 100.8V108.9M188.85 100.8V109.2M190.40 100.8V108.9M191.95 100.8V109.5M193.50 100.8V109.2M195.05 100.8V109.0M196.60 100.8V109.2M198.15 100.8V109.0M199.70 100.8V108.9M201.25 100.8V109.5M202.80 100.8V109.2M204.35 100.8V108.9M205.90 100.8V109.0M207.45 100.8V109.0M209.00 100.8V109.3M210.55 100.8V109.4M212.10 100.8V109.1M213.65 100.8V109.5M215.20 100.8V109.4M216.75 100.8V109.2M218.30 100.8V109.4M219.85 100.8V109.4M221.40 100.8V109.5M222.95 100.8V109.4M224.50 100.8V109.3M226.05 100.8V109.4" stroke="#5a5a5a" stroke-width="1" stroke-dasharray="1.2 0.4" fill="none"/>
<path d="M134.60 111.2V117.4M136.15 111.2V116.2M137.70 111.2V116.7M139.25 111.2V114.2M140.80 111.2V114.2M142.35 111.2V114.7M143.90 111.2V117.4M145.45 111.2V116.2M147.00 111.2V116.2M148.55 111.2V115.7M150.10 111.2V114.2M151.65 111.2V116.2M153.20 111.2V116.2M154.75 111.2V114.2M156.30 111.2V114.2M157.85 111.2V117.4M159.40 111.2V116.7M160.95 111.2V116.7M162.50 111.2V114.7M164.05 111.2V116.7M165.60 111.2V116.2M167.15 111.2V116.2M168.70 111.2V114.2M170.25 111.2V116.2M171.80 111.2V116.7M173.35 111.2V116.7M176.45 111.2V117.4M178.00 111.2V115.7M179.55 111.2V114.7M181.10 111.2V114.7M182.65 111.2V117.4M184.20 111.2V117.4M185.75 111.2V114.7M187.30 111.2V115.7M188.85 111.2V114.7M190.40 111.2V116.7M191.95 111.2V117.4M193.50 111.2V114.2M195.05 111.2V114.2M196.60 111.2V114.2M198.15 111.2V114.7M199.70 111.2V116.2M201.25 111.2V117.4M202.80 111.2V114.2M204.35 111.2V115.7M205.90 111.2V116.7M207.45 111.2V116.2M209.00 111.2V115.7M210.55 111.2V116.2M213.65 111.2V117.4M216.75 111.2V114.7M218.30 111.2V114.2M219.85 111.2V114.7M221.40 111.2V115.7M222.95 111.2V115.7M224.50 111.2V116.7M226.05 111.2V116.2" stroke="#505050" stroke-width="0.95" stroke-dasharray="1 0.45" fill="none"/>
<path d="M320.50 92.6V97.0M322.10 92.6V97.0M323.70 92.6V97.0M325.30 92.6V97.0M326.90 92.6V97.0M328.50 92.6V97.0M330.10 92.6V97.0M331.70 92.6V97.0M333.30 92.6V97.0M334.90 92.6V97.0M336.50 92.6V97.0M338.10 92.6V97.0M339.70 92.6V97.0M341.30 92.6V97.0M342.90 92.6V97.0M344.50 92.6V97.0M346.10 92.6V97.0M347.70 92.6V97.0M349.30 92.6V97.0M350.90 92.6V97.0M352.50 92.6V97.0M354.10 92.6V97.0M355.70 92.6V97.0M357.30 92.6V97.0M358.90 92.6V97.0M360.50 92.6V97.0M362.10 92.6V97.0M363.70 92.6V97.0M365.30 92.6V97.0M366.90 92.6V97.0M368.50 92.6V97.0M370.10 92.6V97.0M371.70 92.6V97.0M373.30 92.6V97.0M374.90 92.6V97.0M376.50 92.6V97.0M378.10 92.6V97.0M379.70 92.6V97.0M381.30 92.6V97.0M382.90 92.6V97.0M384.50 92.6V97.0M386.10 92.6V97.0M387.70 92.6V97.0M389.30 92.6V97.0M390.90 92.6V97.0M392.50 92.6V97.0M394.10 92.6V97.0M395.70 92.6V97.0M397.30 92.6V97.0M398.90 92.6V97.0M400.50 92.6V97.0M402.10 92.6V97.0M403.70 92.6V97.0M405.30 92.6V97.0M406.90 92.6V97.0M408.50 92.6V97.0M410.10 92.6V97.0M411.70 92.6V97.0M413.30 92.6V97.0M414.90 92.6V97.0M416.50 92.6V97.0M320.50 97.6V101.9M322.10 97.6V101.6M323.70 97.6V101.7M325.30 97.6V102.0M326.90 97.6V101.8M328.50 97.6V101.8M330.10 97.6V101.9M331.70 97.6V101.8M333.30 97.6V101.9M334.90 97.6V101.5M336.50 97.6V101.6M338.10 97.6V102.0M339.70 97.6V101.7M341.30 97.6V101.5M342.90 97.6V101.7M344.50 97.6V101.7M346.10 97.6V101.8M347.70 97.6V101.9M349.30 97.6V101.7M350.90 97.6V101.5M352.50 97.6V101.7M354.10 97.6V101.8M355.70 97.6V102.0M357.30 97.6V102.0M358.90 97.6V101.6M360.50 97.6V101.8M362.10 97.6V101.8M363.70 97.6V102.0M365.30 97.6V101.6M366.90 97.6V101.6M368.50 97.6V101.6M370.10 97.6V101.6M371.70 97.6V101.7M373.30 97.6V101.8M374.90 97.6V101.6M376.50 97.6V101.5M378.10 97.6V101.9M379.70 97.6V101.6M381.30 97.6V102.0M382.90 97.6V101.6M384.50 97.6V101.5M386.10 97.6V101.9M387.70 97.6V101.7M389.30 97.6V101.8M390.90 97.6V101.6M392.50 97.6V101.7M394.10 97.6V101.9M395.70 97.6V101.8M397.30 97.6V101.9M398.90 97.6V101.7M400.50 97.6V102.0M402.10 97.6V101.5M403.70 97.6V102.0M405.30 97.6V101.8M406.90 97.6V101.9M408.50 97.6V101.9M410.10 97.6V101.9M411.70 97.6V101.8M413.30 97.6V101.7M414.90 97.6V101.8M416.50 97.6V101.9" stroke="#bababa" stroke-width="1.4" stroke-dasharray="1.5 0.25" fill="none"/>
<path d="M320.50 104.4V107.6M322.10 104.4V107.6M323.70 104.4V107.6M325.30 104.4V107.6M326.90 104.4V107.6M328.50 104.4V107.6M330.10 104.4V107.6M331.70 104.4V107.6M333.30 104.4V107.6M334.90 104.4V107.6M336.50 104.4V107.6M338.10 104.4V107.6M339.70 104.4V107.6M341.30 104.4V107.6M342.90 104.4V107.6M344.50 104.4V107.6M346.10 104.4V107.6M347.70 104.4V107.6M349.30 104.4V107.6M350.90 104.4V107.6M352.50 104.4V107.6M354.10 104.4V107.6M355.70 104.4V107.6M357.30 104.4V107.6M358.90 104.4V107.6M360.50 104.4V107.6M362.10 104.4V107.6M363.70 104.4V107.6M365.30 104.4V107.6M366.90 104.4V107.6M368.50 104.4V107.6M370.10 104.4V107.6M371.70 104.4V107.6M373.30 104.4V107.6M374.90 104.4V107.6M376.50 104.4V107.6M378.10 104.4V107.6M379.70 104.4V107.6M381.30 104.4V107.6M382.90 104.4V107.6M384.50 104.4V107.6M386.10 104.4V107.6M387.70 104.4V107.6M389.30 104.4V107.6M390.90 104.4V107.6M392.50 104.4V107.6M394.10 104.4V107.6M395.70 104.4V107.6M397.30 104.4V107.6M398.90 104.4V107.6M400.50 104.4V107.6M402.10 104.4V107.6M403.70 104.4V107.6M405.30 104.4V107.6M406.90 104.4V107.6M408.50 104.4V107.6M410.10 104.4V107.6M411.70 104.4V107.6M413.30 104.4V107.6M414.90 104.4V107.6M416.50 104.4V107.6" stroke="#b6b6b6" stroke-width="1.4" stroke-dasharray="1.3 0.3" fill="none"/>
<path d="M328.50 107.6V109.1M331.70 107.6V110.2M336.50 107.6V110.8M341.30 107.6V110.8M342.90 107.6V108.6M344.50 107.6V109.1M346.10 107.6V110.2M347.70 107.6V108.6M350.90 107.6V108.6M354.10 107.6V110.2M355.70 107.6V110.2M357.30 107.6V110.8M360.50 107.6V110.2M362.10 107.6V108.6M363.70 107.6V109.6M371.70 107.6V110.2M376.50 107.6V109.6M379.70 107.6V109.1M381.30 107.6V110.2M382.90 107.6V108.6M384.50 107.6V110.2M386.10 107.6V110.8M387.70 107.6V108.6M389.30 107.6V109.1M390.90 107.6V109.1M392.50 107.6V110.2M394.10 107.6V110.2M397.30 107.6V110.2M398.90 107.6V109.1M403.70 107.6V108.6M405.30 107.6V110.2M406.90 107.6V110.8M410.10 107.6V108.6M411.70 107.6V110.2M413.30 107.6V109.1M416.50 107.6V110.8" stroke="#8c8c8c" stroke-width="1" stroke-dasharray="0.9 0.5" fill="none"/>
<path d="M228 16.60H231.7M228 17.77H232.3M228 18.94H232.3M228 20.11H231.9M228 21.28H232.2M228 22.45H231.8M228 23.62H231.9M228 24.79H231.8M228 25.96H232.1M228 27.13H232.1M228 28.30H231.8M228 29.47H232.3M228 30.64H231.9M228 31.81H232.1M228 32.98H232.3M228 34.15H231.9M228 35.32H232.2M228 36.49H231.7M228 37.66H232.1M228 38.83H231.9M228 40.00H232.3M228 41.17H232.2M228 42.34H232.1M228 43.51H231.9M228 44.68H231.9M228 45.85H232.2M228 47.02H231.8M228 48.19H231.9M228 49.36H231.8M228 50.53H232.0M228 51.70H231.7M228 52.87H231.7M228 54.04H231.8M228 55.21H232.1M228 56.38H231.9M228 57.55H231.9M228 58.72H231.7M228 59.89H231.8M228 61.06H231.7M228 62.23H231.8M228 63.40H231.8M228 64.57H232.3M228 65.74H232.2M228 66.91H231.8M228 68.08H232.2M228 69.25H232.0M228 70.42H232.3M228 71.59H232.2M228 72.76H231.7M228 73.93H231.8M228 75.10H232.2M228 76.27H232.0M228 77.44H231.8M228 78.61H231.9M228 79.78H232.0M228 80.95H232.0M228 82.12H232.0M228 83.29H232.3M228 84.46H231.9M228 85.63H231.9M228 86.80H231.7M228 87.97H232.1M228 89.14H231.9M228 90.31H232.0M228 91.48H232.2M228 92.65H231.9M228 93.82H232.0M228 94.99H232.1M228 96.16H232.0M228 97.33H232.1" stroke="#8a8a8a" stroke-width="0.9" stroke-dasharray="1.3 0.5 0.8 0.4" fill="none"/>
<path d="M233 16.60H235.9M233 17.77H236.3M233 18.94H235.9M233 20.11H236.1M233 21.28H236.9M233 22.45H236.3M233 23.62H236.4M233 24.79H236.6M233 25.96H236.6M233 27.13H236.2M233 28.30H236.9M233 29.47H236.4M233 30.64H236.8M233 31.81H236.9M233 32.98H236.4M233 34.15H236.2M233 35.32H236.9M233 36.49H236.4M233 37.66H236.2M233 38.83H236.4M233 40.00H236.0M233 41.17H237.0M233 42.34H236.4M233 43.51H236.8M233 44.68H236.4M233 45.85H236.0M233 47.02H235.9M233 48.19H236.7M233 49.36H235.9M233 50.53H235.9M233 51.70H236.5M233 52.87H235.9M233 54.04H237.0M233 55.21H236.3M233 56.38H236.1M233 57.55H236.8M233 58.72H236.4M233 59.89H236.8M233 61.06H236.3M233 62.23H236.1M233 63.40H236.6M233 64.57H236.5M233 65.74H236.4M233 66.91H236.6M233 68.08H237.0M233 69.25H236.3M233 70.42H236.2M233 71.59H236.9M233 72.76H236.4M233 73.93H236.4M233 75.10H236.7M233 76.27H236.2M233 77.44H236.1M233 78.61H236.7M233 79.78H236.5M233 80.95H236.7M233 82.12H236.4M233 83.29H236.0M233 84.46H236.0M233 85.63H236.1M233 86.80H236.5M233 87.97H237.0M233 89.14H236.3M233 90.31H235.8M233 91.48H236.7M233 92.65H236.0M233 93.82H236.9M233 94.99H236.0M233 96.16H236.4M233 97.33H236.2" stroke="#a0a4be" stroke-width="0.9" stroke-dasharray="0.9 0.5 1.4 0.4" fill="none"/>
<rect x="241.2" y="16.4" width="3.8" height="82" fill="url(#gA)"/>
<rect x="244.4" y="16.4" width="9.1" height="82.9" rx="1.2" fill="#1a1208"/>
<rect x="244.8" y="17.2" width="7.9" height="31.6" rx="0.6" fill="#ff1c1c"/>
<rect x="244.8" y="49.6" width="7.9" height="48.9" rx="0.6" fill="#24f52a"/>
<path d="M252.8 33.3h7.4M252.8 74.1h7.4" stroke="#0a0a0a" stroke-width="1.2"/>
<text x="263.9" y="33.3" textLength="47.9" font-size="8.5" fill="#222" stroke="#222" stroke-width="0.12" lengthAdjust="spacingAndGlyphs">CR after first</text>
<text x="263.9" y="43.7" textLength="36.4" font-size="8.5" fill="#222" stroke="#222" stroke-width="0.12" lengthAdjust="spacingAndGlyphs">induction</text>
<text x="263.9" y="76.5" textLength="23" font-size="8.5" fill="#222" stroke="#222" stroke-width="0.12" lengthAdjust="spacingAndGlyphs">No CR</text>
<rect x="428.8" y="16.2" width="4.8" height="74.9" fill="#0a0a0a"/>
<rect x="429.2" y="16.5" width="4.1" height="13.8" fill="#3ee043"/>
<rect x="429.2" y="52.7" width="4.1" height="30" fill="#e21616"/>
<rect x="429.2" y="82.9" width="4.1" height="7.9" fill="#c81212"/>
<path d="M433.4 23.8h2.4M433.4 41.1h2.4M433.4 63.3h2.4M433.4 83.4h2.4" stroke="#111" stroke-width="0.9"/>
<text x="438.2" y="29.4" font-size="9.1" font-weight="bold" textLength="4.5" lengthAdjust="spacingAndGlyphs" fill="#151515">1</text>
<text x="438.2" y="47.5" font-size="9.1" font-weight="bold" textLength="4.5" lengthAdjust="spacingAndGlyphs" fill="#151515">2</text>
<text x="438.2" y="70.0" font-size="9.1" font-weight="bold" textLength="4.5" lengthAdjust="spacingAndGlyphs" fill="#151515">3</text>
<text x="438.2" y="88.4" font-size="9.1" font-weight="bold" textLength="4.5" lengthAdjust="spacingAndGlyphs" fill="#151515">4</text>
<rect x="448.1" y="17.7" width="51.5" height="73.1" fill="#fff" stroke="#c4c4c4" stroke-width="0.7"/>
<path d="M450.6 21.5H451.5V24.4H453.1V28.3H458.7V28.3H458.7V36.3H497.3V36.3H497.3V36.3" fill="none" stroke="#e27878" stroke-width="0.90"/>
<path d="M450.6 21.5H451.5V25.4H452.7V29.2H453.8V34.0H454.8V38.8H456.9V38.8H456.9V44.2H478.5V44.2H478.5V44.2" fill="none" stroke="#b23c3c" stroke-width="1.00"/>
<path d="M450.6 21.5H451.2V31.2H451.9V40.8H452.7V50.4H453.7V60.0H454.6V67.7H455.8V72.9H477.1V72.9H477.1V72.9" fill="none" stroke="#444" stroke-width="1.00"/>
<path d="M450.6 21.5H451.0V33.1H451.7V44.6H452.5V56.2H453.5V65.8H454.4V73.5H455.8V78.8H492.3V78.8H492.3V78.8" fill="none" stroke="#5ce07c" stroke-width="1.00"/>
<path d="M448.1 21.5h-1.2" stroke="#bbb" stroke-width="0.5"/>
<text x="446.7" y="22.3" font-size="2.4" fill="#aaa" text-anchor="end">0.0</text>
<path d="M448.1 34.4h-1.2" stroke="#bbb" stroke-width="0.5"/>
<text x="446.7" y="35.2" font-size="2.4" fill="#aaa" text-anchor="end">0.0</text>
<path d="M448.1 47.5h-1.2" stroke="#bbb" stroke-width="0.5"/>
<text x="446.7" y="48.3" font-size="2.4" fill="#aaa" text-anchor="end">0.0</text>
<path d="M448.1 60.4h-1.2" stroke="#bbb" stroke-width="0.5"/>
<text x="446.7" y="61.2" font-size="2.4" fill="#aaa" text-anchor="end">0.0</text>
<path d="M448.1 73.5h-1.2" stroke="#bbb" stroke-width="0.5"/>
<text x="446.7" y="74.3" font-size="2.4" fill="#aaa" text-anchor="end">0.0</text>
<path d="M448.1 86.3h-1.2" stroke="#bbb" stroke-width="0.5"/>
<text x="446.7" y="87.1" font-size="2.4" fill="#aaa" text-anchor="end">0.0</text>
<path d="M450.6 90.8v1.2" stroke="#bbb" stroke-width="0.5"/>
<text x="450.6" y="94.6" font-size="2.8" fill="#777" text-anchor="middle">0</text>
<path d="M462.5 90.8v1.2" stroke="#bbb" stroke-width="0.5"/>
<text x="462.5" y="94.6" font-size="2.8" fill="#777" text-anchor="middle">50</text>
<path d="M474.2 90.8v1.2" stroke="#bbb" stroke-width="0.5"/>
<text x="474.2" y="94.6" font-size="2.8" fill="#777" text-anchor="middle">100</text>
<path d="M486.2 90.8v1.2" stroke="#bbb" stroke-width="0.5"/>
<text x="486.2" y="94.6" font-size="2.8" fill="#777" text-anchor="middle">150</text>
<path d="M497.7 90.8v1.2" stroke="#bbb" stroke-width="0.5"/>
<text x="497.7" y="94.6" font-size="2.8" fill="#777" text-anchor="middle">200</text>
<text x="474" y="98.8" font-size="2.9" fill="#444" text-anchor="middle" font-weight="bold">Overall survival (months)</text>
<text x="463.6" y="62.2" font-size="9.8" textLength="36.2" lengthAdjust="spacingAndGlyphs" fill="#222" stroke="#222" stroke-width="0.1">p=0.0004</text>
<path d="M503.6 25.8l1 -1.7h1.5" stroke="#5ce07c" stroke-width="0.5" fill="none"/>
<text x="506.4" y="26.0" font-size="3" textLength="10.4" lengthAdjust="spacingAndGlyphs" fill="#555" font-weight="bold">Cluster 1</text>
<path d="M503.6 30.0l1 -1.7h1.5" stroke="#444" stroke-width="0.5" fill="none"/>
<text x="506.4" y="30.2" font-size="3" textLength="10.4" lengthAdjust="spacingAndGlyphs" fill="#555" font-weight="bold">Cluster 2</text>
<path d="M503.6 34.2l1 -1.7h1.5" stroke="#b23c3c" stroke-width="0.5" fill="none"/>
<text x="506.4" y="34.4" font-size="3" textLength="10.4" lengthAdjust="spacingAndGlyphs" fill="#555" font-weight="bold">Cluster 3</text>
<path d="M503.6 38.3l1 -1.7h1.5" stroke="#e27878" stroke-width="0.5" fill="none"/>
<text x="506.4" y="38.5" font-size="3" textLength="10.4" lengthAdjust="spacingAndGlyphs" fill="#555" font-weight="bold">Cluster 4</text>
</svg></body></html>
